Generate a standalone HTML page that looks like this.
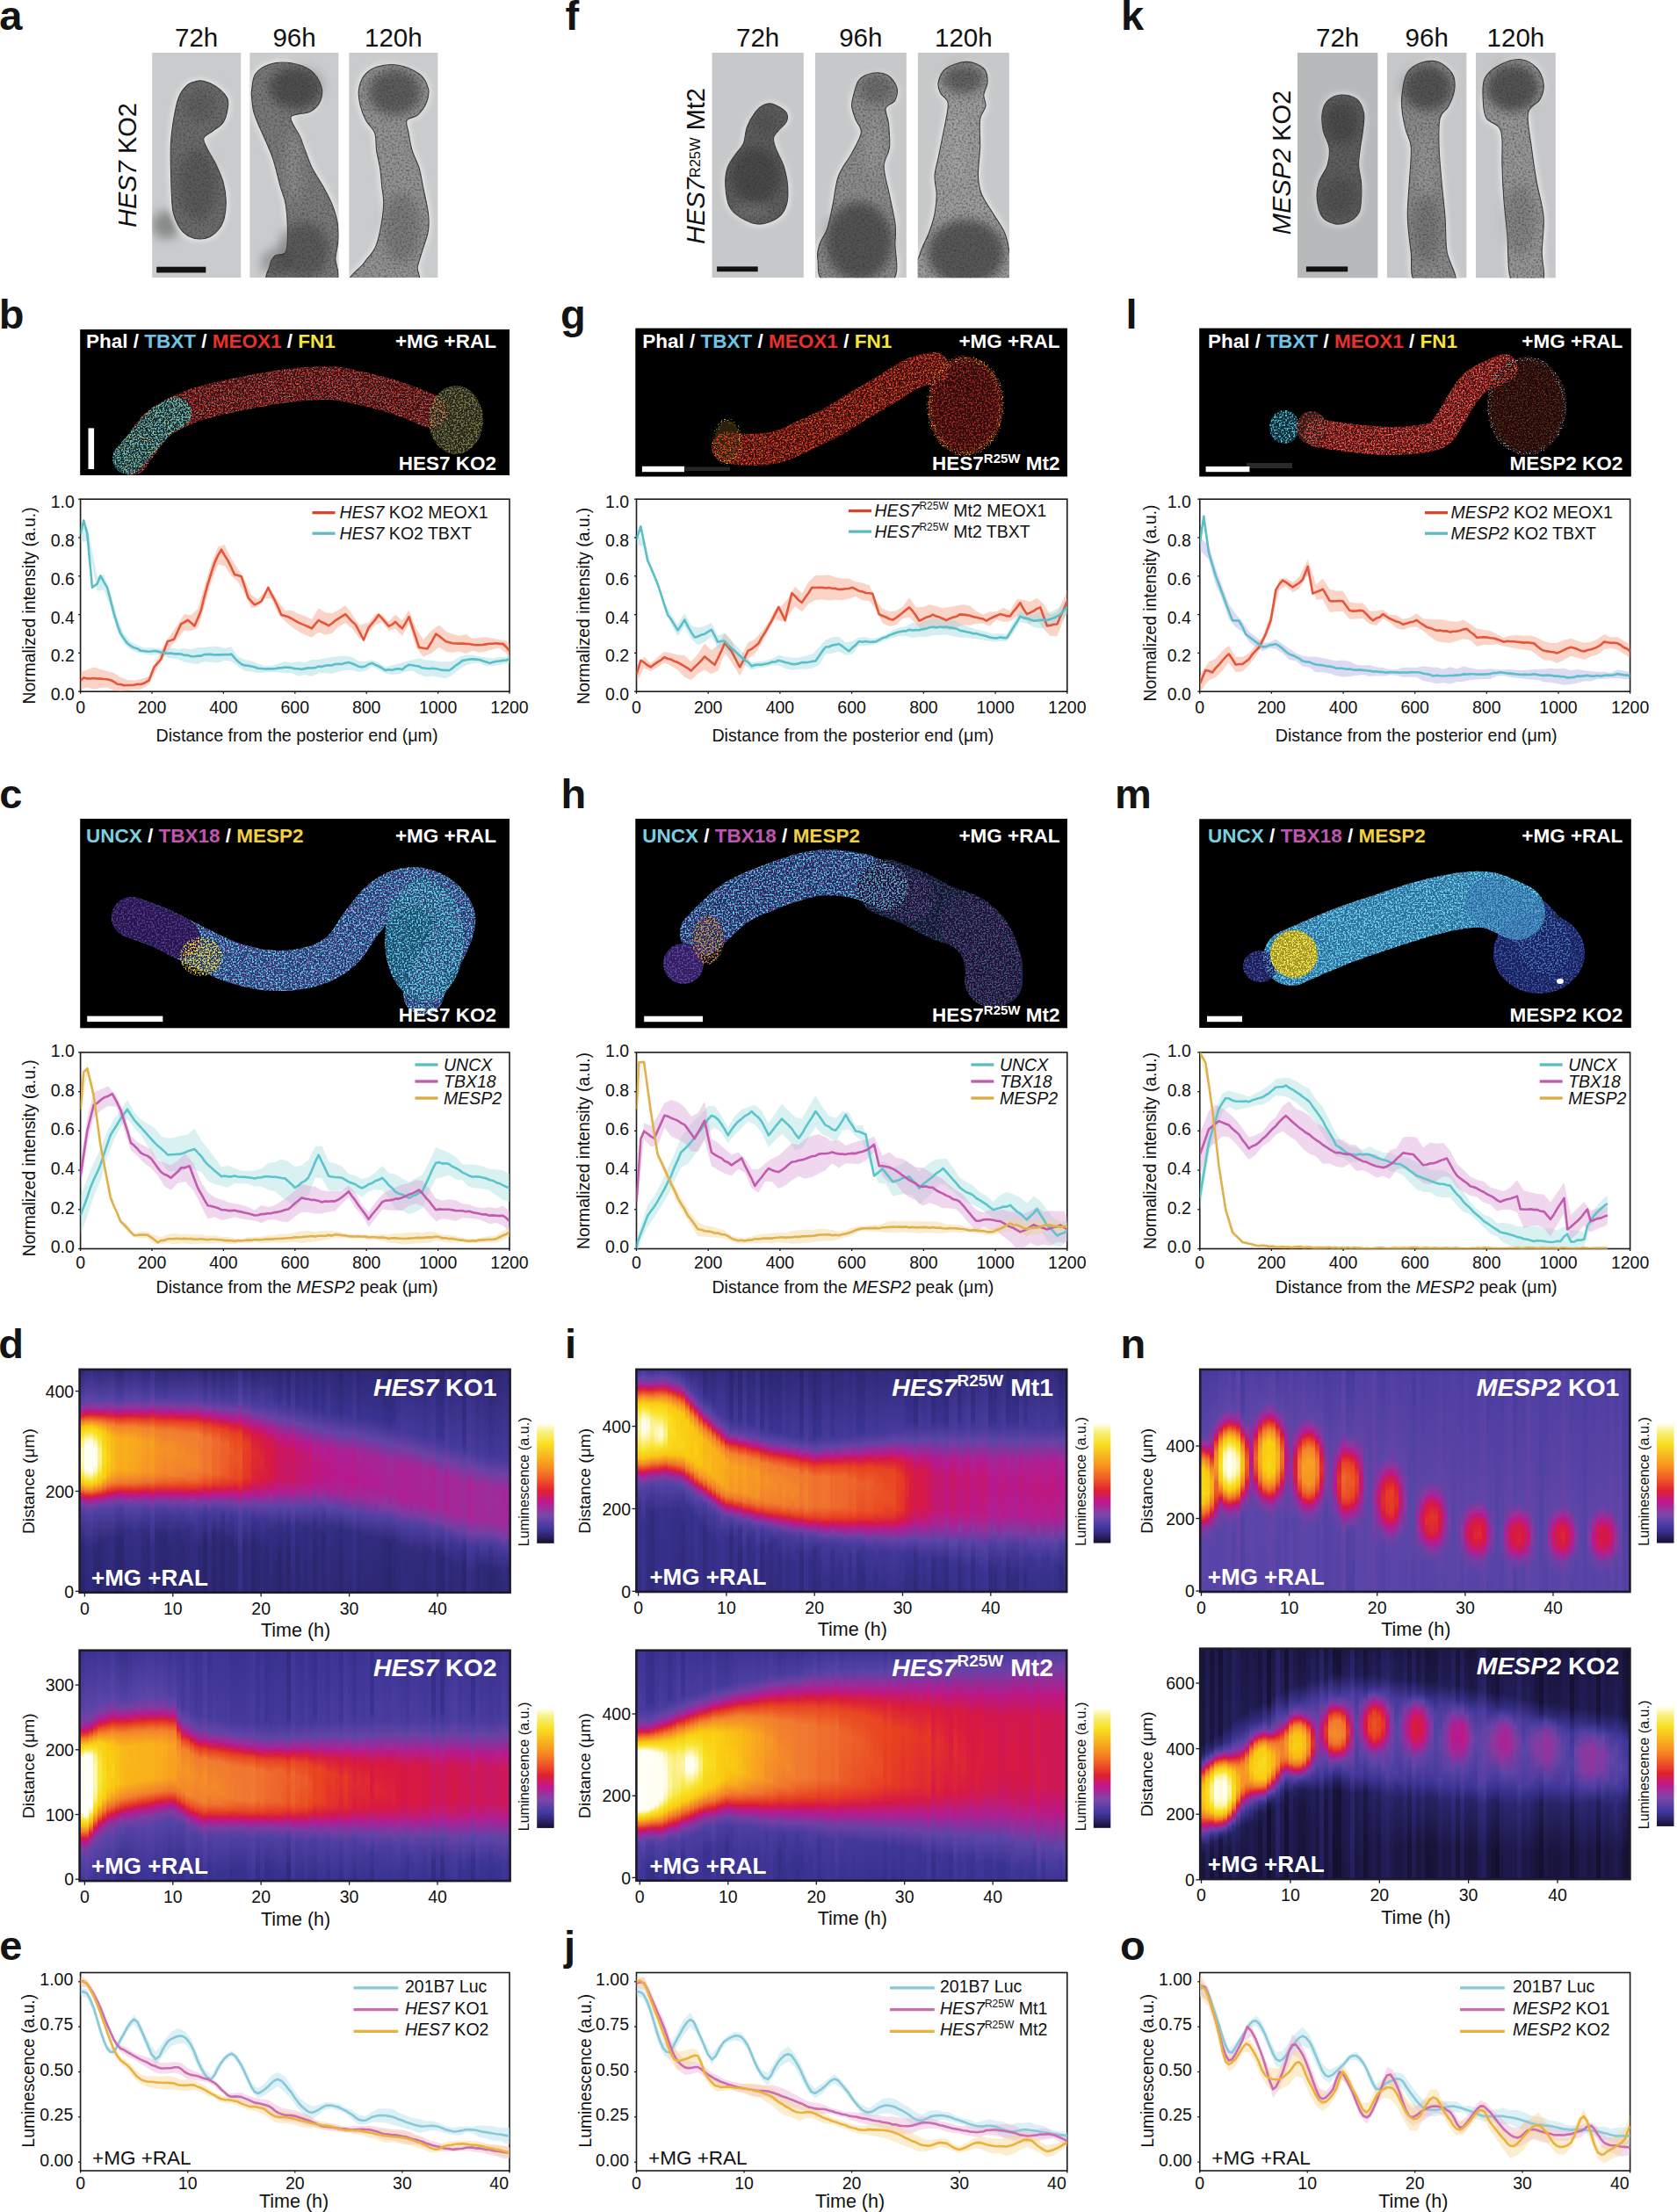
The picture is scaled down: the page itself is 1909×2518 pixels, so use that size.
<!DOCTYPE html><html><head><meta charset="utf-8"><style>html,body{margin:0;padding:0;background:#fff}body{width:1909px;height:2518px;position:relative;overflow:hidden}.hm{position:absolute;overflow:hidden}.hm i{position:absolute;top:0;bottom:0;display:block}svg{position:absolute;left:0;top:0}text{font-family:'Liberation Sans', Arial, sans-serif}</style></head><body><div class="hm" style="left:91.2px;top:1559.5px;width:488.8px;height:252.7px"><i style="left:0px;width:5.6px;background:linear-gradient(#2e2975 0%,#5342a4 13.5%,#7d3ca2 16.6%,#ba188c 19%,#db203a 20.6%,#e73c23 21.4%,#f07830 23%,#faca11 26.1%,#f8e429 29.3%,#fbef78 31.7%,#fdf7b5 35.6%,#fdf9c4 40.4%,#fcf49e 44.3%,#faec62 46.7%,#f8e327 48.3%,#f9bf15 51.4%,#f17e2e 53.8%,#e84321 55.4%,#dd2536 56.2%,#bb1888 57.8%,#7a3da3 60.2%,#4f40a2 63.3%,#2d2874 78.4%,#29256b 99.7%)"></i><i style="left:5px;width:5.6px;background:linear-gradient(#332d81 0%,#5b46a8 13.5%,#9d2c9a 17.4%,#b21c92 18.2%,#d51847 19.8%,#e2302d 20.6%,#ea4d24 21.4%,#f3852b 23%,#fac712 25.3%,#f8e125 27.7%,#fcf5a8 30.9%,#fffff5 34%,#fffff5 44.3%,#fdf6b2 46.7%,#f9e639 49.1%,#f9d81b 50.7%,#f9bb16 52.2%,#ef742f 54.6%,#e33529 56.2%,#d71841 57%,#b11d92 58.6%,#763ea4 60.9%,#5241a3 64.1%,#312b7d 79.9%,#2e2975 99.7%)"></i><i style="left:10px;width:5.6px;background:linear-gradient(#352e85 0%,#6044a7 13.5%,#91349e 16.6%,#b9188e 18.2%,#d91c3d 19.8%,#e53827 20.6%,#f48a29 23%,#facc10 25.3%,#f8e327 27.7%,#fcf49f 30.1%,#fffef0 32.4%,#fffff5 45.1%,#fffeeb 45.9%,#fbef7f 48.3%,#f8e226 49.9%,#f9bf15 52.2%,#f07830 54.6%,#e53925 56.2%,#d91c3d 57%,#b61991 58.6%,#7a3da3 60.9%,#5443a5 64.1%,#322c80 80.7%,#302a79 99.7%)"></i><i style="left:15px;width:5.6px;background:linear-gradient(#302b7b 0%,#5945a7 13.5%,#8c38a0 16.6%,#b31b92 18.2%,#d61844 19.8%,#ea4d24 21.4%,#f69724 23.7%,#facf13 26.1%,#f8e226 28.5%,#fdf6b0 32.4%,#fffff5 35.6%,#fffff5 42.7%,#fcf5a6 45.9%,#f9e63b 48.3%,#f9da1d 49.9%,#fac513 51.4%,#ee682b 54.6%,#e94923 55.4%,#e02b31 56.2%,#d21850 57%,#c0187d 57.8%,#ab2295 58.6%,#7040a4 60.9%,#4e3fa1 64.1%,#2d2875 81.5%,#2b2770 99.7%)"></i><i style="left:20px;width:5.6px;background:linear-gradient(#2e2976 0%,#5644a6 13.5%,#8939a1 16.6%,#b01e93 18.2%,#d3184c 19.8%,#e94622 21.4%,#f17c2f 23%,#fad013 26.9%,#f8e42b 30.9%,#fbee75 34.8%,#fcf292 39.6%,#fbee72 43.5%,#f8e327 46.7%,#fac214 50.7%,#ef742f 53.8%,#e63a24 55.4%,#db1e3b 56.2%,#b9188d 57.8%,#7a3da3 60.2%,#4f40a2 63.3%,#2d2873 78.4%,#29256a 99.7%)"></i><i style="left:25px;width:5.6px;background:linear-gradient(#312b7c 0%,#5443a5 12.7%,#7b3da3 15.8%,#b11d92 18.2%,#d2184f 19.8%,#e84020 21.4%,#f3852b 23.7%,#facb11 27.7%,#f8e023 38.8%,#face11 48.3%,#f0752f 53%,#e84221 54.6%,#d21850 56.2%,#af1f93 57.8%,#763ea4 60.2%,#5040a2 63.3%,#302b7b 77.6%,#2d2873 99.7%)"></i><i style="left:30px;width:5.6px;background:linear-gradient(#312c7e 0%,#5543a5 12.7%,#7c3da3 15.8%,#af1e93 18.2%,#dc2139 20.6%,#e53826 21.4%,#f3872a 24.5%,#fac214 29.3%,#fad013 40.4%,#f9c114 46.7%,#f2822c 51.4%,#e94421 53.8%,#d61844 55.4%,#b81890 57%,#7e3ca2 59.4%,#5342a4 62.5%,#322c7f 76%,#2e2976 99.7%)"></i><i style="left:35px;width:5.6px;background:linear-gradient(#332d81 0%,#5644a6 12.7%,#8e379f 16.6%,#b01e93 18.2%,#db1f3a 20.6%,#e94a23 22.2%,#f2802d 24.5%,#f9b917 30.1%,#f9bd16 44.3%,#f58f27 49.9%,#ed642a 52.2%,#e53925 53.8%,#d11852 55.4%,#b21c92 57%,#7c3ca3 59.4%,#5342a4 62.5%,#332d81 76%,#302a7a 99.7%)"></i><i style="left:40px;width:5.6px;background:linear-gradient(#2c2772 0%,#4e3fa1 12.7%,#723fa4 15.8%,#b9188c 19%,#d61846 20.6%,#e83f21 22.2%,#f2832b 25.3%,#f9b01a 30.9%,#f9ae1b 45.1%,#f17b2f 50.7%,#e84321 53%,#d81840 54.6%,#bb1889 56.2%,#7040a4 59.4%,#4b3d9f 62.5%,#2c2872 76%,#29256b 99.7%)"></i><i style="left:45px;width:5.6px;background:linear-gradient(#2c2771 0%,#4d3ea0 12.7%,#723fa4 15.8%,#b9188e 19%,#d51848 20.6%,#e73d22 22.2%,#f2812c 25.3%,#f9ac1c 30.9%,#f8aa1c 45.1%,#f07830 50.7%,#e84120 53%,#d71843 54.6%,#ba188b 56.2%,#6f40a5 59.4%,#4a3c9e 62.5%,#2c2772 76%,#29256b 99.7%)"></i><i style="left:50px;width:5.6px;background:linear-gradient(#312b7d 0%,#5443a5 12.7%,#8c38a0 16.6%,#ae1f94 18.2%,#cc185e 19.8%,#d91b3e 20.6%,#e84321 22.2%,#f2842b 25.3%,#f9af1b 30.9%,#f9ac1c 45.1%,#f17b2f 50.7%,#e94622 53%,#da1d3c 54.6%,#bf187f 56.2%,#9b2d9b 57.8%,#5644a6 61.7%,#342e85 72.8%,#2f2978 99.7%)"></i><i style="left:55px;width:5.6px;background:linear-gradient(#312b7c 0%,#5342a4 12.7%,#8b38a0 16.6%,#ad2094 18.2%,#cb1861 19.8%,#d8193f 20.6%,#e84120 22.2%,#f2812c 25.3%,#f8aa1c 30.9%,#f8a81d 45.1%,#f07830 50.7%,#e84321 53%,#d91b3e 54.6%,#be1882 56.2%,#8839a1 58.6%,#5543a5 61.7%,#342d83 72.8%,#2e2976 99.7%)"></i><i style="left:60px;width:5.6px;background:linear-gradient(#332d82 0%,#5744a6 12.7%,#90359f 16.6%,#b11d92 18.2%,#da1c3c 20.6%,#e84321 22.2%,#f2822c 25.3%,#f8a91d 30.9%,#f8a71d 45.1%,#f07930 50.7%,#e94521 53%,#da1d3c 54.6%,#b01e93 57%,#7c3ca2 59.4%,#5342a4 62.5%,#342e84 75.2%,#312b7d 99.7%)"></i><i style="left:65px;width:5.6px;background:linear-gradient(#322c7f 0%,#5543a5 12.7%,#8d37a0 16.6%,#af1e93 18.2%,#cc185f 19.8%,#d9193f 20.6%,#e84020 22.2%,#f3872a 26.1%,#f8a71e 32.4%,#f89e21 45.9%,#ef742f 50.7%,#e84120 53%,#d91a3f 54.6%,#be1881 56.2%,#9b2d9b 57.8%,#5744a6 61.7%,#362f88 72%,#302a79 97.3%,#302a79 99.7%)"></i><i style="left:70px;width:5.6px;background:linear-gradient(#2f2977 0%,#4c3ea0 11.9%,#783da3 15.8%,#bb1887 19%,#d51846 20.6%,#e63a25 22.2%,#f2812c 26.1%,#f8a020 32.4%,#f69823 45.9%,#ee6c2d 50.7%,#e63a24 53%,#d51847 54.6%,#bb188a 56.2%,#743fa4 59.4%,#4d3ea0 62.5%,#302b7b 74.4%,#2d2872 99.7%)"></i><i style="left:75px;width:5.6px;background:linear-gradient(#2e2976 0%,#5040a2 12.7%,#783ea3 15.8%,#bb1889 19%,#d51849 20.6%,#e53827 22.2%,#f17e2d 26.1%,#f79c22 32.4%,#f69425 45.9%,#f0762f 49.9%,#e53827 53%,#d4184a 54.6%,#ba188c 56.2%,#733fa4 59.4%,#4c3ea0 62.5%,#2f2a78 75.2%,#2c2771 99.7%)"></i><i style="left:80px;width:5.6px;background:linear-gradient(#362f88 0%,#5643a5 11.9%,#873aa1 15.8%,#b61991 18.2%,#da1e3b 20.6%,#e84220 22.2%,#f2842b 26.1%,#f8a020 32.4%,#f79923 45.9%,#ef702e 50.7%,#e84120 53%,#da1c3c 54.6%,#b31b92 57%,#733fa4 60.2%,#4e3fa1 64.1%,#352e86 79.1%,#342e84 99.7%)"></i><i style="left:85px;width:5.6px;background:linear-gradient(#2e2976 0%,#4b3d9f 11.9%,#783da3 15.8%,#bb1889 19%,#dd2337 21.4%,#e94522 23%,#f2802d 26.9%,#f69624 34%,#f48b29 46.7%,#ed632a 50.7%,#e43529 53%,#d3184c 54.6%,#ba188c 56.2%,#743fa4 59.4%,#4c3ea0 62.5%,#2f2a79 74.4%,#2c2771 99.7%)"></i><i style="left:90px;width:5.6px;background:linear-gradient(#2c2872 0%,#4e3fa1 12.7%,#763ea4 15.8%,#b9188e 19%,#db203a 21.4%,#e84220 23%,#f17d2e 26.9%,#f59325 35.6%,#f3882a 46.7%,#ed6029 50.7%,#e84321 52.2%,#d2184f 54.6%,#b9188e 56.2%,#723fa4 59.4%,#4b3d9f 62.5%,#2d2874 75.2%,#2b266e 99.7%)"></i><i style="left:95px;width:5.6px;background:linear-gradient(#2b2770 0%,#483b9d 11.9%,#6643a6 15%,#a52697 18.2%,#b71990 19%,#da1d3c 21.4%,#e73e21 23%,#f07a2f 26.9%,#f59026 34.8%,#f3852b 46.7%,#ec5e28 50.7%,#e84120 52.2%,#d11852 54.6%,#b81890 56.2%,#7140a4 59.4%,#4a3c9e 62.5%,#2c2872 75.2%,#2a256c 99.7%)"></i><i style="left:100px;width:5.6px;background:linear-gradient(#2f2978 0%,#4c3ea0 11.9%,#783ea3 15.8%,#ba188b 19%,#dc2139 21.4%,#e84120 23%,#f17c2f 26.9%,#f59126 34.8%,#f3872a 46.7%,#ed6129 50.7%,#e43529 53%,#d4184a 54.6%,#bb1888 56.2%,#6942a6 60.2%,#3f3698 65.7%,#2e2976 79.1%,#2d2874 99.7%)"></i><i style="left:105px;width:5.6px;background:linear-gradient(#2f2a78 0%,#5040a2 12.7%,#863aa1 16.6%,#b8188f 19%,#da1e3b 21.4%,#e83f21 23%,#f07a2f 26.9%,#f59027 35.6%,#f2812c 47.5%,#eb5325 51.4%,#e33429 53%,#d4184a 54.6%,#bb1887 56.2%,#783ea3 59.4%,#4f3fa1 62.5%,#312b7d 73.6%,#2d2874 99.7%)"></i><i style="left:110px;width:5.6px;background:linear-gradient(#2e2875 0%,#4e3fa1 12.7%,#733fa4 15.8%,#b41b91 19%,#d9193f 21.4%,#e94822 23.7%,#f17c2f 27.7%,#f48c28 38%,#f17e2d 47.5%,#ea5024 51.4%,#e2322b 53%,#d2184e 54.6%,#ba188b 56.2%,#763ea4 59.4%,#4d3ea0 62.5%,#302a7a 73.6%,#2c2771 99.7%)"></i><i style="left:115px;width:5.6px;background:linear-gradient(#2e2976 0%,#4f3fa1 12.7%,#733fa4 15.8%,#b31c92 19%,#d81841 21.4%,#e94722 23.7%,#f07a2f 27.7%,#f48b28 37.2%,#f17e2e 47.5%,#e84120 52.2%,#d3184d 54.6%,#bb1889 56.2%,#6942a6 60.2%,#3f3698 65.7%,#2e2975 79.1%,#2d2873 99.7%)"></i><i style="left:120px;width:5.6px;background:linear-gradient(#2f2a78 0%,#4f40a2 12.7%,#813ba2 16.6%,#b21d92 19%,#d71843 21.4%,#e94521 23.7%,#f17e2e 28.5%,#f38929 42.7%,#ef702e 49.1%,#e84220 52.2%,#d4184b 54.6%,#bc1887 56.2%,#7a3da3 59.4%,#5040a2 62.5%,#332c80 72.8%,#2e2875 99.7%)"></i><i style="left:125px;width:5.6px;background:linear-gradient(#302b7b 0%,#5040a2 12.7%,#823ba2 16.6%,#b11d92 19%,#d61845 21.4%,#e84321 23.7%,#f17d2e 28.5%,#f38829 42.7%,#ef702e 49.1%,#e84221 52.2%,#d41849 54.6%,#bd1884 56.2%,#8c38a0 58.6%,#5845a7 61.7%,#362f87 71.2%,#2f2978 92.6%,#2f2977 99.7%)"></i><i style="left:130px;width:5.6px;background:linear-gradient(#312b7e 0%,#5141a3 12.7%,#823ba2 16.6%,#b11d93 19%,#d51847 21.4%,#e84221 23.7%,#f17c2f 28.5%,#f3882a 42.7%,#ef702e 49.1%,#e84321 52.2%,#d51847 54.6%,#af1e93 57%,#7040a4 60.2%,#4a3c9e 64.1%,#312b7d 79.1%,#302a7a 99.7%)"></i><i style="left:135px;width:5.6px;background:linear-gradient(#2f2978 0%,#4e3fa1 12.7%,#7b3da3 16.6%,#ba188c 19.8%,#da1d3c 22.2%,#e94822 24.5%,#f07a2f 29.3%,#f17e2e 45.9%,#eb5726 50.7%,#e73e22 52.2%,#d2184e 54.6%,#bb1888 56.2%,#6c41a5 60.2%,#43389a 64.9%,#2e2976 79.9%,#2d2874 99.7%)"></i><i style="left:140px;width:5.6px;background:linear-gradient(#29256a 0%,#4a3d9f 13.5%,#6d41a5 16.6%,#bc1887 20.6%,#da1e3b 23%,#e94522 25.3%,#ef742f 30.9%,#ef732f 45.9%,#ea4b23 50.7%,#e3332a 52.2%,#d71843 53.8%,#b31b92 56.2%,#7040a4 59.4%,#44399b 63.3%,#2a266d 76%,#282467 99.7%)"></i><i style="left:145px;width:5.6px;background:linear-gradient(#302a7a 0%,#5241a3 13.5%,#843aa1 17.4%,#b21c92 19.8%,#d41849 22.2%,#e73d22 24.5%,#f0752f 30.1%,#f07830 45.9%,#eb5225 50.7%,#e02d2f 53%,#d21850 54.6%,#bc1887 56.2%,#6f40a5 60.2%,#453a9c 64.9%,#2f2a79 80.7%,#2f2978 99.7%)"></i><i style="left:150px;width:5.6px;background:linear-gradient(#2a266c 0%,#493c9e 13.5%,#6842a6 16.6%,#b41b91 20.6%,#dc2139 23.7%,#e94521 26.1%,#ee6c2d 31.7%,#ee672b 46.7%,#e63b24 51.4%,#d51847 53.8%,#b31b92 56.2%,#733fa4 59.4%,#4b3d9f 62.5%,#2c2872 74.4%,#29256a 99.7%)"></i><i style="left:155px;width:5.6px;background:linear-gradient(#2d2874 0%,#4d3ea0 13.5%,#783ea3 17.4%,#b41b91 20.6%,#db2039 23.7%,#e94421 26.1%,#ee6b2c 31.7%,#ee672b 46.7%,#e73d22 51.4%,#d71842 53.8%,#b81890 56.2%,#793da3 59.4%,#4b3d9f 63.3%,#2f2978 76%,#2c2772 99.7%)"></i><i style="left:160px;width:5.6px;background:linear-gradient(#2a256c 0%,#473b9d 13.5%,#6e40a5 17.4%,#a92395 20.6%,#b9188e 21.4%,#d61845 23.7%,#e84221 26.9%,#ed632a 33.2%,#ec5d28 46.7%,#e43529 51.4%,#d2184e 53.8%,#b11d92 56.2%,#6543a6 60.2%,#3b3394 65.7%,#2a266d 77.6%,#29256a 99.7%)"></i><i style="left:165px;width:5.6px;background:linear-gradient(#2e2875 0%,#4b3d9f 13.5%,#723fa4 17.4%,#b9188e 21.4%,#d61846 23.7%,#e84120 26.9%,#ed632a 33.2%,#ec5927 47.5%,#e43727 51.4%,#d51848 53.8%,#b71990 56.2%,#7a3da3 59.4%,#4c3d9f 63.3%,#2f2a79 76%,#2d2873 99.7%)"></i><i style="left:170px;width:5.6px;background:linear-gradient(#2b2770 0%,#473b9d 13.5%,#6942a6 17.4%,#bb1888 22.2%,#db2139 25.3%,#e84321 28.5%,#ec5927 35.6%,#ea4f24 47.5%,#e53826 50.7%,#d11852 53.8%,#b31c92 56.2%,#6942a6 60.2%,#3e3597 65.7%,#2c2771 78.4%,#2b266e 99.7%)"></i><i style="left:175px;width:5.6px;background:linear-gradient(#2e2976 0%,#4a3c9e 13.5%,#753ea4 18.2%,#b9188e 22.2%,#d91c3d 25.3%,#e94421 29.3%,#eb5526 39.6%,#e94421 49.1%,#d91a3e 53%,#b61a91 56.2%,#6f40a5 60.2%,#453a9c 64.9%,#2e2977 79.9%,#2d2874 99.7%)"></i><i style="left:180px;width:5.6px;background:linear-gradient(#363089 0%,#5744a6 14.2%,#982f9c 19.8%,#bd1884 22.2%,#db203a 25.3%,#e94722 29.3%,#eb5827 38.8%,#e94923 49.1%,#e02d2f 52.2%,#d01854 54.6%,#b41b91 57%,#733fa4 60.9%,#4d3ea0 65.7%,#362f89 83.9%,#362f88 99.7%)"></i><i style="left:185px;width:5.6px;background:linear-gradient(#2d2874 0%,#4a3d9f 14.2%,#763ea3 19%,#b61991 23%,#da1c3d 26.9%,#e84020 33.2%,#e53926 48.3%,#d91b3e 52.2%,#b21d92 56.2%,#6f40a5 60.2%,#493c9e 64.1%,#2e2976 78.4%,#2d2873 99.7%)"></i><i style="left:190px;width:5.6px;background:linear-gradient(#2f2a79 0%,#4c3ea0 14.2%,#763ea4 19%,#bc1885 23.7%,#d81841 26.9%,#e63b24 33.2%,#e43529 48.3%,#d9193f 52.2%,#b41b92 56.2%,#743fa4 60.2%,#493c9e 64.9%,#302b7b 79.9%,#2f2a78 99.7%)"></i><i style="left:195px;width:5.6px;background:linear-gradient(#29256b 0%,#473a9c 15%,#7140a4 19.8%,#b81890 24.5%,#d91a3e 29.3%,#e02d2f 38%,#dc2238 49.1%,#d01855 52.2%,#b41b91 55.4%,#6942a6 60.2%,#3b3495 66.5%,#2b266f 77.6%,#29256b 99.7%)"></i><i style="left:200px;width:5.6px;background:linear-gradient(#2c2771 0%,#483b9d 15%,#6e40a5 19.8%,#bc1887 25.3%,#d61844 29.3%,#df2b31 38%,#da1d3c 49.9%,#ca1862 53%,#b61991 55.4%,#6344a7 60.9%,#3a3292 68.1%,#2d2873 79.9%,#2c2771 99.7%)"></i><i style="left:205px;width:5.6px;background:linear-gradient(#2e2977 0%,#4c3ea0 15.8%,#763ea4 20.6%,#b81890 25.3%,#d71842 30.1%,#de2833 41.9%,#d81841 50.7%,#ad2094 56.2%,#6742a6 60.9%,#3f3698 67.3%,#2f2a79 80.7%,#2f2977 99.7%)"></i><i style="left:210px;width:5.6px;background:linear-gradient(#2c2772 0%,#473b9d 15.8%,#6a41a5 20.6%,#bc1886 26.9%,#d51847 31.7%,#da1e3b 45.1%,#d2184f 50.7%,#b21c92 55.4%,#6344a7 60.9%,#3a3392 68.1%,#2d2874 80.7%,#2d2872 99.7%)"></i><i style="left:215px;width:5.6px;background:linear-gradient(#2d2874 0%,#4a3d9f 16.6%,#6f40a5 21.4%,#b71990 26.9%,#d11851 31.7%,#d9193f 39.6%,#d51849 49.1%,#bf187e 53.8%,#92349e 57.8%,#5543a5 62.5%,#332d82 72.8%,#2e2975 99.7%)"></i><i style="left:220px;width:5.6px;background:linear-gradient(#2d2872 0%,#3a3292 12.7%,#5e45a7 20.6%,#ad2094 26.9%,#d11852 34%,#d11851 48.3%,#c1187a 53%,#ad2094 55.4%,#5a46a8 61.7%,#352e85 71.2%,#2d2874 87.9%,#2d2874 99.7%)"></i><i style="left:225px;width:5.6px;background:linear-gradient(#29256b 0%,#38308c 13.5%,#6443a6 22.2%,#bc1886 30.1%,#cb1860 35.6%,#c91865 49.1%,#ae1f93 54.6%,#5c45a8 60.9%,#342e84 69.6%,#2a266d 83.1%,#2a266d 99.7%)"></i><i style="left:230px;width:5.6px;background:linear-gradient(#2e2975 0%,#473b9d 17.4%,#6f40a5 23%,#bd1884 30.1%,#cd185b 35.6%,#cc185e 49.1%,#ab2195 55.4%,#5a46a8 61.7%,#342e84 72%,#2e2977 95%,#2e2977 99.7%)"></i><i style="left:235px;width:5.6px;background:linear-gradient(#2a256c 0%,#37308b 14.2%,#6144a7 23%,#b9188d 30.9%,#c81868 36.4%,#c6186c 49.1%,#ac2194 54.6%,#5b46a8 60.9%,#342e83 69.6%,#2b266e 83.9%,#2b266e 99.7%)"></i><i style="left:240px;width:5.6px;background:linear-gradient(#312b7d 0%,#473b9d 17.4%,#7140a4 23.7%,#bd1883 30.9%,#cd185b 36.4%,#cb1861 49.9%,#ae1f94 55.4%,#5f45a7 61.7%,#38318e 71.2%,#322c7f 91.8%,#322c7f 99.7%)"></i><i style="left:245px;width:5.6px;background:linear-gradient(#2b266e 0%,#37308b 15%,#5f45a7 23.7%,#b61991 31.7%,#c5186e 38%,#c31875 49.9%,#ab2295 54.6%,#5b46a8 60.9%,#342e84 69.6%,#2b2770 85.5%,#2b2770 99.7%)"></i><i style="left:250px;width:5.6px;background:linear-gradient(#2e2976 0%,#3b3394 15.8%,#6742a6 24.5%,#ba188a 32.4%,#c7186b 38%,#c31875 50.7%,#a62596 55.4%,#5845a7 61.7%,#342e85 71.2%,#2f2977 93.4%,#2f2977 99.7%)"></i><i style="left:255px;width:5.6px;background:linear-gradient(#2c2771 0%,#3a3290 16.6%,#5e45a7 24.5%,#b8188f 33.2%,#c31874 39.6%,#bf187e 50.7%,#a22898 55.4%,#5543a5 61.7%,#322c7f 71.2%,#2d2873 99.7%)"></i><i style="left:260px;width:5.6px;background:linear-gradient(#2f2977 0%,#3d3496 17.4%,#6543a6 25.3%,#b71990 33.2%,#c41872 39.6%,#c0187b 50.7%,#a52697 55.4%,#5845a7 61.7%,#352e85 71.2%,#2f2a79 99.7%)"></i><i style="left:265px;width:5.6px;background:linear-gradient(#2a266d 0%,#37308b 17.4%,#5f44a7 26.1%,#b01e93 34%,#be1881 45.1%,#b01e93 53%,#5845a7 60.9%,#322c80 69.6%,#2b276f 84.7%,#2b266f 99.7%)"></i><i style="left:270px;width:5.6px;background:linear-gradient(#2f2978 0%,#3a3392 17.4%,#6144a7 26.1%,#b21c92 34%,#c0187b 42.7%,#bb1887 51.4%,#91349e 57%,#5141a3 62.5%,#322c80 72.8%,#302a79 99.7%)"></i><i style="left:275px;width:5.6px;background:linear-gradient(#2c2770 0%,#38318c 18.2%,#5f45a7 26.9%,#ad2094 34.8%,#bb1887 45.9%,#af1e93 53%,#6c41a5 59.4%,#3d3597 65.7%,#2e2975 75.2%,#2c2872 99.7%)"></i><i style="left:280px;width:5.6px;background:linear-gradient(#302a79 0%,#44399b 21.4%,#6b41a5 27.7%,#b51a91 35.6%,#bf1880 45.1%,#b11d92 53.8%,#5a46a8 61.7%,#352e86 71.2%,#302b7b 99.7%)"></i><i style="left:285px;width:5.6px;background:linear-gradient(#2e2975 0%,#3a3392 19%,#6443a6 27.7%,#af1e93 35.6%,#bc1887 48.3%,#aa2295 54.6%,#5a46a8 61.7%,#352e86 70.4%,#2f2977 89.4%,#2f2977 99.7%)"></i><i style="left:290px;width:5.6px;background:linear-gradient(#2c2872 0%,#39318e 19%,#5e45a7 27.7%,#aa2295 35.6%,#ba188b 45.1%,#aa2395 54.6%,#5543a5 62.5%,#322c7f 72%,#2d2874 99.7%)"></i><i style="left:295px;width:5.6px;background:linear-gradient(#2a256c 0%,#37308a 19.8%,#5e45a7 28.5%,#a82496 36.4%,#b51a91 48.3%,#a12998 55.4%,#5443a5 62.5%,#312b7d 71.2%,#2b266e 88.6%,#2b266e 99.7%)"></i><i style="left:300px;width:5.6px;background:linear-gradient(#2e2976 0%,#3b3393 19.8%,#6344a7 28.5%,#ac2194 36.4%,#ba188b 47.5%,#a92395 55.4%,#5644a6 63.3%,#332d82 72.8%,#2f2a78 99.7%)"></i><i style="left:305px;width:5.6px;background:linear-gradient(#2d2874 0%,#3b3393 20.6%,#6643a6 29.3%,#ac2194 37.2%,#b81890 50.7%,#9e2b99 57%,#5744a6 63.3%,#332d81 72.8%,#2e2976 99.7%)"></i><i style="left:310px;width:5.6px;background:linear-gradient(#312b7c 0%,#45399b 23%,#6942a6 29.3%,#ae1f93 37.2%,#bb1889 49.9%,#a52697 57%,#5845a7 64.1%,#362f88 73.6%,#312c7e 99.7%)"></i><i style="left:315px;width:5.6px;background:linear-gradient(#2b266f 0%,#38308c 20.6%,#5b46a8 29.3%,#a32798 37.2%,#b21c92 49.1%,#9e2b9a 57%,#5342a4 64.1%,#312b7c 73.6%,#2c2771 99.7%)"></i><i style="left:320px;width:5.6px;background:linear-gradient(#2e2875 0%,#3b3394 21.4%,#6543a6 30.1%,#a82396 38%,#b51a91 50.7%,#9d2b9a 57.8%,#5342a4 64.9%,#322c7e 75.2%,#2e2977 99.7%)"></i><i style="left:325px;width:5.6px;background:linear-gradient(#2d2874 0%,#3a3392 21.4%,#6144a7 30.1%,#a52697 38%,#b41b92 49.9%,#9f2a99 57.8%,#5643a5 64.9%,#332d81 74.4%,#2e2976 99.7%)"></i><i style="left:330px;width:5.6px;background:linear-gradient(#2d2873 0%,#3b3393 22.2%,#6343a7 30.9%,#a62597 38.8%,#b21d92 52.2%,#94329d 59.4%,#5241a3 65.7%,#322c7e 75.2%,#2e2875 99.7%)"></i><i style="left:335px;width:5.6px;background:linear-gradient(#2d2873 0%,#3a3291 22.2%,#5e45a7 30.9%,#a32798 38.8%,#b11d92 51.4%,#9d2c9a 58.6%,#5442a4 65.7%,#322c7f 75.2%,#2d2874 99.7%)"></i><i style="left:340px;width:5.6px;background:linear-gradient(#2d2872 0%,#3a3392 23%,#6244a7 31.7%,#a82496 40.4%,#ad2094 55.4%,#833aa1 61.7%,#5140a2 66.5%,#302b7b 76.8%,#2d2874 99.7%)"></i><i style="left:345px;width:5.6px;background:linear-gradient(#2a266d 0%,#37308b 23%,#6144a7 32.4%,#a22898 40.4%,#ab2195 54.6%,#8b38a0 60.9%,#5040a2 66.5%,#2e2977 76.8%,#2b266f 99.7%)"></i><i style="left:350px;width:5.6px;background:linear-gradient(#29256b 0%,#37308a 23.7%,#6244a7 33.2%,#a12998 41.2%,#a62596 56.2%,#7c3ca3 62.5%,#4c3ea0 67.3%,#2c2772 78.4%,#2a266d 99.7%)"></i><i style="left:355px;width:5.6px;background:linear-gradient(#2b266f 0%,#38318d 23.7%,#6144a7 33.2%,#a12898 41.2%,#ab2295 55.4%,#8b38a0 61.7%,#5140a2 67.3%,#302a7a 76.8%,#2c2770 99.7%)"></i><i style="left:360px;width:5.6px;background:linear-gradient(#2e2975 0%,#423799 26.9%,#6942a6 34%,#a72496 41.9%,#ad2094 57%,#833ba1 63.3%,#5141a3 68.1%,#312b7d 78.4%,#2e2977 99.7%)"></i><i style="left:365px;width:5.6px;background:linear-gradient(#302b7b 0%,#463a9c 27.7%,#7040a4 34.8%,#ac2194 42.7%,#ac2094 58.6%,#793da3 64.9%,#4d3ea0 69.6%,#322c80 80.7%,#312b7d 99.7%)"></i><i style="left:370px;width:5.6px;background:linear-gradient(#2f2977 0%,#453a9c 28.5%,#7140a4 35.6%,#aa2295 43.5%,#ab2295 58.6%,#7b3da3 64.9%,#4d3ea0 69.6%,#312b7d 80.7%,#302a79 99.7%)"></i><i style="left:375px;width:5.6px;background:linear-gradient(#2f2a78 0%,#44399b 28.5%,#6c41a5 35.6%,#a92396 43.5%,#a92395 59.4%,#763ea4 65.7%,#4f40a2 69.6%,#312b7d 81.5%,#302a7a 99.7%)"></i><i style="left:380px;width:5.6px;background:linear-gradient(#2e2976 0%,#44399b 29.3%,#6742a6 35.6%,#a52697 43.5%,#ad2094 57.8%,#8a38a0 64.1%,#5040a2 69.6%,#312b7c 80.7%,#2f2a78 99.7%)"></i><i style="left:385px;width:5.6px;background:linear-gradient(#2e2976 0%,#43389a 29.3%,#6942a6 36.4%,#a62597 44.3%,#a72496 60.2%,#733fa4 66.5%,#493c9e 71.2%,#302a7a 83.1%,#2f2978 99.7%)"></i><i style="left:390px;width:5.6px;background:linear-gradient(#2d2872 0%,#3f3698 29.3%,#6842a6 37.2%,#a42797 45.1%,#a62597 60.2%,#773ea3 66.5%,#4f40a2 70.4%,#302a7a 80.7%,#2d2874 99.7%)"></i><i style="left:395px;width:5.6px;background:linear-gradient(#2e2976 0%,#42389a 30.1%,#6d41a5 38%,#a72596 45.9%,#a72496 60.9%,#773ea3 67.3%,#5040a2 71.2%,#312b7d 81.5%,#2f2a78 99.7%)"></i><i style="left:400px;width:5.6px;background:linear-gradient(#312b7d 0%,#473a9c 30.9%,#6c41a5 38%,#a82396 45.9%,#ad2094 60.9%,#823ba2 67.3%,#5241a3 72%,#332d82 83.1%,#322c7e 99.7%)"></i><i style="left:405px;width:5.6px;background:linear-gradient(#2b266f 0%,#3c3495 30.1%,#6343a7 38.8%,#9f2a99 46.7%,#a32798 61.7%,#753ea4 68.1%,#4e3fa1 72%,#2e2977 82.3%,#2c2771 99.7%)"></i><i style="left:410px;width:5.6px;background:linear-gradient(#2a266d 0%,#3a3291 30.1%,#6343a7 39.6%,#9e2b99 47.5%,#a02999 62.5%,#7040a4 68.9%,#42389a 74.4%,#2c2772 84.7%,#2b266f 99.7%)"></i><i style="left:415px;width:5.6px;background:linear-gradient(#312c7e 0%,#493c9e 33.2%,#723fa4 40.4%,#aa2295 48.3%,#aa2295 63.3%,#7b3da3 69.6%,#4e3fa1 74.4%,#332d82 85.5%,#322c80 99.7%)"></i><i style="left:420px;width:5.6px;background:linear-gradient(#2d2873 0%,#44399b 34%,#6b41a5 41.2%,#a32898 49.1%,#a22898 64.1%,#6f40a5 70.4%,#3f3698 76.8%,#2e2976 87.1%,#2d2875 99.7%)"></i><i style="left:425px;width:5.6px;background:linear-gradient(#2f2977 0%,#45399b 34%,#6942a6 41.2%,#a32798 49.1%,#a42797 64.9%,#7040a5 71.2%,#413799 77.6%,#302a7a 88.6%,#302a79 99.7%)"></i><i style="left:430px;width:5.6px;background:linear-gradient(#2e2977 0%,#473b9d 35.6%,#723fa4 42.7%,#a32798 49.9%,#a22898 65.7%,#6343a7 72.8%,#38318d 80.7%,#2f2a79 92.6%,#2f2a79 99.7%)"></i><i style="left:435px;width:5.6px;background:linear-gradient(#29256a 0%,#393290 33.2%,#6244a7 42.7%,#9b2d9b 50.7%,#9b2d9b 65.7%,#6942a6 72%,#38318d 79.1%,#2b266e 87.9%,#2a256c 99.7%)"></i><i style="left:440px;width:5.6px;background:linear-gradient(#332d81 0%,#4b3d9f 36.4%,#6e40a5 42.7%,#a82496 50.7%,#a92395 66.5%,#783ea3 72.8%,#4a3c9e 78.4%,#342e84 91%,#342d83 99.7%)"></i><i style="left:445px;width:5.6px;background:linear-gradient(#312b7d 0%,#493c9e 37.2%,#743fa4 44.3%,#a52697 51.4%,#a52697 67.3%,#7140a4 73.6%,#43389a 79.9%,#322c7f 92.6%,#322c7e 99.7%)"></i><i style="left:450px;width:5.6px;background:linear-gradient(#2c2872 0%,#45399b 38%,#6842a6 44.3%,#a02a99 52.2%,#9f2a99 67.3%,#6d41a5 73.6%,#3e3597 79.9%,#2e2976 89.4%,#2d2874 99.7%)"></i><i style="left:455px;width:5.6px;background:linear-gradient(#2e2976 0%,#463a9c 38%,#6842a6 44.3%,#9e2b99 51.4%,#a52697 66.5%,#7d3ca2 72.8%,#4e3fa1 77.6%,#312b7d 87.9%,#2f2a78 99.7%)"></i><i style="left:460px;width:5.6px;background:linear-gradient(#2c2772 0%,#45399b 38.8%,#6942a6 45.1%,#9d2c9a 52.2%,#a12998 67.3%,#743fa4 73.6%,#4e3fa1 77.6%,#2f2a78 88.6%,#2d2874 99.7%)"></i><i style="left:465px;width:5.6px;background:linear-gradient(#2a256c 0%,#3e3597 38%,#6842a6 45.9%,#9a2e9b 53%,#9b2d9b 68.1%,#6a41a5 74.4%,#39328f 81.5%,#2b266f 91%,#2a266d 99.7%)"></i><i style="left:470px;width:5.6px;background:linear-gradient(#2c2770 0%,#44399b 39.6%,#6842a6 45.9%,#9c2c9a 53%,#a02a99 68.1%,#723fa4 74.4%,#483b9d 79.1%,#2d2874 91%,#2c2872 99.7%)"></i><i style="left:475px;width:5.6px;background:linear-gradient(#2d2874 0%,#45399b 39.6%,#6742a6 45.9%,#9d2c9a 53%,#a32898 68.1%,#783ea3 74.4%,#4b3d9f 79.1%,#2f2a79 90.2%,#2e2975 99.7%)"></i><i style="left:480px;width:5.6px;background:linear-gradient(#2f2a78 0%,#463a9c 39.6%,#6f40a5 46.7%,#a22898 53.8%,#a22898 69.6%,#6d41a5 76%,#3d3597 83.1%,#312b7c 92.6%,#302a7a 99.7%)"></i><i style="left:485px;width:4.4px;background:linear-gradient(#2e2976 0%,#463a9c 40.4%,#6a42a5 46.7%,#9f2a99 53.8%,#a42797 68.9%,#783ea3 75.2%,#4c3d9f 79.9%,#302b7c 90.2%,#2f2978 99.7%)"></i></div><div class="hm" style="left:91.2px;top:1879.3px;width:488.8px;height:261.2px"><i style="left:0px;width:5.6px;background:linear-gradient(#37308b 0%,#5543a5 25.3%,#6f40a5 29.9%,#a02999 32.9%,#b21c92 33.7%,#d01853 35.2%,#e73e21 36.8%,#f0752f 38.3%,#facb11 41.3%,#f8e530 43.6%,#fef9ca 45.9%,#fffef1 46.7%,#fffff5 70.4%,#fdf6af 72%,#f9e847 73.5%,#f8e024 74.3%,#f9bd16 76.6%,#f17d2e 78.9%,#e94722 80.4%,#d61846 81.9%,#b81890 83.5%,#793da3 86.5%,#5543a5 91.1%,#44399b 99.5%)"></i><i style="left:5px;width:5.6px;background:linear-gradient(#3c3495 0%,#5e45a7 26%,#7f3ca2 30.6%,#b81890 33.7%,#d41849 35.2%,#e94521 36.8%,#f17c2e 38.3%,#fad114 41.3%,#f8e428 42.9%,#fefcdb 45.2%,#fffff5 45.9%,#fffff5 71.2%,#fefce1 72%,#f8e52c 74.3%,#fac214 76.6%,#f17e2d 78.9%,#e94822 80.4%,#d51846 81.9%,#b8188f 83.5%,#7d3ca2 86.5%,#5845a7 91.9%,#493c9e 99.5%)"></i><i style="left:10px;width:5.6px;background:linear-gradient(#3a3392 0%,#5b46a8 25.3%,#7d3ca2 29.9%,#b81890 32.9%,#d51849 34.5%,#e94521 36%,#f07a2f 37.5%,#face11 40.6%,#f8df22 42.1%,#f9e639 42.9%,#fdf9c8 45.2%,#fffeec 45.9%,#fffff5 52.8%,#fffff5 68.1%,#fdf7b6 69.7%,#f8e327 72%,#fac513 74.3%,#ef6e2d 77.3%,#e53827 78.9%,#db1f3b 79.6%,#be1881 81.2%,#9c2c9a 82.7%,#6643a6 86.5%,#43389a 99.5%)"></i><i style="left:15px;width:5.6px;background:linear-gradient(#3a3291 0%,#5845a7 23.7%,#7b3da3 28.3%,#b41b91 31.4%,#dc2238 33.7%,#e63a25 34.5%,#f59225 37.5%,#fad215 40.6%,#f8e226 42.9%,#fbf081 45.9%,#fdf6af 49.8%,#fdf6b0 60.5%,#fbf084 64.3%,#f8e327 67.4%,#facb11 70.4%,#ef702e 74.3%,#e73e22 75.8%,#d2184e 77.3%,#b61991 78.9%,#7b3da3 81.9%,#5644a6 86.5%,#3e3597 99.5%)"></i><i style="left:20px;width:5.6px;background:linear-gradient(#3e3597 0%,#5c45a8 22.2%,#7d3ca2 26.8%,#b01e93 29.9%,#cb1861 31.4%,#d8193f 32.2%,#e94421 33.7%,#f2832c 36%,#facc10 39.8%,#f9e73e 49%,#f9e638 59.7%,#facd10 67.4%,#ef712e 72%,#e94421 73.5%,#d8193f 75%,#be1881 76.6%,#9f2a99 78.1%,#6543a6 82.7%,#403799 98.8%,#403698 99.5%)"></i><i style="left:25px;width:5.6px;background:linear-gradient(#3b3394 0%,#5744a6 21.4%,#813ba2 26.8%,#ba188c 29.9%,#d3184d 31.4%,#e53a25 32.9%,#f3872a 36%,#face11 40.6%,#f9dd21 54.4%,#facf12 64.3%,#f17d2e 69.7%,#e84020 72%,#d71842 73.5%,#bd1884 75%,#90359f 77.3%,#5b46a8 81.9%,#3b3394 99.5%)"></i><i style="left:30px;width:5.6px;background:linear-gradient(#3a3392 0%,#5744a6 21.4%,#7e3ca2 26%,#b61991 29.1%,#db1e3b 31.4%,#e94622 32.9%,#f48a29 36%,#faca11 41.3%,#fad013 59.7%,#f9b21a 64.3%,#ed662b 68.9%,#e73f21 70.4%,#d71842 72%,#be1882 73.5%,#91359e 75.8%,#5a46a8 80.4%,#39328f 99.5%)"></i><i style="left:35px;width:5.6px;background:linear-gradient(#413799 0%,#5b46a8 19.9%,#843aa1 25.3%,#b81890 28.3%,#da1d3c 30.6%,#e84321 32.2%,#f3862a 35.2%,#fac313 40.6%,#fad114 51.3%,#fac214 61.3%,#f0762f 67.4%,#e73e22 69.7%,#d81841 71.2%,#b21c92 73.5%,#7f3ca2 76.6%,#5744a6 81.9%,#3f3698 99.5%)"></i><i style="left:40px;width:5.6px;background:linear-gradient(#393290 0%,#5543a5 20.7%,#793da3 25.3%,#b01e93 28.3%,#ca1863 29.9%,#d71844 30.6%,#e63c23 32.2%,#f48b28 36%,#f9c114 42.1%,#fac413 58.2%,#f69425 64.3%,#ec5e29 67.4%,#e53925 68.9%,#d51848 70.4%,#bc1886 72%,#813ba2 75%,#5543a5 79.6%,#38318d 98%,#38318c 99.5%)"></i><i style="left:45px;width:5.6px;background:linear-gradient(#37308b 0%,#5241a3 20.7%,#773ea3 25.3%,#af1f93 28.3%,#c91865 29.9%,#de2833 31.4%,#ea4d24 32.9%,#f38929 36%,#f9bb16 42.1%,#f9bc16 58.2%,#f38929 64.3%,#e63b24 68.1%,#d61845 69.7%,#bd1884 71.2%,#8f369f 73.5%,#5a46a8 77.3%,#38318d 92.6%,#352f87 99.5%)"></i><i style="left:50px;width:5.6px;background:linear-gradient(#37308a 0%,#4f3fa1 19.9%,#6d41a5 24.5%,#b01e93 28.3%,#d71842 30.6%,#e63c23 32.2%,#f3882a 36%,#f9b818 42.1%,#f9b518 58.2%,#f2802d 64.3%,#e83f21 67.4%,#d9193f 68.9%,#b21c92 71.2%,#773ea3 74.3%,#5342a4 78.1%,#362f89 94.9%,#352e86 99.5%)"></i><i style="left:55px;width:5.6px;background:linear-gradient(#39328f 0%,#5443a5 20.7%,#7d3ca2 25.3%,#b61991 28.3%,#da1c3d 30.6%,#e84120 32.2%,#f2802d 35.2%,#f9b419 41.3%,#f9b518 57.4%,#f2842b 63.6%,#e33429 67.4%,#d2184f 68.9%,#ba188c 70.4%,#7e3ca2 73.5%,#5342a4 78.1%,#37308c 97.2%,#37308b 99.5%)"></i><i style="left:60px;width:5.6px;background:linear-gradient(#3d3496 0%,#5644a6 19.9%,#793da3 24.5%,#bb1887 28.3%,#dc2337 30.6%,#e94822 32.2%,#f2842b 35.2%,#f9b519 41.3%,#f9b319 57.4%,#f17e2e 63.6%,#e73e22 66.6%,#d8193f 68.1%,#b31c92 70.4%,#7140a4 74.3%,#5040a2 79.6%,#3a3392 99.5%)"></i><i style="left:65px;width:5.6px;background:linear-gradient(#3d3597 0%,#5946a8 20.7%,#863aa1 25.3%,#b01e93 27.6%,#c91866 29.1%,#de2635 30.6%,#e94a23 32.2%,#f2842b 35.2%,#f9b319 41.3%,#f9b21a 56.7%,#f2822c 62.8%,#e94521 65.8%,#d11852 68.1%,#b9188d 69.7%,#803ba2 72.7%,#5644a6 77.3%,#3b3393 98%,#3b3393 99.5%)"></i><i style="left:70px;width:5.6px;background:linear-gradient(#3e3597 0%,#5845a7 19.9%,#7d3ca2 24.5%,#b31c92 27.6%,#d71841 29.9%,#e63b24 31.4%,#f3862a 35.2%,#f9b319 41.3%,#f9b01a 56.7%,#f17d2e 62.8%,#e73d23 65.8%,#d81840 67.4%,#b31c92 69.7%,#7c3da3 72.7%,#5543a5 77.3%,#3c3495 97.2%,#3b3495 99.5%)"></i><i style="left:75px;width:5.6px;background:linear-gradient(#413799 0%,#5a46a8 19.9%,#823ba2 24.5%,#b71890 27.6%,#da1c3d 29.9%,#e84020 31.4%,#f17f2d 34.5%,#f9b21a 40.6%,#f9b319 55.9%,#f2842b 62%,#e43728 65.8%,#d4184a 67.4%,#bc1886 68.9%,#853aa1 72%,#5945a7 76.6%,#3e3597 97.2%,#3e3597 99.5%)"></i><i style="left:80px;width:5.6px;background:linear-gradient(#403698 0%,#5a46a8 19.9%,#823ba2 24.5%,#b8188f 27.6%,#da1e3c 29.9%,#e84221 31.4%,#f2802d 34.5%,#f9b01a 40.6%,#f9b01a 55.9%,#f17e2d 62%,#e83f21 65.1%,#d91b3e 66.6%,#b51a91 68.9%,#7e3ca2 72%,#5744a6 76.6%,#3d3597 97.2%,#3d3597 99.5%)"></i><i style="left:85px;width:5.6px;background:linear-gradient(#3c3496 0%,#5644a6 19.9%,#7e3ca2 24.5%,#b61a91 27.6%,#d91b3d 29.9%,#e84020 31.4%,#f3872a 35.2%,#f9ae1b 41.3%,#f8aa1c 55.9%,#f2802d 61.3%,#e94421 64.3%,#db203a 65.8%,#b9188f 68.1%,#7e3ca2 71.2%,#5443a5 75.8%,#3a3392 95.7%,#3a3291 99.5%)"></i><i style="left:90px;width:5.6px;background:linear-gradient(#3f3698 0%,#5945a7 19.9%,#823ba2 24.5%,#ba188c 27.6%,#db2039 29.9%,#e94421 31.4%,#f2812d 34.5%,#f9ae1b 40.6%,#f8aa1c 55.9%,#f17d2e 61.3%,#e73e22 64.3%,#d8193f 65.8%,#b31b92 68.1%,#7b3da3 71.2%,#5543a5 75.8%,#3c3496 95.7%,#3c3496 99.5%)"></i><i style="left:95px;width:5.6px;background:linear-gradient(#3c3496 0%,#5643a5 19.9%,#7e3ca2 24.5%,#b71990 27.6%,#da1d3c 29.9%,#e84120 31.4%,#f3872a 35.2%,#f8ab1c 41.3%,#f8a51e 55.9%,#f07730 61.3%,#e94722 63.6%,#dc2337 65.1%,#bb1889 67.4%,#753fa4 71.2%,#5241a3 75.8%,#3a3392 95.7%,#3a3291 99.5%)"></i><i style="left:100px;width:5.6px;background:linear-gradient(#39318f 0%,#4e3fa1 19.1%,#6b41a5 23.7%,#9d2c9a 26.8%,#bc1886 28.3%,#dd2436 30.6%,#e94722 32.2%,#f17f2d 35.2%,#f8a31f 41.3%,#f89e21 55.9%,#ef712e 61.3%,#e84221 63.6%,#db1e3b 65.1%,#b81890 67.4%,#7b3da3 70.4%,#5342a4 74.3%,#38318c 91.1%,#37308a 99.5%)"></i><i style="left:105px;width:5.6px;background:linear-gradient(#3d3597 0%,#5443a5 19.9%,#793da3 24.5%,#af1f93 27.6%,#c81867 29.1%,#dd2536 30.6%,#e94722 32.2%,#f17f2d 35.2%,#f8a41f 41.3%,#f89f20 55.9%,#f0752f 61.3%,#e43628 64.3%,#d4184a 65.8%,#bc1886 67.4%,#823ba2 70.4%,#5543a5 75%,#3b3394 92.6%,#3b3393 99.5%)"></i><i style="left:110px;width:5.6px;background:linear-gradient(#3a3392 0%,#4b3d9f 22.2%,#6742a6 27.6%,#992e9b 30.6%,#ba188b 32.2%,#dc2139 34.5%,#e94421 36%,#f2822c 39.8%,#f79a22 46.7%,#f59026 59%,#ee6c2d 62.8%,#e83f21 65.1%,#da1c3d 66.6%,#b51a91 68.9%,#773ea3 72%,#5241a3 75.8%,#39328f 91.9%,#38318e 99.5%)"></i><i style="left:115px;width:5.6px;background:linear-gradient(#3a3290 0%,#473a9c 24.5%,#6643a6 30.6%,#9a2d9b 33.7%,#bb1887 35.2%,#dd2436 37.5%,#e94622 39.1%,#f2802d 42.9%,#f59325 51.3%,#f3862b 61.3%,#eb5727 65.1%,#e53826 66.6%,#d61846 68.1%,#bd1885 69.7%,#7c3ca3 72.7%,#5141a3 76.6%,#38318d 91.9%,#38308c 99.5%)"></i><i style="left:120px;width:5.6px;background:linear-gradient(#413799 0%,#4f40a2 26%,#6d41a5 31.4%,#9e2b99 34.5%,#bd1884 36%,#d51848 37.5%,#e94722 39.8%,#f2822c 43.6%,#f69724 51.3%,#f3882a 62.8%,#eb5727 66.6%,#e53827 68.1%,#d51846 69.7%,#bd1884 71.2%,#8f369f 73.5%,#5744a6 78.1%,#3f3698 94.2%,#3e3597 99.5%)"></i><i style="left:125px;width:5.6px;background:linear-gradient(#3c3496 0%,#4a3d9f 26.8%,#6343a6 32.2%,#a22898 36%,#c0187c 37.5%,#d81840 39.1%,#e94a23 41.3%,#f2802d 45.2%,#f59226 54.4%,#f3852b 63.6%,#eb5827 67.4%,#e63a25 68.9%,#d81840 70.4%,#b21d92 72.7%,#753ea4 75.8%,#5141a3 79.6%,#3b3393 96.5%,#3a3392 99.5%)"></i><i style="left:130px;width:5.6px;background:linear-gradient(#39318f 0%,#45399b 27.6%,#6244a7 33.7%,#a62597 37.5%,#b71890 38.3%,#da1d3c 40.6%,#e73d22 42.1%,#f07830 45.9%,#f48c28 54.4%,#f17d2e 65.1%,#e94a23 68.9%,#d91a3e 71.2%,#b41b91 73.5%,#753ea4 76.6%,#4f3fa1 80.4%,#38318c 94.2%,#37308a 99.5%)"></i><i style="left:135px;width:5.6px;background:linear-gradient(#3a3291 0%,#463a9c 28.3%,#6443a6 34.5%,#a62597 38.3%,#b71990 39.1%,#da1c3d 41.3%,#e73c23 42.9%,#f17d2e 47.5%,#f48b28 58.2%,#f17d2e 65.8%,#e63b24 70.4%,#d91a3e 72%,#b51a91 74.3%,#763ea3 77.3%,#5040a2 81.2%,#38318e 97.2%,#38318d 99.5%)"></i><i style="left:140px;width:5.6px;background:linear-gradient(#42389a 0%,#4e3fa1 28.3%,#6c41a5 34.5%,#9b2d9a 37.5%,#ba188b 39.1%,#db1f3a 41.3%,#e84020 42.9%,#f17c2f 46.7%,#f59126 54.4%,#f2832c 65.8%,#eb5426 69.7%,#e43528 71.2%,#d51848 72.7%,#bd1883 74.3%,#90359e 76.6%,#5945a7 81.2%,#403698 96.5%,#403698 99.5%)"></i><i style="left:145px;width:5.6px;background:linear-gradient(#393290 0%,#463a9c 29.1%,#6543a6 35.2%,#992e9b 38.3%,#ba188c 39.8%,#db1f3a 42.1%,#e83f21 43.6%,#f17c2f 48.2%,#f3872a 62%,#ee6d2d 67.4%,#e63b24 70.4%,#d91b3e 72%,#b61a91 74.3%,#763ea3 77.3%,#4f40a2 81.2%,#38318d 96.5%,#38318c 99.5%)"></i><i style="left:150px;width:5.6px;background:linear-gradient(#3c3496 0%,#493c9e 29.1%,#6643a6 35.2%,#982f9c 38.3%,#b8188f 39.8%,#da1d3c 42.1%,#e73d23 43.6%,#f17c2e 48.2%,#f38929 59.7%,#f07830 66.6%,#e84020 70.4%,#d11851 72.7%,#ba188c 74.3%,#7c3da3 77.3%,#5342a4 81.2%,#3b3393 97.2%,#3a3392 99.5%)"></i><i style="left:155px;width:5.6px;background:linear-gradient(#3c3496 0%,#493c9e 29.9%,#6244a7 35.2%,#a12998 39.1%,#bf187e 40.6%,#d61844 42.1%,#e94521 44.4%,#f07930 48.2%,#f3882a 59.7%,#f07730 66.6%,#e84020 70.4%,#d21850 72.7%,#ba188b 74.3%,#7c3da3 77.3%,#5342a4 81.2%,#3a3392 96.5%,#3a3292 99.5%)"></i><i style="left:160px;width:5.6px;background:linear-gradient(#3c3495 0%,#483b9d 29.9%,#6742a6 36%,#9a2e9b 39.1%,#ba188a 40.6%,#db203a 42.9%,#e83f21 44.4%,#f17b2f 49%,#f2842b 62.8%,#ef6e2d 67.4%,#e83f20 70.4%,#d21850 72.7%,#ba188b 74.3%,#7c3da3 77.3%,#5241a3 81.2%,#3a3291 97.2%,#3a3291 99.5%)"></i><i style="left:165px;width:5.6px;background:linear-gradient(#3c3496 0%,#483b9d 29.9%,#6443a6 36%,#a52697 39.8%,#b51a91 40.6%,#d91a3f 42.9%,#e94822 45.2%,#f17c2e 49.8%,#f2802d 64.3%,#ec5a27 68.9%,#e84020 70.4%,#d2184e 72.7%,#bb1889 74.3%,#7d3ca2 77.3%,#5342a4 81.2%,#3a3392 96.5%,#3a3291 99.5%)"></i><i style="left:170px;width:5.6px;background:linear-gradient(#39318f 0%,#45399b 30.6%,#6443a6 36.8%,#9a2e9b 39.8%,#ba188a 41.3%,#db1f3a 43.6%,#e73e22 45.2%,#f07630 49.8%,#f17e2e 63.6%,#ed6029 68.1%,#e63c23 70.4%,#da1d3c 72%,#b8188f 74.3%,#783ea3 77.3%,#4f3fa1 81.2%,#37308b 95.7%,#37308a 99.5%)"></i><i style="left:175px;width:5.6px;background:linear-gradient(#39318f 0%,#44399b 30.6%,#6144a7 36.8%,#a42797 40.6%,#b51a91 41.3%,#d8193f 43.6%,#e94622 45.9%,#f07830 50.5%,#f07930 65.1%,#e94a23 69.7%,#e12d2f 71.2%,#d01853 72.7%,#b9188e 74.3%,#783ea3 77.3%,#4f40a2 81.2%,#37308c 95.7%,#37308b 99.5%)"></i><i style="left:180px;width:5.6px;background:linear-gradient(#3a3291 0%,#44399b 30.6%,#5f45a7 36.8%,#9f2a99 40.6%,#be1881 42.1%,#d51847 43.6%,#e84220 45.9%,#f0762f 50.5%,#f07930 65.1%,#ea4b23 69.7%,#e12f2e 71.2%,#d21850 72.7%,#ba188b 74.3%,#7a3da3 77.3%,#5040a2 81.2%,#38318e 95.7%,#38318c 99.5%)"></i><i style="left:185px;width:5.6px;background:linear-gradient(#39328f 0%,#45399b 31.4%,#6343a7 37.5%,#982f9c 40.6%,#b9188d 42.1%,#da1d3c 44.4%,#e94822 46.7%,#f0762f 51.3%,#f07730 65.1%,#e94a23 69.7%,#e12e2e 71.2%,#d11850 72.7%,#ba188b 74.3%,#7a3da3 77.3%,#5040a2 81.2%,#38318d 94.9%,#37308b 99.5%)"></i><i style="left:190px;width:5.6px;background:linear-gradient(#3d3496 0%,#483b9d 31.4%,#6643a6 37.5%,#98309c 40.6%,#b8188f 42.1%,#d91c3d 44.4%,#e94822 46.7%,#f07830 51.3%,#f0762f 65.8%,#e84221 70.4%,#d51847 72.7%,#af1e93 75%,#733fa4 78.1%,#5140a2 81.9%,#3b3393 98%,#3b3393 99.5%)"></i><i style="left:195px;width:5.6px;background:linear-gradient(#3f3698 0%,#4a3c9e 31.4%,#6643a6 37.5%,#a52697 41.3%,#b51a91 42.1%,#d81840 44.4%,#e94522 46.7%,#f07830 51.3%,#f07830 65.8%,#e94521 70.4%,#d81841 72.7%,#b31b92 75%,#773ea3 78.1%,#5342a4 81.9%,#3d3597 98.8%,#3d3597 99.5%)"></i><i style="left:200px;width:5.6px;background:linear-gradient(#38318c 0%,#3f3698 30.6%,#5f45a7 38.3%,#a42797 42.1%,#b51a91 42.9%,#d81840 45.2%,#e84321 47.5%,#ef6f2d 52.1%,#ef702e 65.1%,#e94822 69.7%,#da1e3b 72%,#ba188b 74.3%,#793da3 77.3%,#4e3fa1 81.2%,#362f89 94.9%,#362f88 99.5%)"></i><i style="left:205px;width:5.6px;background:linear-gradient(#3c3495 0%,#473b9d 32.2%,#6443a6 38.3%,#a62597 42.1%,#b71990 42.9%,#d91a3f 45.2%,#e94521 47.5%,#ef722e 52.1%,#ef712e 65.8%,#e84120 70.4%,#d51846 72.7%,#b01e93 75%,#733fa4 78.1%,#4d3ea0 82.7%,#3a3291 99.5%)"></i><i style="left:210px;width:5.6px;background:linear-gradient(#37308b 0%,#3d3597 29.9%,#5d45a7 38.3%,#a02999 42.1%,#be1880 43.6%,#dc2238 45.9%,#e94822 48.2%,#ef6e2d 53.6%,#ee682c 65.8%,#e53925 70.4%,#d11852 72.7%,#ba188a 74.3%,#7a3da3 77.3%,#5342a4 80.4%,#37308a 92.6%,#362f87 99.5%)"></i><i style="left:215px;width:5.6px;background:linear-gradient(#38318d 0%,#43389a 32.2%,#6044a7 38.3%,#a22898 42.1%,#bf187d 43.6%,#dc2337 45.9%,#e94822 48.2%,#ee6c2d 53.6%,#ee672b 65.8%,#e53925 70.4%,#d21850 72.7%,#bb1888 74.3%,#7d3ca2 77.3%,#5040a2 81.2%,#37308b 94.9%,#362f89 99.5%)"></i><i style="left:220px;width:5.6px;background:linear-gradient(#393290 0%,#45399b 32.2%,#6344a7 38.3%,#a52697 42.1%,#b51a91 42.9%,#d61844 45.2%,#e73d22 47.5%,#ee672b 52.1%,#ed662b 65.8%,#e53a25 70.4%,#d3184d 72.7%,#bd1884 74.3%,#803ba2 77.3%,#5241a3 81.2%,#38318e 94.9%,#38318c 99.5%)"></i><i style="left:225px;width:5.6px;background:linear-gradient(#3a3392 0%,#45399b 31.4%,#5d45a7 37.5%,#982f9c 41.3%,#b71990 42.9%,#d71843 45.2%,#e73d22 47.5%,#ed662b 52.1%,#ed652b 65.8%,#e63a25 70.4%,#d3184c 72.7%,#b11d93 75%,#753ea4 78.1%,#5040a2 81.9%,#39318f 97.2%,#39318e 99.5%)"></i><i style="left:230px;width:5.6px;background:linear-gradient(#39328f 0%,#45399b 32.2%,#6443a6 38.3%,#a52697 42.1%,#c0187b 43.6%,#dc2138 45.9%,#e94421 48.2%,#ed652b 53.6%,#ec5d28 66.6%,#e43628 70.4%,#d21850 72.7%,#bd1885 74.3%,#733fa4 78.1%,#4b3d9f 82.7%,#37308b 99.5%)"></i><i style="left:235px;width:5.6px;background:linear-gradient(#332d81 0%,#38318d 29.1%,#5a46a8 38.3%,#9c2c9a 42.1%,#ba188a 43.6%,#d81840 45.9%,#e84221 49%,#ec5c28 55.1%,#eb5225 66.6%,#e43628 69.7%,#d51848 72%,#b61a91 74.3%,#773ea3 77.3%,#4b3d9f 81.2%,#322c7f 94.2%,#312b7d 99.5%)"></i><i style="left:240px;width:5.6px;background:linear-gradient(#3f3698 0%,#4a3c9e 31.4%,#6643a6 37.5%,#a02a99 41.3%,#bc1887 42.9%,#d91a3e 45.2%,#e94822 48.2%,#ee672b 53.6%,#ec5f29 66.6%,#e63b24 70.4%,#d61845 72.7%,#b81890 75%,#7f3ca2 78.1%,#5241a3 82.7%,#3c3496 99.5%)"></i><i style="left:245px;width:5.6px;background:linear-gradient(#393290 0%,#463a9c 32.2%,#6742a6 38.3%,#a72496 42.1%,#b71991 42.9%,#db1f3a 45.9%,#e94722 49%,#ed6029 55.9%,#eb5626 66.6%,#e3332b 70.4%,#d11852 72.7%,#b11d93 75%,#6b41a5 78.9%,#4a3c9e 83.5%,#38308c 99.5%)"></i><i style="left:250px;width:5.6px;background:linear-gradient(#38318e 0%,#43389a 31.4%,#6643a6 38.3%,#a62596 42.1%,#c0187c 43.6%,#da1d3c 45.9%,#e94421 49%,#ec5c28 55.9%,#ea4e24 67.4%,#e53925 69.7%,#d8193f 72%,#af1e93 75%,#763ea3 78.1%,#4c3ea0 82.7%,#37308a 98.8%,#37308a 99.5%)"></i><i style="left:255px;width:5.6px;background:linear-gradient(#3c3496 0%,#483b9d 31.4%,#6543a6 37.5%,#ac2194 42.1%,#c31874 43.6%,#db2139 45.9%,#e94622 49%,#ec5d28 55.9%,#ea5025 67.4%,#e3332b 70.4%,#d2184e 72.7%,#b51a91 75%,#723fa4 78.9%,#4e3fa1 83.5%,#3a3392 99.5%)"></i><i style="left:260px;width:5.6px;background:linear-gradient(#38318e 0%,#44399b 31.4%,#6742a6 38.3%,#a62597 42.1%,#bf1880 43.6%,#d81840 45.9%,#e84221 49.8%,#eb5325 58.2%,#e94622 67.4%,#db203a 71.2%,#ae1f94 75%,#6c41a5 78.9%,#4a3c9e 83.5%,#37308a 99.5%)"></i><i style="left:265px;width:5.6px;background:linear-gradient(#362f88 0%,#3c3495 28.3%,#5b46a8 37.5%,#a12998 42.1%,#bb1889 43.6%,#da1c3d 46.7%,#e84221 51.3%,#e94421 65.8%,#d8193f 71.2%,#b71990 74.3%,#733fa4 78.1%,#4a3d9f 82.7%,#342e84 99.5%)"></i><i style="left:270px;width:5.6px;background:linear-gradient(#3c3495 0%,#483b9d 31.4%,#6543a6 37.5%,#9c2d9a 41.3%,#b61a91 42.9%,#db2039 46.7%,#e94521 51.3%,#e94421 66.6%,#da1d3c 71.2%,#b01d93 75%,#723fa4 78.9%,#4e3fa1 83.5%,#3a3291 99.5%)"></i><i style="left:275px;width:5.6px;background:linear-gradient(#3b3394 0%,#483b9d 31.4%,#6543a6 37.5%,#a72496 42.1%,#be1882 43.6%,#da1c3c 46.7%,#e84220 52.1%,#e73e21 66.6%,#d9193f 71.2%,#af1f93 75%,#723fa4 78.9%,#4e3fa1 83.5%,#3a3291 99.5%)"></i><i style="left:280px;width:5.6px;background:linear-gradient(#38318c 0%,#42389a 30.6%,#5f45a7 37.5%,#a12999 42.1%,#b9188e 43.6%,#da1c3d 47.5%,#e63a25 53.6%,#e2312c 67.4%,#d3184d 71.2%,#b41b91 74.3%,#763ea3 78.1%,#4d3ea0 82.7%,#362f89 98%,#362f89 99.5%)"></i><i style="left:285px;width:5.6px;background:linear-gradient(#3d3496 0%,#493c9e 30.6%,#6842a6 37.5%,#a72496 42.1%,#c41872 44.4%,#db1f3a 47.5%,#e73d23 54.4%,#e3332b 67.4%,#d51846 71.2%,#b9188d 74.3%,#743fa4 78.9%,#4e3fa1 84.2%,#3b3393 99.5%)"></i><i style="left:290px;width:5.6px;background:linear-gradient(#3b3394 0%,#473b9d 30.6%,#6643a6 37.5%,#a52697 42.1%,#c21877 44.4%,#d91c3d 47.5%,#e53826 54.4%,#e12f2e 67.4%,#d3184c 71.2%,#b71890 74.3%,#723fa4 78.9%,#4c3ea0 84.2%,#3a3290 99.5%)"></i><i style="left:295px;width:5.6px;background:linear-gradient(#37308a 0%,#403698 29.9%,#5e45a7 37.5%,#9e2b9a 42.1%,#bd1883 44.4%,#d91a3e 48.2%,#e2312c 55.9%,#dc2337 68.1%,#ce1859 71.2%,#b01e93 74.3%,#6b41a5 78.9%,#473b9d 84.2%,#352f87 99.5%)"></i><i style="left:300px;width:5.6px;background:linear-gradient(#403698 0%,#4c3ea0 30.6%,#6d41a5 37.5%,#aa2295 42.1%,#c51871 44.4%,#da1e3b 47.5%,#e63a25 55.1%,#e2302c 67.4%,#d51847 71.2%,#b11d93 75%,#7040a4 79.6%,#4d3ea0 85.8%,#3e3597 99.5%)"></i><i style="left:305px;width:5.6px;background:linear-gradient(#3b3394 0%,#473b9d 30.6%,#6643a6 37.5%,#a32798 42.1%,#c0187d 44.4%,#da1c3c 48.2%,#e2322b 55.9%,#dd2536 68.1%,#d01854 71.2%,#b51a91 74.3%,#723fa4 78.9%,#4c3ea0 84.2%,#393290 99.5%)"></i><i style="left:310px;width:5.6px;background:linear-gradient(#37308a 0%,#3f3698 29.1%,#5f45a7 37.5%,#a72496 42.9%,#c11878 45.2%,#d91a3e 49%,#df2a32 59%,#d81940 68.9%,#ae1f94 74.3%,#753ea4 78.1%,#4d3ea0 82.7%,#352f87 98.8%,#352f87 99.5%)"></i><i style="left:315px;width:5.6px;background:linear-gradient(#3b3495 0%,#483b9d 30.6%,#6842a6 37.5%,#a32798 42.1%,#bf187f 44.4%,#d91a3f 48.2%,#e12e2e 56.7%,#dc2138 68.1%,#ce1858 71.2%,#b41b91 74.3%,#733fa4 78.9%,#4d3ea0 84.2%,#3a3291 99.5%)"></i><i style="left:320px;width:5.6px;background:linear-gradient(#3b3393 0%,#453a9c 29.9%,#6643a6 37.5%,#a12998 42.1%,#bd1882 44.4%,#d91b3d 49%,#df2b31 60.5%,#d91a3e 68.9%,#b21c92 74.3%,#6942a6 79.6%,#463a9c 86.5%,#39328f 99.5%)"></i><i style="left:325px;width:5.6px;background:linear-gradient(#3d3597 0%,#4a3c9e 30.6%,#6b41a5 37.5%,#af1f93 42.9%,#d81840 48.2%,#e02c30 56.7%,#db203a 68.1%,#ce1859 71.2%,#ab2295 75%,#6543a6 80.4%,#43389a 89.6%,#3b3394 99.5%)"></i><i style="left:330px;width:5.6px;background:linear-gradient(#362f89 0%,#3b3394 26.8%,#5f45a7 37.5%,#ae1f94 43.6%,#d61844 49.8%,#da1c3d 65.8%,#cf1856 69.7%,#aa2295 74.3%,#6244a7 79.6%,#3d3597 88.1%,#352e85 99.5%)"></i><i style="left:335px;width:5.6px;background:linear-gradient(#3d3597 0%,#493c9e 29.9%,#6443a6 36.8%,#a42697 42.1%,#be1881 44.4%,#d91a3f 49%,#de2834 61.3%,#d81840 68.9%,#aa2295 75%,#6643a6 80.4%,#43389a 89.6%,#3c3495 99.5%)"></i><i style="left:340px;width:5.6px;background:linear-gradient(#3d3597 0%,#4a3d9f 30.6%,#6b41a5 37.5%,#ae1f94 42.9%,#d81840 49%,#de2635 61.3%,#d71842 68.9%,#b31b92 74.3%,#6e40a5 79.6%,#493c9e 86.5%,#3b3394 99.5%)"></i><i style="left:345px;width:5.6px;background:linear-gradient(#3c3496 0%,#483b9d 29.9%,#6443a6 36.8%,#a32798 42.1%,#bd1884 44.4%,#d71843 49%,#dd2337 62.8%,#d61845 68.9%,#b21c92 74.3%,#6d41a5 79.6%,#4b3d9f 85.8%,#3b3393 99.5%)"></i><i style="left:350px;width:5.6px;background:linear-gradient(#3c3496 0%,#483b9d 29.9%,#6443a6 36.8%,#a32898 42.1%,#bc1885 44.4%,#d61845 49%,#dc2238 61.3%,#d51848 68.9%,#b21d92 74.3%,#6d41a5 79.6%,#483b9d 86.5%,#3a3392 99.5%)"></i><i style="left:355px;width:5.6px;background:linear-gradient(#3e3597 0%,#4a3d9f 29.9%,#6842a6 36.8%,#a62597 42.1%,#be1881 44.4%,#d71842 49%,#dc2338 64.3%,#d3184c 69.7%,#ab2195 75%,#6a42a6 80.4%,#483b9d 88.1%,#3d3496 99.5%)"></i><i style="left:360px;width:5.6px;background:linear-gradient(#3c3496 0%,#493c9e 29.9%,#6543a6 36.8%,#ad2094 42.9%,#d71842 49.8%,#d8193f 67.4%,#bf187e 72.7%,#95319d 76.6%,#5644a6 82.7%,#3b3394 98%,#3b3393 99.5%)"></i><i style="left:365px;width:5.6px;background:linear-gradient(#3b3393 0%,#473a9c 29.9%,#6344a7 36.8%,#a12998 42.1%,#bf187d 45.2%,#d71843 50.5%,#d81841 66.6%,#c7186a 71.2%,#af1e93 74.3%,#6c41a5 79.6%,#473b9d 86.5%,#39328f 99.5%)"></i><i style="left:370px;width:5.6px;background:linear-gradient(#38318c 0%,#43389a 29.9%,#6543a6 37.5%,#ae1f93 43.6%,#d3184c 50.5%,#d71843 64.3%,#cb1860 69.7%,#ab2295 74.3%,#6044a7 80.4%,#3b3394 91.1%,#362f89 99.5%)"></i><i style="left:375px;width:5.6px;background:linear-gradient(#3e3597 0%,#4a3d9f 29.9%,#6942a6 36.8%,#a52697 42.1%,#bd1884 44.4%,#d61844 49.8%,#d9193f 66.6%,#c91866 71.2%,#aa2295 75%,#6343a6 81.2%,#403698 92.6%,#3c3496 99.5%)"></i><i style="left:380px;width:5.6px;background:linear-gradient(#3d3597 0%,#4a3d9f 29.9%,#6842a6 36.8%,#ad2094 42.9%,#d51847 49.8%,#d91a3e 65.1%,#cc185e 70.4%,#b21c92 74.3%,#723fa4 79.6%,#4d3ea0 85.8%,#3c3495 99.5%)"></i><i style="left:385px;width:5.6px;background:linear-gradient(#3b3394 0%,#483b9d 29.9%,#6c41a5 37.5%,#ba188b 44.4%,#d2184e 49.8%,#d81840 59.7%,#d21850 68.1%,#af1e93 74.3%,#6f40a5 79.6%,#4b3d9f 85.8%,#3a3291 99.5%)"></i><i style="left:390px;width:5.6px;background:linear-gradient(#3b3393 0%,#463a9c 29.1%,#6543a6 36.8%,#a92395 42.9%,#c21876 45.9%,#d41849 51.3%,#d4184a 66.6%,#c1187a 72%,#ae1f94 74.3%,#6742a6 80.4%,#423799 89.6%,#393290 99.5%)"></i><i style="left:395px;width:5.6px;background:linear-gradient(#3c3496 0%,#483b9d 29.1%,#6842a6 36.8%,#ac2194 42.9%,#d4184a 50.5%,#d61846 65.8%,#c6186d 71.2%,#b11d93 74.3%,#723fa4 79.6%,#4d3ea0 85.8%,#3b3393 99.5%)"></i><i style="left:400px;width:5.6px;background:linear-gradient(#332d81 0%,#38318e 26%,#5945a7 36.8%,#a52697 43.6%,#c6186c 49%,#ce185a 57.4%,#c81869 68.1%,#aa2295 73.5%,#5a46a8 80.4%,#362f89 91.9%,#322c7e 99.5%)"></i><i style="left:405px;width:5.6px;background:linear-gradient(#3b3394 0%,#473b9d 29.1%,#6742a6 36.8%,#b9188e 44.4%,#d01855 49.8%,#d51848 61.3%,#cd185c 68.9%,#ae1f94 74.3%,#6942a6 80.4%,#44399b 88.8%,#3a3291 99.5%)"></i><i style="left:410px;width:5.6px;background:linear-gradient(#332d81 0%,#38318e 26%,#5945a7 36.8%,#a52697 43.6%,#c5186f 49%,#cd185d 57.4%,#c7186b 68.1%,#a92395 73.5%,#5b46a8 80.4%,#37308b 91.1%,#322c7f 99.5%)"></i><i style="left:415px;width:5.6px;background:linear-gradient(#3b3393 0%,#483b9d 29.9%,#6e41a5 37.5%,#bc1885 45.2%,#d01854 50.5%,#d3184d 65.1%,#c6186c 70.4%,#ad2094 74.3%,#6842a6 80.4%,#42389a 89.6%,#3a3290 99.5%)"></i><i style="left:420px;width:5.6px;background:linear-gradient(#3d3597 0%,#4b3d9f 29.9%,#6b41a5 36.8%,#ba188b 44.4%,#d01853 49.8%,#d61846 61.3%,#ce1859 68.9%,#b01e93 74.3%,#6643a6 81.2%,#44399b 90.4%,#3c3496 99.5%)"></i><i style="left:425px;width:5.6px;background:linear-gradient(#403799 0%,#4e3fa1 29.9%,#6f40a5 36.8%,#bc1886 44.4%,#d2184e 49.8%,#d81841 62%,#d01855 68.9%,#ac2194 75%,#6a42a5 81.2%,#483b9d 89.6%,#3f3698 99.5%)"></i><i style="left:430px;width:5.6px;background:linear-gradient(#39318f 0%,#463a9c 29.9%,#6a42a5 37.5%,#ba188c 45.2%,#cd185c 50.5%,#cf1857 65.8%,#c0187c 71.2%,#a92396 74.3%,#5e45a7 81.2%,#3b3394 92.6%,#38308c 99.5%)"></i><i style="left:435px;width:5.6px;background:linear-gradient(#3b3395 0%,#493c9e 29.9%,#6e40a5 37.5%,#bc1887 45.2%,#cf1857 50.5%,#d11852 65.8%,#c21877 71.2%,#a42697 75%,#5c45a8 81.9%,#3c3495 95.7%,#3a3292 99.5%)"></i><i style="left:440px;width:5.6px;background:linear-gradient(#3a3291 0%,#473b9d 29.9%,#6c41a5 37.5%,#ba188b 45.2%,#cd185b 50.5%,#cf1857 65.8%,#c0187b 71.2%,#aa2295 74.3%,#6044a7 81.2%,#3c3496 92.6%,#39318e 99.5%)"></i><i style="left:445px;width:5.6px;background:linear-gradient(#342d83 0%,#393290 26%,#5a46a8 36.8%,#aa2295 44.4%,#c81869 51.3%,#c7186a 66.6%,#ae1f93 72.7%,#5c46a8 80.4%,#38318d 91.1%,#332c80 99.5%)"></i><i style="left:450px;width:5.6px;background:linear-gradient(#3c3496 0%,#4a3d9f 29.9%,#6942a6 36.8%,#bc1887 45.2%,#cf1858 50.5%,#d01853 65.8%,#c21877 71.2%,#a52697 75%,#5d45a7 81.9%,#3c3496 95.7%,#3b3394 99.5%)"></i><i style="left:455px;width:5.6px;background:linear-gradient(#3a3292 0%,#463a9c 29.1%,#6543a6 36.8%,#b9188d 45.2%,#cc185e 50.5%,#ce185a 65.8%,#bf187d 71.2%,#a92395 74.3%,#6044a7 81.2%,#3d3496 92.6%,#39318f 99.5%)"></i><i style="left:460px;width:5.6px;background:linear-gradient(#3a3392 0%,#463a9c 29.1%,#6543a6 36.8%,#b9188d 45.2%,#cc185e 50.5%,#cd185c 66.6%,#b01e93 73.5%,#6044a7 81.2%,#3c3496 93.4%,#39328f 99.5%)"></i><i style="left:465px;width:5.6px;background:linear-gradient(#37308c 0%,#43389a 29.1%,#6742a6 37.5%,#ba188b 45.9%,#ca1862 52.1%,#c91865 66.6%,#ab2195 73.5%,#6244a7 80.4%,#3d3496 90.4%,#362f89 99.5%)"></i><i style="left:470px;width:5.6px;background:linear-gradient(#3a3291 0%,#473b9d 29.9%,#6b41a5 37.5%,#bc1886 45.9%,#cc185f 51.3%,#cb185f 66.6%,#af1f93 73.5%,#5f44a7 81.2%,#3c3495 93.4%,#39318f 99.5%)"></i><i style="left:475px;width:5.6px;background:linear-gradient(#3a3392 0%,#463a9c 29.1%,#6543a6 36.8%,#ab2195 43.6%,#cc185f 51.3%,#cb1860 66.6%,#af1e93 73.5%,#6044a7 81.2%,#3c3496 93.4%,#39328f 99.5%)"></i><i style="left:480px;width:5.6px;background:linear-gradient(#3e3597 0%,#4c3ea0 29.9%,#6b41a5 36.8%,#bb1887 45.2%,#cf1857 51.3%,#ce1858 66.6%,#ad2094 74.3%,#6643a6 81.2%,#42389a 91.9%,#3d3496 99.5%)"></i><i style="left:485px;width:4.4px;background:linear-gradient(#3b3394 0%,#473b9d 29.1%,#6643a6 36.8%,#bc1886 45.9%,#cc185d 52.1%,#ca1863 67.4%,#af1e93 73.5%,#6144a7 81.2%,#3e3597 92.6%,#3a3291 99.5%)"></i></div><div class="hm" style="left:725px;top:1559.5px;width:488.6px;height:251.9px"><i style="left:0px;width:5.6px;background:linear-gradient(#43389a 0%,#6643a6 4%,#9f2a99 6.4%,#b61991 7.1%,#d91a3e 8.7%,#e43628 9.5%,#f69823 12.7%,#facf12 15.1%,#f8e42b 18.3%,#fbee76 20.6%,#fcf5a9 23.8%,#fcf5aa 27%,#f9e951 33.3%,#f8e226 35.7%,#fac413 39.7%,#f07930 42.9%,#e84221 44.5%,#d01853 46.1%,#bf187d 46.8%,#97309c 48.4%,#5b46a8 51.6%,#39328f 61.1%,#342d83 92.9%,#342d83 99.2%)"></i><i style="left:5px;width:5.6px;background:linear-gradient(#493c9e 0%,#6144a7 3.2%,#92339e 5.6%,#bc1886 7.1%,#dc2238 8.7%,#e73e21 9.5%,#f07730 11.1%,#fac911 14.3%,#f8e024 16.7%,#f8e636 17.5%,#fcf39a 19.8%,#fffdea 23%,#fffff5 25.4%,#fffeec 27.8%,#f9e94f 34.9%,#f8e226 36.5%,#faca11 39.7%,#f17e2e 42.9%,#e94922 44.5%,#d51848 46.1%,#b31c92 47.6%,#7b3da3 50%,#5141a3 54%,#39318f 69.1%,#38318d 99.2%)"></i><i style="left:10px;width:5.6px;background:linear-gradient(#413799 0%,#6343a6 4%,#9e2b9a 6.4%,#b61a91 7.1%,#d91b3e 8.7%,#e43728 9.5%,#f3872a 11.9%,#fad014 15.1%,#f8e327 17.5%,#fcf398 20.6%,#fefbd7 23.8%,#fefcde 26.2%,#fcf4a5 30.2%,#f8e327 35.7%,#fac214 39.7%,#f0762f 42.9%,#e73e22 44.5%,#dc2238 45.3%,#bc1886 46.8%,#7f3ca2 49.2%,#5241a3 52.4%,#352e85 63.5%,#322c7f 99.2%)"></i><i style="left:15px;width:5.6px;background:linear-gradient(#3d3597 0%,#5f45a7 4%,#9b2d9b 6.4%,#b31c92 7.1%,#d81840 8.7%,#e3342a 9.5%,#f69724 12.7%,#facd10 15.1%,#f8e634 19.1%,#fbef7f 22.2%,#fcf39b 25.4%,#fbf188 29.4%,#f9e846 33.3%,#f8e226 34.9%,#fac712 38.9%,#ed662b 42.9%,#e94a23 43.7%,#d51848 45.3%,#b01e93 46.8%,#733fa4 49.2%,#4c3d9f 52.4%,#312b7c 65.1%,#2f2a78 99.2%)"></i><i style="left:20px;width:5.6px;background:linear-gradient(#44399b 0%,#6a41a5 4%,#a52697 6.4%,#bb1888 7.1%,#dc2238 8.7%,#e73d22 9.5%,#f0752f 11.1%,#face11 15.1%,#f8e429 19.1%,#fbf18e 23.8%,#fdf7ba 27.8%,#fcf49f 31%,#f9e94b 34.1%,#f8e52e 34.9%,#fac712 38.9%,#f17c2e 42.1%,#e94722 43.7%,#d3184c 45.3%,#b01e93 46.8%,#763ea3 49.2%,#5141a3 52.4%,#362f89 65.1%,#352e85 99.2%)"></i><i style="left:25px;width:5.6px;background:linear-gradient(#463a9c 0%,#5e45a7 3.2%,#93339e 5.6%,#bd1882 7.1%,#dd2536 8.7%,#e84020 9.5%,#f07730 11.1%,#face11 15.1%,#f8e52d 19.8%,#fefbd3 27%,#fefbd4 29.4%,#fcf4a0 31.8%,#f8e42b 34.9%,#f9c015 38.9%,#ef732f 42.1%,#e73d23 43.7%,#dc2238 44.5%,#bd1884 46.1%,#823ba2 48.4%,#5543a5 51.6%,#38318d 63.5%,#362f88 99.2%)"></i><i style="left:30px;width:5.6px;background:linear-gradient(#44399b 0%,#6a41a5 4%,#a52697 6.4%,#bb1888 7.1%,#dc2139 8.7%,#e63c23 9.5%,#f3872a 11.9%,#fad114 15.9%,#f8e52d 21.4%,#fbf086 27%,#fbf087 29.4%,#f9e94d 32.6%,#f8e327 34.1%,#fac812 38.1%,#ee6b2c 42.1%,#e43529 43.7%,#d91a3e 44.5%,#b8188f 46.1%,#7d3ca2 48.4%,#5342a4 51.6%,#37308b 63.5%,#352f86 99.2%)"></i><i style="left:35px;width:5.6px;background:linear-gradient(#423799 0%,#5f45a7 4%,#aa2395 7.1%,#be1880 7.9%,#dd2536 9.5%,#e84020 10.3%,#f0752f 11.9%,#fac712 15.9%,#f8e125 23%,#f9d81c 35.7%,#f9bd16 38.9%,#f07930 42.1%,#e94521 43.7%,#d3184d 45.3%,#b01e93 46.8%,#773ea3 49.2%,#5141a3 52.4%,#37308a 65.1%,#362f87 99.2%)"></i><i style="left:40px;width:5.6px;background:linear-gradient(#3d3496 0%,#5e45a7 4.8%,#ab2295 7.9%,#bf187f 8.7%,#de2635 10.3%,#e84020 11.1%,#ef742f 12.7%,#facd10 17.5%,#f9dc20 29.4%,#faca11 38.1%,#ee6b2c 42.9%,#e43727 44.5%,#da1d3c 45.3%,#ba188a 46.8%,#7e3ca2 49.2%,#5241a3 52.4%,#362f88 63.5%,#342d83 99.2%)"></i><i style="left:45px;width:5.6px;background:linear-gradient(#393290 0%,#5f45a7 5.6%,#ac2194 8.7%,#c0187c 9.5%,#de2734 11.1%,#e84120 11.9%,#f3862b 14.3%,#facf12 19.1%,#f9d619 34.9%,#f9c015 38.9%,#f0762f 42.9%,#e94421 44.5%,#d3184c 46.1%,#b11d93 47.6%,#763ea4 50%,#5342a4 52.4%,#362f87 62.7%,#332c80 99.2%)"></i><i style="left:50px;width:5.6px;background:linear-gradient(#363089 0%,#5241a3 5.6%,#92349e 8.7%,#bd1884 10.3%,#dc2138 11.9%,#e63b24 12.7%,#f59026 15.9%,#faca11 19.8%,#f9d417 34.9%,#fac314 38.9%,#ef6e2d 43.7%,#e73d22 45.3%,#cf1856 46.8%,#bf187e 47.6%,#ac2195 48.4%,#6343a7 51.6%,#3f3698 57.2%,#322c80 70.7%,#322c7f 99.2%)"></i><i style="left:55px;width:5.6px;background:linear-gradient(#332d81 0%,#4d3ea0 7.1%,#7f3ca2 10.3%,#a92396 11.9%,#bd1882 12.7%,#dc2238 14.3%,#e63b24 15.1%,#f59027 18.3%,#facd10 23%,#facd10 38.9%,#f89e21 42.9%,#ef6e2d 45.3%,#e73d22 46.8%,#cf1856 48.4%,#bf187f 49.2%,#96309c 50.8%,#5845a7 54%,#38318d 62.7%,#342d83 99.2%)"></i><i style="left:60px;width:5.6px;background:linear-gradient(#302a7a 0%,#4c3ea0 9.5%,#6b41a5 11.9%,#a72596 14.3%,#bc1886 15.1%,#db2039 16.7%,#e53925 17.5%,#f48d27 20.6%,#fac812 25.4%,#fac812 40.5%,#f48e27 45.3%,#e63a25 48.4%,#cd185b 50%,#bd1884 50.8%,#803ba2 53.2%,#5644a6 55.6%,#37308b 64.3%,#332d82 99.2%)"></i><i style="left:65px;width:5.6px;background:linear-gradient(#322c7e 0%,#4b3d9f 11.1%,#7040a4 14.3%,#ab2195 16.7%,#bf187f 17.5%,#dd2436 19.1%,#e73d22 19.8%,#f2802d 22.2%,#fac214 27%,#facf12 37.3%,#f9bc16 43.7%,#ef6e2d 48.4%,#e73d22 50%,#cf1856 51.6%,#bf187f 52.4%,#96309c 54%,#5945a7 57.2%,#3a3392 65.9%,#37308a 99.2%)"></i><i style="left:70px;width:5.6px;background:linear-gradient(#302b7b 0%,#463a9c 12.7%,#6044a7 15.9%,#aa2295 19.1%,#bf1880 19.8%,#dd2437 21.4%,#e73d23 22.2%,#f48d27 25.4%,#f9c214 30.2%,#fac513 42.9%,#f79923 47.6%,#ee692c 50%,#e53925 51.6%,#db2039 52.4%,#bc1885 54%,#7f3ca2 56.4%,#5040a2 59.5%,#37308b 69.9%,#362f88 99.2%)"></i><i style="left:75px;width:5.6px;background:linear-gradient(#2b266f 0%,#342e85 11.1%,#5543a5 17.5%,#992e9b 20.6%,#b01e93 21.4%,#d4184b 23%,#e84321 24.6%,#f2812c 27%,#f9b618 31.8%,#f9ba17 44.5%,#f58f27 49.2%,#ec5c28 51.6%,#e94521 52.4%,#d51848 54%,#b11d92 55.6%,#7140a4 58%,#483b9d 61.1%,#312b7d 73%,#312b7c 99.2%)"></i><i style="left:80px;width:5.6px;background:linear-gradient(#302b7b 0%,#3a3291 12.7%,#5845a7 19.1%,#992e9b 22.2%,#af1f93 23%,#d2184f 24.6%,#e84020 26.2%,#f2802d 28.6%,#f9b618 33.3%,#f9bd16 45.3%,#f79b22 50%,#ec5e29 53.2%,#e94722 54%,#d71843 55.6%,#b51a91 57.2%,#763ea3 59.5%,#4d3ea0 62.7%,#37308a 73.8%,#362f89 99.2%)"></i><i style="left:85px;width:5.6px;background:linear-gradient(#2e2976 0%,#39328f 15.1%,#5b46a8 21.4%,#a22898 24.6%,#b9188e 25.4%,#d91a3e 27%,#e94a23 28.6%,#f2842b 31%,#f9b21a 35.7%,#f9b01a 48.4%,#f17e2e 53.2%,#e83f21 55.6%,#d11851 57.2%,#c0187b 58%,#ad2094 58.8%,#6f40a5 61.1%,#493c9e 64.3%,#352e85 76.2%,#342e84 99.2%)"></i><i style="left:90px;width:5.6px;background:linear-gradient(#312c7e 0%,#43389a 19.1%,#6842a6 23.8%,#9e2b99 26.2%,#b41b91 27%,#d61846 28.6%,#e94521 30.2%,#f2802d 32.6%,#f9b01a 37.3%,#f9af1b 50%,#f17d2e 54.8%,#e73e22 57.2%,#d11852 58.8%,#c0187b 59.5%,#ad2094 60.3%,#7040a4 62.7%,#4b3d9f 65.9%,#38318c 78.6%,#37308b 99.2%)"></i><i style="left:95px;width:5.6px;background:linear-gradient(#332c80 0%,#44399b 20.6%,#6443a6 25.4%,#ac2194 28.6%,#c0187d 29.4%,#dd2436 31%,#e63c23 31.8%,#f3872a 34.9%,#f9ae1b 39.7%,#f8ab1c 51.6%,#f07a2f 56.4%,#e63a25 58.8%,#ce1858 60.3%,#be1881 61.1%,#94329d 62.7%,#5644a6 65.9%,#3a3392 74.6%,#39318e 99.2%)"></i><i style="left:100px;width:5.6px;background:linear-gradient(#302a7a 0%,#3e3597 21.4%,#5c46a8 27%,#a42797 30.2%,#ba188b 31%,#d91b3d 32.6%,#e94a23 34.1%,#f2802d 36.5%,#f8a71e 41.3%,#f8a31f 53.2%,#f17e2e 57.2%,#e94521 59.5%,#d71844 61.1%,#b51a91 62.7%,#743fa4 65.1%,#5040a2 67.5%,#37308b 76.2%,#362f88 99.2%)"></i><i style="left:105px;width:5.6px;background:linear-gradient(#29256b 0%,#352e85 20.6%,#4e3fa1 27%,#763ea3 29.4%,#b9188d 31.8%,#d91a3e 33.3%,#e94722 34.9%,#f3862b 38.1%,#f8a020 43.7%,#f69425 54.8%,#ef6f2d 58%,#e94822 59.5%,#d91b3d 61.1%,#b9188c 62.7%,#763ea4 65.1%,#4c3ea0 67.5%,#322c80 74.6%,#2f2a79 99.2%)"></i><i style="left:110px;width:5.6px;background:linear-gradient(#302b7b 0%,#45399b 24.6%,#6742a6 28.6%,#9f2a99 31%,#b51a91 31.8%,#d61845 33.3%,#e84221 34.9%,#f3852b 38.1%,#f8a41e 43.7%,#f79c22 54.8%,#ef702e 58.8%,#e94923 60.3%,#da1c3d 61.9%,#bb1889 63.5%,#7b3da3 65.9%,#5241a3 68.3%,#38318d 76.2%,#362f89 99.2%)"></i><i style="left:115px;width:5.6px;background:linear-gradient(#2a266c 0%,#363089 22.2%,#5543a5 28.6%,#8839a1 31%,#b51a91 32.6%,#d51847 34.1%,#e84020 35.7%,#f2802d 38.9%,#f79c22 44.5%,#f59226 55.6%,#ef702e 58.8%,#e53727 61.1%,#ce1858 62.7%,#be1880 63.5%,#93339d 65.1%,#5945a7 67.5%,#38318e 72.3%,#302a7a 84.2%,#302a7a 99.2%)"></i><i style="left:120px;width:5.6px;background:linear-gradient(#332d81 0%,#473b9d 25.4%,#6842a6 29.4%,#9e2b99 31.8%,#b41b91 32.6%,#d4184a 34.1%,#e73f21 35.7%,#f2822c 38.9%,#f8a21f 44.5%,#f79b22 55.6%,#f0752f 59.5%,#e63b24 61.9%,#d11851 63.5%,#af1e93 65.1%,#733fa4 67.5%,#4c3d9f 70.7%,#39328f 82.6%,#39318e 99.2%)"></i><i style="left:125px;width:5.6px;background:linear-gradient(#2c2872 0%,#3a3291 23.8%,#5644a6 29.4%,#9d2c9a 32.6%,#b31c92 33.3%,#d3184b 34.9%,#e73d23 36.5%,#f17d2e 39.7%,#f79923 45.3%,#f59126 56.4%,#ed642a 60.3%,#e83f21 61.9%,#d51848 63.5%,#b51a91 65.1%,#743fa4 67.5%,#4d3ea0 69.9%,#352e86 77%,#322c80 99.2%)"></i><i style="left:130px;width:5.6px;background:linear-gradient(#2e2975 0%,#3c3495 24.6%,#5c45a8 30.2%,#a72496 33.3%,#bc1887 34.1%,#d91b3d 35.7%,#e94521 37.3%,#f2802d 40.5%,#f79923 46.8%,#f58f27 57.2%,#ef6e2d 60.3%,#e53826 62.7%,#d01853 64.3%,#af1f93 65.9%,#5f45a7 69.1%,#3c3496 73.8%,#342d83 85.7%,#342d83 99.2%)"></i><i style="left:135px;width:5.6px;background:linear-gradient(#332d82 0%,#483b9d 27%,#6c41a5 31%,#a32798 33.3%,#b8188f 34.1%,#d61844 35.7%,#e84020 37.3%,#f17f2d 40.5%,#f79b22 46.1%,#f69525 57.2%,#ef6f2d 61.1%,#e53826 63.5%,#d01853 65.1%,#b01e93 66.7%,#743fa4 69.1%,#5241a3 71.5%,#3a3392 81%,#393290 99.2%)"></i><i style="left:140px;width:5.6px;background:linear-gradient(#29256b 0%,#38318d 26.2%,#5443a5 31%,#9b2d9a 34.1%,#b11d92 34.9%,#d21850 36.5%,#e53827 38.1%,#f17d2e 42.1%,#f59026 49.2%,#f2822c 58.8%,#ec5927 61.9%,#e43628 63.5%,#d01855 65.1%,#ae1f93 66.7%,#6e40a5 69.1%,#43389a 72.3%,#302a7a 81.8%,#2f2a79 99.2%)"></i><i style="left:145px;width:5.6px;background:linear-gradient(#2e2977 0%,#44399b 28.6%,#6044a7 31.8%,#97309c 34.1%,#bf1880 35.7%,#da1d3c 37.3%,#e94521 38.9%,#f17c2e 42.1%,#f59325 49.2%,#f2842b 59.5%,#ec5927 62.7%,#e43529 64.3%,#cf1856 65.9%,#af1f93 67.5%,#7140a4 69.9%,#473b9d 73%,#352e85 85%,#342e84 99.2%)"></i><i style="left:150px;width:5.6px;background:linear-gradient(#2b2770 0%,#3a3291 27%,#5543a5 31.8%,#9a2d9b 34.9%,#b01e93 35.7%,#db2139 38.1%,#e94622 39.7%,#f07a2f 42.9%,#f48d28 50%,#f2812c 59.5%,#ec5b28 62.7%,#e63a25 64.3%,#d41849 65.9%,#b71991 67.5%,#763ea3 69.9%,#4e3fa1 72.3%,#352e85 78.6%,#312b7d 99.2%)"></i><i style="left:155px;width:5.6px;background:linear-gradient(#2d2873 0%,#3c3496 27.8%,#5e45a7 32.6%,#a92395 35.7%,#bc1885 36.5%,#d9193f 38.1%,#e83f20 39.7%,#f17d2e 43.7%,#f48d28 53.2%,#f17e2d 60.3%,#e84321 64.3%,#da1d3c 65.9%,#be1880 67.5%,#97309c 69.1%,#5342a4 72.3%,#38318c 77.8%,#332d81 99.2%)"></i><i style="left:160px;width:5.6px;background:linear-gradient(#2c2771 0%,#3b3393 27.8%,#5845a7 32.6%,#9f2a99 35.7%,#b41b91 36.5%,#d21850 38.1%,#e43529 39.7%,#ef6f2d 42.9%,#f38929 48.4%,#f17e2e 60.3%,#e94722 64.3%,#dc2337 65.9%,#c31873 67.5%,#b41b92 68.3%,#753ea4 70.7%,#473b9d 73.8%,#332d81 83.4%,#322c7f 99.2%)"></i><i style="left:165px;width:5.6px;background:linear-gradient(#302b7b 0%,#44399b 29.4%,#6742a6 33.3%,#9d2c9a 35.7%,#b11d92 36.5%,#db1f3a 38.9%,#e94421 40.5%,#f17e2e 44.5%,#f48c28 55.6%,#f07730 61.9%,#e84220 65.1%,#da1d3c 66.7%,#ad2094 69.1%,#723fa4 71.5%,#493c9e 74.6%,#363089 86.5%,#362f89 99.2%)"></i><i style="left:170px;width:5.6px;background:linear-gradient(#2d2875 0%,#3f3698 29.4%,#5c45a8 33.3%,#a42797 36.5%,#b9188f 37.3%,#d4184a 38.9%,#e53727 40.5%,#f07730 44.5%,#f3872a 52.4%,#f17b2f 61.1%,#e84321 65.1%,#db203a 66.7%,#b21d92 69.1%,#753ea4 71.5%,#483b9d 74.6%,#342e83 85%,#332d82 99.2%)"></i><i style="left:175px;width:5.6px;background:linear-gradient(#2f2a79 0%,#44399b 30.2%,#6842a6 34.1%,#9e2b99 36.5%,#b21c92 37.3%,#db1f3a 39.7%,#e84221 41.3%,#f07a2f 45.3%,#f3872a 57.2%,#ef702e 62.7%,#e63b24 65.9%,#d71843 67.5%,#bb1888 69.1%,#6e40a5 72.3%,#483b9d 75.4%,#352f87 87.3%,#352f87 99.2%)"></i><i style="left:180px;width:5.6px;background:linear-gradient(#302a7b 0%,#43389a 30.2%,#6343a6 34.1%,#ab2295 37.3%,#bd1884 38.1%,#d81841 39.7%,#e63b24 41.3%,#f07730 45.3%,#f3862a 54%,#f0792f 61.9%,#e84120 65.9%,#db1e3b 67.5%,#b21c92 69.9%,#773ea3 72.3%,#5141a3 74.6%,#38318e 81.8%,#362f88 99.2%)"></i><i style="left:185px;width:5.6px;background:linear-gradient(#29256b 0%,#38318e 29.4%,#5543a5 34.1%,#982f9c 37.3%,#be1882 38.9%,#d81841 40.5%,#e94822 42.9%,#f07830 47.6%,#f0762f 61.1%,#ea4b23 65.1%,#e02d2f 66.7%,#ce185a 68.3%,#b01e93 69.9%,#733fa4 72.3%,#453a9c 75.4%,#302b7b 85%,#2f2a79 99.2%)"></i><i style="left:190px;width:5.6px;background:linear-gradient(#322c80 0%,#473b9d 31%,#6a42a5 34.9%,#9d2b9a 37.3%,#b11d93 38.1%,#d91c3d 40.5%,#e73e22 42.1%,#f07630 46.1%,#f2842b 57.2%,#f07730 62.7%,#e83f21 66.7%,#da1d3c 68.3%,#b11d92 70.7%,#793da3 73%,#5342a4 75.4%,#3a3290 84.2%,#38318d 99.2%)"></i><i style="left:195px;width:5.6px;background:linear-gradient(#2e2875 0%,#43389a 31.8%,#6b41a5 35.7%,#a12998 38.1%,#b51a91 38.9%,#da1e3b 41.3%,#e73e21 42.9%,#f0762f 47.6%,#f0762f 61.9%,#ea4b23 65.9%,#e12d2f 67.5%,#ce1858 69.1%,#b21c92 70.7%,#783ea3 73%,#4a3c9e 76.2%,#342e84 85.7%,#342d83 99.2%)"></i><i style="left:200px;width:5.6px;background:linear-gradient(#2a256c 0%,#38318e 30.2%,#5e45a7 35.7%,#a62596 38.9%,#ba188c 39.7%,#dc2138 42.1%,#e84020 43.7%,#ef702e 48.4%,#ef6f2d 61.9%,#e63c24 66.7%,#da1c3d 68.3%,#b41b92 70.7%,#783da3 73%,#4f3fa1 75.4%,#342d82 81.8%,#302a7a 99.2%)"></i><i style="left:205px;width:5.6px;background:linear-gradient(#2c2872 0%,#3a3392 29.4%,#5945a7 34.9%,#9b2d9b 38.1%,#be1881 39.7%,#d71844 41.3%,#e84321 43.7%,#ef722e 48.4%,#ef712e 61.9%,#e83f21 66.7%,#d3184e 69.1%,#ba188c 70.7%,#5f45a7 74.6%,#393290 80.2%,#322c80 94.5%,#322c80 99.2%)"></i><i style="left:210px;width:5.6px;background:linear-gradient(#312b7c 0%,#45399b 31%,#6344a7 34.9%,#a52697 38.1%,#b71890 38.9%,#da1d3c 41.3%,#e63c23 42.9%,#ef722e 47.6%,#f07730 61.1%,#ea5125 65.9%,#e43727 67.5%,#d81841 69.1%,#b01e93 71.5%,#6a42a6 74.6%,#44399b 78.6%,#37308a 96.1%,#37308a 99.2%)"></i><i style="left:215px;width:5.6px;background:linear-gradient(#312b7d 0%,#463a9c 31%,#6643a6 34.9%,#a82396 38.1%,#ba188c 38.9%,#db1f3a 41.3%,#e94923 43.7%,#ef732f 48.4%,#ef722e 61.9%,#e94521 66.7%,#d8193f 69.1%,#b31c92 71.5%,#6d41a5 74.6%,#463a9c 78.6%,#37308b 94.5%,#37308b 99.2%)"></i><i style="left:220px;width:5.6px;background:linear-gradient(#2c2772 0%,#3c3495 29.4%,#5644a6 34.1%,#92349e 37.3%,#b61a91 38.9%,#d8193f 41.3%,#e84221 43.7%,#ee6a2c 48.4%,#ee692c 61.9%,#e73d22 66.7%,#d41849 69.1%,#bd1883 70.7%,#8a39a0 73%,#5141a3 76.2%,#363089 82.6%,#322c80 99.2%)"></i><i style="left:225px;width:5.6px;background:linear-gradient(#2f2977 0%,#44399b 31%,#6842a6 34.9%,#ba188a 38.9%,#da1d3c 41.3%,#e94421 43.7%,#ee6b2c 48.4%,#ee6a2c 61.9%,#e84020 66.7%,#d71842 69.1%,#b31c92 71.5%,#6e40a5 74.6%,#44399b 78.6%,#352e85 92.9%,#352e85 99.2%)"></i><i style="left:230px;width:5.6px;background:linear-gradient(#2f2a78 0%,#43389a 30.2%,#5e45a7 34.1%,#9c2d9a 37.3%,#bc1886 38.9%,#db1f3b 41.3%,#e94421 43.7%,#ee692c 48.4%,#ee682b 61.9%,#e84020 66.7%,#d81840 69.1%,#b61a91 71.5%,#713fa4 74.6%,#4b3d9f 77.8%,#362f87 88.1%,#352e86 99.2%)"></i><i style="left:235px;width:5.6px;background:linear-gradient(#312b7d 0%,#463a9c 30.2%,#6543a6 34.1%,#a22898 37.3%,#c0187d 38.9%,#d51847 40.5%,#e63c23 42.9%,#ee672b 47.6%,#ee682c 61.9%,#e84221 66.7%,#d91c3d 69.1%,#ba188b 71.5%,#6a42a6 75.4%,#43389a 80.2%,#37308b 99.2%)"></i><i style="left:240px;width:5.6px;background:linear-gradient(#2e2976 0%,#43389a 30.2%,#6244a7 34.1%,#9f2a99 37.3%,#be1882 38.9%,#da1e3b 41.3%,#e84120 43.7%,#ed642a 49.2%,#ec5e29 62.7%,#e63c23 66.7%,#d71842 69.1%,#b81890 71.5%,#753ea4 74.6%,#5241a3 77%,#37308b 84.2%,#342e83 99.2%)"></i><i style="left:245px;width:5.6px;background:linear-gradient(#312b7d 0%,#45399b 29.4%,#6a41a5 34.1%,#b71990 38.1%,#d61844 40.5%,#e94421 43.7%,#ed662b 49.2%,#ed6029 62.7%,#e84020 66.7%,#da1c3d 69.1%,#ae2094 72.3%,#6e40a5 75.4%,#473b9d 79.4%,#37308b 96.1%,#37308b 99.2%)"></i><i style="left:250px;width:5.6px;background:linear-gradient(#2c2771 0%,#3b3393 27.8%,#5845a7 33.3%,#a12999 37.3%,#be1882 38.9%,#d91b3d 41.3%,#e94421 44.5%,#ec5e28 50.8%,#eb5225 63.5%,#e43727 66.7%,#d51846 69.1%,#b71890 71.5%,#763ea3 74.6%,#5241a3 77%,#362f87 84.2%,#322c7f 99.2%)"></i><i style="left:255px;width:5.6px;background:linear-gradient(#2c2772 0%,#3c3495 27.8%,#5b46a8 33.3%,#a42697 37.3%,#bf187d 38.9%,#da1d3c 41.3%,#e84321 44.5%,#ec5c28 51.6%,#ea5025 63.5%,#e43628 66.7%,#d51847 69.1%,#b81890 71.5%,#6942a6 75.4%,#3f3698 80.2%,#322c80 92.1%,#322c80 99.2%)"></i><i style="left:260px;width:5.6px;background:linear-gradient(#302b7b 0%,#463a9c 29.4%,#6543a6 33.3%,#ad2094 37.3%,#c51870 38.9%,#d71842 40.5%,#e84020 43.7%,#ec5e29 50%,#eb5727 62.7%,#e53925 66.7%,#d81940 69.1%,#af1f93 72.3%,#6443a6 76.2%,#3f3698 81.8%,#362f89 99.2%)"></i><i style="left:265px;width:5.6px;background:linear-gradient(#302b7b 0%,#45399b 28.6%,#6842a6 33.3%,#b01e93 37.3%,#d81841 40.5%,#e84020 43.7%,#ec5c28 50.8%,#ea5125 63.5%,#e53827 66.7%,#d81841 69.1%,#af1f93 72.3%,#6643a6 76.2%,#403698 81.8%,#363089 99.2%)"></i><i style="left:270px;width:5.6px;background:linear-gradient(#2e2976 0%,#43389a 28.6%,#6742a6 33.3%,#bc1887 38.1%,#db2039 41.3%,#e94722 45.3%,#eb5726 54.8%,#e94722 64.3%,#df2932 67.5%,#cc185d 69.9%,#ba188b 71.5%,#7040a4 75.4%,#473b9d 79.4%,#342e84 93.7%,#342e84 99.2%)"></i><i style="left:275px;width:5.6px;background:linear-gradient(#302a7b 0%,#463a9c 28.6%,#6244a7 32.6%,#a52697 36.5%,#bf1880 38.1%,#d81840 40.5%,#e84321 44.5%,#eb5626 52.4%,#ea4b23 63.5%,#e3332a 66.7%,#d61845 69.1%,#af1f93 72.3%,#6842a6 76.2%,#403698 81.8%,#362f88 99.2%)"></i><i style="left:280px;width:5.6px;background:linear-gradient(#2f2a78 0%,#453a9c 28.6%,#6e40a5 33.3%,#b41b91 37.3%,#d71842 40.5%,#e94521 45.3%,#eb5225 58%,#e73e22 65.1%,#d4184a 69.1%,#ba188a 71.5%,#6742a6 76.2%,#3f3698 81.8%,#352e86 97.7%,#352e86 99.2%)"></i><i style="left:285px;width:5.6px;background:linear-gradient(#312b7c 0%,#453a9c 27.8%,#6842a6 32.6%,#ab2295 36.5%,#c11879 38.1%,#d9193f 40.5%,#e94521 45.3%,#ea5125 58.8%,#e43727 65.9%,#d51848 69.1%,#b01e93 72.3%,#6a41a5 76.2%,#423799 81.8%,#373089 99.2%)"></i><i style="left:290px;width:5.6px;background:linear-gradient(#322c7e 0%,#45399b 27%,#6244a7 31.8%,#a12998 35.7%,#bb188a 37.3%,#d91b3e 40.5%,#e94521 45.3%,#ea4f24 59.5%,#e43728 65.9%,#d51848 69.1%,#b11d92 72.3%,#6e41a5 76.2%,#463a9c 81%,#38318c 99.2%)"></i><i style="left:295px;width:5.6px;background:linear-gradient(#302a7a 0%,#463a9c 27.8%,#6b41a5 32.6%,#b71990 37.3%,#da1c3d 41.3%,#e84120 47.6%,#e63a25 63.5%,#d61846 68.3%,#b81890 71.5%,#6a41a5 76.2%,#413799 81.8%,#362f88 99.2%)"></i><i style="left:300px;width:5.6px;background:linear-gradient(#312b7c 0%,#45399b 27%,#6d41a5 32.6%,#b61a91 37.3%,#da1e3b 42.1%,#e63a25 49.2%,#e2322b 63.5%,#d71841 67.5%,#b61a91 71.5%,#6144a7 77%,#3e3597 83.4%,#37308a 99.2%)"></i><i style="left:305px;width:5.6px;background:linear-gradient(#2d2874 0%,#3b3394 24.6%,#5e45a7 31.8%,#a22898 36.5%,#b81890 38.1%,#d81841 42.9%,#e02c30 52.4%,#db2039 64.3%,#cf1857 67.5%,#b71990 70.7%,#6543a6 76.2%,#3c3496 82.6%,#332d82 96.1%,#332d82 99.2%)"></i><i style="left:310px;width:5.6px;background:linear-gradient(#2d2873 0%,#3a3291 23.8%,#5e45a7 31.8%,#aa2295 37.3%,#ca1863 41.3%,#da1c3d 46.1%,#d91a3f 63.5%,#c41871 68.3%,#b11d93 70.7%,#6443a6 76.2%,#3c3496 82.6%,#332d81 95.3%,#332d81 99.2%)"></i><i style="left:315px;width:5.6px;background:linear-gradient(#282467 0%,#352e86 23.8%,#5744a6 31.8%,#9f2a99 37.3%,#be1881 40.5%,#d2184f 46.1%,#d4184a 61.1%,#c5186f 66.7%,#af1e93 69.9%,#5b46a8 76.2%,#362f87 83.4%,#2e2975 99.2%)"></i><i style="left:320px;width:5.6px;background:linear-gradient(#2f2a79 0%,#463a9c 27%,#6d41a5 32.6%,#ba188c 38.9%,#d3184c 44.5%,#d91a3e 54.8%,#d3184d 64.3%,#b01e93 70.7%,#5f45a7 77%,#3b3394 85%,#362f87 99.2%)"></i><i style="left:325px;width:5.6px;background:linear-gradient(#2e2977 0%,#403698 25.4%,#6244a7 31.8%,#bb1888 39.7%,#d01854 45.3%,#d4184a 59.5%,#c91865 65.9%,#ac2195 70.7%,#5e45a7 77%,#3a3292 85%,#342e85 99.2%)"></i><i style="left:330px;width:5.6px;background:linear-gradient(#302a7a 0%,#44399b 26.2%,#6543a6 31.8%,#ba188a 39.7%,#cf1856 46.1%,#cf1857 62.7%,#bd1883 68.3%,#6a42a6 76.2%,#413799 82.6%,#362f88 99.2%)"></i><i style="left:335px;width:5.6px;background:linear-gradient(#29256a 0%,#362f88 23%,#5945a7 31.8%,#b81890 41.3%,#c6186c 48.4%,#c31875 63.5%,#a52697 69.9%,#5644a6 77%,#342e83 85.7%,#2f2a78 99.2%)"></i><i style="left:340px;width:5.6px;background:linear-gradient(#2d2873 0%,#3a3292 23%,#5845a7 31%,#b51a91 40.5%,#c6186c 48.4%,#c31874 63.5%,#a72496 69.9%,#5c46a8 77%,#38318d 85.7%,#332d81 99.2%)"></i><i style="left:345px;width:5.6px;background:linear-gradient(#2d2873 0%,#3a3291 23%,#5f45a7 31.8%,#b31b92 40.5%,#c5186f 48.4%,#c21877 63.5%,#a62597 69.9%,#5b46a8 77%,#38318c 85.7%,#332d81 99.2%)"></i><i style="left:350px;width:5.6px;background:linear-gradient(#29256b 0%,#362f89 23%,#5945a7 31.8%,#b11d92 41.3%,#c11879 51.6%,#bc1886 64.3%,#92349e 71.5%,#5140a2 77.8%,#332d82 86.5%,#2f2a79 99.2%)"></i><i style="left:355px;width:5.6px;background:linear-gradient(#312b7d 0%,#463a9c 26.2%,#6e40a5 32.6%,#bb1889 41.3%,#c7186a 48.4%,#c41871 63.5%,#ab2295 69.9%,#5a46a8 77.8%,#3a3392 87.3%,#37308a 99.2%)"></i><i style="left:360px;width:5.6px;background:linear-gradient(#322c7f 0%,#473b9d 26.2%,#7040a5 32.6%,#bb1889 41.3%,#c7186a 48.4%,#c41871 63.5%,#ab2195 69.9%,#5c46a8 77.8%,#3b3394 87.3%,#38318c 99.2%)"></i><i style="left:365px;width:5.6px;background:linear-gradient(#2b266e 0%,#38318c 23%,#5b46a8 31.8%,#ab2195 40.5%,#c0187d 50%,#bb1889 64.3%,#8b38a0 72.3%,#5241a3 77.8%,#342e84 87.3%,#312b7c 99.2%)"></i><i style="left:370px;width:5.6px;background:linear-gradient(#302a79 0%,#44399b 26.2%,#6b41a5 32.6%,#b61991 41.3%,#c31874 49.2%,#bf187f 64.3%,#a02a99 70.7%,#5342a4 78.6%,#38318c 88.9%,#362f87 99.2%)"></i><i style="left:375px;width:5.6px;background:linear-gradient(#332d82 0%,#493c9e 26.2%,#6942a6 31.8%,#b71991 40.5%,#c5186f 47.6%,#c31875 63.5%,#a42697 70.7%,#5845a7 78.6%,#3b3393 89.7%,#393290 99.2%)"></i><i style="left:380px;width:5.6px;background:linear-gradient(#2b266f 0%,#38318d 23%,#5a46a8 31.8%,#a82496 40.5%,#bd1885 49.2%,#b8188f 64.3%,#813ba2 73%,#5241a3 77.8%,#342e84 87.3%,#312b7c 99.2%)"></i><i style="left:385px;width:5.6px;background:linear-gradient(#312b7d 0%,#463a9c 26.2%,#6d41a5 32.6%,#b51a91 41.3%,#c21877 50%,#be1882 64.3%,#992e9b 71.5%,#5543a5 78.6%,#393290 88.9%,#37308b 99.2%)"></i><i style="left:390px;width:5.6px;background:linear-gradient(#332d81 0%,#483b9d 26.2%,#7040a4 32.6%,#b71990 41.3%,#c31875 50%,#be1880 64.3%,#9b2d9b 71.5%,#5342a4 79.4%,#3a3291 91.3%,#39328f 99.2%)"></i><i style="left:395px;width:5.6px;background:linear-gradient(#342d83 0%,#493c9e 26.2%,#7140a4 32.6%,#b71990 41.3%,#c31876 50%,#be1880 64.3%,#9b2d9a 71.5%,#5342a4 79.4%,#3a3392 92.1%,#3a3291 99.2%)"></i><i style="left:400px;width:5.6px;background:linear-gradient(#2a266e 0%,#38308c 23%,#5945a7 31.8%,#a32798 40.5%,#b8188f 50.8%,#ad2094 65.9%,#753ea4 73.8%,#4c3ea0 78.6%,#322c7f 89.7%,#302b7b 99.2%)"></i><i style="left:405px;width:5.6px;background:linear-gradient(#2b2770 0%,#38318e 23%,#5a46a8 31.8%,#a42697 40.5%,#b9188d 50.8%,#ae1f94 65.9%,#773ea3 73.8%,#493c9e 79.4%,#322c7f 92.1%,#312b7d 99.2%)"></i><i style="left:410px;width:5.6px;background:linear-gradient(#2f2a78 0%,#43389a 26.2%,#6842a6 32.6%,#ae1f94 41.3%,#bd1884 54.8%,#ad2094 67.5%,#5744a6 77.8%,#38318d 87.3%,#352e86 99.2%)"></i><i style="left:415px;width:5.6px;background:linear-gradient(#322c7e 0%,#473b9d 26.2%,#6d41a5 32.6%,#b21c92 41.3%,#c0187d 52.4%,#ba188b 65.1%,#823ba2 73.8%,#5141a3 79.4%,#39318e 91.3%,#38318c 99.2%)"></i><i style="left:420px;width:5.6px;background:linear-gradient(#2b266e 0%,#38318d 23%,#5946a8 31.8%,#a32798 40.5%,#b9188e 50.8%,#ad2094 65.9%,#763ea4 73.8%,#4d3ea0 78.6%,#322c80 89.7%,#312b7c 99.2%)"></i><i style="left:425px;width:5.6px;background:linear-gradient(#2c2772 0%,#393290 23%,#5c46a8 31.8%,#aa2295 41.3%,#ba188b 54%,#ac2194 66.7%,#7040a4 74.6%,#43389a 81%,#322c80 95.3%,#322c7f 99.2%)"></i><i style="left:430px;width:5.6px;background:linear-gradient(#2b276f 0%,#38318d 23%,#5a46a8 31.8%,#a42797 40.5%,#b9188d 50.8%,#ae1f94 65.9%,#763ea3 73.8%,#493c9e 79.4%,#322c7f 92.1%,#312b7d 99.2%)"></i><i style="left:435px;width:5.6px;background:linear-gradient(#312c7e 0%,#473a9c 26.2%,#6d41a5 32.6%,#b21c92 41.3%,#bf187d 53.2%,#ba188c 65.1%,#823ba2 73.8%,#5140a2 79.4%,#38318e 91.3%,#38308c 99.2%)"></i><i style="left:440px;width:5.6px;background:linear-gradient(#2d2873 0%,#3a3291 23%,#5d45a8 31.8%,#a62596 40.5%,#bb188a 50%,#b01e93 65.9%,#793da3 73.8%,#4b3d9f 79.4%,#332d82 92.1%,#332d81 99.2%)"></i><i style="left:445px;width:5.6px;background:linear-gradient(#302a7a 0%,#45399b 26.2%,#6a41a5 32.6%,#b01e93 41.3%,#be1881 55.6%,#ae1f93 67.5%,#6643a6 76.2%,#3c3496 85%,#362f88 99.2%)"></i><i style="left:450px;width:5.6px;background:linear-gradient(#302b7b 0%,#45399b 26.2%,#6b41a5 32.6%,#b01e93 41.3%,#be1881 55.6%,#af1f93 67.5%,#5f45a7 77%,#3a3392 86.5%,#362f89 99.2%)"></i><i style="left:455px;width:5.6px;background:linear-gradient(#322c7e 0%,#473a9c 26.2%,#6d41a5 32.6%,#b21c92 41.3%,#c0187d 52.4%,#ba188b 65.1%,#823ba2 73.8%,#5141a3 79.4%,#39318e 91.3%,#38318c 99.2%)"></i><i style="left:460px;width:5.6px;background:linear-gradient(#302a79 0%,#44399b 26.2%,#6942a6 32.6%,#af1f93 41.3%,#be1882 55.6%,#ae1f94 67.5%,#5e45a7 77%,#3b3393 85.7%,#362f87 99.2%)"></i><i style="left:465px;width:5.6px;background:linear-gradient(#2f2a79 0%,#463a9c 27%,#6942a6 32.6%,#af1f93 41.3%,#bd1883 56.4%,#ad2094 67.5%,#6543a6 76.2%,#3b3495 85%,#352f87 99.2%)"></i><i style="left:470px;width:5.6px;background:linear-gradient(#322c7e 0%,#473a9c 26.2%,#6d41a5 32.6%,#b21c92 41.3%,#c0187d 52.4%,#ba188b 65.1%,#823ba2 73.8%,#5141a3 79.4%,#39318e 91.3%,#38318c 99.2%)"></i><i style="left:475px;width:5.6px;background:linear-gradient(#302a7a 0%,#44399b 26.2%,#6a42a5 32.6%,#af1e93 41.3%,#be1882 55.6%,#ae1f94 67.5%,#5845a7 77.8%,#38318e 88.1%,#362f88 99.2%)"></i><i style="left:480px;width:5.6px;background:linear-gradient(#2b266e 0%,#38318d 23%,#5946a8 31.8%,#a32798 40.5%,#b9188e 50.8%,#ad2094 65.9%,#763ea4 73.8%,#4d3ea0 78.6%,#322c80 89.7%,#312b7c 99.2%)"></i><i style="left:485px;width:4.2px;background:linear-gradient(#2d2873 0%,#3a3291 23%,#5d45a8 31.8%,#ab2295 41.3%,#bb1889 54%,#ad2094 66.7%,#7140a4 74.6%,#44399b 81%,#332d81 95.3%,#332d81 99.2%)"></i></div><div class="hm" style="left:725px;top:1879.3px;width:488.6px;height:260.9px"><i style="left:0px;width:5.6px;background:linear-gradient(#3e3597 0%,#493c9e 26.1%,#6643a6 30.7%,#ab2195 33.7%,#c0187d 34.5%,#d2184f 35.3%,#e02d30 36%,#ea4c23 36.8%,#f48a29 38.3%,#f9c014 39.9%,#f8df23 41.4%,#faea58 42.2%,#fffff3 43.7%,#fffff5 69.8%,#faeb5e 71.3%,#f8e024 72.1%,#fac214 73.6%,#ef702e 75.9%,#ea4e24 76.7%,#e12f2e 77.4%,#d3184c 78.2%,#c1187a 79%,#ad2094 79.7%,#743fa4 82%,#5141a3 85.1%,#3e3597 99.7%)"></i><i style="left:5px;width:5.6px;background:linear-gradient(#3d3597 0%,#483b9d 26.1%,#6842a6 30.7%,#9b2d9b 33%,#b11d92 33.7%,#d71842 35.3%,#e33529 36%,#f07630 37.6%,#fac712 39.9%,#f8e226 41.4%,#fdf7bb 42.9%,#fffff5 43.7%,#fffff5 69%,#fffeeb 69.8%,#f9e94f 71.3%,#f9de22 72.1%,#f9be15 73.6%,#ee6b2c 75.9%,#e94923 76.7%,#df2a32 77.4%,#d01853 78.2%,#be1880 79%,#94329d 80.5%,#5a46a8 83.6%,#3f3698 93.5%,#3d3597 99.7%)"></i><i style="left:10px;width:5.6px;background:linear-gradient(#362f89 0%,#3b3393 23%,#5644a6 29.9%,#97309c 33%,#ae1f93 33.7%,#c31874 34.5%,#d61844 35.3%,#e33429 36%,#f07730 37.6%,#fac812 39.9%,#f8e125 41.4%,#fffff5 43.7%,#fffff5 69%,#fdf9c7 69.8%,#f8e429 71.3%,#face11 72.8%,#f17e2e 75.1%,#e73c23 76.7%,#da1d3c 77.4%,#b51a91 79%,#743fa4 81.3%,#4c3d9f 84.3%,#37308a 95.8%,#362f89 99.7%)"></i><i style="left:15px;width:5.6px;background:linear-gradient(#352e85 0%,#3a3291 23%,#5a46a8 29.9%,#a42797 33%,#bb1888 33.7%,#dd2536 35.3%,#e84321 36%,#f2812d 37.6%,#facc10 39.9%,#f8e125 41.4%,#fefbd9 43.7%,#fffff5 44.5%,#fffef0 68.2%,#f8e530 70.5%,#fad114 72.1%,#ef702e 75.1%,#e2312c 76.7%,#d51847 77.4%,#c21876 78.2%,#ae1f94 79%,#6f40a5 81.3%,#493c9e 84.3%,#352e86 96.6%,#352e85 99.7%)"></i><i style="left:20px;width:5.6px;background:linear-gradient(#3a3291 0%,#44399b 24.5%,#6244a7 29.1%,#a72596 32.2%,#bc1887 33%,#dc2238 34.5%,#e73e22 35.3%,#f07930 36.8%,#fad014 39.9%,#f8e226 41.4%,#fffeed 44.5%,#fffff5 66.7%,#fefbd8 67.5%,#f9e639 69.8%,#f9d518 71.3%,#f9b21a 72.8%,#ee6a2c 75.1%,#ea4c23 75.9%,#d51847 77.4%,#b21d92 79%,#773ea3 81.3%,#5040a2 84.3%,#3a3392 96.6%,#3a3291 99.7%)"></i><i style="left:25px;width:5.6px;background:linear-gradient(#3c3496 0%,#493c9e 24.5%,#6543a6 28.4%,#a62596 31.4%,#bb188a 32.2%,#da1c3d 33.7%,#e43628 34.5%,#f79923 37.6%,#fad215 39.9%,#f8e125 41.4%,#f9e742 42.2%,#fdf7bb 44.5%,#fffeee 46%,#fffff5 64.4%,#fdf5ac 66.7%,#f8e42b 69%,#face11 71.3%,#f17c2f 74.4%,#e94521 75.9%,#d3184c 77.4%,#b21c92 79%,#7a3da3 81.3%,#5241a3 84.3%,#3c3496 98.1%,#3c3496 99.7%)"></i><i style="left:30px;width:5.6px;background:linear-gradient(#3a3290 0%,#463a9c 23.8%,#6144a7 27.6%,#a22898 30.7%,#b71990 31.4%,#d71843 33%,#e94923 34.5%,#f17d2e 36%,#faca11 39.1%,#f8e533 42.2%,#fcf294 44.5%,#fefbd3 47.5%,#fffde8 52.9%,#fefce0 60.6%,#fdf7b9 63.6%,#fbee75 65.9%,#f8e52e 67.5%,#fac712 70.5%,#f07a2f 73.6%,#e94622 75.1%,#d51848 76.7%,#b41b91 78.2%,#7b3da3 80.5%,#5141a3 83.6%,#3a3392 95.1%,#3a3291 99.7%)"></i><i style="left:35px;width:5.6px;background:linear-gradient(#362f88 0%,#3c3495 20.7%,#5c46a8 26.8%,#9d2c9a 29.9%,#b21d92 30.7%,#d2184e 32.2%,#e84120 33.7%,#ef742f 35.3%,#facd10 39.1%,#f8e327 42.2%,#fbef7c 45.2%,#fcf4a2 49.1%,#fcf49e 59.8%,#fbef7b 62.9%,#f8e327 65.9%,#facd10 69%,#ef742f 72.8%,#e84120 74.4%,#d3184d 75.9%,#b21c92 77.4%,#783da3 79.7%,#4e3fa1 82.8%,#37308c 92%,#362f88 99.7%)"></i><i style="left:40px;width:5.6px;background:linear-gradient(#39318e 0%,#453a9c 22.2%,#6244a7 26.1%,#a22898 29.1%,#b61991 29.9%,#d41849 31.4%,#e84221 33%,#f3852b 35.3%,#fad114 39.1%,#f8e634 42.9%,#faed6f 46%,#fbf083 51.4%,#faee71 59.8%,#f9e847 62.9%,#f8e327 64.4%,#faca11 68.2%,#f07630 72.1%,#e94622 73.6%,#d71842 75.1%,#b9188d 76.7%,#7140a4 79.7%,#4d3ea0 82.8%,#39328f 95.1%,#39318e 99.7%)"></i><i style="left:45px;width:5.6px;background:linear-gradient(#3f3698 0%,#4c3d9f 21.5%,#6b41a5 25.3%,#a92395 28.4%,#bb1887 29.1%,#d8193f 30.7%,#e94722 32.2%,#f07630 33.7%,#fad114 38.3%,#f8e327 41.4%,#fbef7d 45.2%,#fcf39b 49.8%,#fbee73 59%,#f9e848 62.1%,#f8e327 63.6%,#facb11 67.5%,#f07a2f 71.3%,#e33429 73.6%,#cd185c 75.1%,#ae2094 76.7%,#6d41a5 79.7%,#4c3ea0 83.6%,#3f3698 99.7%)"></i><i style="left:50px;width:5.6px;background:linear-gradient(#362f89 0%,#3d3597 19.2%,#5c46a8 24.5%,#9b2d9a 27.6%,#c0187c 29.1%,#dc2238 30.7%,#e53926 31.4%,#f48d27 34.5%,#fad115 38.3%,#f8e530 42.2%,#fbf188 46%,#fcf5aa 49.8%,#fbf082 54.4%,#f8e327 61.3%,#facd10 65.9%,#ef6e2d 70.5%,#e73f21 72.1%,#d3184d 73.6%,#b41b91 75.1%,#7c3da3 77.4%,#4f3fa1 80.5%,#37308b 90.5%,#362f89 99.7%)"></i><i style="left:55px;width:5.6px;background:linear-gradient(#3d3597 0%,#4a3c9e 19.9%,#6742a6 23.8%,#a42697 26.8%,#b81890 27.6%,#d41849 29.1%,#e84020 30.7%,#f2812c 33%,#face11 36.8%,#f8e429 40.6%,#feface 46%,#fffff5 48.3%,#fffef0 52.1%,#f8e226 61.3%,#fac413 65.9%,#ef742f 69.8%,#e94622 71.3%,#d81940 72.8%,#bc1887 74.4%,#773ea3 77.4%,#4e3fa1 81.3%,#3d3597 97.4%,#3d3597 99.7%)"></i><i style="left:60px;width:5.6px;background:linear-gradient(#3b3495 0%,#483b9d 19.2%,#6343a7 23%,#a12999 26.1%,#b41b92 26.8%,#d11851 28.4%,#e63b24 29.9%,#f48d28 33%,#fad014 36.8%,#f8e42a 40.6%,#fffeeb 46.8%,#fffff5 50.6%,#fffeea 52.9%,#f8e428 59.8%,#facc10 64.4%,#ef702e 69%,#e84221 70.5%,#d61845 72.1%,#b9188d 73.6%,#743fa4 76.7%,#4c3d9f 80.5%,#3c3495 95.8%,#3b3495 99.7%)"></i><i style="left:65px;width:5.6px;background:linear-gradient(#3b3395 0%,#4a3c9e 19.2%,#6e40a5 23%,#9f2a99 25.3%,#b21c92 26.1%,#dc2238 28.4%,#e53826 29.1%,#f48a29 32.2%,#face11 36%,#f8e327 40.6%,#fef9ca 47.5%,#fefce0 49.8%,#fdf7ba 52.9%,#f8e52f 58.3%,#fac912 63.6%,#ee6d2d 68.2%,#e83f20 69.8%,#d51849 71.3%,#b8188f 72.8%,#733fa4 75.9%,#4b3d9f 79.7%,#3b3395 97.4%,#3b3395 99.7%)"></i><i style="left:70px;width:5.6px;background:linear-gradient(#3c3496 0%,#4b3d9f 18.4%,#6f40a5 22.2%,#9f2a99 24.5%,#b11d92 25.3%,#db2039 27.6%,#ea4d24 29.1%,#f3882a 31.4%,#facd10 35.3%,#f8e52f 42.2%,#fbef7d 48.3%,#fbef7c 51.4%,#f9e63a 56%,#f8e024 58.3%,#fac613 62.9%,#ee6b2c 67.5%,#e73f21 69%,#d41849 70.5%,#b8188f 72.1%,#743fa4 75.1%,#4c3ea0 79%,#3c3496 95.8%,#3c3496 99.7%)"></i><i style="left:75px;width:5.6px;background:linear-gradient(#38318e 0%,#463a9c 17.6%,#6643a6 21.5%,#a72496 24.5%,#ba188b 25.3%,#d61845 26.8%,#e84120 28.4%,#f17e2d 30.7%,#facb11 35.3%,#f8e326 47.5%,#f9d317 59.8%,#f9b419 62.9%,#ee6a2c 66.7%,#e73e21 68.2%,#d51849 69.8%,#b9188e 71.3%,#723fa4 74.4%,#4d3ea0 77.4%,#39328f 88.2%,#38318e 99.7%)"></i><i style="left:80px;width:5.6px;background:linear-gradient(#3a3291 0%,#463a9c 16.9%,#6543a6 20.7%,#a42697 23.8%,#b71890 24.5%,#d3184d 26.1%,#e63a24 27.6%,#f3872a 30.7%,#facd10 35.3%,#f9dd21 49.1%,#facf12 59.8%,#f2812c 65.2%,#e94722 67.5%,#da1c3c 69%,#af1e93 71.3%,#7b3da3 73.6%,#5141a3 76.7%,#3b3393 86.6%,#3a3291 99.7%)"></i><i style="left:85px;width:5.6px;background:linear-gradient(#403698 0%,#4c3ea0 16.1%,#6c41a5 19.9%,#a82496 23%,#ba188c 23.8%,#d4184b 25.3%,#e63b24 26.8%,#f3852b 29.9%,#facf12 35.3%,#f9dc1f 50.6%,#facc10 59.8%,#f17b2f 65.2%,#e84020 67.5%,#d71841 69%,#bd1884 70.5%,#8c38a0 72.8%,#5543a5 76.7%,#403799 87.4%,#403698 99.7%)"></i><i style="left:90px;width:5.6px;background:linear-gradient(#39328f 0%,#473b9d 16.1%,#6b41a5 19.9%,#9a2e9b 22.2%,#bd1885 23.8%,#d71842 25.3%,#e83f21 26.8%,#f3862b 29.9%,#face11 36%,#face11 57.5%,#f59126 62.9%,#ed652b 65.2%,#e73e22 66.7%,#d61844 68.2%,#bc1886 69.8%,#783da3 72.8%,#4b3d9f 76.7%,#39328f 89.7%,#39328f 99.7%)"></i><i style="left:95px;width:5.6px;background:linear-gradient(#39318f 0%,#463a9c 15.3%,#6842a6 19.2%,#a72496 22.2%,#b9188d 23%,#d3184d 24.5%,#e53727 26.1%,#f48b29 29.9%,#facb11 36%,#faca11 56.7%,#f3862a 62.9%,#e94421 65.9%,#da1d3c 67.5%,#b31c92 69.8%,#7140a4 72.8%,#493c9e 76.7%,#39328f 90.5%,#39318f 99.7%)"></i><i style="left:100px;width:5.6px;background:linear-gradient(#362f88 0%,#42389a 14.6%,#6144a7 18.4%,#9f2a99 21.5%,#bf187d 23%,#d91a3f 24.5%,#e83f21 26.1%,#f2812c 29.1%,#f9c015 35.3%,#face11 46%,#f9c114 56%,#f3852b 62.1%,#e94522 65.2%,#db203a 66.7%,#b71991 69%,#733fa4 72.1%,#4c3ea0 75.1%,#37308b 84.3%,#362f88 99.7%)"></i><i style="left:105px;width:5.6px;background:linear-gradient(#39318f 0%,#473b9d 14.6%,#6d41a5 18.4%,#bc1887 22.2%,#d41849 23.8%,#e43727 25.3%,#f3852b 29.1%,#f9bf15 35.3%,#facb11 50.6%,#f9ae1b 58.3%,#ee682b 63.6%,#e94521 65.2%,#d21850 67.5%,#b9188d 69%,#6a42a5 72.8%,#43389a 77.4%,#39318e 99.7%)"></i><i style="left:110px;width:5.6px;background:linear-gradient(#3c3496 0%,#4a3c9e 13.8%,#6c41a5 17.6%,#a72496 20.7%,#b81890 21.5%,#da1e3c 23.8%,#e84120 25.3%,#f17f2d 28.4%,#f9bd16 35.3%,#fac812 51.4%,#f9ad1c 58.3%,#ee6a2c 63.6%,#e53826 65.9%,#d61846 67.5%,#b01e93 69.8%,#733fa4 72.8%,#4c3d9f 76.7%,#3c3496 92.8%,#3c3496 99.7%)"></i><i style="left:115px;width:5.6px;background:linear-gradient(#3e3597 0%,#4e3fa1 13.8%,#753ea4 17.6%,#b11d93 20.7%,#d51846 23%,#e94722 25.3%,#f2812d 28.4%,#f9ba17 35.3%,#f9c114 52.9%,#f79c22 59.8%,#ee6a2c 63.6%,#e63a25 65.9%,#d81840 67.5%,#b41b91 69.8%,#783ea3 72.8%,#4e3fa1 76.7%,#3e3597 92.8%,#3e3597 99.7%)"></i><i style="left:120px;width:5.6px;background:linear-gradient(#3c3496 0%,#4e3fa1 13.8%,#793da3 17.6%,#b51a91 20.7%,#d81840 23%,#e94922 25.3%,#f17f2d 28.4%,#f9b319 35.3%,#f9b718 53.7%,#f58f27 60.6%,#eb5727 64.4%,#e53827 65.9%,#d71842 67.5%,#b41b91 69.8%,#783ea3 72.8%,#4d3ea0 76.7%,#3c3496 91.2%,#3c3496 99.7%)"></i><i style="left:125px;width:5.6px;background:linear-gradient(#3c3496 0%,#4c3ea0 13%,#733fa4 16.9%,#bb1889 20.7%,#da1d3c 23%,#e73d23 24.5%,#f3872a 29.1%,#f9b21a 36.8%,#f9ad1b 55.2%,#f17c2e 62.1%,#e53827 65.9%,#d81840 67.5%,#b71990 69.8%,#7b3da3 72.8%,#4f3fa1 76.7%,#3c3496 88.2%,#3c3495 99.7%)"></i><i style="left:130px;width:5.6px;background:linear-gradient(#3c3495 0%,#4e3fa1 13%,#793da3 16.9%,#b31b92 19.9%,#d51849 22.2%,#e84020 24.5%,#f3852b 29.1%,#f9ac1c 36.8%,#f8a71e 55.2%,#f0792f 62.1%,#e53727 65.9%,#d8193f 67.5%,#b9188e 69.8%,#713fa4 73.6%,#4c3d9f 77.4%,#3c3495 91.2%,#3c3495 99.7%)"></i><i style="left:135px;width:5.6px;background:linear-gradient(#3b3394 0%,#4c3d9f 12.3%,#723fa4 16.1%,#b9188e 19.9%,#d81841 22.2%,#e84321 24.5%,#f2832c 29.1%,#f8a51e 36.8%,#f8a020 55.2%,#f0752f 62.1%,#e94421 65.2%,#d8193f 67.5%,#ba188b 69.8%,#743fa4 73.6%,#4c3ea0 77.4%,#3b3394 89.7%,#3b3394 99.7%)"></i><i style="left:140px;width:5.6px;background:linear-gradient(#3d3597 0%,#4c3ea0 11.5%,#7140a4 15.3%,#b41b91 19.2%,#db1f3a 22.2%,#e94822 24.5%,#f2832b 29.1%,#f8a21f 37.6%,#f79b22 56%,#ef742f 62.1%,#e53926 65.9%,#d11850 68.2%,#b21c92 70.5%,#6f40a5 74.4%,#4c3ea0 78.2%,#3d3597 94.3%,#3d3597 99.7%)"></i><i style="left:145px;width:5.6px;background:linear-gradient(#3a3291 0%,#4b3d9f 11.5%,#723fa4 15.3%,#b71991 19.2%,#db1f3a 22.2%,#e94622 24.5%,#f2832c 29.9%,#f79b22 40.6%,#f48d28 57.5%,#ed622a 62.9%,#e84020 65.2%,#d9193f 67.5%,#b01e93 70.5%,#6d41a5 74.4%,#463a9c 79%,#3a3291 99.7%)"></i><i style="left:150px;width:5.6px;background:linear-gradient(#3e3597 0%,#4e3fa1 10.7%,#803ba2 15.3%,#b51a91 18.4%,#d91c3d 21.5%,#e84120 23.8%,#f17f2d 29.1%,#f69823 39.1%,#f48c28 57.5%,#ed642a 62.9%,#e53826 65.9%,#d4184a 68.2%,#b8188f 70.5%,#773ea3 74.4%,#4b3d9f 79%,#3d3597 97.4%,#3d3597 99.7%)"></i><i style="left:155px;width:5.6px;background:linear-gradient(#3a3292 0%,#4c3ea0 10.7%,#743fa4 14.6%,#b51a91 18.4%,#d91b3e 21.5%,#e73e21 23.8%,#f17f2d 29.9%,#f59226 42.2%,#f3852b 57.5%,#ec5e28 62.9%,#e83f21 65.2%,#d2184f 68.2%,#b61991 70.5%,#753fa4 74.4%,#493c9e 79%,#3a3291 92.8%,#3a3291 99.7%)"></i><i style="left:160px;width:5.6px;background:linear-gradient(#362f88 0%,#45399b 10%,#6643a6 13.8%,#a62597 17.6%,#be1881 19.2%,#d81840 21.5%,#e94521 24.5%,#f17c2e 30.7%,#f48b28 46.8%,#f07930 59%,#e53925 65.2%,#d71842 67.5%,#b21c92 70.5%,#7040a4 74.4%,#493c9e 78.2%,#362f88 88.2%,#362f87 99.7%)"></i><i style="left:165px;width:5.6px;background:linear-gradient(#37308a 0%,#483b9d 10%,#6c41a5 13.8%,#b9188e 18.4%,#d91c3d 21.5%,#e94622 24.5%,#f17b2f 30.7%,#f38929 47.5%,#f07730 59%,#e63a25 65.2%,#d8193f 67.5%,#b61a91 70.5%,#6942a6 75.1%,#403698 80.5%,#363089 98.9%,#363089 99.7%)"></i><i style="left:170px;width:5.6px;background:linear-gradient(#3a3291 0%,#4d3ea0 10%,#743fa4 13.8%,#b21c92 17.6%,#db2139 21.5%,#e84020 23.8%,#f17c2e 30.7%,#f38929 50.6%,#ef732f 59.8%,#e63c23 65.2%,#d3184e 68.2%,#b9188c 70.5%,#6f40a5 75.1%,#473b9d 79.7%,#393290 98.1%,#393290 99.7%)"></i><i style="left:175px;width:5.6px;background:linear-gradient(#393290 0%,#4d3ea0 10%,#753ea4 13.8%,#b31b92 17.6%,#db203a 21.5%,#e94822 24.5%,#f17c2e 31.4%,#f2822c 54.4%,#ed632a 61.3%,#e53925 65.2%,#d11851 68.2%,#b9188f 70.5%,#6e40a5 75.1%,#4a3d9f 79%,#39328f 91.2%,#39318f 99.7%)"></i><i style="left:180px;width:5.6px;background:linear-gradient(#37308b 0%,#4c3d9f 10%,#743fa4 13.8%,#bc1886 18.4%,#da1d3c 21.5%,#e94421 24.5%,#f07a2f 32.2%,#f07a2f 56%,#ea4e24 62.9%,#e33429 65.2%,#ce1858 68.2%,#b51a91 70.5%,#6b41a5 75.1%,#413799 80.5%,#37308a 97.4%,#37308a 99.7%)"></i><i style="left:185px;width:5.6px;background:linear-gradient(#38318e 0%,#4e3fa1 10%,#793da3 13.8%,#b61a91 17.6%,#db1f3a 21.5%,#e94521 24.5%,#f07830 32.2%,#f07930 56%,#e94622 63.6%,#d61844 67.5%,#b71990 70.5%,#6e40a5 75.1%,#4a3d9f 79%,#38318d 90.5%,#38318d 99.7%)"></i><i style="left:190px;width:5.6px;background:linear-gradient(#3b3394 0%,#5342a4 10%,#97309c 15.3%,#ba188b 17.6%,#d8193f 20.7%,#e94722 24.5%,#f07930 32.2%,#f07930 56%,#e94722 63.6%,#d81840 67.5%,#ba188c 70.5%,#743fa4 75.1%,#4a3d9f 79.7%,#3b3393 95.1%,#3b3393 99.7%)"></i><i style="left:195px;width:5.6px;background:linear-gradient(#3c3496 0%,#5040a2 9.2%,#833aa1 13.8%,#bc1887 17.6%,#d91a3e 20.7%,#e94722 24.5%,#f07630 32.2%,#f0762f 56%,#e94521 63.6%,#d81841 67.5%,#ba188b 70.5%,#753ea4 75.1%,#4f40a2 79%,#3b3394 91.2%,#3b3394 99.7%)"></i><i style="left:200px;width:5.6px;background:linear-gradient(#3e3597 0%,#5845a7 10%,#9e2b99 15.3%,#be1882 17.6%,#da1c3d 20.7%,#e94722 24.5%,#f0752f 32.2%,#ef742f 56%,#e94421 63.6%,#d81840 67.5%,#b11d93 71.3%,#6e40a5 75.9%,#473b9d 81.3%,#3c3496 99.7%)"></i><i style="left:205px;width:5.6px;background:linear-gradient(#39318e 0%,#4e3fa1 9.2%,#813ba2 13.8%,#b9188d 17.6%,#da1e3b 21.5%,#e94622 25.3%,#ef6e2d 33.7%,#ee6a2c 56%,#e63c23 63.6%,#d3184d 67.5%,#b51a91 70.5%,#6643a6 75.9%,#3d3597 82.8%,#38308c 99.7%)"></i><i style="left:210px;width:5.6px;background:linear-gradient(#3c3496 0%,#5342a4 9.2%,#93339d 14.6%,#bd1883 17.6%,#d8193f 20.7%,#e84221 24.5%,#ef6f2d 33%,#ee6d2d 56%,#e84020 63.6%,#d61845 67.5%,#b01e93 71.3%,#6e40a5 75.9%,#473a9c 81.3%,#3b3394 99.7%)"></i><i style="left:215px;width:5.6px;background:linear-gradient(#3e3597 0%,#5644a6 9.2%,#97309c 14.6%,#b81890 16.9%,#d91b3e 20.7%,#e94421 24.5%,#ef6f2d 33%,#ee6d2d 56%,#e53a25 64.4%,#d11851 68.2%,#b41b92 71.3%,#6942a6 76.7%,#45399b 82.8%,#3d3597 99.7%)"></i><i style="left:220px;width:5.6px;background:linear-gradient(#3c3496 0%,#5443a5 9.2%,#95329d 14.6%,#bd1883 17.6%,#db2039 21.5%,#e94622 25.3%,#ee6b2c 33.7%,#ee672b 56%,#e43628 64.4%,#cf1856 68.2%,#b11d92 71.3%,#6742a6 76.7%,#43389a 82.8%,#3b3394 99.7%)"></i><i style="left:225px;width:5.6px;background:linear-gradient(#413799 0%,#5a46a8 9.2%,#a62597 15.3%,#c11879 17.6%,#da1d3c 20.7%,#e84321 24.5%,#ee6d2d 33%,#ee6a2c 56%,#e84120 63.6%,#d3184d 68.2%,#b81890 71.3%,#793da3 75.9%,#4d3ea0 81.3%,#403698 99.7%)"></i><i style="left:230px;width:5.6px;background:linear-gradient(#3a3291 0%,#5342a4 9.2%,#92339e 14.6%,#bb1888 17.6%,#d91b3d 21.5%,#e94521 26.1%,#ed652b 36%,#ec5b28 57.5%,#e43727 63.6%,#d3184d 67.5%,#b9188e 70.5%,#6f40a5 75.9%,#463a9c 81.3%,#39318e 99.7%)"></i><i style="left:235px;width:5.6px;background:linear-gradient(#3b3394 0%,#5543a5 9.2%,#9f2a99 15.3%,#bc1885 17.6%,#da1c3c 21.5%,#e94521 26.1%,#ed642a 36%,#ec5a27 57.5%,#e53727 63.6%,#d4184b 67.5%,#b11d92 71.3%,#6942a6 76.7%,#43389a 82.8%,#3a3291 99.7%)"></i><i style="left:240px;width:5.6px;background:linear-gradient(#3c3496 0%,#5644a6 9.2%,#97309c 14.6%,#bd1884 17.6%,#da1c3d 21.5%,#e94822 26.8%,#ed632a 37.6%,#eb5827 57.5%,#e43728 63.6%,#d4184a 67.5%,#b31c92 71.3%,#6b41a5 76.7%,#44399b 82.8%,#3b3393 99.7%)"></i><i style="left:245px;width:5.6px;background:linear-gradient(#3a3392 0%,#5543a5 9.2%,#9f2a99 15.3%,#bb1888 17.6%,#db2039 22.2%,#e94822 27.6%,#ec5e29 39.1%,#ea5125 58.3%,#e3332b 63.6%,#d21850 67.5%,#b11d93 71.3%,#6a42a6 76.7%,#42389a 82.8%,#39328f 99.7%)"></i><i style="left:250px;width:5.6px;background:linear-gradient(#3b3495 0%,#5744a6 9.2%,#a12998 15.3%,#bc1886 17.6%,#db2139 22.2%,#e94722 27.6%,#ec5d28 39.9%,#ea5025 58.3%,#e3332b 63.6%,#d2184e 67.5%,#b21c92 71.3%,#6d41a5 76.7%,#44399b 82.8%,#3a3291 99.7%)"></i><i style="left:255px;width:5.6px;background:linear-gradient(#3c3496 0%,#5945a7 9.2%,#a22898 15.3%,#bd1884 17.6%,#db2039 22.2%,#e94622 27.6%,#ec5b28 39.9%,#ea4f24 58.3%,#e3322b 63.6%,#d3184d 67.5%,#b41b91 71.3%,#6643a6 77.4%,#413799 84.3%,#3b3393 99.7%)"></i><i style="left:260px;width:5.6px;background:linear-gradient(#3c3495 0%,#5845a7 9.2%,#a12898 15.3%,#bc1886 17.6%,#da1e3b 22.2%,#e94622 28.4%,#eb5727 42.9%,#e94923 59%,#e2302d 63.6%,#d21850 67.5%,#b31b92 71.3%,#6643a6 77.4%,#3f3698 85.1%,#3a3291 99.7%)"></i><i style="left:265px;width:5.6px;background:linear-gradient(#3b3393 0%,#5744a6 9.2%,#a02a99 15.3%,#ba188a 17.6%,#d91b3e 22.2%,#e94521 29.1%,#eb5325 48.3%,#e73f21 60.6%,#d51848 66.7%,#b21d92 71.3%,#6643a6 77.4%,#403698 84.3%,#39318e 99.7%)"></i><i style="left:270px;width:5.6px;background:linear-gradient(#3b3393 0%,#5845a7 9.2%,#a02999 15.3%,#c0187c 18.4%,#db203a 23%,#e94522 29.9%,#ea4f24 52.9%,#e33529 62.1%,#d41849 66.7%,#b21c92 71.3%,#6742a6 77.4%,#403799 84.3%,#39318f 99.7%)"></i><i style="left:275px;width:5.6px;background:linear-gradient(#3c3496 0%,#5a46a8 9.2%,#a22898 15.3%,#bb1888 17.6%,#d91a3e 22.2%,#e94421 29.9%,#ea4d24 53.7%,#e33429 62.1%,#d51848 66.7%,#b41b91 71.3%,#6a41a5 77.4%,#42389a 84.3%,#3a3291 99.7%)"></i><i style="left:280px;width:5.6px;background:linear-gradient(#38318d 0%,#5643a5 9.2%,#9c2c9a 15.3%,#bc1885 18.4%,#db1e3b 23.8%,#e84321 33%,#e73e21 57.5%,#d51849 65.9%,#ae1f94 71.3%,#6443a6 77.4%,#3c3495 85.1%,#362f88 99.7%)"></i><i style="left:285px;width:5.6px;background:linear-gradient(#3d3597 0%,#5d45a7 9.2%,#ac2194 16.1%,#cf1856 20.7%,#df2833 24.5%,#e94522 32.2%,#e84221 57.5%,#d8193f 65.9%,#ad2094 72.1%,#6643a6 78.2%,#403799 85.9%,#3b3393 99.7%)"></i><i style="left:290px;width:5.6px;background:linear-gradient(#393290 0%,#5945a7 9.2%,#9e2b99 15.3%,#bd1884 18.4%,#da1d3c 23.8%,#e84120 34.5%,#e53926 58.3%,#d4184a 65.9%,#b01e93 71.3%,#6942a6 77.4%,#403698 84.3%,#37308b 99.7%)"></i><i style="left:295px;width:5.6px;background:linear-gradient(#3c3496 0%,#5d45a8 9.2%,#aa2295 16.1%,#c31873 19.2%,#da1e3b 23.8%,#e84120 34.5%,#e53827 59%,#d61846 65.9%,#b41b91 71.3%,#6643a6 78.2%,#403698 85.9%,#393290 99.7%)"></i><i style="left:300px;width:5.6px;background:linear-gradient(#3a3291 0%,#5a46a8 9.2%,#a62596 16.1%,#bc1887 18.4%,#d8193f 23.8%,#e63b24 34.5%,#e2322b 59%,#d61845 65.2%,#b01e93 71.3%,#6343a7 78.2%,#3d3597 85.9%,#37308b 99.7%)"></i><i style="left:305px;width:5.6px;background:linear-gradient(#3d3597 0%,#6044a7 9.2%,#ab2195 16.1%,#c81869 19.9%,#da1c3d 23.8%,#e73d22 34.5%,#e43628 58.3%,#d51848 65.9%,#ad2094 72.1%,#6a42a5 78.2%,#413799 85.9%,#3a3392 99.7%)"></i><i style="left:310px;width:5.6px;background:linear-gradient(#3c3496 0%,#5f45a7 9.2%,#b11d93 16.9%,#da1d3c 24.5%,#e63a25 36%,#e2312c 59%,#d3184d 65.9%,#b31c92 71.3%,#6842a6 78.2%,#403698 85.9%,#39328f 99.7%)"></i><i style="left:315px;width:5.6px;background:linear-gradient(#3d3496 0%,#6044a7 9.2%,#aa2295 16.1%,#bd1883 18.4%,#da1c3d 24.5%,#e53826 36%,#e12f2e 59%,#d61846 65.2%,#b31c92 71.3%,#6a42a5 78.2%,#413799 85.9%,#393290 99.7%)"></i><i style="left:320px;width:5.6px;background:linear-gradient(#3b3394 0%,#5f45a7 9.2%,#af1f93 16.9%,#da1d3c 25.3%,#e43529 38.3%,#df2932 59.8%,#d3184c 65.2%,#b11d93 71.3%,#6842a6 78.2%,#3f3698 85.9%,#38318d 99.7%)"></i><i style="left:325px;width:5.6px;background:linear-gradient(#3e3597 0%,#5c45a8 8.4%,#ab2295 16.1%,#c11878 19.2%,#d91b3e 24.5%,#e43628 36.8%,#df2b31 59.8%,#d21850 65.9%,#ad2094 72.1%,#5e45a7 79.7%,#3d3496 89.7%,#3a3392 99.7%)"></i><i style="left:330px;width:5.6px;background:linear-gradient(#43389a 0%,#6543a6 8.4%,#aa2295 15.3%,#c1187a 18.4%,#d91b3e 23.8%,#e53926 36%,#e12e2e 59.8%,#d51848 65.9%,#b31c92 72.1%,#6643a6 79.7%,#44399b 88.2%,#3f3698 99.7%)"></i><i style="left:335px;width:5.6px;background:linear-gradient(#39318f 0%,#5c46a8 9.2%,#b01e93 17.6%,#d91a3f 26.8%,#df2a32 45.2%,#d81841 62.1%,#ab2195 71.3%,#5d45a7 79%,#39328f 88.2%,#352f86 99.7%)"></i><i style="left:340px;width:5.6px;background:linear-gradient(#403698 0%,#6144a7 8.4%,#b9188d 17.6%,#d91b3e 25.3%,#e2312c 39.9%,#dd2436 60.6%,#d01854 65.9%,#ae1f94 72.1%,#6244a7 79.7%,#3f3698 88.9%,#3c3495 99.7%)"></i><i style="left:345px;width:5.6px;background:linear-gradient(#3f3698 0%,#6044a7 8.4%,#aa2295 16.1%,#c0187d 19.2%,#d91b3d 26.1%,#e12d2f 41.4%,#db1f3b 61.3%,#c81868 67.5%,#b31c92 71.3%,#5b46a8 80.5%,#3c3496 91.2%,#3b3393 99.7%)"></i><i style="left:350px;width:5.6px;background:linear-gradient(#3d3597 0%,#5e45a7 8.4%,#ba188c 18.4%,#d71842 26.1%,#df2933 44.5%,#d81840 62.1%,#b01e93 71.3%,#5f44a7 79.7%,#3c3496 89.7%,#39328f 99.7%)"></i><i style="left:355px;width:5.6px;background:linear-gradient(#3b3394 0%,#6144a7 9.2%,#bb188a 19.2%,#d71842 27.6%,#dc2238 53.7%,#d2184e 62.9%,#ac2195 71.3%,#5c46a8 79.7%,#3a3290 89.7%,#37308a 99.7%)"></i><i style="left:360px;width:5.6px;background:linear-gradient(#45399b 0%,#6942a6 8.4%,#bb1889 17.6%,#d8193f 25.3%,#e02d2f 42.2%,#db1f3a 61.3%,#ca1864 67.5%,#b11d92 72.1%,#5e45a7 81.3%,#403799 92.8%,#3f3698 99.7%)"></i><i style="left:365px;width:5.6px;background:linear-gradient(#403698 0%,#6344a7 8.4%,#ba188a 18.4%,#d81841 26.8%,#dd2635 49.1%,#d51848 62.9%,#ab2195 72.1%,#5e45a7 80.5%,#3d3597 90.5%,#3b3393 99.7%)"></i><i style="left:370px;width:5.6px;background:linear-gradient(#43389a 0%,#6742a6 8.4%,#bc1885 18.4%,#d91a3f 26.8%,#de2734 51.4%,#d61845 62.9%,#af1f93 72.1%,#6344a7 80.5%,#403799 90.5%,#3d3597 99.7%)"></i><i style="left:375px;width:5.6px;background:linear-gradient(#3f3698 0%,#6144a7 8.4%,#bc1887 19.2%,#d61845 27.6%,#db1f3a 52.9%,#d3184c 62.1%,#ae1f93 71.3%,#5d45a8 80.5%,#3b3394 91.2%,#39328f 99.7%)"></i><i style="left:380px;width:5.6px;background:linear-gradient(#3e3597 0%,#6742a6 9.2%,#ba188b 19.2%,#d51847 28.4%,#d91a3e 56%,#c91865 65.2%,#ac2094 71.3%,#5b46a8 80.5%,#3a3392 91.2%,#38318d 99.7%)"></i><i style="left:385px;width:5.6px;background:linear-gradient(#44399b 0%,#6a42a5 8.4%,#bb1887 18.4%,#d81840 27.6%,#db1f3b 56.7%,#d01855 64.4%,#ae1f94 72.1%,#5946a8 82%,#3e3597 94.3%,#3d3597 99.7%)"></i><i style="left:390px;width:5.6px;background:linear-gradient(#43389a 0%,#6942a6 8.4%,#ba188b 18.4%,#d41849 26.8%,#db1f3a 43.7%,#d51848 61.3%,#ac2094 72.1%,#5e45a7 81.3%,#3f3698 92%,#3c3496 99.7%)"></i><i style="left:395px;width:5.6px;background:linear-gradient(#403698 0%,#6443a6 8.4%,#ba188b 19.2%,#d3184c 28.4%,#d9193f 45.2%,#d2184e 60.6%,#ad2094 71.3%,#5a46a8 81.3%,#3b3394 92.8%,#393290 99.7%)"></i><i style="left:400px;width:5.6px;background:linear-gradient(#403799 0%,#6643a6 8.4%,#ba188c 19.2%,#d2184e 28.4%,#d81840 47.5%,#d01853 61.3%,#ad2094 71.3%,#5b46a8 81.3%,#3c3495 92%,#3a3291 99.7%)"></i><i style="left:405px;width:5.6px;background:linear-gradient(#44399b 0%,#6b41a5 8.4%,#bc1886 19.2%,#d4184a 28.4%,#d91a3e 50.6%,#d11852 62.1%,#ac2194 72.1%,#5a46a8 82%,#3d3597 94.3%,#3c3496 99.7%)"></i><i style="left:410px;width:5.6px;background:linear-gradient(#3f3698 0%,#6543a6 8.4%,#bb1889 19.9%,#d11852 29.1%,#d41849 54.4%,#c81869 64.4%,#ac2194 71.3%,#5744a6 82%,#3a3290 93.5%,#38318d 99.7%)"></i><i style="left:415px;width:5.6px;background:linear-gradient(#403698 0%,#6643a6 8.4%,#bb1889 19.9%,#d01853 29.1%,#d3184b 55.2%,#c6186e 65.2%,#ad2094 71.3%,#5d45a7 81.3%,#3a3392 92.8%,#38318d 99.7%)"></i><i style="left:420px;width:5.6px;background:linear-gradient(#43389a 0%,#6c41a5 8.4%,#ba188a 19.2%,#d11851 28.4%,#d61845 51.4%,#cc185f 63.6%,#ac2094 72.1%,#5d45a7 82%,#3c3496 93.5%,#3a3392 99.7%)"></i><i style="left:425px;width:5.6px;background:linear-gradient(#473b9d 0%,#6c41a5 7.7%,#bb1889 18.4%,#d3184e 27.6%,#d8193f 43.7%,#d3184b 60.6%,#bd1883 69.8%,#7e3ca2 79%,#5040a2 85.9%,#3d3597 99.7%)"></i><i style="left:430px;width:5.6px;background:linear-gradient(#473b9d 0%,#6d41a5 7.7%,#ba188a 18.4%,#d2184f 27.6%,#d81840 47.5%,#cf1855 62.9%,#a92396 73.6%,#5b46a8 83.6%,#3e3597 95.8%,#3d3597 99.7%)"></i><i style="left:435px;width:5.6px;background:linear-gradient(#453a9c 0%,#6b41a5 7.7%,#bb1887 19.2%,#d21850 29.1%,#d41849 56%,#c5186f 66.7%,#ac2194 72.8%,#5a46a8 83.6%,#3c3496 95.8%,#3b3394 99.7%)"></i><i style="left:440px;width:5.6px;background:linear-gradient(#4a3c9e 0%,#6c41a5 6.9%,#bc1886 18.4%,#d3184b 28.4%,#d81840 53.7%,#cc185e 65.2%,#ad2094 73.6%,#6144a7 83.6%,#413799 94.3%,#3f3698 99.7%)"></i><i style="left:445px;width:5.6px;background:linear-gradient(#453a9c 0%,#6c41a5 7.7%,#bb1889 19.2%,#d01854 29.1%,#d2184e 56.7%,#c21876 67.5%,#a82496 73.6%,#5845a7 84.3%,#3b3394 96.6%,#3a3392 99.7%)"></i><i style="left:450px;width:5.6px;background:linear-gradient(#45399b 0%,#6b41a5 7.7%,#bc1886 19.9%,#cf1856 29.9%,#d01855 59%,#bd1883 69%,#6e40a5 81.3%,#42389a 90.5%,#393290 99.7%)"></i><i style="left:455px;width:5.6px;background:linear-gradient(#4f3fa1 0%,#7a3da3 7.7%,#bc1885 17.6%,#d41849 27.6%,#d91a3f 54.4%,#cf1857 65.2%,#b01e93 74.4%,#5d45a8 85.9%,#43389a 98.9%,#43389a 99.7%)"></i><i style="left:460px;width:5.6px;background:linear-gradient(#463a9c 0%,#6e40a5 7.7%,#bc1886 19.9%,#cf1856 30.7%,#ce1858 59.8%,#bc1887 69.8%,#6643a6 82.8%,#3e3597 93.5%,#3a3290 99.7%)"></i><i style="left:465px;width:5.6px;background:linear-gradient(#4a3d9f 0%,#7b3da3 8.4%,#bd1884 19.2%,#d01853 29.1%,#d2184f 58.3%,#c11879 69%,#a62597 75.1%,#5845a7 85.9%,#3d3496 99.7%)"></i><i style="left:470px;width:5.6px;background:linear-gradient(#4b3d9f 0%,#6f40a5 6.9%,#bd1884 19.2%,#d11853 29.9%,#d11853 59.8%,#bf187f 69.8%,#a22898 75.9%,#5644a6 86.6%,#3d3496 99.7%)"></i><i style="left:475px;width:5.6px;background:linear-gradient(#4a3c9e 0%,#743fa4 7.7%,#bc1887 19.2%,#cf1857 29.9%,#cf1856 59.8%,#bc1886 70.5%,#5946a8 85.9%,#3c3496 98.9%,#3c3495 99.7%)"></i><i style="left:480px;width:5.6px;background:linear-gradient(#4b3d9f 0%,#7040a4 6.9%,#bc1886 19.2%,#cf1857 29.9%,#ce1858 60.6%,#bc1885 70.5%,#6c41a5 83.6%,#42389a 93.5%,#3c3496 99.7%)"></i><i style="left:485px;width:4.2px;background:linear-gradient(#4d3ea0 0%,#7f3ca2 8.4%,#bd1883 19.2%,#d01854 29.9%,#cf1855 60.6%,#bc1887 71.3%,#5a46a8 86.6%,#3e3597 99.7%)"></i></div><div class="hm" style="left:1366.8px;top:1559.5px;width:488px;height:251.9px"><i style="left:0px;width:5.6px;background:linear-gradient(#473b9d 0%,#5845a7 28.6%,#8b38a0 32.6%,#ae2094 34.1%,#cd185b 35.7%,#db1f3a 36.5%,#e43727 37.3%,#f48e27 40.5%,#face11 44.5%,#f9d91d 55.6%,#fac613 60.3%,#ee6b2c 65.1%,#e73d23 66.7%,#d2184f 68.3%,#b51a91 69.9%,#7a3da3 73%,#5a46a8 77.8%,#5845a7 99.2%)"></i><i style="left:5px;width:5.6px;background:linear-gradient(#483b9d 0%,#5a46a8 29.4%,#8d37a0 33.3%,#ae1f93 34.9%,#cc185d 36.5%,#da1d3c 37.3%,#ea4c24 38.9%,#f07730 40.5%,#faca11 46.1%,#f9d316 55.6%,#f9b917 59.5%,#f07830 63.5%,#e53827 65.9%,#d01853 67.5%,#b51a91 69.1%,#7b3da3 72.3%,#5a46a8 77%,#5744a6 99.2%)"></i><i style="left:10px;width:5.6px;background:linear-gradient(#493c9e 0%,#5a46a8 24.6%,#992f9b 31.8%,#bb1889 34.9%,#d51847 38.9%,#e53926 40.5%,#f3862a 44.5%,#f9b419 50%,#f9ac1c 55.6%,#ef6e2d 61.1%,#e53925 63.5%,#d61845 65.1%,#be1881 66.7%,#a12998 68.3%,#6543a6 73%,#5744a6 84.2%,#5744a6 99.2%)"></i><i style="left:15px;width:5.6px;background:linear-gradient(#483b9d 0%,#5945a7 21.4%,#8e369f 26.2%,#b81890 28.6%,#d81940 31%,#e94822 33.3%,#f2842b 37.3%,#f79d21 42.9%,#f17e2e 48.4%,#ed622a 50.8%,#eb5626 55.6%,#e33429 58.8%,#d3184c 61.1%,#b9188d 63.5%,#773ea3 68.3%,#5845a7 73.8%,#5543a5 99.2%)"></i><i style="left:20px;width:5.6px;background:linear-gradient(#4c3ea0 0%,#5c46a8 19.1%,#8b38a0 23%,#ba188b 25.4%,#d51848 27%,#e83f21 28.6%,#f48e27 31.8%,#fad013 35.7%,#f8e428 43.7%,#faca11 50%,#ef6f2d 54.8%,#e84321 56.4%,#d81940 58%,#be1881 59.5%,#9f2a99 61.1%,#723fa4 65.1%,#5945a7 73.8%,#5845a7 99.2%)"></i><i style="left:25px;width:5.6px;background:linear-gradient(#4d3ea0 0%,#5a46a8 17.5%,#8a39a0 21.4%,#bd1885 23.8%,#da1c3d 25.4%,#ea4e24 27%,#f2802d 28.6%,#facc10 31.8%,#f8e125 34.1%,#f9e637 34.9%,#fcf294 37.3%,#fef9cb 40.5%,#fefacc 44.5%,#fcf396 47.6%,#f8e125 50.8%,#face11 53.2%,#ee6c2d 57.2%,#e53925 58.8%,#ce1858 60.3%,#b01e93 61.9%,#773ea3 65.1%,#5a46a8 69.9%,#5744a6 99.2%)"></i><i style="left:30px;width:5.6px;background:linear-gradient(#5141a3 0%,#5f45a7 16.7%,#8d38a0 20.6%,#ad2094 22.2%,#be1880 23%,#db2039 24.6%,#e63a25 25.4%,#f3872a 27.8%,#fac513 30.2%,#f8e125 32.6%,#fdf6b4 35.7%,#fffeec 38.1%,#fffff5 45.3%,#fefce1 47.6%,#fcf399 50%,#f8e226 52.4%,#fac812 54.8%,#ef742f 58%,#e73e22 59.5%,#d01853 61.1%,#b21c92 62.7%,#7a3da3 65.9%,#5f45a7 70.7%,#5c45a8 99.2%)"></i><i style="left:35px;width:5.6px;background:linear-gradient(#4a3c9e 0%,#5945a7 17.5%,#7e3ca2 20.6%,#b21c92 23%,#d2184e 24.6%,#e84321 26.2%,#f07930 27.8%,#fac911 31%,#f8e125 33.3%,#faec64 34.9%,#fdf7b5 37.3%,#fefcde 40.5%,#fefbd9 45.3%,#fdf7b7 47.6%,#faec68 50%,#f8e225 51.6%,#facb11 54%,#f17b2f 57.2%,#e94722 58.8%,#d51846 60.3%,#b71890 61.9%,#773ea3 65.1%,#5744a6 69.9%,#5442a4 99.2%)"></i><i style="left:40px;width:5.6px;background:linear-gradient(#5744a6 0%,#6543a6 17.5%,#992e9b 22.2%,#b9188e 23.8%,#d3184b 25.4%,#e73e21 27%,#f2832c 29.4%,#faca11 32.6%,#f8e327 35.7%,#fbf18c 38.9%,#fdf6b1 42.1%,#fcf39c 45.3%,#faec63 47.6%,#f8e327 49.2%,#facb11 52.4%,#ef722e 56.4%,#e84221 58%,#d61845 59.5%,#bc1887 61.1%,#863aa1 64.3%,#6742a6 69.1%,#6343a6 99.2%)"></i><i style="left:45px;width:5.6px;background:linear-gradient(#42389a 0%,#5140a2 19.8%,#763ea3 23.8%,#b41b91 27%,#da1d3c 29.4%,#e84321 31%,#f3862a 34.1%,#fac314 39.7%,#fac413 45.3%,#f17b2f 51.6%,#e94522 54%,#db1f3a 55.6%,#b71990 58%,#7b3da3 61.1%,#5543a5 65.1%,#4c3ea0 99.2%)"></i><i style="left:50px;width:5.6px;background:linear-gradient(#4e3fa1 0%,#5d45a8 22.2%,#8f369f 27.8%,#bc1887 31%,#db1e3b 34.1%,#e94722 37.3%,#ed632a 42.1%,#e94822 47.6%,#db1f3a 50.8%,#b31c92 54.8%,#773ea3 59.5%,#5946a8 65.9%,#5845a7 99.2%)"></i><i style="left:55px;width:5.6px;background:linear-gradient(#5140a2 0%,#6144a7 22.2%,#a52697 32.6%,#be1882 39.7%,#9d2b9a 49.2%,#6144a7 60.3%,#5b46a8 99.2%)"></i><i style="left:60px;width:5.6px;background:linear-gradient(#4d3ea0 0%,#5d45a8 19.1%,#94329d 24.6%,#b71990 27%,#d71842 30.2%,#e84020 33.3%,#ed642a 39.7%,#e94822 45.3%,#d81840 49.2%,#b9188e 52.4%,#7b3da3 57.2%,#5946a8 63.5%,#5744a6 99.2%)"></i><i style="left:65px;width:5.6px;background:linear-gradient(#4b3d9f 0%,#5a46a8 16.7%,#93339d 21.4%,#bd1883 23.8%,#dd2337 26.2%,#e94522 27.8%,#f17f2d 31%,#f9b11a 37.3%,#f8aa1c 43.7%,#f0762f 49.2%,#e43727 52.4%,#d61845 54%,#b41b91 56.4%,#803ba2 59.5%,#5a46a8 64.3%,#5543a5 99.2%)"></i><i style="left:70px;width:5.6px;background:linear-gradient(#4d3ea0 0%,#5c45a8 15.1%,#992e9b 19.8%,#b9188c 21.4%,#dd2436 23.8%,#ea4d24 25.4%,#f2832c 27.8%,#fac911 33.3%,#fad013 44.5%,#f8a81d 49.2%,#f07730 52.4%,#e63c24 54.8%,#d51847 56.4%,#bc1885 58%,#843aa1 61.1%,#5d45a8 65.9%,#5744a6 99.2%)"></i><i style="left:75px;width:5.6px;background:linear-gradient(#5040a2 0%,#5e45a7 14.3%,#8b38a0 18.3%,#b9188c 20.6%,#d3184b 22.2%,#e63b24 23.8%,#f38829 27%,#facd10 31.8%,#f9d519 44.5%,#fac513 48.4%,#ee692c 54%,#e73f21 55.6%,#d61845 57.2%,#bd1885 58.8%,#91349e 61.1%,#6244a7 65.9%,#5a46a8 99.2%)"></i><i style="left:80px;width:5.6px;background:linear-gradient(#5241a3 0%,#5f45a7 14.3%,#93339d 19.1%,#b11d92 20.6%,#d91a3f 23%,#e84221 24.6%,#f48a29 27.8%,#facf12 33.3%,#facf12 46.1%,#f69823 50.8%,#ee6d2d 53.2%,#e94521 54.8%,#da1d3c 56.4%,#b61991 58.8%,#823ba2 61.9%,#6144a7 66.7%,#5d45a8 99.2%)"></i><i style="left:85px;width:5.6px;background:linear-gradient(#483b9d 0%,#5845a7 16.7%,#94329d 21.4%,#b31c92 23%,#d71842 25.4%,#e63a25 27%,#f2842b 31%,#f9b618 37.3%,#f9af1b 43.7%,#ef6e2d 50%,#e73c23 52.4%,#d91a3f 54%,#b71991 56.4%,#803ba2 59.5%,#5845a7 64.3%,#5241a3 99.2%)"></i><i style="left:90px;width:5.6px;background:linear-gradient(#4e3fa1 0%,#5d45a8 18.3%,#92349e 23.8%,#b51a91 26.2%,#d81840 29.4%,#e94522 32.6%,#ef712e 38.1%,#ed652b 43.7%,#e63c23 47.6%,#d11852 50.8%,#b81890 53.2%,#7a3da3 58%,#5a46a8 64.3%,#5845a7 99.2%)"></i><i style="left:95px;width:5.6px;background:linear-gradient(#4b3d9f 0%,#5e45a7 23%,#a82396 32.6%,#c21878 39.7%,#a92396 46.8%,#6643a6 55.6%,#5543a5 69.1%,#5543a5 99.2%)"></i><i style="left:100px;width:5.6px;background:linear-gradient(#5141a3 0%,#6543a6 28.6%,#982f9b 44.5%,#763ea4 54.8%,#5c45a8 66.7%,#5c46a8 99.2%)"></i><i style="left:105px;width:5.6px;background:linear-gradient(#4c3d9f 0%,#5b46a8 25.4%,#992f9b 32.6%,#bb1888 35.7%,#d71842 40.5%,#db1f3b 46.8%,#d01854 50%,#b41b91 54%,#7140a4 60.3%,#5744a6 67.5%,#5643a5 99.2%)"></i><i style="left:110px;width:5.6px;background:linear-gradient(#4e3fa1 0%,#5f44a7 23%,#9c2c9a 28.6%,#b71990 30.2%,#da1e3b 33.3%,#e94421 35.7%,#f07a2f 41.3%,#f0762f 48.4%,#e53826 54%,#d3184b 56.4%,#b81890 58.8%,#7e3ca2 62.7%,#5b46a8 68.3%,#5845a7 99.2%)"></i><i style="left:115px;width:5.6px;background:linear-gradient(#5141a3 0%,#6343a6 21.4%,#9a2d9b 26.2%,#b81890 27.8%,#d91a3f 30.2%,#e63b24 31.8%,#f3862b 36.5%,#f8a21f 43.7%,#f59226 50.8%,#ee692c 54.8%,#e63c23 57.2%,#d91b3e 58.8%,#b9188d 61.1%,#7c3da3 65.1%,#5e45a7 70.7%,#5c45a8 99.2%)"></i><i style="left:120px;width:5.6px;background:linear-gradient(#4c3ea0 0%,#5a46a8 20.6%,#92349e 25.4%,#b01e93 27%,#d61845 29.4%,#e53926 31%,#f2802d 34.9%,#f8a21f 41.3%,#f69525 51.6%,#ee6a2c 55.6%,#e53a25 58%,#d71843 59.5%,#b21c92 61.9%,#7c3ca3 65.1%,#5a46a8 69.9%,#5644a6 99.2%)"></i><i style="left:125px;width:5.6px;background:linear-gradient(#4e3fa1 0%,#5b46a8 20.6%,#8d38a0 25.4%,#b81890 27.8%,#d91b3e 30.2%,#e73c23 31.8%,#f17f2d 35.7%,#f8a020 42.1%,#f59225 50.8%,#ee6a2c 54.8%,#e73d22 57.2%,#d91c3d 58.8%,#b9188e 61.1%,#793da3 65.1%,#5a46a8 70.7%,#5845a7 99.2%)"></i><i style="left:130px;width:5.6px;background:linear-gradient(#4a3d9f 0%,#5c45a8 23%,#9e2b99 28.6%,#b9188d 30.2%,#d61844 32.6%,#e73e22 34.9%,#f17b2f 40.5%,#f17e2e 47.6%,#ea4b23 53.2%,#e2322b 54.8%,#d71843 56.4%,#ba188b 58.8%,#743fa4 63.5%,#5744a6 69.1%,#5443a5 99.2%)"></i><i style="left:135px;width:5.6px;background:linear-gradient(#4c3ea0 0%,#5e45a7 25.4%,#992f9b 31.8%,#bd1883 34.9%,#d91a3e 38.9%,#e3322b 44.5%,#d91b3e 50%,#b71990 54.8%,#773ea3 60.3%,#5845a7 66.7%,#5644a6 99.2%)"></i><i style="left:140px;width:5.6px;background:linear-gradient(#463a9c 0%,#5945a7 30.2%,#96319d 43.7%,#7f3ca2 51.6%,#5543a5 61.1%,#5040a2 99.2%)"></i><i style="left:145px;width:5.6px;background:linear-gradient(#4a3c9e 0%,#6343a7 42.9%,#6c41a5 54%,#5443a5 71.5%,#5442a4 99.2%)"></i><i style="left:150px;width:5.6px;background:linear-gradient(#4b3d9f 0%,#5e45a7 34.1%,#aa2295 45.3%,#b71990 52.4%,#6f40a5 63.5%,#5644a6 71.5%,#5543a5 99.2%)"></i><i style="left:155px;width:5.6px;background:linear-gradient(#4b3d9f 0%,#5e45a7 31%,#9a2e9b 37.3%,#b9188d 39.7%,#d81840 43.7%,#e43628 50%,#da1e3b 56.4%,#ae1f93 61.9%,#6d41a5 67.5%,#5643a5 73.8%,#5543a5 99.2%)"></i><i style="left:160px;width:5.6px;background:linear-gradient(#5543a5 0%,#6842a6 28.6%,#9d2b9a 34.1%,#b61a91 35.7%,#d9193f 38.9%,#e94421 42.1%,#ee682b 48.4%,#eb5827 56.4%,#e63a25 59.5%,#d81940 61.9%,#b51a91 65.1%,#783ea3 69.9%,#6244a7 77%,#6144a7 99.2%)"></i><i style="left:165px;width:5.6px;background:linear-gradient(#45399b 0%,#5644a6 28.6%,#8939a1 33.3%,#bd1884 36.5%,#d8193f 38.9%,#e84221 42.1%,#ec5d28 48.4%,#ea4f24 57.2%,#e53926 59.5%,#d81840 61.9%,#b01e93 65.1%,#7040a4 69.1%,#5241a3 73.8%,#4f3fa1 99.2%)"></i><i style="left:170px;width:5.6px;background:linear-gradient(#45399b 0%,#5845a7 29.4%,#8d38a0 34.1%,#b41b92 36.5%,#d81840 39.7%,#e94522 43.7%,#ec5a27 50.8%,#e94521 57.2%,#d71841 61.1%,#b21c92 64.3%,#743fa4 68.3%,#5342a4 73%,#4f3fa1 99.2%)"></i><i style="left:175px;width:5.6px;background:linear-gradient(#4e3fa1 0%,#6044a7 30.2%,#9b2d9a 36.5%,#bb1889 38.9%,#da1e3b 42.9%,#e84321 49.2%,#e2322b 55.6%,#d61845 58.8%,#b01e93 62.7%,#753ea4 67.5%,#5946a8 73.8%,#5845a7 99.2%)"></i><i style="left:180px;width:5.6px;background:linear-gradient(#4f40a2 0%,#6443a6 33.3%,#a42797 42.1%,#c21877 47.6%,#c21877 53.2%,#a32798 58.8%,#6343a7 67.5%,#5946a8 99.2%)"></i><i style="left:185px;width:5.6px;background:linear-gradient(#4e3fa1 0%,#6443a6 39.7%,#7d3ca2 51.6%,#5845a7 69.9%,#5845a7 99.2%)"></i><i style="left:190px;width:5.6px;background:linear-gradient(#5141a3 0%,#6244a7 65.9%,#5c45a8 99.2%)"></i><i style="left:195px;width:5.6px;background:linear-gradient(#5543a5 0%,#6b41a5 46.1%,#982f9c 58%,#7a3da3 67.5%,#6144a7 78.6%,#6144a7 99.2%)"></i><i style="left:200px;width:5.6px;background:linear-gradient(#4b3d9f 0%,#5d45a7 42.1%,#a02999 50%,#c11879 54.8%,#c71869 59.5%,#ac2194 65.9%,#6842a6 73%,#5643a5 81.8%,#5543a5 99.2%)"></i><i style="left:205px;width:5.6px;background:linear-gradient(#483b9d 0%,#5c46a8 40.5%,#97309c 46.1%,#b9188f 48.4%,#d61844 52.4%,#e02c30 59.5%,#d41849 65.1%,#b41b91 69.1%,#733fa4 73.8%,#5443a5 79.4%,#5241a3 99.2%)"></i><i style="left:210px;width:5.6px;background:linear-gradient(#4d3ea0 0%,#5f45a7 38.9%,#8e369f 43.7%,#bd1883 46.8%,#da1c3d 50%,#e73e22 56.4%,#e3332a 64.3%,#d81840 67.5%,#b9188c 70.7%,#753fa4 75.4%,#5845a7 81%,#5744a6 99.2%)"></i><i style="left:215px;width:5.6px;background:linear-gradient(#5141a3 0%,#6643a6 38.9%,#94329d 43.7%,#b9188e 46.1%,#d81840 49.2%,#e84020 54.8%,#e53926 64.3%,#d51848 68.3%,#b31b92 71.5%,#733fa4 76.2%,#5c45a8 83.4%,#5c45a8 99.2%)"></i><i style="left:220px;width:5.6px;background:linear-gradient(#4f3fa1 0%,#6144a7 39.7%,#94329d 45.3%,#bd1883 48.4%,#da1c3d 52.4%,#e3332b 59.5%,#d9193f 65.1%,#b01e93 69.9%,#743fa4 74.6%,#5946a8 81%,#5945a7 99.2%)"></i><i style="left:225px;width:5.6px;background:linear-gradient(#4c3ea0 0%,#5f45a7 42.1%,#a12998 50%,#be1880 54%,#c81868 58.8%,#bd1883 63.5%,#853aa1 69.9%,#5b46a8 76.2%,#5644a6 99.2%)"></i><i style="left:230px;width:5.6px;background:linear-gradient(#4e3fa1 0%,#6244a7 46.1%,#8f369f 58.8%,#5945a7 76.2%,#5845a7 99.2%)"></i><i style="left:235px;width:5.6px;background:linear-gradient(#4e3fa1 0%,#5d45a8 65.9%,#5845a7 99.2%)"></i><i style="left:240px;width:5.6px;background:linear-gradient(#473b9d 0%,#5a46a8 61.9%,#5d45a7 72.3%,#5141a3 99.2%)"></i><i style="left:245px;width:5.6px;background:linear-gradient(#4f3fa1 0%,#6044a7 54.8%,#a42797 66.7%,#92339e 73%,#5d45a7 81.8%,#5945a7 99.2%)"></i><i style="left:250px;width:5.6px;background:linear-gradient(#4a3c9e 0%,#5b46a8 52.4%,#91359e 58%,#bd1883 61.9%,#d01855 66.7%,#cb185f 70.7%,#ab2195 75.4%,#6942a6 81%,#5443a5 88.1%,#5442a4 99.2%)"></i><i style="left:255px;width:5.6px;background:linear-gradient(#4c3ea0 0%,#5d45a8 50.8%,#90359f 55.6%,#b61a91 58%,#d8193f 61.9%,#e12e2e 68.3%,#d71843 73.8%,#b21d92 77.8%,#753ea4 81.8%,#5845a7 86.5%,#5644a6 99.2%)"></i><i style="left:260px;width:5.6px;background:linear-gradient(#4b3d9f 0%,#5e45a7 50.8%,#9a2e9b 55.6%,#b51a91 57.2%,#d61845 60.3%,#e2322b 65.9%,#de2834 73%,#d4184a 75.4%,#b11d93 78.6%,#723fa4 82.6%,#5744a6 87.3%,#5543a5 99.2%)"></i><i style="left:265px;width:5.6px;background:linear-gradient(#4d3ea0 0%,#6044a7 50.8%,#95319d 55.6%,#bb188a 58%,#d71841 61.1%,#e2312c 66.7%,#dc2337 73%,#cf1856 75.4%,#b81890 77.8%,#7040a4 82.6%,#5845a7 88.1%,#5744a6 99.2%)"></i><i style="left:270px;width:5.6px;background:linear-gradient(#5140a2 0%,#6244a7 51.6%,#96309c 57.2%,#b61991 59.5%,#d51846 64.3%,#d91a3e 69.9%,#c71869 73.8%,#a82396 77%,#6f40a5 81.8%,#5b46a8 88.9%,#5b46a8 99.2%)"></i><i style="left:275px;width:5.6px;background:linear-gradient(#4c3ea0 0%,#6044a7 54.8%,#ad2094 65.9%,#a02999 72.3%,#5c46a8 81.8%,#5644a6 99.2%)"></i><i style="left:280px;width:5.6px;background:linear-gradient(#4e3fa1 0%,#6244a7 59.5%,#743fa4 69.9%,#5845a7 84.2%,#5845a7 99.2%)"></i><i style="left:285px;width:5.6px;background:linear-gradient(#5140a2 0%,#5b46a8 99.2%)"></i><i style="left:290px;width:5.6px;background:linear-gradient(#4f3fa1 0%,#6344a7 69.9%,#5945a7 99.2%)"></i><i style="left:295px;width:5.6px;background:linear-gradient(#4b3d9f 0%,#5b46a8 63.5%,#8e379f 73%,#753ea4 79.4%,#5644a6 86.5%,#5543a5 99.2%)"></i><i style="left:300px;width:5.6px;background:linear-gradient(#5040a2 0%,#6144a7 60.3%,#95329d 65.9%,#be1882 69.9%,#c81869 73.8%,#bc1887 77.8%,#6d41a5 85%,#5a46a8 92.1%,#5a46a8 99.2%)"></i><i style="left:305px;width:5.6px;background:linear-gradient(#4c3d9f 0%,#5d45a7 59.5%,#992e9b 64.3%,#bd1882 66.7%,#d81840 70.7%,#d71843 77%,#ae1f94 81.8%,#6f40a5 85.7%,#5744a6 89.7%,#5643a5 99.2%)"></i><i style="left:310px;width:5.6px;background:linear-gradient(#4c3ea0 0%,#5d45a8 58.8%,#8e379f 62.7%,#b9188e 65.1%,#d71842 68.3%,#de2734 74.6%,#d91a3e 78.6%,#b31c92 82.6%,#6f40a5 86.5%,#5744a6 91.3%,#5644a6 99.2%)"></i><i style="left:315px;width:5.6px;background:linear-gradient(#4e3fa1 0%,#5f45a7 58.8%,#8d37a0 62.7%,#b81890 65.1%,#d61845 68.3%,#df2933 73.8%,#d8193f 78.6%,#b11d93 82.6%,#6f40a5 86.5%,#5945a7 91.3%,#5845a7 99.2%)"></i><i style="left:320px;width:5.6px;background:linear-gradient(#5342a4 0%,#6543a6 59.5%,#982f9c 64.3%,#bb1889 66.7%,#d61844 70.7%,#d81840 76.2%,#bf187e 80.2%,#ab2195 81.8%,#743fa4 85.7%,#5e45a7 92.1%,#5e45a7 99.2%)"></i><i style="left:325px;width:5.6px;background:linear-gradient(#4a3c9e 0%,#5c46a8 61.9%,#b21d92 72.3%,#a22898 77.8%,#5a46a8 85.7%,#5442a4 99.2%)"></i><i style="left:330px;width:5.6px;background:linear-gradient(#4c3d9f 0%,#5d45a7 65.1%,#7a3da3 74.6%,#5644a6 87.3%,#5643a5 99.2%)"></i><i style="left:335px;width:5.6px;background:linear-gradient(#4e3fa1 0%,#5845a7 99.2%)"></i><i style="left:340px;width:5.6px;background:linear-gradient(#4a3c9e 0%,#5d45a7 68.3%,#6c41a5 77%,#5442a4 89.7%,#5442a4 99.2%)"></i><i style="left:345px;width:5.6px;background:linear-gradient(#4e3fa1 0%,#5f45a7 63.5%,#ac2195 73.8%,#982f9c 79.4%,#5d45a7 86.5%,#5845a7 99.2%)"></i><i style="left:350px;width:5.6px;background:linear-gradient(#5241a3 0%,#6344a7 61.1%,#94329d 65.9%,#b71990 68.3%,#d11851 72.3%,#d4184a 76.2%,#c11879 80.2%,#a52697 82.6%,#6942a6 87.3%,#5d45a8 99.2%)"></i><i style="left:355px;width:5.6px;background:linear-gradient(#473a9c 0%,#5945a7 61.1%,#90359f 65.1%,#ba188c 67.5%,#d2184f 70.7%,#d91a3e 74.6%,#d4184b 78.6%,#b31c92 82.6%,#6d41a5 86.5%,#5342a4 90.5%,#5140a2 99.2%)"></i><i style="left:360px;width:5.6px;background:linear-gradient(#4d3ea0 0%,#5e45a7 60.3%,#8f369f 64.3%,#ba188c 66.7%,#d61845 69.9%,#dc2238 77%,#d3184c 80.2%,#b21c92 83.4%,#6f40a5 87.3%,#5845a7 92.1%,#5744a6 99.2%)"></i><i style="left:365px;width:5.6px;background:linear-gradient(#4b3d9f 0%,#5b46a8 61.1%,#982f9c 65.9%,#bc1886 68.3%,#d2184f 71.5%,#d71842 76.2%,#c6186d 80.2%,#b81890 81.8%,#773ea3 85.7%,#5744a6 89.7%,#5543a5 99.2%)"></i><i style="left:370px;width:5.6px;background:linear-gradient(#5543a5 0%,#6a41a5 62.7%,#a32797 68.3%,#c5186f 73%,#c41872 77%,#a82496 81%,#6c41a5 86.5%,#6144a7 99.2%)"></i><i style="left:375px;width:5.6px;background:linear-gradient(#4f40a2 0%,#6144a7 65.1%,#8e369f 74.6%,#5a46a8 88.1%,#5946a8 99.2%)"></i><i style="left:380px;width:5.6px;background:linear-gradient(#4f40a2 0%,#5e45a7 81%,#5946a8 99.2%)"></i><i style="left:385px;width:5.6px;background:linear-gradient(#4d3ea0 0%,#5744a6 99.2%)"></i><i style="left:390px;width:5.6px;background:linear-gradient(#493c9e 0%,#5d45a7 69.1%,#6842a6 77.8%,#5442a4 89.7%,#5342a4 99.2%)"></i><i style="left:395px;width:5.6px;background:linear-gradient(#4e3fa1 0%,#5f44a7 64.3%,#a72496 73.8%,#95329d 79.4%,#5c46a8 86.5%,#5845a7 99.2%)"></i><i style="left:400px;width:5.6px;background:linear-gradient(#4f3fa1 0%,#5f45a7 61.9%,#92339e 66.7%,#bc1885 69.9%,#ce1858 73.8%,#ca1864 77.8%,#a82496 81.8%,#6842a6 86.5%,#5945a7 93.7%,#5945a7 99.2%)"></i><i style="left:405px;width:5.6px;background:linear-gradient(#4d3ea0 0%,#5e45a7 61.1%,#8e379f 65.1%,#b71890 67.5%,#d2184e 70.7%,#da1c3d 74.6%,#d51847 78.6%,#bf187f 81.8%,#a72496 83.4%,#723fa4 86.5%,#5845a7 91.3%,#5744a6 99.2%)"></i><i style="left:410px;width:5.6px;background:linear-gradient(#5442a4 0%,#6842a6 61.1%,#9a2e9b 65.1%,#b71990 66.7%,#d61846 69.9%,#dd2536 75.4%,#d51848 80.2%,#b51a91 83.4%,#743fa4 87.3%,#6044a7 92.9%,#5f45a7 99.2%)"></i><i style="left:415px;width:5.6px;background:linear-gradient(#5040a2 0%,#6044a7 61.1%,#8839a1 65.1%,#ba188a 68.3%,#d21850 71.5%,#d81840 76.2%,#c71869 80.2%,#ad2094 82.6%,#7040a4 86.5%,#5a46a8 92.1%,#5a46a8 99.2%)"></i><i style="left:420px;width:5.6px;background:linear-gradient(#4a3c9e 0%,#5c45a8 63.5%,#a22898 69.9%,#bd1885 74.6%,#a92396 79.4%,#6044a7 85.7%,#5442a4 98.5%,#5442a4 99.2%)"></i><i style="left:425px;width:5.6px;background:linear-gradient(#4c3ea0 0%,#5d45a8 65.9%,#8839a1 74.6%,#5644a6 88.1%,#5644a6 99.2%)"></i><i style="left:430px;width:5.6px;background:linear-gradient(#4e3fa1 0%,#5c45a8 81%,#5845a7 99.2%)"></i><i style="left:435px;width:5.6px;background:linear-gradient(#493c9e 0%,#5744a6 81%,#5342a4 99.2%)"></i><i style="left:440px;width:5.6px;background:linear-gradient(#4d3ea0 0%,#5e45a7 65.9%,#8d37a0 75.4%,#5744a6 88.1%,#5744a6 99.2%)"></i><i style="left:445px;width:5.6px;background:linear-gradient(#4b3d9f 0%,#5c45a8 63.5%,#a12998 69.9%,#be1882 74.6%,#af1f93 79.4%,#6643a6 85.7%,#5543a5 92.1%,#5543a5 99.2%)"></i><i style="left:450px;width:5.6px;background:linear-gradient(#4e3fa1 0%,#5f45a7 61.9%,#9a2e9b 66.7%,#bc1885 69.1%,#d01854 72.3%,#d3184c 77%,#c7186b 80.2%,#af1e93 82.6%,#713fa4 86.5%,#5945a7 91.3%,#5845a7 99.2%)"></i><i style="left:455px;width:5.6px;background:linear-gradient(#4e3fa1 0%,#5d45a7 61.1%,#8b38a0 65.1%,#b41b91 67.5%,#d4184b 71.5%,#d71843 77.8%,#ca1864 81%,#b01e93 83.4%,#6e40a5 87.3%,#5845a7 92.1%,#5845a7 99.2%)"></i><i style="left:460px;width:5.6px;background:linear-gradient(#4b3d9f 0%,#5c45a8 61.9%,#9c2c9a 66.7%,#b61991 68.3%,#ce1859 71.5%,#d41849 76.2%,#c81867 80.2%,#a52697 83.4%,#6742a6 87.3%,#5543a5 92.9%,#5543a5 99.2%)"></i><i style="left:465px;width:5.6px;background:linear-gradient(#5241a3 0%,#6543a6 62.7%,#a22898 68.3%,#bd1884 70.7%,#cc185f 74.6%,#c41871 78.6%,#aa2295 81.8%,#6e41a5 86.5%,#5d45a8 93.7%,#5d45a8 99.2%)"></i><i style="left:470px;width:5.6px;background:linear-gradient(#4b3d9f 0%,#5d45a8 65.1%,#9c2d9a 74.6%,#863aa1 80.2%,#5744a6 87.3%,#5543a5 99.2%)"></i><i style="left:475px;width:5.6px;background:linear-gradient(#5040a2 0%,#6344a7 69.1%,#6b41a5 78.6%,#5a46a8 92.9%,#5a46a8 99.2%)"></i><i style="left:480px;width:5.6px;background:linear-gradient(#493c9e 0%,#5342a4 99.2%)"></i><i style="left:485px;width:3.6px;background:linear-gradient(#4a3c9e 0%,#5442a4 99.2%)"></i></div><div class="hm" style="left:1366.8px;top:1877.3px;width:488px;height:261.2px"><i style="left:0px;width:5.6px;background:linear-gradient(#18143a 0%,#1b1743 42.1%,#272364 45.9%,#4b3d9f 49%,#7a3da3 50.5%,#b71990 52.1%,#dd2536 53.6%,#e84221 54.4%,#f07930 55.9%,#f9bc16 59.7%,#facd10 64.3%,#f9b419 69.7%,#ef702e 73.5%,#e73e21 75%,#ce1858 76.6%,#bd1884 77.3%,#8e369f 78.9%,#5040a2 81.2%,#272364 85%,#1a1641 89.6%,#18143a 99.5%)"></i><i style="left:5px;width:5.6px;background:linear-gradient(#1f1b50 0%,#221e58 40.6%,#322c80 45.2%,#5141a3 47.5%,#843aa1 49%,#a22898 49.8%,#bf187e 50.5%,#d61845 51.3%,#e43628 52.1%,#f07830 53.6%,#fac812 56.7%,#f8e125 62%,#facf12 69.7%,#f17b2f 73.5%,#e84120 75%,#dd2337 75.8%,#b9188c 77.3%,#6e41a5 79.6%,#403698 81.9%,#25215e 86.5%,#1f1b50 99.5%)"></i><i style="left:10px;width:5.6px;background:linear-gradient(#171337 0%,#1a1640 39.1%,#24205d 42.9%,#463a9c 45.9%,#5845a7 46.7%,#992f9b 48.2%,#bb1888 49%,#d41849 49.8%,#e53926 50.5%,#f2812c 52.1%,#facb11 54.4%,#f8e226 56.7%,#fbef79 59.7%,#fbf189 62.8%,#faed69 65.8%,#f8e428 68.1%,#fac911 71.2%,#ed652b 74.3%,#e84120 75%,#da1d3c 75.8%,#c41872 76.6%,#a82496 77.3%,#6942a6 78.9%,#37308a 81.2%,#201c51 84.2%,#171339 90.4%,#171338 99.5%)"></i><i style="left:15px;width:5.6px;background:linear-gradient(#1e1a4b 0%,#211d54 37.5%,#2e2976 42.1%,#5945a7 45.2%,#97309c 46.7%,#ba188c 47.5%,#d4184b 48.2%,#e63a25 49%,#f3872a 50.5%,#fac314 52.1%,#f9de22 53.6%,#f9e639 54.4%,#fcf397 55.9%,#fefacc 57.4%,#fffef0 60.5%,#fefde6 65.1%,#fdf8bf 67.4%,#fbf087 68.9%,#f8e428 70.4%,#f9bf15 72.7%,#f2842b 74.3%,#e53727 75.8%,#d2184f 76.6%,#b81890 77.3%,#7040a4 78.9%,#44399b 80.4%,#24205c 84.2%,#1e1a4c 94.2%,#1e1a4b 99.5%)"></i><i style="left:20px;width:5.6px;background:linear-gradient(#151134 0%,#19153e 36.8%,#282467 41.3%,#4e3fa1 44.4%,#853aa1 45.9%,#a92396 46.7%,#c81869 47.5%,#df2933 48.2%,#eb5325 49%,#f17c2e 49.8%,#fad114 52.1%,#f8e428 53.6%,#fbf188 55.1%,#fef9ca 57.4%,#fefcde 61.3%,#fefad2 65.8%,#fcf4a5 68.1%,#faeb5e 69.7%,#f8e428 70.4%,#fad114 72%,#f17d2e 74.3%,#eb5325 75%,#de2634 75.8%,#c41871 76.6%,#a02999 77.3%,#5543a5 78.9%,#2a256c 81.2%,#1b1745 83.5%,#151134 91.9%,#151134 99.5%)"></i><i style="left:25px;width:5.6px;background:linear-gradient(#1f1b4f 0%,#221e57 34.5%,#332d81 40.6%,#5442a4 43.6%,#813ba2 45.2%,#be1882 46.7%,#d61845 47.5%,#e63c23 48.2%,#f3872a 49.8%,#fac314 51.3%,#f9de22 52.8%,#f9e639 53.6%,#fcf398 55.1%,#fefcdf 57.4%,#fffff5 60.5%,#fffeef 65.1%,#fdf8c0 67.4%,#fbee76 68.9%,#f9e73f 69.7%,#f8de22 70.4%,#f9c114 72%,#f2842b 73.5%,#e2322b 75%,#cd185c 75.8%,#ae1f94 76.6%,#6543a6 78.1%,#3d3597 79.6%,#282468 81.9%,#201c50 87.3%,#1f1b4f 99.5%)"></i><i style="left:30px;width:5.6px;background:linear-gradient(#1b1743 0%,#1f1b4e 33.7%,#362f88 40.6%,#6643a6 44.4%,#b51a91 46.7%,#cc185e 47.5%,#df2933 48.2%,#ea4d24 49%,#f48d28 50.5%,#fad013 52.8%,#f8e428 55.1%,#fbee78 57.4%,#fcf4a4 60.5%,#fcf39d 63.6%,#faec67 65.8%,#f8e226 67.4%,#fac712 69.7%,#f07830 72%,#ea5125 72.7%,#df2a32 73.5%,#ca1863 74.3%,#ad2094 75%,#6742a6 76.6%,#3e3597 78.1%,#231f59 81.2%,#1b1744 86.5%,#1b1743 99.5%)"></i><i style="left:35px;width:5.6px;background:linear-gradient(#221e57 0%,#252160 31.4%,#38318e 38.3%,#5f45a7 42.9%,#93339d 45.2%,#aa2295 45.9%,#c0187c 46.7%,#d3184e 47.5%,#e12d2f 48.2%,#ea4c23 49%,#f2822c 50.5%,#fac812 53.6%,#f8e125 60.5%,#facf12 65.8%,#ee6a2c 69.7%,#e94a23 70.4%,#df2a32 71.2%,#ce1859 72%,#b9188d 72.7%,#6344a7 75%,#39318e 77.3%,#272366 80.4%,#221e57 91.1%,#221e57 99.5%)"></i><i style="left:40px;width:5.6px;background:linear-gradient(#1f1b50 0%,#221e58 29.9%,#362f87 36.8%,#5e45a7 42.1%,#a42797 45.2%,#ba188b 45.9%,#da1e3b 47.5%,#e53826 48.2%,#f48b28 51.3%,#f9b718 55.9%,#f9b817 61.3%,#f2812d 65.1%,#e53926 67.4%,#da1e3b 68.1%,#b81890 69.7%,#6e40a5 72%,#4c3d9f 73.5%,#272364 78.1%,#1f1b50 86.5%,#1f1b50 99.5%)"></i><i style="left:45px;width:5.6px;background:linear-gradient(#1b1745 0%,#1f1b4e 28.3%,#322c7f 35.2%,#5644a6 40.6%,#95319d 43.6%,#ab2195 44.4%,#bf187d 45.2%,#dd2535 46.7%,#e73e22 47.5%,#f17b2f 49.8%,#f79a22 53.6%,#f69425 59.7%,#ed662b 62.8%,#e53926 64.3%,#db2039 65.1%,#bb1887 66.6%,#773ea3 68.9%,#3f3698 72%,#231f59 76.6%,#1c1845 85.8%,#1b1745 99.5%)"></i><i style="left:50px;width:5.6px;background:linear-gradient(#1a1640 0%,#1e1a4c 27.6%,#38318d 35.2%,#6643a6 39.8%,#a22898 42.1%,#b9188d 42.9%,#da1e3b 44.4%,#e53826 45.2%,#f17b2f 47.5%,#f8a31f 51.3%,#f59226 58.2%,#ec5d28 61.3%,#e94622 62%,#d51848 63.6%,#b01e93 65.1%,#6c41a5 67.4%,#45399b 69.7%,#1e1a4d 76.6%,#1a1640 96.5%,#1a1640 99.5%)"></i><i style="left:55px;width:5.6px;background:linear-gradient(#1d194b 0%,#211d55 26%,#362f89 32.9%,#5945a7 36.8%,#93339d 39.1%,#ac2194 39.8%,#c21876 40.6%,#d61844 41.3%,#e3342a 42.1%,#f2842b 44.4%,#fac214 48.2%,#faca11 52.8%,#f8a91d 57.4%,#ee692c 60.5%,#ea4d24 61.3%,#e2302d 62%,#d4184a 62.8%,#c0187b 63.6%,#a92395 64.3%,#6443a6 66.6%,#352f87 70.4%,#211d54 75.8%,#1d194b 99.5%)"></i><i style="left:60px;width:5.6px;background:linear-gradient(#1b1744 0%,#1f1b4f 25.3%,#362f88 32.2%,#6443a6 36%,#b21c92 38.3%,#ca1864 39.1%,#dd2536 39.8%,#e94822 40.6%,#f3852b 42.1%,#facb11 45.2%,#f9d518 53.6%,#fac712 56.7%,#f3852b 59.7%,#e94822 61.3%,#dd2536 62%,#c91866 62.8%,#b01e93 63.6%,#763ea4 65.1%,#4f3fa1 66.6%,#24205e 72%,#1c1845 78.9%,#1b1744 99.5%)"></i><i style="left:65px;width:5.6px;background:linear-gradient(#171339 0%,#1c1845 24.5%,#342d83 31.4%,#5141a3 34.5%,#793da3 36%,#b51a91 37.5%,#ce185a 38.3%,#e12e2e 39.1%,#eb5426 39.8%,#f07830 40.6%,#fac911 43.6%,#f9d81c 50.5%,#face11 56.7%,#f3862a 59.7%,#e84221 61.3%,#d91b3d 62%,#c1187a 62.8%,#a12998 63.6%,#6144a7 65.1%,#362f88 67.4%,#1f1b4e 71.2%,#171339 79.6%,#171339 99.5%)"></i><i style="left:70px;width:5.6px;background:linear-gradient(#1e1a4c 0%,#221e58 23%,#38318c 29.9%,#6443a6 34.5%,#91359e 36%,#ad2094 36.8%,#c7186c 37.5%,#dc2238 38.3%,#e94822 39.1%,#f38929 40.6%,#fac712 42.9%,#f9db1f 48.2%,#face11 56.7%,#f17c2e 59.7%,#e3332b 61.3%,#d01853 62%,#b81890 62.8%,#753ea4 64.3%,#5a46a8 65.1%,#2f2977 68.1%,#211d53 72.7%,#1e1a4c 99.5%)"></i><i style="left:75px;width:5.6px;background:linear-gradient(#141030 0%,#171338 23.7%,#483b9d 33.7%,#793da3 36%,#b51a91 37.5%,#cd185b 38.3%,#e02b31 39.1%,#ea4d24 39.8%,#f3852b 41.3%,#fac413 45.2%,#facd10 52.8%,#f8a81d 55.9%,#ee6b2c 58.2%,#e94a23 59%,#de2734 59.7%,#ca1863 60.5%,#b01e93 61.3%,#6c41a5 62.8%,#403698 64.3%,#1e1a4b 67.4%,#141030 70.4%,#141030 99.5%)"></i><i style="left:80px;width:5.6px;background:linear-gradient(#1b1744 0%,#1f1b4f 20.7%,#38318c 28.3%,#5d45a7 33.7%,#95319d 36%,#ae1f94 36.8%,#d81841 38.3%,#e33529 39.1%,#f17f2d 41.3%,#f9b419 45.9%,#f9bb17 50.5%,#f48e27 54.4%,#ea4d24 56.7%,#e2302d 57.4%,#d41849 58.2%,#c1187a 59%,#a82396 59.7%,#723fa4 61.3%,#5a46a8 62%,#2a256c 65.8%,#1d1949 70.4%,#1b1744 99.5%)"></i><i style="left:85px;width:5.6px;background:linear-gradient(#252161 0%,#2a256c 19.9%,#4f3fa1 29.1%,#7140a4 32.9%,#a22898 35.2%,#b71890 36%,#d71842 37.5%,#e94622 39.1%,#f17d2e 41.3%,#f79a22 46.7%,#f48d28 50.5%,#ed642a 52.8%,#e43727 54.4%,#db1e3b 55.1%,#bb1888 56.7%,#6942a6 59.7%,#38318d 63.6%,#282469 68.1%,#252161 99.5%)"></i><i style="left:90px;width:5.6px;background:linear-gradient(#1e1a4b 0%,#231f59 19.1%,#483b9d 28.3%,#7040a4 32.2%,#aa2295 34.5%,#bf187f 35.2%,#dd2437 36.8%,#e63b24 37.5%,#f17c2e 40.6%,#f2842b 45.9%,#ee6c2d 49%,#e53827 51.3%,#ce1858 52.8%,#be1880 53.6%,#93339d 55.1%,#5b46a8 57.4%,#302a7a 62%,#201c52 67.4%,#1e1a4b 99.5%)"></i><i style="left:95px;width:5.6px;background:linear-gradient(#151132 0%,#19153e 17.6%,#2c2771 23.7%,#4a3c9e 28.3%,#6e40a5 30.6%,#b41b92 32.9%,#d91b3e 34.5%,#e43528 35.2%,#f07830 37.5%,#f79923 41.3%,#f48a29 46.7%,#ed662b 49%,#e53727 50.5%,#da1c3d 51.3%,#b11d93 52.8%,#6344a7 55.1%,#37308a 58.2%,#1b1744 63.6%,#151132 72.7%,#151132 99.5%)"></i><i style="left:100px;width:5.6px;background:linear-gradient(#201c53 0%,#252160 16.8%,#4a3c9e 25.3%,#783ea3 28.3%,#bc1887 30.6%,#df2833 32.2%,#e94722 32.9%,#f17e2d 34.5%,#f9bd16 38.3%,#fac314 44.4%,#f79b22 48.2%,#f07a2f 49.8%,#e83f21 51.3%,#db1e3b 52.1%,#ae1f94 53.6%,#773ea3 55.1%,#463a9c 57.4%,#262262 62.8%,#201c53 75.8%,#201c53 99.5%)"></i><i style="left:105px;width:5.6px;background:linear-gradient(#1c1847 0%,#211d54 16.1%,#44399b 24.5%,#6344a7 26.8%,#8e379f 28.3%,#a72496 29.1%,#c0187b 29.9%,#d61846 30.6%,#e43529 31.4%,#f48b28 33.7%,#f9c114 36.8%,#facf12 42.9%,#f9b817 47.5%,#f0752f 50.5%,#e3332b 52.1%,#d3184d 52.8%,#bc1886 53.6%,#813ba2 55.1%,#5241a3 56.7%,#29256a 60.5%,#1e1a4b 65.8%,#1c1847 99.5%)"></i><i style="left:110px;width:5.6px;background:linear-gradient(#18143c 0%,#1d1949 15.3%,#342e84 22.2%,#6344a7 26.8%,#ab2295 29.1%,#c31873 29.9%,#d91a3e 30.6%,#e63c24 31.4%,#f07a2f 32.9%,#f9b917 36%,#face11 41.3%,#f9bf15 46.7%,#f3872a 49.8%,#ea5024 51.3%,#e12e2e 52.1%,#d01854 52.8%,#ba188b 53.6%,#6044a7 55.9%,#362f88 58.2%,#1f1b4e 62%,#18143c 72.7%,#18143c 99.5%)"></i><i style="left:115px;width:5.6px;background:linear-gradient(#18143c 0%,#1e1a4c 15.3%,#453a9c 24.5%,#6b41a5 27.6%,#b11d92 29.9%,#da1d3c 31.4%,#e63c23 32.2%,#f3872a 34.5%,#f9bb17 38.3%,#f9c114 43.6%,#f79a22 47.5%,#f17b2f 49%,#e94421 50.5%,#de2635 51.3%,#b9188e 52.8%,#6742a6 55.1%,#3a3291 57.4%,#201c52 61.3%,#19153d 68.9%,#18143c 99.5%)"></i><i style="left:120px;width:5.6px;background:linear-gradient(#1c1846 0%,#211d55 14.5%,#463a9c 23.7%,#6b41a5 28.3%,#a22898 30.6%,#b9188e 31.4%,#d91a3e 32.9%,#e94722 34.5%,#f2822c 37.5%,#f69624 42.1%,#f07930 45.9%,#e84020 48.2%,#d4184b 49.8%,#b21c92 51.3%,#723fa4 53.6%,#473b9d 55.9%,#211d55 62%,#1c1846 75.8%,#1c1846 99.5%)"></i><i style="left:125px;width:5.6px;background:linear-gradient(#1f1b50 0%,#25215f 13.8%,#463a9c 22.2%,#6842a6 29.1%,#9b2d9b 32.2%,#b9188e 33.7%,#d91a3e 36.8%,#e43628 41.3%,#d81841 45.2%,#bb1888 47.5%,#6942a6 52.1%,#3b3394 56.7%,#24205d 62%,#1f1b50 76.6%,#1f1b50 99.5%)"></i><i style="left:130px;width:5.6px;background:linear-gradient(#1b1743 0%,#211d55 13.8%,#44399b 22.2%,#6942a6 30.6%,#96319c 36.8%,#992f9b 42.9%,#5644a6 50.5%,#39328f 55.9%,#1f1b4f 62%,#1b1743 83.5%,#1b1743 99.5%)"></i><i style="left:135px;width:5.6px;background:linear-gradient(#24205c 0%,#2a266d 13%,#4b3d9f 20.7%,#723fa4 26.8%,#bd1883 34.5%,#bc1885 38.3%,#6742a6 48.2%,#473b9d 55.1%,#272364 62.8%,#24205c 99.5%)"></i><i style="left:140px;width:5.6px;background:linear-gradient(#18143c 0%,#1f1b4d 12.3%,#463a9c 21.4%,#7040a5 25.3%,#bb1888 29.1%,#d71842 31.4%,#e63a25 35.2%,#df2a31 39.1%,#ce1858 41.3%,#bb1889 42.9%,#733fa4 46.7%,#4d3ea0 51.3%,#38318e 55.1%,#1d194a 61.3%,#18143c 75.8%,#18143c 99.5%)"></i><i style="left:145px;width:5.6px;background:linear-gradient(#1f1b50 0%,#252161 11.5%,#5141a3 20.7%,#823ba2 23.7%,#bb1888 26%,#d81840 27.6%,#e84120 29.1%,#f07930 32.2%,#f3882a 36.8%,#ef6e2d 40.6%,#e84020 42.9%,#d81841 44.4%,#bb1888 45.9%,#773ea3 49%,#4f3fa1 52.8%,#352e86 56.7%,#231f59 62%,#1f1b50 99.5%)"></i><i style="left:150px;width:5.6px;background:linear-gradient(#141030 0%,#1a1640 10.7%,#493c9e 20.7%,#6f40a5 23%,#b41b91 25.3%,#d71843 26.8%,#e94421 28.3%,#f17e2d 31.4%,#f48c28 37.5%,#f0752f 41.3%,#e84221 43.6%,#d61846 45.2%,#b31b92 46.7%,#723fa4 49%,#473a9c 52.1%,#282469 56.7%,#18143b 61.3%,#141030 86.5%,#141030 99.5%)"></i><i style="left:155px;width:5.6px;background:linear-gradient(#141030 0%,#18143b 10.7%,#362f87 18.4%,#5946a8 22.2%,#97309c 24.5%,#af1e93 25.3%,#d4184b 26.8%,#e84020 28.3%,#f17c2f 31.4%,#f3882a 38.3%,#ef712e 41.3%,#e73e21 43.6%,#d3184d 45.2%,#af1e93 46.7%,#6e40a5 49%,#45399b 52.1%,#24205c 57.4%,#161235 62%,#141030 99.5%)"></i><i style="left:160px;width:5.6px;background:linear-gradient(#1b1743 0%,#221e57 11.5%,#483b9d 19.9%,#6942a6 23%,#9e2b9a 25.3%,#b21c92 26%,#dc2238 28.3%,#e94722 29.9%,#f07730 32.9%,#f17c2f 38.3%,#e94622 42.1%,#dc2139 43.6%,#b21c92 45.9%,#7c3da3 48.2%,#5342a4 51.3%,#363089 55.9%,#1f1b50 62%,#1b1743 96.5%,#1b1743 99.5%)"></i><i style="left:165px;width:5.6px;background:linear-gradient(#1d1948 0%,#231f5b 11.5%,#473b9d 19.9%,#6a41a5 24.5%,#bb1888 29.1%,#d61844 31.4%,#e53926 36%,#db1f3a 39.8%,#ae2094 43.6%,#6e40a5 47.5%,#483b9d 53.6%,#312b7d 57.4%,#211d55 62.8%,#1d1948 99.5%)"></i><i style="left:170px;width:5.6px;background:linear-gradient(#24205e 0%,#2b266e 11.5%,#4f40a2 19.9%,#853aa1 29.1%,#ad2094 35.2%,#93339e 41.3%,#6343a6 49%,#3f3698 56.7%,#29256b 62.8%,#24205d 99.5%)"></i><i style="left:175px;width:5.6px;background:linear-gradient(#1a1640 0%,#201c52 11.5%,#42389a 19.9%,#6543a6 33.7%,#43389a 54.4%,#201c51 62.8%,#1a1640 91.9%,#1a1640 99.5%)"></i><i style="left:180px;width:5.6px;background:linear-gradient(#1d1949 0%,#231f59 11.5%,#473a9c 19.9%,#6942a6 24.5%,#a42797 31.4%,#9a2e9b 36.8%,#5c45a8 45.2%,#43389a 55.1%,#24205b 62.8%,#1d1948 91.9%,#1d1948 99.5%)"></i><i style="left:185px;width:5.6px;background:linear-gradient(#161235 0%,#1b1745 11.5%,#37308c 18.4%,#6c41a5 23%,#bc1885 27.6%,#d51848 31.4%,#d61845 34.5%,#c0187c 38.3%,#a12998 40.6%,#5845a7 45.9%,#38318d 55.9%,#1e1a4d 62%,#161234 85%,#161234 99.5%)"></i><i style="left:190px;width:5.6px;background:linear-gradient(#1c1845 0%,#211d55 11.5%,#352f87 16.8%,#6344a7 20.7%,#ad2094 23.7%,#da1d3c 26.8%,#e94421 30.6%,#e84221 36%,#d81841 39.8%,#b9188d 42.1%,#7140a4 45.9%,#5443a5 50.5%,#3b3394 56.7%,#24205d 62.8%,#1b1745 86.5%,#1b1745 99.5%)"></i><i style="left:195px;width:5.6px;background:linear-gradient(#1e1a4c 0%,#24205b 11.5%,#38318d 16.8%,#5f45a7 19.9%,#b01e93 23%,#d81840 25.3%,#e73f21 27.6%,#eb5526 32.9%,#e84321 38.3%,#db2139 40.6%,#bc1885 42.9%,#7f3ca2 45.9%,#5a46a8 49.8%,#3b3393 57.4%,#272366 62.8%,#1e1a4c 85.8%,#1e1a4c 99.5%)"></i><i style="left:200px;width:5.6px;background:linear-gradient(#1a163f 0%,#201c52 12.3%,#403698 18.4%,#6443a6 20.7%,#a02a99 23%,#b31b92 23.7%,#d81841 26%,#e94521 29.9%,#e94622 36%,#df2a31 39.1%,#d3184c 40.6%,#af1f93 42.9%,#723fa4 45.9%,#5443a5 49.8%,#38318c 57.4%,#231f59 63.6%,#19153f 87.3%,#19153f 99.5%)"></i><i style="left:205px;width:5.6px;background:linear-gradient(#201c53 0%,#272364 12.3%,#493c9e 19.1%,#6a41a5 21.4%,#ba188b 25.3%,#da1e3b 28.3%,#e63a25 32.9%,#dc2238 37.5%,#c91865 39.8%,#b71990 41.3%,#783ea3 45.2%,#5a46a8 51.3%,#38308c 59%,#29256b 64.3%,#201c52 88.1%,#201c52 99.5%)"></i><i style="left:210px;width:5.6px;background:linear-gradient(#221e57 0%,#282467 12.3%,#5040a2 20.7%,#8939a0 25.3%,#bc1887 29.9%,#c41872 33.7%,#ad2094 38.3%,#733fa4 43.6%,#4e3fa1 55.9%,#2c2771 64.3%,#221e57 88.1%,#221e57 99.5%)"></i><i style="left:215px;width:5.6px;background:linear-gradient(#1e1a4d 0%,#25215f 13%,#45399b 20.7%,#6b41a5 27.6%,#7d3ca2 34.5%,#5a46a8 47.5%,#463a9c 56.7%,#29256a 64.3%,#1e1a4d 85.8%,#1e1a4d 99.5%)"></i><i style="left:220px;width:5.6px;background:linear-gradient(#1b1744 0%,#211d55 13%,#43389a 21.4%,#5945a7 34.5%,#4b3d9f 55.1%,#322c7f 59.7%,#25215f 66.6%,#1b1744 86.5%,#1b1744 99.5%)"></i><i style="left:225px;width:5.6px;background:linear-gradient(#1a1642 0%,#201c52 13%,#45399b 22.2%,#6942a6 30.6%,#6a41a5 38.3%,#43389a 56.7%,#262263 64.3%,#1a1642 86.5%,#1a1642 99.5%)"></i><i style="left:230px;width:5.6px;background:linear-gradient(#1e1a4d 0%,#25215f 13.8%,#4c3ea0 22.2%,#783da3 26.8%,#aa2295 32.9%,#a02999 38.3%,#5d45a7 47.5%,#45399b 57.4%,#2a266d 65.1%,#1e1a4d 86.5%,#1e1a4d 99.5%)"></i><i style="left:235px;width:5.6px;background:linear-gradient(#171337 0%,#1d1948 13.8%,#352e86 19.9%,#5b46a8 23.7%,#ba188c 29.9%,#c7186b 33.7%,#bf187f 38.3%,#982f9c 42.1%,#5845a7 47.5%,#39318e 58.2%,#24205c 64.3%,#171337 85.8%,#171337 99.5%)"></i><i style="left:240px;width:5.6px;background:linear-gradient(#201c52 0%,#252161 13.8%,#3a3291 19.1%,#6d41a5 23%,#ba188b 26.8%,#d3184d 29.9%,#da1e3b 34.5%,#d4184a 39.1%,#b41b92 42.9%,#783ea3 46.7%,#5a46a8 52.1%,#38318d 60.5%,#2c2772 66.6%,#201c52 86.5%,#201c51 99.5%)"></i><i style="left:245px;width:5.6px;background:linear-gradient(#19153d 0%,#1e1a4b 13.8%,#312c7e 19.1%,#5342a4 22.2%,#97309c 25.3%,#bd1883 27.6%,#d11852 30.6%,#d41849 36.8%,#cb1861 39.8%,#ac2094 42.9%,#6d41a5 46.7%,#5241a3 51.3%,#39328f 59%,#272366 64.3%,#19153d 85.8%,#19153d 99.5%)"></i><i style="left:250px;width:5.6px;background:linear-gradient(#1d1948 0%,#231f59 14.5%,#38318e 19.9%,#5c46a8 23%,#bd1884 28.3%,#d21850 32.2%,#d2184f 36.8%,#bf187e 40.6%,#a22898 42.9%,#6044a7 48.2%,#3f3698 59%,#2b2770 65.1%,#1d1949 85.8%,#1d1948 99.5%)"></i><i style="left:255px;width:5.6px;background:linear-gradient(#161236 0%,#1b1745 14.5%,#2e2976 19.9%,#4d3ea0 23.7%,#843aa1 27.6%,#b41b92 32.9%,#a82396 38.3%,#5a46a8 45.9%,#3c3496 58.2%,#262262 64.3%,#161236 85.8%,#161236 99.5%)"></i><i style="left:260px;width:5.6px;background:linear-gradient(#171338 0%,#1c1846 14.5%,#342e84 21.4%,#5141a3 26%,#7f3ca2 33.7%,#6443a6 41.3%,#4f40a2 52.1%,#3a3392 59%,#272365 64.3%,#171339 85.8%,#171338 99.5%)"></i><i style="left:265px;width:5.6px;background:linear-gradient(#18143a 0%,#1c1846 14.5%,#362f89 22.2%,#5040a2 28.3%,#5342a4 43.6%,#44399b 57.4%,#272365 65.1%,#18143a 86.5%,#18143a 99.5%)"></i><i style="left:270px;width:5.6px;background:linear-gradient(#1e1a4c 0%,#231f5a 15.3%,#473b9d 24.5%,#6144a7 39.8%,#493c9e 58.2%,#2c2771 66.6%,#1e1a4c 87.3%,#1e1a4c 99.5%)"></i><i style="left:275px;width:5.6px;background:linear-gradient(#1c1845 0%,#201c53 15.3%,#44399b 24.5%,#6b41a5 32.9%,#7a3da3 39.8%,#5643a5 52.1%,#3a3291 60.5%,#2b266e 65.8%,#1c1846 86.5%,#1c1845 99.5%)"></i><i style="left:280px;width:5.6px;background:linear-gradient(#1c1846 0%,#211d55 16.1%,#493c9e 25.3%,#6f40a5 29.9%,#9f2a99 36%,#982f9c 42.1%,#5945a7 51.3%,#3b3394 60.5%,#2b266f 65.8%,#1c1846 86.5%,#1c1846 99.5%)"></i><i style="left:285px;width:5.6px;background:linear-gradient(#201c52 0%,#252160 16.1%,#4a3d9f 24.5%,#773ea3 28.3%,#b41b91 33.7%,#bd1884 39.8%,#a02999 45.2%,#6144a7 52.1%,#3d3496 61.3%,#2e2976 67.4%,#201c52 88.1%,#201c52 99.5%)"></i><i style="left:290px;width:5.6px;background:linear-gradient(#171339 0%,#1c1846 16.1%,#302b7b 22.2%,#5845a7 26.8%,#a52697 32.2%,#b81890 38.3%,#a52697 44.4%,#5845a7 51.3%,#38318d 60.5%,#272364 65.8%,#171339 87.3%,#171339 99.5%)"></i><i style="left:295px;width:5.6px;background:linear-gradient(#201c50 0%,#24205c 16.1%,#37308b 22.2%,#6244a7 26.8%,#b51a91 32.9%,#c0187d 39.1%,#ae1f94 44.4%,#6b41a5 50.5%,#473b9d 59.7%,#2e2976 67.4%,#201c51 88.1%,#201c50 99.5%)"></i><i style="left:300px;width:5.6px;background:linear-gradient(#19153d 0%,#1e1a4b 16.8%,#37308a 23.7%,#6842a6 29.1%,#a12998 34.5%,#a82496 40.6%,#7040a5 47.5%,#5342a4 52.8%,#3b3394 60.5%,#282469 65.8%,#19153d 87.3%,#19153d 99.5%)"></i><i style="left:305px;width:5.6px;background:linear-gradient(#171339 0%,#1c1845 16.8%,#322c80 23.7%,#4e3fa1 28.3%,#873aa1 37.5%,#6e41a5 44.4%,#5241a3 51.3%,#3a3392 60.5%,#262263 66.6%,#171339 88.1%,#171339 99.5%)"></i><i style="left:310px;width:5.6px;background:linear-gradient(#19153d 0%,#1e1a4b 17.6%,#413799 26.8%,#6344a7 39.1%,#413799 59.7%,#282468 66.6%,#19153e 87.3%,#19153d 99.5%)"></i><i style="left:315px;width:5.6px;background:linear-gradient(#201c53 0%,#25215f 17.6%,#483b9d 26.8%,#6044a7 39.8%,#5241a3 58.2%,#2f2a78 67.4%,#201c53 88.8%,#201c53 99.5%)"></i><i style="left:320px;width:5.6px;background:linear-gradient(#231f5b 0%,#282468 18.4%,#4a3c9e 26.8%,#6942a6 36%,#6543a6 49%,#4e3fa1 59.7%,#312b7e 68.1%,#231f5b 88.8%,#231f5b 99.5%)"></i><i style="left:325px;width:5.6px;background:linear-gradient(#19153d 0%,#1d194a 18.4%,#37308b 26%,#6244a7 34.5%,#773ea3 41.3%,#4f3fa1 55.9%,#39328f 61.3%,#282468 66.6%,#19153e 88.1%,#19153d 99.5%)"></i><i style="left:330px;width:5.6px;background:linear-gradient(#161236 0%,#1b1744 19.1%,#38308c 26.8%,#6742a6 32.9%,#91359e 39.1%,#833aa1 45.2%,#5241a3 52.8%,#3b3393 60.5%,#262261 66.6%,#161237 88.1%,#161236 99.5%)"></i><i style="left:335px;width:5.6px;background:linear-gradient(#141030 0%,#18143c 19.1%,#282468 24.5%,#483b9d 29.1%,#763ea4 32.9%,#992e9b 37.5%,#92339e 45.2%,#5241a3 52.8%,#38318e 60.5%,#231f5b 66.6%,#141030 88.1%,#141030 99.5%)"></i><i style="left:340px;width:5.6px;background:linear-gradient(#1c1845 0%,#1f1b50 19.1%,#322c7f 25.3%,#5342a4 29.1%,#9b2d9b 34.5%,#ac2194 41.3%,#95329d 47.5%,#5845a7 54.4%,#39328f 62%,#2a266d 67.4%,#1c1845 88.8%,#1c1845 99.5%)"></i><i style="left:345px;width:5.6px;background:linear-gradient(#1d194a 0%,#221e56 19.9%,#362f89 26%,#6742a6 30.6%,#a02999 35.2%,#ab2295 43.6%,#7c3ca3 49.8%,#5845a7 55.1%,#37308c 62.8%,#2c2770 68.1%,#1e1a4b 88.8%,#1d194a 99.5%)"></i><i style="left:350px;width:5.6px;background:linear-gradient(#1d194a 0%,#221e57 20.7%,#38318c 26.8%,#6443a6 31.4%,#9b2d9b 36.8%,#9e2b99 43.6%,#5845a7 54.4%,#38308c 62.8%,#2c2770 68.1%,#1d194a 88.8%,#1d194a 99.5%)"></i><i style="left:355px;width:5.6px;background:linear-gradient(#1d1948 0%,#211d54 20.7%,#38318d 27.6%,#6742a6 33.7%,#8a39a0 40.6%,#5744a6 54.4%,#3b3393 62%,#2b2770 67.4%,#1d1948 88.8%,#1d1948 99.5%)"></i><i style="left:360px;width:5.6px;background:linear-gradient(#221e57 0%,#272364 21.4%,#4d3ea0 30.6%,#743fa4 40.6%,#4f3fa1 59.7%,#302b7b 68.1%,#221e57 89.6%,#221e57 99.5%)"></i><i style="left:365px;width:5.6px;background:linear-gradient(#1c1845 0%,#201c51 21.4%,#453a9c 31.4%,#5a46a8 44.4%,#473b9d 59.7%,#2b266e 67.4%,#1c1846 88.1%,#1c1845 99.5%)"></i><i style="left:370px;width:5.6px;background:linear-gradient(#1d194a 0%,#221e57 22.2%,#463a9c 31.4%,#6842a6 40.6%,#4d3ea0 59%,#352f86 63.6%,#2a266d 71.2%,#1d194a 88.1%,#1d194a 99.5%)"></i><i style="left:375px;width:5.6px;background:linear-gradient(#1a1641 0%,#1e1a4d 22.2%,#352e86 29.1%,#5644a6 34.5%,#7c3da3 42.1%,#4f3fa1 57.4%,#39328f 62%,#29256b 67.4%,#1a1641 88.1%,#1a1641 99.5%)"></i><i style="left:380px;width:5.6px;background:linear-gradient(#171338 0%,#1a1642 22.2%,#2d2873 28.3%,#483b9d 32.2%,#733fa4 36.8%,#8a39a0 42.9%,#6a42a5 50.5%,#3a3291 61.3%,#262262 67.4%,#171338 88.1%,#171338 99.5%)"></i><i style="left:385px;width:5.6px;background:linear-gradient(#141030 0%,#161236 23.7%,#262261 28.3%,#44399b 32.2%,#6e40a5 36%,#873aa1 42.1%,#763ea4 49%,#493c9e 55.9%,#342e84 61.3%,#211d54 66.6%,#141030 84.2%,#141030 99.5%)"></i><i style="left:390px;width:5.6px;background:linear-gradient(#1b1745 0%,#1f1b4f 23%,#2f2a78 28.3%,#5241a3 32.2%,#90359f 37.5%,#93339d 47.5%,#5543a5 56.7%,#38308c 62.8%,#2a266d 68.1%,#1c1845 88.8%,#1b1745 99.5%)"></i><i style="left:395px;width:5.6px;background:linear-gradient(#18143c 0%,#1d1948 23.7%,#2e2977 29.1%,#4a3c9e 32.2%,#7040a4 35.2%,#91349e 40.6%,#8739a1 48.2%,#5040a2 56.7%,#38318e 62%,#282467 67.4%,#19153d 88.1%,#18143c 99.5%)"></i><i style="left:400px;width:5.6px;background:linear-gradient(#19153e 0%,#1c1848 23.7%,#2c2771 29.1%,#4a3c9e 32.9%,#7140a4 36.8%,#8a39a0 42.9%,#6b41a5 50.5%,#3d3597 61.3%,#282468 67.4%,#19153e 88.1%,#19153d 99.5%)"></i><i style="left:405px;width:5.6px;background:linear-gradient(#18143c 0%,#1d1948 24.5%,#302b7b 30.6%,#4b3d9f 34.5%,#7040a4 40.6%,#6643a6 48.2%,#3d3496 61.3%,#282467 67.4%,#19153d 88.1%,#18143c 99.5%)"></i><i style="left:410px;width:5.6px;background:linear-gradient(#1c1845 0%,#1f1b50 24.5%,#352e85 31.4%,#4a3d9f 35.2%,#6244a7 44.4%,#45399b 60.5%,#2a266d 68.1%,#1c1845 88.8%,#1c1845 99.5%)"></i><i style="left:415px;width:5.6px;background:linear-gradient(#1c1846 0%,#1f1b4f 24.5%,#37308a 32.2%,#5141a3 38.3%,#5141a3 57.4%,#38318e 62.8%,#2a266e 68.1%,#1c1846 88.8%,#1c1846 99.5%)"></i><i style="left:420px;width:5.6px;background:linear-gradient(#141030 0%,#171338 26.8%,#3e3597 36.8%,#5040a2 50.5%,#38318d 60.5%,#201c51 67.4%,#141030 84.2%,#141030 99.5%)"></i><i style="left:425px;width:5.6px;background:linear-gradient(#19153f 0%,#1d1949 25.3%,#322c7e 32.2%,#463a9c 36%,#6942a6 43.6%,#6742a6 52.1%,#43389a 60.5%,#282468 68.1%,#1a1640 88.1%,#19153f 99.5%)"></i><i style="left:430px;width:5.6px;background:linear-gradient(#1d194a 0%,#211d56 26%,#342e85 32.2%,#5342a4 36.8%,#863aa1 45.2%,#7b3da3 52.8%,#4f3fa1 59.7%,#2d2873 67.4%,#1d194b 88.8%,#1d194a 99.5%)"></i><i style="left:435px;width:5.6px;background:linear-gradient(#1d1949 0%,#211d53 26%,#332d82 32.2%,#5141a3 36%,#8d37a0 43.6%,#873aa1 52.8%,#5141a3 59.7%,#2d2874 66.6%,#1d1949 88.8%,#1d1949 99.5%)"></i><i style="left:440px;width:5.6px;background:linear-gradient(#1a1641 0%,#1e1a4d 26.8%,#302a7a 32.2%,#5040a2 36%,#8939a1 42.1%,#8b38a0 52.1%,#5040a2 59.7%,#2a266e 66.6%,#1a1642 88.1%,#1a1641 99.5%)"></i><i style="left:445px;width:5.6px;background:linear-gradient(#1c1847 0%,#201c51 26.8%,#312b7c 32.2%,#4a3d9f 35.2%,#6d41a5 38.3%,#91349e 43.6%,#8939a1 53.6%,#5342a4 59.7%,#2c2772 66.6%,#1c1847 88.8%,#1c1847 99.5%)"></i><i style="left:450px;width:5.6px;background:linear-gradient(#141030 0%,#171339 26.8%,#262263 32.2%,#44399b 36%,#6842a6 39.8%,#843aa1 46.7%,#7040a5 54.4%,#463a9c 59.7%,#24205c 66.6%,#141030 87.3%,#141030 99.5%)"></i><i style="left:455px;width:5.6px;background:linear-gradient(#1d1949 0%,#211d54 27.6%,#362f88 33.7%,#5b46a8 38.3%,#8739a1 44.4%,#823ba2 52.1%,#4f3fa1 59.7%,#2c2771 67.4%,#1d1949 88.8%,#1d1949 99.5%)"></i><i style="left:460px;width:5.6px;background:linear-gradient(#1a1640 0%,#1e1a4b 27.6%,#302a7a 33.7%,#493c9e 37.5%,#753fa4 46.7%,#5744a6 56.7%,#362f88 62.8%,#282469 68.1%,#1a1641 88.1%,#1a1640 99.5%)"></i><i style="left:465px;width:5.6px;background:linear-gradient(#1c1845 0%,#1f1b4e 27.6%,#2f2a79 33.7%,#453a9c 37.5%,#6543a6 48.2%,#483b9d 59.7%,#2a266d 68.1%,#1c1845 88.8%,#1c1845 99.5%)"></i><i style="left:470px;width:5.6px;background:linear-gradient(#1e1a4d 0%,#221e58 28.3%,#38318d 35.2%,#5945a7 43.6%,#5241a3 58.2%,#342d83 64.3%,#1f1b4e 86.5%,#1e1a4d 99.5%)"></i><i style="left:475px;width:5.6px;background:linear-gradient(#1c1846 0%,#1f1b50 28.3%,#302b7b 34.5%,#44399b 38.3%,#5744a6 52.1%,#403698 61.3%,#2b266f 67.4%,#1c1846 88.8%,#1c1846 99.5%)"></i><i style="left:480px;width:5.6px;background:linear-gradient(#161235 0%,#1a1640 29.1%,#2d2872 35.2%,#3e3597 39.1%,#4f3fa1 52.8%,#39318f 61.3%,#25215f 67.4%,#161235 88.1%,#161235 99.5%)"></i><i style="left:485px;width:3.6px;background:linear-gradient(#141030 0%,#161237 29.9%,#272366 35.2%,#3d3597 40.6%,#473b9d 55.9%,#38318d 60.5%,#221e56 66.6%,#141030 85%,#141030 99.5%)"></i></div><svg width="1909" height="2518" viewBox="0 0 1909 2518" font-family="Liberation Sans, Arial, sans-serif" font-size="19.5"><defs><filter id="bl1" x="-20%" y="-20%" width="140%" height="140%"><feGaussianBlur stdDeviation="1"/></filter><filter id="bl3" x="-30%" y="-30%" width="160%" height="160%"><feGaussianBlur stdDeviation="3"/></filter><filter id="bl6" x="-50%" y="-50%" width="200%" height="200%"><feGaussianBlur stdDeviation="6"/></filter><filter id="spkA" filterUnits="userSpaceOnUse" x="0" y="0" width="1909" height="2518"><feTurbulence type="fractalNoise" baseFrequency="0.55" numOctaves="1" seed="7" result="n"/><feColorMatrix in="n" type="matrix" values="0 0 0 0 0  0 0 0 0 0  0 0 0 0 0  0 0 0 6 -2.9" result="a"/><feComposite in="SourceGraphic" in2="a" operator="in"/></filter><filter id="spkB" filterUnits="userSpaceOnUse" x="0" y="0" width="1909" height="2518"><feTurbulence type="fractalNoise" baseFrequency="0.7" numOctaves="1" seed="19" result="n"/><feColorMatrix in="n" type="matrix" values="0 0 0 0 0  0 0 0 0 0  0 0 0 0 0  0 0 0 7 -4.0" result="a"/><feComposite in="SourceGraphic" in2="a" operator="in"/></filter><filter id="grain" x="0" y="0" width="100%" height="100%"><feTurbulence type="fractalNoise" baseFrequency="0.45" numOctaves="2" seed="3" result="n"/><feColorMatrix in="n" type="matrix" values="0 0 0 0 0  0 0 0 0 0  0 0 0 0 0  0 0 0 -2.2 1.25" result="a"/><feComposite in="SourceGraphic" in2="a" operator="in"/></filter><clipPath id="p1"><rect x="173.1" y="60" width="101.4" height="256"/></clipPath><clipPath id="p2"><rect x="284.2" y="60" width="101.4" height="256"/></clipPath><clipPath id="p3"><rect x="397.2" y="60" width="101.4" height="256"/></clipPath><clipPath id="p4"><rect x="810.3" y="59.7" width="104.6" height="256.5"/></clipPath><clipPath id="p5"><rect x="927.7" y="59.7" width="104.2" height="256.5"/></clipPath><clipPath id="p6"><rect x="1044.7" y="59.7" width="104.2" height="256.5"/></clipPath><clipPath id="p7"><rect x="1476.7" y="59.8" width="91.9" height="256.8"/></clipPath><clipPath id="p8"><rect x="1578.7" y="59.8" width="90.9" height="256.8"/></clipPath><clipPath id="p9"><rect x="1680" y="59.8" width="90.9" height="256.8"/></clipPath><clipPath id="f1"><rect x="91.2" y="375" width="488.8" height="166"/></clipPath><clipPath id="f2"><rect x="91.2" y="932" width="488.8" height="238.3"/></clipPath><clipPath id="f3"><rect x="723.3" y="373.6" width="491.7" height="168.9"/></clipPath><clipPath id="f4"><rect x="723.3" y="932" width="491.7" height="238.3"/></clipPath><clipPath id="f5"><rect x="1365.2" y="373.6" width="491.6" height="168.9"/></clipPath><clipPath id="f6"><rect x="1365.2" y="932.3" width="491.6" height="237.7"/></clipPath><clipPath id="pc1"><rect x="91.6" y="568.2" width="488.4" height="219"/></clipPath><clipPath id="pc2"><rect x="91.6" y="1198" width="488.4" height="223.5"/></clipPath><clipPath id="pc3"><rect x="91.6" y="2245.5" width="488.4" height="225.5"/></clipPath><clipPath id="pc4"><rect x="724.5" y="568.2" width="490.3" height="219"/></clipPath><clipPath id="pc5"><rect x="724.5" y="1198" width="490.3" height="223.5"/></clipPath><clipPath id="pc6"><rect x="724.5" y="2245.5" width="490.3" height="225.5"/></clipPath><clipPath id="pc7"><rect x="1365.8" y="568.2" width="489.8" height="219"/></clipPath><clipPath id="pc8"><rect x="1365.8" y="1198" width="489.8" height="223.5"/></clipPath><clipPath id="pc9"><rect x="1365.8" y="2245.5" width="489.8" height="225.5"/></clipPath><linearGradient id="cb11" x1="0" y1="0" x2="0" y2="1"><stop offset="0.000" stop-color="#fffff0"/><stop offset="0.070" stop-color="#f8f080"/><stop offset="0.170" stop-color="#f8e020"/><stop offset="0.360" stop-color="#f89020"/><stop offset="0.460" stop-color="#f05a28"/><stop offset="0.560" stop-color="#e02030"/><stop offset="0.655" stop-color="#c01890"/><stop offset="0.765" stop-color="#7a48a8"/><stop offset="0.875" stop-color="#4038a0"/><stop offset="0.950" stop-color="#2a2060"/><stop offset="1.000" stop-color="#150d30"/></linearGradient><linearGradient id="cb12" x1="0" y1="0" x2="0" y2="1"><stop offset="0.000" stop-color="#fffff0"/><stop offset="0.070" stop-color="#f8f080"/><stop offset="0.170" stop-color="#f8e020"/><stop offset="0.360" stop-color="#f89020"/><stop offset="0.460" stop-color="#f05a28"/><stop offset="0.560" stop-color="#e02030"/><stop offset="0.655" stop-color="#c01890"/><stop offset="0.765" stop-color="#7a48a8"/><stop offset="0.875" stop-color="#4038a0"/><stop offset="0.950" stop-color="#2a2060"/><stop offset="1.000" stop-color="#150d30"/></linearGradient><linearGradient id="cb13" x1="0" y1="0" x2="0" y2="1"><stop offset="0.000" stop-color="#fffff0"/><stop offset="0.070" stop-color="#f8f080"/><stop offset="0.170" stop-color="#f8e020"/><stop offset="0.360" stop-color="#f89020"/><stop offset="0.460" stop-color="#f05a28"/><stop offset="0.560" stop-color="#e02030"/><stop offset="0.655" stop-color="#c01890"/><stop offset="0.765" stop-color="#7a48a8"/><stop offset="0.875" stop-color="#4038a0"/><stop offset="0.950" stop-color="#2a2060"/><stop offset="1.000" stop-color="#150d30"/></linearGradient><linearGradient id="cb14" x1="0" y1="0" x2="0" y2="1"><stop offset="0.000" stop-color="#fffff0"/><stop offset="0.070" stop-color="#f8f080"/><stop offset="0.170" stop-color="#f8e020"/><stop offset="0.360" stop-color="#f89020"/><stop offset="0.460" stop-color="#f05a28"/><stop offset="0.560" stop-color="#e02030"/><stop offset="0.655" stop-color="#c01890"/><stop offset="0.765" stop-color="#7a48a8"/><stop offset="0.875" stop-color="#4038a0"/><stop offset="0.950" stop-color="#2a2060"/><stop offset="1.000" stop-color="#150d30"/></linearGradient><linearGradient id="cb15" x1="0" y1="0" x2="0" y2="1"><stop offset="0.000" stop-color="#fffff0"/><stop offset="0.070" stop-color="#f8f080"/><stop offset="0.170" stop-color="#f8e020"/><stop offset="0.360" stop-color="#f89020"/><stop offset="0.460" stop-color="#f05a28"/><stop offset="0.560" stop-color="#e02030"/><stop offset="0.655" stop-color="#c01890"/><stop offset="0.765" stop-color="#7a48a8"/><stop offset="0.875" stop-color="#4038a0"/><stop offset="0.950" stop-color="#2a2060"/><stop offset="1.000" stop-color="#150d30"/></linearGradient><linearGradient id="cb16" x1="0" y1="0" x2="0" y2="1"><stop offset="0.000" stop-color="#fffff0"/><stop offset="0.070" stop-color="#f8f080"/><stop offset="0.170" stop-color="#f8e020"/><stop offset="0.360" stop-color="#f89020"/><stop offset="0.460" stop-color="#f05a28"/><stop offset="0.560" stop-color="#e02030"/><stop offset="0.655" stop-color="#c01890"/><stop offset="0.765" stop-color="#7a48a8"/><stop offset="0.875" stop-color="#4038a0"/><stop offset="0.950" stop-color="#2a2060"/><stop offset="1.000" stop-color="#150d30"/></linearGradient></defs><text x="-0.8" y="34" font-size="47" font-weight="bold" fill="#141414">a</text><text x="-1.2" y="374" font-size="47" font-weight="bold" fill="#141414">b</text><text x="-0.8" y="920" font-size="47" font-weight="bold" fill="#141414">c</text><text x="-1.8" y="1546" font-size="47" font-weight="bold" fill="#141414">d</text><text x="-0.8" y="2231" font-size="47" font-weight="bold" fill="#141414">e</text><text x="643.5" y="34" font-size="47" font-weight="bold" fill="#141414">f</text><text x="638" y="374" font-size="47" font-weight="bold" fill="#141414">g</text><text x="638.5" y="920" font-size="47" font-weight="bold" fill="#141414">h</text><text x="643" y="1546" font-size="47" font-weight="bold" fill="#141414">i</text><text x="642" y="2231" font-size="47" font-weight="bold" fill="#141414">j</text><text x="1276" y="34" font-size="47" font-weight="bold" fill="#141414">k</text><text x="1281.5" y="374" font-size="47" font-weight="bold" fill="#141414">l</text><text x="1269" y="920" font-size="47" font-weight="bold" fill="#141414">m</text><text x="1275.5" y="1546" font-size="47" font-weight="bold" fill="#141414">n</text><text x="1275" y="2231" font-size="47" font-weight="bold" fill="#141414">o</text><g clip-path="url(#p1)"><rect x="173.1" y="60" width="101.4" height="256" fill="#c9cbcc" /><ellipse cx="189.1" cy="256" rx="16" ry="16" fill="#7a7a7a" opacity="0.8" filter="url(#bl6)"/><path d="M231.9 92.4C235.4 93.3 240.7 95 245.1 98C249.5 101 255.8 106.5 258.2 110.7C260.6 114.9 260 118.2 259.3 122.9C258.6 127.6 257.1 134.7 254.2 139.1C251.3 143.5 245.8 146.2 242.1 149.2C238.4 152.2 232.9 153.9 231.9 157.3C230.9 160.7 233.6 164.4 236 169.5C238.4 174.6 243.1 181.4 246.1 187.8C249.1 194.2 252.3 201.2 254.2 208C256.1 214.8 257 221.5 257.2 228.3C257.4 235.1 256.6 243.2 255.2 248.6C253.8 254 251.8 257.5 249.1 261C246.4 264.5 242.8 267.7 239.1 269.5C235.4 271.3 231.1 272.1 227.1 272C223.1 271.9 218.8 271 215.1 269C211.4 267 208 264.4 205.1 260C202.2 255.6 199 248.8 197.4 242.5C195.8 236.2 195.9 230.6 195.4 222.2C194.9 213.8 194.6 201.6 194.4 191.8C194.2 182 193.9 172.5 194.4 163.4C194.9 154.3 195.9 145.8 197.4 137C198.9 128.2 200.8 117.5 203.5 110.7C206.2 104 210.3 99.5 213.7 96.5C217.1 93.5 220.8 93.1 223.8 92.4C226.8 91.7 228.3 91.5 231.9 92.4Z" fill="#e9eaea" stroke="#e9eaea" stroke-width="5" filter="url(#bl3)"/><path d="M231.9 92.4C235.4 93.3 240.7 95 245.1 98C249.5 101 255.8 106.5 258.2 110.7C260.6 114.9 260 118.2 259.3 122.9C258.6 127.6 257.1 134.7 254.2 139.1C251.3 143.5 245.8 146.2 242.1 149.2C238.4 152.2 232.9 153.9 231.9 157.3C230.9 160.7 233.6 164.4 236 169.5C238.4 174.6 243.1 181.4 246.1 187.8C249.1 194.2 252.3 201.2 254.2 208C256.1 214.8 257 221.5 257.2 228.3C257.4 235.1 256.6 243.2 255.2 248.6C253.8 254 251.8 257.5 249.1 261C246.4 264.5 242.8 267.7 239.1 269.5C235.4 271.3 231.1 272.1 227.1 272C223.1 271.9 218.8 271 215.1 269C211.4 267 208 264.4 205.1 260C202.2 255.6 199 248.8 197.4 242.5C195.8 236.2 195.9 230.6 195.4 222.2C194.9 213.8 194.6 201.6 194.4 191.8C194.2 182 193.9 172.5 194.4 163.4C194.9 154.3 195.9 145.8 197.4 137C198.9 128.2 200.8 117.5 203.5 110.7C206.2 104 210.3 99.5 213.7 96.5C217.1 93.5 220.8 93.1 223.8 92.4C226.8 91.7 228.3 91.5 231.9 92.4Z" fill="#6c6c6c" stroke="#3c3c3c" stroke-width="1.1"/><ellipse cx="225.1" cy="210" rx="22" ry="40" fill="#444" opacity="0.45" filter="url(#bl6)"/><ellipse cx="228.1" cy="120" rx="18" ry="18" fill="#4a4a4a" opacity="0.35" filter="url(#bl6)"/><path d="M231.9 92.4C235.4 93.3 240.7 95 245.1 98C249.5 101 255.8 106.5 258.2 110.7C260.6 114.9 260 118.2 259.3 122.9C258.6 127.6 257.1 134.7 254.2 139.1C251.3 143.5 245.8 146.2 242.1 149.2C238.4 152.2 232.9 153.9 231.9 157.3C230.9 160.7 233.6 164.4 236 169.5C238.4 174.6 243.1 181.4 246.1 187.8C249.1 194.2 252.3 201.2 254.2 208C256.1 214.8 257 221.5 257.2 228.3C257.4 235.1 256.6 243.2 255.2 248.6C253.8 254 251.8 257.5 249.1 261C246.4 264.5 242.8 267.7 239.1 269.5C235.4 271.3 231.1 272.1 227.1 272C223.1 271.9 218.8 271 215.1 269C211.4 267 208 264.4 205.1 260C202.2 255.6 199 248.8 197.4 242.5C195.8 236.2 195.9 230.6 195.4 222.2C194.9 213.8 194.6 201.6 194.4 191.8C194.2 182 193.9 172.5 194.4 163.4C194.9 154.3 195.9 145.8 197.4 137C198.9 128.2 200.8 117.5 203.5 110.7C206.2 104 210.3 99.5 213.7 96.5C217.1 93.5 220.8 93.1 223.8 92.4C226.8 91.7 228.3 91.5 231.9 92.4Z" fill="#2a2a2a" opacity="0.55" filter="url(#grain)"/><rect x="178.2" y="303.7" width="56.1" height="6.7" fill="#111" /></g><g clip-path="url(#p2)"><rect x="284.2" y="60" width="101.4" height="256" fill="#c9cbcc" /><path d="M286.6 102.6C287.3 98.2 287.3 89.2 290.7 84.3C294.1 79.4 300.1 75.3 306.9 73.2C313.6 71.1 323.4 70.6 331.2 71.8C339 73 347.9 75.8 353.6 80.3C359.4 84.8 363.9 92.8 365.7 98.5C367.5 104.2 366.7 110 364.7 114.7C362.7 119.4 357.8 124.4 353.6 126.9C349.4 129.4 343.1 128.9 339.4 129.9C335.7 130.9 332.2 131.1 331.2 133C330.2 134.9 331.6 137.4 333.3 141.1C335 144.8 339 150.2 341.4 155.3C343.8 160.4 345.1 165.4 347.5 171.5C349.9 177.6 352.2 185 355.6 191.8C359 198.6 364 205.3 367.7 212.1C371.4 218.9 375.2 225.6 377.9 232.4C380.6 239.2 382.8 245.9 384 252.7C385.2 259.4 385.4 266.1 385 272.9C384.6 279.6 382.9 285 381.9 293.2C380.9 301.4 391.4 317.2 379.2 322C367 326.8 320.9 325.1 308.9 322C296.8 318.9 306.2 308.4 306.9 303.3C307.6 298.2 309.9 293.8 313 291.1C316.1 288.4 322.8 291.8 325.2 287.1C327.6 282.4 327.4 271.9 327.4 262.8C327.4 253.7 326.6 240.9 325.2 232.4C323.8 223.9 321.5 220.6 319.1 212.1C316.7 203.6 313.7 190.1 311 181.7C308.3 173.2 305.6 167.8 302.9 161.4C300.2 155 297.1 148.8 294.7 143.1C292.3 137.3 290.1 132.3 288.7 126.9C287.3 121.5 286.9 114.8 286.6 110.7C286.2 106.7 285.9 107 286.6 102.6Z" fill="#e9eaea" stroke="#e9eaea" stroke-width="5" filter="url(#bl3)"/><path d="M286.6 102.6C287.3 98.2 287.3 89.2 290.7 84.3C294.1 79.4 300.1 75.3 306.9 73.2C313.6 71.1 323.4 70.6 331.2 71.8C339 73 347.9 75.8 353.6 80.3C359.4 84.8 363.9 92.8 365.7 98.5C367.5 104.2 366.7 110 364.7 114.7C362.7 119.4 357.8 124.4 353.6 126.9C349.4 129.4 343.1 128.9 339.4 129.9C335.7 130.9 332.2 131.1 331.2 133C330.2 134.9 331.6 137.4 333.3 141.1C335 144.8 339 150.2 341.4 155.3C343.8 160.4 345.1 165.4 347.5 171.5C349.9 177.6 352.2 185 355.6 191.8C359 198.6 364 205.3 367.7 212.1C371.4 218.9 375.2 225.6 377.9 232.4C380.6 239.2 382.8 245.9 384 252.7C385.2 259.4 385.4 266.1 385 272.9C384.6 279.6 382.9 285 381.9 293.2C380.9 301.4 391.4 317.2 379.2 322C367 326.8 320.9 325.1 308.9 322C296.8 318.9 306.2 308.4 306.9 303.3C307.6 298.2 309.9 293.8 313 291.1C316.1 288.4 322.8 291.8 325.2 287.1C327.6 282.4 327.4 271.9 327.4 262.8C327.4 253.7 326.6 240.9 325.2 232.4C323.8 223.9 321.5 220.6 319.1 212.1C316.7 203.6 313.7 190.1 311 181.7C308.3 173.2 305.6 167.8 302.9 161.4C300.2 155 297.1 148.8 294.7 143.1C292.3 137.3 290.1 132.3 288.7 126.9C287.3 121.5 286.9 114.8 286.6 110.7C286.2 106.7 285.9 107 286.6 102.6Z" fill="#7a7a7a" stroke="#3c3c3c" stroke-width="1.1"/><ellipse cx="336.2" cy="100" rx="30" ry="24" fill="#333" opacity="0.6" filter="url(#bl6)"/><ellipse cx="346.2" cy="285" rx="28" ry="32" fill="#3a3a3a" opacity="0.5" filter="url(#bl6)"/><ellipse cx="314.2" cy="300" rx="16" ry="16" fill="#333" opacity="0.4" filter="url(#bl6)"/><ellipse cx="334.2" cy="190" rx="10" ry="40" fill="#aaa" opacity="0.35" filter="url(#bl6)"/><path d="M286.6 102.6C287.3 98.2 287.3 89.2 290.7 84.3C294.1 79.4 300.1 75.3 306.9 73.2C313.6 71.1 323.4 70.6 331.2 71.8C339 73 347.9 75.8 353.6 80.3C359.4 84.8 363.9 92.8 365.7 98.5C367.5 104.2 366.7 110 364.7 114.7C362.7 119.4 357.8 124.4 353.6 126.9C349.4 129.4 343.1 128.9 339.4 129.9C335.7 130.9 332.2 131.1 331.2 133C330.2 134.9 331.6 137.4 333.3 141.1C335 144.8 339 150.2 341.4 155.3C343.8 160.4 345.1 165.4 347.5 171.5C349.9 177.6 352.2 185 355.6 191.8C359 198.6 364 205.3 367.7 212.1C371.4 218.9 375.2 225.6 377.9 232.4C380.6 239.2 382.8 245.9 384 252.7C385.2 259.4 385.4 266.1 385 272.9C384.6 279.6 382.9 285 381.9 293.2C380.9 301.4 391.4 317.2 379.2 322C367 326.8 320.9 325.1 308.9 322C296.8 318.9 306.2 308.4 306.9 303.3C307.6 298.2 309.9 293.8 313 291.1C316.1 288.4 322.8 291.8 325.2 287.1C327.6 282.4 327.4 271.9 327.4 262.8C327.4 253.7 326.6 240.9 325.2 232.4C323.8 223.9 321.5 220.6 319.1 212.1C316.7 203.6 313.7 190.1 311 181.7C308.3 173.2 305.6 167.8 302.9 161.4C300.2 155 297.1 148.8 294.7 143.1C292.3 137.3 290.1 132.3 288.7 126.9C287.3 121.5 286.9 114.8 286.6 110.7C286.2 106.7 285.9 107 286.6 102.6Z" fill="#2a2a2a" opacity="0.55" filter="url(#grain)"/></g><g clip-path="url(#p3)"><rect x="397.2" y="60" width="101.4" height="256" fill="#c9cbcc" /><path d="M408.4 102.6C409.1 96.9 411 90.8 414.4 86.4C417.8 82 422.2 78.2 428.6 76.2C435 74.2 444.9 72.9 453 74.2C461.1 75.5 471.6 79.9 477.3 84.3C483 88.7 486 95.2 487.4 100.6C488.8 106 487.4 111.7 485.4 116.8C483.4 121.9 479 127.6 475.3 131C471.6 134.4 464.8 133.6 463.1 137C461.4 140.4 464.1 145.6 465.1 151.3C466.1 157.1 467.2 164.8 469.2 171.5C471.2 178.2 475.3 185 477.3 191.8C479.3 198.6 479.7 203.7 481.4 212.1C483.1 220.5 486.4 234.1 487.4 242.5C488.4 250.9 488.4 256 487.4 262.8C486.4 269.6 483.4 276.4 481.4 283.1C479.4 289.9 477 296.8 475.3 303.3C473.6 309.8 483.7 318.9 471.2 322C458.7 325.1 409.7 325.8 400.2 322C390.7 318.2 410 305.8 414.4 299.3C418.8 292.8 423.5 289.1 426.6 283C429.6 276.9 431 271.2 432.7 262.8C434.4 254.4 436.4 240.9 436.7 232.4C437 223.9 435.4 218.9 434.7 212.1C434 205.3 433.7 198.6 432.7 191.8C431.7 185 429.6 178.2 428.6 171.5C427.6 164.8 428.6 157.1 426.6 151.3C424.6 145.6 419.2 142.1 416.5 137C413.8 131.9 411.8 126.5 410.4 120.8C409 115.1 407.7 108.3 408.4 102.6Z" fill="#e9eaea" stroke="#e9eaea" stroke-width="5" filter="url(#bl3)"/><path d="M408.4 102.6C409.1 96.9 411 90.8 414.4 86.4C417.8 82 422.2 78.2 428.6 76.2C435 74.2 444.9 72.9 453 74.2C461.1 75.5 471.6 79.9 477.3 84.3C483 88.7 486 95.2 487.4 100.6C488.8 106 487.4 111.7 485.4 116.8C483.4 121.9 479 127.6 475.3 131C471.6 134.4 464.8 133.6 463.1 137C461.4 140.4 464.1 145.6 465.1 151.3C466.1 157.1 467.2 164.8 469.2 171.5C471.2 178.2 475.3 185 477.3 191.8C479.3 198.6 479.7 203.7 481.4 212.1C483.1 220.5 486.4 234.1 487.4 242.5C488.4 250.9 488.4 256 487.4 262.8C486.4 269.6 483.4 276.4 481.4 283.1C479.4 289.9 477 296.8 475.3 303.3C473.6 309.8 483.7 318.9 471.2 322C458.7 325.1 409.7 325.8 400.2 322C390.7 318.2 410 305.8 414.4 299.3C418.8 292.8 423.5 289.1 426.6 283C429.6 276.9 431 271.2 432.7 262.8C434.4 254.4 436.4 240.9 436.7 232.4C437 223.9 435.4 218.9 434.7 212.1C434 205.3 433.7 198.6 432.7 191.8C431.7 185 429.6 178.2 428.6 171.5C427.6 164.8 428.6 157.1 426.6 151.3C424.6 145.6 419.2 142.1 416.5 137C413.8 131.9 411.8 126.5 410.4 120.8C409 115.1 407.7 108.3 408.4 102.6Z" fill="#939393" stroke="#3c3c3c" stroke-width="1.1"/><ellipse cx="449.2" cy="105" rx="30" ry="26" fill="#383838" opacity="0.6" filter="url(#bl6)"/><ellipse cx="457.2" cy="260" rx="22" ry="40" fill="#505050" opacity="0.35" filter="url(#bl6)"/><path d="M408.4 102.6C409.1 96.9 411 90.8 414.4 86.4C417.8 82 422.2 78.2 428.6 76.2C435 74.2 444.9 72.9 453 74.2C461.1 75.5 471.6 79.9 477.3 84.3C483 88.7 486 95.2 487.4 100.6C488.8 106 487.4 111.7 485.4 116.8C483.4 121.9 479 127.6 475.3 131C471.6 134.4 464.8 133.6 463.1 137C461.4 140.4 464.1 145.6 465.1 151.3C466.1 157.1 467.2 164.8 469.2 171.5C471.2 178.2 475.3 185 477.3 191.8C479.3 198.6 479.7 203.7 481.4 212.1C483.1 220.5 486.4 234.1 487.4 242.5C488.4 250.9 488.4 256 487.4 262.8C486.4 269.6 483.4 276.4 481.4 283.1C479.4 289.9 477 296.8 475.3 303.3C473.6 309.8 483.7 318.9 471.2 322C458.7 325.1 409.7 325.8 400.2 322C390.7 318.2 410 305.8 414.4 299.3C418.8 292.8 423.5 289.1 426.6 283C429.6 276.9 431 271.2 432.7 262.8C434.4 254.4 436.4 240.9 436.7 232.4C437 223.9 435.4 218.9 434.7 212.1C434 205.3 433.7 198.6 432.7 191.8C431.7 185 429.6 178.2 428.6 171.5C427.6 164.8 428.6 157.1 426.6 151.3C424.6 145.6 419.2 142.1 416.5 137C413.8 131.9 411.8 126.5 410.4 120.8C409 115.1 407.7 108.3 408.4 102.6Z" fill="#2a2a2a" opacity="0.55" filter="url(#grain)"/></g><g clip-path="url(#p4)"><rect x="810.3" y="59.7" width="104.6" height="256.5" fill="#c6c8c9" /><path d="M879.4 118.3C883.7 119.6 891.8 124 894.5 127.3C897.2 130.6 896.9 134.5 895.5 138.1C894.1 141.7 888.4 145.6 885.9 148.8C883.4 152 880.9 153.8 880.5 157.4C880.1 161 881.7 164.9 883.7 170.3C885.7 175.7 890.1 182.8 892.3 189.6C894.4 196.4 896.1 204 896.6 211.1C897.1 218.3 897.3 226.4 895.5 232.5C893.7 238.6 891.1 243.7 885.9 247.5C880.7 251.3 871.6 255.1 864.4 255.1C857.2 255.1 848.6 250.9 842.9 247.5C837.2 244.1 832.9 240.7 830.1 234.6C827.2 228.5 826.2 218.3 825.8 211.1C825.4 204 826.1 197.4 827.9 191.7C829.7 186 833.5 181.3 836.5 176.7C839.5 172 843.8 169.2 846.1 163.8C848.4 158.4 848.1 150.6 850.4 144.5C852.7 138.4 857 131.4 860.1 127.3C863.1 123.2 865.5 121.3 868.7 119.8C871.9 118.3 875.1 117.1 879.4 118.3Z" fill="#e9eaea" stroke="#e9eaea" stroke-width="5" filter="url(#bl3)"/><path d="M879.4 118.3C883.7 119.6 891.8 124 894.5 127.3C897.2 130.6 896.9 134.5 895.5 138.1C894.1 141.7 888.4 145.6 885.9 148.8C883.4 152 880.9 153.8 880.5 157.4C880.1 161 881.7 164.9 883.7 170.3C885.7 175.7 890.1 182.8 892.3 189.6C894.4 196.4 896.1 204 896.6 211.1C897.1 218.3 897.3 226.4 895.5 232.5C893.7 238.6 891.1 243.7 885.9 247.5C880.7 251.3 871.6 255.1 864.4 255.1C857.2 255.1 848.6 250.9 842.9 247.5C837.2 244.1 832.9 240.7 830.1 234.6C827.2 228.5 826.2 218.3 825.8 211.1C825.4 204 826.1 197.4 827.9 191.7C829.7 186 833.5 181.3 836.5 176.7C839.5 172 843.8 169.2 846.1 163.8C848.4 158.4 848.1 150.6 850.4 144.5C852.7 138.4 857 131.4 860.1 127.3C863.1 123.2 865.5 121.3 868.7 119.8C871.9 118.3 875.1 117.1 879.4 118.3Z" fill="#5f5f5f" stroke="#3c3c3c" stroke-width="1.1"/><ellipse cx="860.3" cy="199.7" rx="28" ry="32" fill="#333" opacity="0.5" filter="url(#bl6)"/><ellipse cx="872.3" cy="139.7" rx="14" ry="16" fill="#444" opacity="0.35" filter="url(#bl6)"/><ellipse cx="855.3" cy="239.7" rx="22" ry="8" fill="#999" opacity="0.3" filter="url(#bl6)"/><path d="M879.4 118.3C883.7 119.6 891.8 124 894.5 127.3C897.2 130.6 896.9 134.5 895.5 138.1C894.1 141.7 888.4 145.6 885.9 148.8C883.4 152 880.9 153.8 880.5 157.4C880.1 161 881.7 164.9 883.7 170.3C885.7 175.7 890.1 182.8 892.3 189.6C894.4 196.4 896.1 204 896.6 211.1C897.1 218.3 897.3 226.4 895.5 232.5C893.7 238.6 891.1 243.7 885.9 247.5C880.7 251.3 871.6 255.1 864.4 255.1C857.2 255.1 848.6 250.9 842.9 247.5C837.2 244.1 832.9 240.7 830.1 234.6C827.2 228.5 826.2 218.3 825.8 211.1C825.4 204 826.1 197.4 827.9 191.7C829.7 186 833.5 181.3 836.5 176.7C839.5 172 843.8 169.2 846.1 163.8C848.4 158.4 848.1 150.6 850.4 144.5C852.7 138.4 857 131.4 860.1 127.3C863.1 123.2 865.5 121.3 868.7 119.8C871.9 118.3 875.1 117.1 879.4 118.3Z" fill="#2a2a2a" opacity="0.55" filter="url(#grain)"/><rect x="816.1" y="303.4" width="46.6" height="5.8" fill="#111" /></g><g clip-path="url(#p5)"><rect x="927.7" y="59.7" width="104.2" height="256.5" fill="#c6c8c9" /><path d="M971.7 108C973.1 103 974.5 94.9 978.1 90.8C981.7 86.7 987.9 84.2 993.2 83.3C998.5 82.4 1005.5 82.8 1010.1 85.5C1014.7 88.2 1019.4 94.6 1020.8 99.4C1022.2 104.2 1020.8 110.6 1018.7 114.5C1016.6 118.4 1009.4 118.7 1008.2 123C1007 127.3 1010.7 132.7 1011.4 140.2C1012.1 147.7 1013.4 159.9 1012.5 168.1C1011.6 176.3 1006.1 180.7 1006.1 189.6C1006.1 198.6 1010.4 211.1 1012.5 221.8C1014.6 232.5 1017.8 245.1 1018.9 254C1020 262.9 1019.8 264.2 1018.9 275.5C1018 286.8 1026.6 314 1013.7 321.7C1000.8 329.4 955.5 326.2 941.7 321.7C927.9 317.2 932.3 302.1 930.9 294.8C929.5 287.5 931.3 283.3 933.1 277.6C934.9 271.9 939.2 267.9 941.7 260.4C944.2 252.9 946 242.5 948.1 232.5C950.2 222.5 950.9 210 954.5 200.3C958.1 190.6 965.3 182.7 969.6 174.5C973.9 166.3 979.6 157.3 980.3 150.9C981 144.5 975.7 140.8 973.9 135.8C972.1 130.8 970 125.5 969.6 120.9C969.2 116.3 970.3 113 971.7 108Z" fill="#e9eaea" stroke="#e9eaea" stroke-width="5" filter="url(#bl3)"/><path d="M971.7 108C973.1 103 974.5 94.9 978.1 90.8C981.7 86.7 987.9 84.2 993.2 83.3C998.5 82.4 1005.5 82.8 1010.1 85.5C1014.7 88.2 1019.4 94.6 1020.8 99.4C1022.2 104.2 1020.8 110.6 1018.7 114.5C1016.6 118.4 1009.4 118.7 1008.2 123C1007 127.3 1010.7 132.7 1011.4 140.2C1012.1 147.7 1013.4 159.9 1012.5 168.1C1011.6 176.3 1006.1 180.7 1006.1 189.6C1006.1 198.6 1010.4 211.1 1012.5 221.8C1014.6 232.5 1017.8 245.1 1018.9 254C1020 262.9 1019.8 264.2 1018.9 275.5C1018 286.8 1026.6 314 1013.7 321.7C1000.8 329.4 955.5 326.2 941.7 321.7C927.9 317.2 932.3 302.1 930.9 294.8C929.5 287.5 931.3 283.3 933.1 277.6C934.9 271.9 939.2 267.9 941.7 260.4C944.2 252.9 946 242.5 948.1 232.5C950.2 222.5 950.9 210 954.5 200.3C958.1 190.6 965.3 182.7 969.6 174.5C973.9 166.3 979.6 157.3 980.3 150.9C981 144.5 975.7 140.8 973.9 135.8C972.1 130.8 970 125.5 969.6 120.9C969.2 116.3 970.3 113 971.7 108Z" fill="#8c8c8c" stroke="#3c3c3c" stroke-width="1.1"/><ellipse cx="977.7" cy="274.7" rx="38" ry="45" fill="#2e2e2e" opacity="0.6" filter="url(#bl6)"/><ellipse cx="997.7" cy="101.7" rx="20" ry="17" fill="#444" opacity="0.45" filter="url(#bl6)"/><ellipse cx="995.7" cy="169.7" rx="10" ry="30" fill="#aaa" opacity="0.35" filter="url(#bl6)"/><path d="M971.7 108C973.1 103 974.5 94.9 978.1 90.8C981.7 86.7 987.9 84.2 993.2 83.3C998.5 82.4 1005.5 82.8 1010.1 85.5C1014.7 88.2 1019.4 94.6 1020.8 99.4C1022.2 104.2 1020.8 110.6 1018.7 114.5C1016.6 118.4 1009.4 118.7 1008.2 123C1007 127.3 1010.7 132.7 1011.4 140.2C1012.1 147.7 1013.4 159.9 1012.5 168.1C1011.6 176.3 1006.1 180.7 1006.1 189.6C1006.1 198.6 1010.4 211.1 1012.5 221.8C1014.6 232.5 1017.8 245.1 1018.9 254C1020 262.9 1019.8 264.2 1018.9 275.5C1018 286.8 1026.6 314 1013.7 321.7C1000.8 329.4 955.5 326.2 941.7 321.7C927.9 317.2 932.3 302.1 930.9 294.8C929.5 287.5 931.3 283.3 933.1 277.6C934.9 271.9 939.2 267.9 941.7 260.4C944.2 252.9 946 242.5 948.1 232.5C950.2 222.5 950.9 210 954.5 200.3C958.1 190.6 965.3 182.7 969.6 174.5C973.9 166.3 979.6 157.3 980.3 150.9C981 144.5 975.7 140.8 973.9 135.8C972.1 130.8 970 125.5 969.6 120.9C969.2 116.3 970.3 113 971.7 108Z" fill="#2a2a2a" opacity="0.55" filter="url(#grain)"/></g><g clip-path="url(#p6)"><rect x="1044.7" y="59.7" width="104.2" height="256.5" fill="#c6c8c9" /><path d="M1068.3 93C1069.4 88.4 1071.5 81.8 1076.9 78C1082.3 74.2 1093.3 70.4 1100.5 70.4C1107.7 70.4 1115.9 74.2 1119.8 78C1123.7 81.8 1124.1 88 1124.1 93C1124.1 98 1120.2 103.3 1119.8 108C1119.4 112.7 1122.7 116.2 1122 120.9C1121.3 125.6 1116.7 128 1115.6 135.9C1114.5 143.8 1116 157.4 1115.6 168.1C1115.2 178.8 1113.1 191.4 1113.4 200.3C1113.8 209.2 1114.8 214.6 1117.7 221.8C1120.6 229 1126.3 236.1 1130.6 243.3C1134.9 250.5 1140.5 257.6 1143.5 264.8C1146.5 272 1147.4 276.8 1148.8 286.3C1150.2 295.8 1169.4 315.8 1151.7 321.7C1134 327.6 1060.2 326.9 1042.7 321.7C1025.2 316.5 1044.3 299.9 1046.8 290.4C1049.3 280.9 1054.7 272.6 1057.6 264.8C1060.5 257 1062.6 250.5 1064 243.3C1065.4 236.1 1066.2 229 1066.2 221.8C1066.2 214.6 1063.7 207.5 1064 200.3C1064.3 193.1 1066.9 186 1068.3 178.8C1069.7 171.7 1071.2 164.6 1072.6 157.4C1074 150.2 1075.8 142.7 1076.9 135.9C1078 129.1 1080.1 121.6 1079 116.6C1077.9 111.6 1072.3 109.7 1070.5 105.8C1068.7 101.9 1067.2 97.6 1068.3 93Z" fill="#e9eaea" stroke="#e9eaea" stroke-width="5" filter="url(#bl3)"/><path d="M1068.3 93C1069.4 88.4 1071.5 81.8 1076.9 78C1082.3 74.2 1093.3 70.4 1100.5 70.4C1107.7 70.4 1115.9 74.2 1119.8 78C1123.7 81.8 1124.1 88 1124.1 93C1124.1 98 1120.2 103.3 1119.8 108C1119.4 112.7 1122.7 116.2 1122 120.9C1121.3 125.6 1116.7 128 1115.6 135.9C1114.5 143.8 1116 157.4 1115.6 168.1C1115.2 178.8 1113.1 191.4 1113.4 200.3C1113.8 209.2 1114.8 214.6 1117.7 221.8C1120.6 229 1126.3 236.1 1130.6 243.3C1134.9 250.5 1140.5 257.6 1143.5 264.8C1146.5 272 1147.4 276.8 1148.8 286.3C1150.2 295.8 1169.4 315.8 1151.7 321.7C1134 327.6 1060.2 326.9 1042.7 321.7C1025.2 316.5 1044.3 299.9 1046.8 290.4C1049.3 280.9 1054.7 272.6 1057.6 264.8C1060.5 257 1062.6 250.5 1064 243.3C1065.4 236.1 1066.2 229 1066.2 221.8C1066.2 214.6 1063.7 207.5 1064 200.3C1064.3 193.1 1066.9 186 1068.3 178.8C1069.7 171.7 1071.2 164.6 1072.6 157.4C1074 150.2 1075.8 142.7 1076.9 135.9C1078 129.1 1080.1 121.6 1079 116.6C1077.9 111.6 1072.3 109.7 1070.5 105.8C1068.7 101.9 1067.2 97.6 1068.3 93Z" fill="#9c9c9c" stroke="#3c3c3c" stroke-width="1.1"/><ellipse cx="1099.7" cy="287.7" rx="44" ry="38" fill="#2e2e2e" opacity="0.62" filter="url(#bl6)"/><ellipse cx="1096.7" cy="89.7" rx="24" ry="17" fill="#333" opacity="0.55" filter="url(#bl6)"/><ellipse cx="1089.7" cy="169.7" rx="12" ry="40" fill="#b0b0b0" opacity="0.3" filter="url(#bl6)"/><path d="M1068.3 93C1069.4 88.4 1071.5 81.8 1076.9 78C1082.3 74.2 1093.3 70.4 1100.5 70.4C1107.7 70.4 1115.9 74.2 1119.8 78C1123.7 81.8 1124.1 88 1124.1 93C1124.1 98 1120.2 103.3 1119.8 108C1119.4 112.7 1122.7 116.2 1122 120.9C1121.3 125.6 1116.7 128 1115.6 135.9C1114.5 143.8 1116 157.4 1115.6 168.1C1115.2 178.8 1113.1 191.4 1113.4 200.3C1113.8 209.2 1114.8 214.6 1117.7 221.8C1120.6 229 1126.3 236.1 1130.6 243.3C1134.9 250.5 1140.5 257.6 1143.5 264.8C1146.5 272 1147.4 276.8 1148.8 286.3C1150.2 295.8 1169.4 315.8 1151.7 321.7C1134 327.6 1060.2 326.9 1042.7 321.7C1025.2 316.5 1044.3 299.9 1046.8 290.4C1049.3 280.9 1054.7 272.6 1057.6 264.8C1060.5 257 1062.6 250.5 1064 243.3C1065.4 236.1 1066.2 229 1066.2 221.8C1066.2 214.6 1063.7 207.5 1064 200.3C1064.3 193.1 1066.9 186 1068.3 178.8C1069.7 171.7 1071.2 164.6 1072.6 157.4C1074 150.2 1075.8 142.7 1076.9 135.9C1078 129.1 1080.1 121.6 1079 116.6C1077.9 111.6 1072.3 109.7 1070.5 105.8C1068.7 101.9 1067.2 97.6 1068.3 93Z" fill="#2a2a2a" opacity="0.55" filter="url(#grain)"/></g><g clip-path="url(#p7)"><rect x="1476.7" y="59.8" width="91.9" height="256.8" fill="#b7b9bb" /><path d="M1526.9 108C1532.5 107.7 1540.3 109.5 1544.6 112.9C1548.9 116.4 1551.3 122.8 1552.5 128.7C1553.7 134.6 1552.2 141.8 1551.5 148.4C1550.8 155 1549.3 161.5 1548.5 168.1C1547.7 174.7 1546.4 181.2 1546.6 187.8C1546.8 194.4 1549 200.8 1549.5 207.4C1550 213.9 1550 221.2 1549.5 227.1C1549 233 1549.1 238.5 1546.6 242.8C1544.1 247.1 1539.3 250.7 1534.7 252.7C1530.1 254.7 1523.9 255.6 1519 254.6C1514.1 253.6 1508.5 251.4 1505.2 246.8C1501.9 242.2 1500 233.7 1499.3 227.1C1498.6 220.5 1499.3 213.9 1501.3 207.4C1503.3 200.8 1509.1 194.4 1511.1 187.8C1513.1 181.2 1513.9 174.7 1513.1 168.1C1512.3 161.5 1507.5 155 1506.2 148.4C1504.9 141.8 1504.4 134.3 1505.2 128.7C1506 123.1 1507.5 118.4 1511.1 114.9C1514.7 111.5 1521.3 108.3 1526.9 108Z" fill="#dcdede" stroke="#dcdede" stroke-width="5" filter="url(#bl3)"/><path d="M1526.9 108C1532.5 107.7 1540.3 109.5 1544.6 112.9C1548.9 116.4 1551.3 122.8 1552.5 128.7C1553.7 134.6 1552.2 141.8 1551.5 148.4C1550.8 155 1549.3 161.5 1548.5 168.1C1547.7 174.7 1546.4 181.2 1546.6 187.8C1546.8 194.4 1549 200.8 1549.5 207.4C1550 213.9 1550 221.2 1549.5 227.1C1549 233 1549.1 238.5 1546.6 242.8C1544.1 247.1 1539.3 250.7 1534.7 252.7C1530.1 254.7 1523.9 255.6 1519 254.6C1514.1 253.6 1508.5 251.4 1505.2 246.8C1501.9 242.2 1500 233.7 1499.3 227.1C1498.6 220.5 1499.3 213.9 1501.3 207.4C1503.3 200.8 1509.1 194.4 1511.1 187.8C1513.1 181.2 1513.9 174.7 1513.1 168.1C1512.3 161.5 1507.5 155 1506.2 148.4C1504.9 141.8 1504.4 134.3 1505.2 128.7C1506 123.1 1507.5 118.4 1511.1 114.9C1514.7 111.5 1521.3 108.3 1526.9 108Z" fill="#5e5e5e" stroke="#3c3c3c" stroke-width="1.1"/><ellipse cx="1526.7" cy="139.8" rx="20" ry="24" fill="#333" opacity="0.45" filter="url(#bl6)"/><ellipse cx="1524.7" cy="224.8" rx="20" ry="22" fill="#3a3a3a" opacity="0.35" filter="url(#bl6)"/><path d="M1526.9 108C1532.5 107.7 1540.3 109.5 1544.6 112.9C1548.9 116.4 1551.3 122.8 1552.5 128.7C1553.7 134.6 1552.2 141.8 1551.5 148.4C1550.8 155 1549.3 161.5 1548.5 168.1C1547.7 174.7 1546.4 181.2 1546.6 187.8C1546.8 194.4 1549 200.8 1549.5 207.4C1550 213.9 1550 221.2 1549.5 227.1C1549 233 1549.1 238.5 1546.6 242.8C1544.1 247.1 1539.3 250.7 1534.7 252.7C1530.1 254.7 1523.9 255.6 1519 254.6C1514.1 253.6 1508.5 251.4 1505.2 246.8C1501.9 242.2 1500 233.7 1499.3 227.1C1498.6 220.5 1499.3 213.9 1501.3 207.4C1503.3 200.8 1509.1 194.4 1511.1 187.8C1513.1 181.2 1513.9 174.7 1513.1 168.1C1512.3 161.5 1507.5 155 1506.2 148.4C1504.9 141.8 1504.4 134.3 1505.2 128.7C1506 123.1 1507.5 118.4 1511.1 114.9C1514.7 111.5 1521.3 108.3 1526.9 108Z" fill="#2a2a2a" opacity="0.55" filter="url(#grain)"/><rect x="1486.9" y="303.4" width="47.3" height="5.9" fill="#111" /></g><g clip-path="url(#p8)"><rect x="1578.7" y="59.8" width="90.9" height="256.8" fill="#c5c7c9" /><path d="M1595.8 109C1596.7 101.5 1598.1 89.6 1601.7 83.4C1605.3 77.2 1611.6 73.7 1617.5 71.6C1623.4 69.5 1631.2 68.6 1637.1 70.6C1643 72.6 1649.8 78.3 1652.9 83.4C1656 88.5 1656.5 94.9 1655.8 101.1C1655.1 107.3 1651.8 115.2 1649 120.8C1646.2 126.4 1640.9 126.7 1639.1 134.6C1637.3 142.5 1637.8 156 1638.1 168.1C1638.4 180.2 1640 194.3 1641.1 207.4C1642.2 220.5 1644 233.7 1645 246.8C1646 259.9 1645.2 273.7 1647 286.2C1648.8 298.7 1661.5 315.9 1655.7 321.8C1649.9 327.7 1620.4 327.7 1612.1 321.8C1603.8 315.9 1607.7 298.7 1606.1 286.2C1604.5 273.7 1602.6 259.9 1602.3 246.8C1602 233.7 1603.6 220.5 1604.3 207.4C1605 194.3 1606.9 177.9 1606.3 168.1C1605.7 158.3 1602.1 155 1600.4 148.4C1598.8 141.8 1597.2 135.3 1596.4 128.7C1595.6 122.1 1594.9 116.5 1595.8 109Z" fill="#e9eaea" stroke="#e9eaea" stroke-width="5" filter="url(#bl3)"/><path d="M1595.8 109C1596.7 101.5 1598.1 89.6 1601.7 83.4C1605.3 77.2 1611.6 73.7 1617.5 71.6C1623.4 69.5 1631.2 68.6 1637.1 70.6C1643 72.6 1649.8 78.3 1652.9 83.4C1656 88.5 1656.5 94.9 1655.8 101.1C1655.1 107.3 1651.8 115.2 1649 120.8C1646.2 126.4 1640.9 126.7 1639.1 134.6C1637.3 142.5 1637.8 156 1638.1 168.1C1638.4 180.2 1640 194.3 1641.1 207.4C1642.2 220.5 1644 233.7 1645 246.8C1646 259.9 1645.2 273.7 1647 286.2C1648.8 298.7 1661.5 315.9 1655.7 321.8C1649.9 327.7 1620.4 327.7 1612.1 321.8C1603.8 315.9 1607.7 298.7 1606.1 286.2C1604.5 273.7 1602.6 259.9 1602.3 246.8C1602 233.7 1603.6 220.5 1604.3 207.4C1605 194.3 1606.9 177.9 1606.3 168.1C1605.7 158.3 1602.1 155 1600.4 148.4C1598.8 141.8 1597.2 135.3 1596.4 128.7C1595.6 122.1 1594.9 116.5 1595.8 109Z" fill="#8a8a8a" stroke="#3c3c3c" stroke-width="1.1"/><ellipse cx="1624.7" cy="99.8" rx="28" ry="26" fill="#2e2e2e" opacity="0.6" filter="url(#bl6)"/><ellipse cx="1623.7" cy="259.8" rx="16" ry="40" fill="#4a4a4a" opacity="0.3" filter="url(#bl6)"/><ellipse cx="1622.7" cy="189.8" rx="10" ry="40" fill="#aaa" opacity="0.3" filter="url(#bl6)"/><path d="M1595.8 109C1596.7 101.5 1598.1 89.6 1601.7 83.4C1605.3 77.2 1611.6 73.7 1617.5 71.6C1623.4 69.5 1631.2 68.6 1637.1 70.6C1643 72.6 1649.8 78.3 1652.9 83.4C1656 88.5 1656.5 94.9 1655.8 101.1C1655.1 107.3 1651.8 115.2 1649 120.8C1646.2 126.4 1640.9 126.7 1639.1 134.6C1637.3 142.5 1637.8 156 1638.1 168.1C1638.4 180.2 1640 194.3 1641.1 207.4C1642.2 220.5 1644 233.7 1645 246.8C1646 259.9 1645.2 273.7 1647 286.2C1648.8 298.7 1661.5 315.9 1655.7 321.8C1649.9 327.7 1620.4 327.7 1612.1 321.8C1603.8 315.9 1607.7 298.7 1606.1 286.2C1604.5 273.7 1602.6 259.9 1602.3 246.8C1602 233.7 1603.6 220.5 1604.3 207.4C1605 194.3 1606.9 177.9 1606.3 168.1C1605.7 158.3 1602.1 155 1600.4 148.4C1598.8 141.8 1597.2 135.3 1596.4 128.7C1595.6 122.1 1594.9 116.5 1595.8 109Z" fill="#2a2a2a" opacity="0.55" filter="url(#grain)"/></g><g clip-path="url(#p9)"><rect x="1680" y="59.8" width="90.9" height="256.8" fill="#c5c7c9" /><path d="M1688.3 114.9C1688 107.4 1686.9 96.2 1690.2 89.3C1693.5 82.4 1701.1 77.2 1708 73.6C1714.9 70 1724.7 67 1731.6 67.7C1738.5 68.4 1745 72.9 1749.3 77.5C1753.5 82.1 1756.4 89.3 1757.1 95.2C1757.8 101.1 1756.2 107.3 1753.2 112.9C1750.2 118.5 1741 119.5 1739.4 128.7C1737.8 137.9 1741.8 155 1743.4 168.1C1745.1 181.2 1747 194.3 1749.3 207.4C1751.6 220.5 1756.1 233.7 1757.1 246.8C1758.1 259.9 1755.5 273.7 1755.2 286.2C1754.9 298.7 1760.8 315.9 1755.2 321.8C1749.6 327.7 1728.3 331 1721.7 321.8C1715.1 312.6 1717.4 282.3 1715.8 266.5C1714.2 250.7 1712.9 240.2 1711.9 227.1C1710.9 214 1710.2 199.3 1709.9 187.8C1709.6 176.3 1710.6 165.4 1709.9 158.2C1709.2 151 1709 148.3 1706 144.4C1703 140.5 1695.2 139.5 1692.2 134.6C1689.2 129.7 1688.6 122.5 1688.3 114.9Z" fill="#e9eaea" stroke="#e9eaea" stroke-width="5" filter="url(#bl3)"/><path d="M1688.3 114.9C1688 107.4 1686.9 96.2 1690.2 89.3C1693.5 82.4 1701.1 77.2 1708 73.6C1714.9 70 1724.7 67 1731.6 67.7C1738.5 68.4 1745 72.9 1749.3 77.5C1753.5 82.1 1756.4 89.3 1757.1 95.2C1757.8 101.1 1756.2 107.3 1753.2 112.9C1750.2 118.5 1741 119.5 1739.4 128.7C1737.8 137.9 1741.8 155 1743.4 168.1C1745.1 181.2 1747 194.3 1749.3 207.4C1751.6 220.5 1756.1 233.7 1757.1 246.8C1758.1 259.9 1755.5 273.7 1755.2 286.2C1754.9 298.7 1760.8 315.9 1755.2 321.8C1749.6 327.7 1728.3 331 1721.7 321.8C1715.1 312.6 1717.4 282.3 1715.8 266.5C1714.2 250.7 1712.9 240.2 1711.9 227.1C1710.9 214 1710.2 199.3 1709.9 187.8C1709.6 176.3 1710.6 165.4 1709.9 158.2C1709.2 151 1709 148.3 1706 144.4C1703 140.5 1695.2 139.5 1692.2 134.6C1689.2 129.7 1688.6 122.5 1688.3 114.9Z" fill="#969696" stroke="#3c3c3c" stroke-width="1.1"/><ellipse cx="1722" cy="99.8" rx="30" ry="27" fill="#2a2a2a" opacity="0.62" filter="url(#bl6)"/><ellipse cx="1730" cy="249.8" rx="18" ry="40" fill="#555" opacity="0.3" filter="url(#bl6)"/><path d="M1688.3 114.9C1688 107.4 1686.9 96.2 1690.2 89.3C1693.5 82.4 1701.1 77.2 1708 73.6C1714.9 70 1724.7 67 1731.6 67.7C1738.5 68.4 1745 72.9 1749.3 77.5C1753.5 82.1 1756.4 89.3 1757.1 95.2C1757.8 101.1 1756.2 107.3 1753.2 112.9C1750.2 118.5 1741 119.5 1739.4 128.7C1737.8 137.9 1741.8 155 1743.4 168.1C1745.1 181.2 1747 194.3 1749.3 207.4C1751.6 220.5 1756.1 233.7 1757.1 246.8C1758.1 259.9 1755.5 273.7 1755.2 286.2C1754.9 298.7 1760.8 315.9 1755.2 321.8C1749.6 327.7 1728.3 331 1721.7 321.8C1715.1 312.6 1717.4 282.3 1715.8 266.5C1714.2 250.7 1712.9 240.2 1711.9 227.1C1710.9 214 1710.2 199.3 1709.9 187.8C1709.6 176.3 1710.6 165.4 1709.9 158.2C1709.2 151 1709 148.3 1706 144.4C1703 140.5 1695.2 139.5 1692.2 134.6C1689.2 129.7 1688.6 122.5 1688.3 114.9Z" fill="#2a2a2a" opacity="0.55" filter="url(#grain)"/></g><text x="223.6" y="52.8" font-size="29.5" text-anchor="middle" fill="#111">72h</text><text x="335" y="52.8" font-size="29.5" text-anchor="middle" fill="#111">96h</text><text x="447.8" y="52.8" font-size="29.5" text-anchor="middle" fill="#111">120h</text><text x="862.6" y="52.8" font-size="29.5" text-anchor="middle" fill="#111">72h</text><text x="979.8" y="52.8" font-size="29.5" text-anchor="middle" fill="#111">96h</text><text x="1096.8" y="52.8" font-size="29.5" text-anchor="middle" fill="#111">120h</text><text x="1522.6" y="52.8" font-size="29.5" text-anchor="middle" fill="#111">72h</text><text x="1624.2" y="52.8" font-size="29.5" text-anchor="middle" fill="#111">96h</text><text x="1725.4" y="52.8" font-size="29.5" text-anchor="middle" fill="#111">120h</text><text x="154.6" y="188" font-size="29" text-anchor="middle" fill="#111" transform="rotate(-90 154.6 188)"><tspan font-style="italic">HES7</tspan> KO2</text><text x="801.8" y="189" font-size="29" text-anchor="middle" fill="#111" transform="rotate(-90 801.8 189)"><tspan font-style="italic">HES7</tspan><tspan font-size="16.5" dy="-5">R25W</tspan><tspan dy="5"> Mt2</tspan></text><text x="1469.4" y="185" font-size="29" text-anchor="middle" fill="#111" transform="rotate(-90 1469.4 185)"><tspan font-style="italic">MESP2</tspan> KO2</text><rect x="91.2" y="375" width="488.8" height="166" fill="#000" /><g clip-path="url(#f1)"><path d="M150 522C151.8 519.3 155.7 512.8 161 506C166.3 499.2 172.3 488.3 182 481C191.7 473.7 205 467.2 219 462C233 456.8 247.8 453.8 266 450C284.2 446.2 309.8 441.3 328 439C346.2 436.7 362 435.7 375 436C388 436.3 393.2 438.2 406 441C418.8 443.8 438 448.5 452 453C466 457.5 483.7 465.5 490 468" fill="none" stroke="#3a0e0e" stroke-width="38" stroke-linecap="round" stroke-linejoin="round" /><path d="M146 522C148.3 519.3 154 512.8 160 506C166 499.2 175.3 487 182 481C188.7 475 197 471.8 200 470" fill="none" stroke="#0e2c34" stroke-width="36" stroke-linecap="round" stroke-linejoin="round" /><ellipse cx="519" cy="478" rx="31" ry="39" fill="#22241a" /><path d="M150 522C151.8 519.3 155.7 512.8 161 506C166.3 499.2 172.3 488.3 182 481C191.7 473.7 205 467.2 219 462C233 456.8 247.8 453.8 266 450C284.2 446.2 309.8 441.3 328 439C346.2 436.7 362 435.7 375 436C388 436.3 393.2 438.2 406 441C418.8 443.8 438 448.5 452 453C466 457.5 483.7 465.5 490 468" fill="none" stroke="#e0342a" stroke-width="38" stroke-linecap="round" stroke-linejoin="round" filter="url(#spkA)" opacity="0.9"/><path d="M150 522C151.8 519.3 155.7 512.8 161 506C166.3 499.2 172.3 488.3 182 481C191.7 473.7 205 467.2 219 462C233 456.8 247.8 453.8 266 450C284.2 446.2 309.8 441.3 328 439C346.2 436.7 362 435.7 375 436C388 436.3 393.2 438.2 406 441C418.8 443.8 438 448.5 452 453C466 457.5 483.7 465.5 490 468" fill="none" stroke="#70c8d8" stroke-width="38" stroke-linecap="round" stroke-linejoin="round" filter="url(#spkB)" opacity="0.6"/><path d="M146 522C148.3 519.3 154 512.8 160 506C166 499.2 175.3 487 182 481C188.7 475 197 471.8 200 470" fill="none" stroke="#4ab8cc" stroke-width="36" stroke-linecap="round" stroke-linejoin="round" filter="url(#spkA)"/><path d="M146 522C148.3 519.3 154 512.8 160 506C166 499.2 175.3 487 182 481C188.7 475 197 471.8 200 470" fill="none" stroke="#e8d840" stroke-width="36" stroke-linecap="round" stroke-linejoin="round" filter="url(#spkB)" opacity="0.8"/><ellipse cx="519" cy="478" rx="31" ry="39" fill="#c8c050"  filter="url(#spkA)" opacity="0.55"/><ellipse cx="519" cy="478" rx="31" ry="39" fill="#60b0b8"  filter="url(#spkB)" opacity="0.6"/><ellipse cx="519" cy="478" rx="31" ry="39" fill="#c03028"  filter="url(#spkB)" opacity="0.35"/><rect x="100.5" y="487.4" width="6.6" height="46.6" fill="#fff" /></g><text x="97.9" y="396.3" font-size="22.5" font-weight="bold" fill="#fff">Phal / <tspan fill="#6ec4e4">TBXT</tspan> / <tspan fill="#e8302c">MEOX1</tspan> / <tspan fill="#f4e43c">FN1</tspan></text><text x="565" y="396.3" font-size="22.5" font-weight="bold" text-anchor="end" fill="#fff">+MG +RAL</text><text x="565" y="535.3" font-size="22.5" font-weight="bold" text-anchor="end" fill="#fff">HES7 KO2</text><rect x="91.2" y="932" width="488.8" height="238.3" fill="#000" /><g clip-path="url(#f2)"><path d="M150 1044C155.3 1046 170.3 1050.8 182 1056C193.7 1061.2 206 1068.3 220 1075C234 1081.7 250.5 1091 266 1096C281.5 1101 297.5 1104.5 313 1105C328.5 1105.5 346.2 1103 359 1099C371.8 1095 381.2 1089.2 390 1081C398.8 1072.8 404.2 1059.8 412 1050C419.8 1040.2 427.7 1028.7 437 1022C446.3 1015.3 457.7 1010.5 468 1010C478.3 1009.5 490.7 1013.3 499 1019C507.3 1024.7 516.2 1034.7 518 1044C519.8 1053.3 514.3 1064.8 510 1075C505.7 1085.2 496.7 1095.5 492 1105C487.3 1114.5 483.7 1127.5 482 1132" fill="none" stroke="#22386a" stroke-width="46" stroke-linecap="round" stroke-linejoin="round" /><ellipse cx="483" cy="1070" rx="45" ry="70" fill="#1e4a6c" /><path d="M150 1044C155.3 1046 170.3 1050.8 182 1056C193.7 1061.2 206 1068.3 220 1075C234 1081.7 250.5 1091 266 1096C281.5 1101 297.5 1104.5 313 1105C328.5 1105.5 346.2 1103 359 1099C371.8 1095 381.2 1089.2 390 1081C398.8 1072.8 404.2 1059.8 412 1050C419.8 1040.2 427.7 1028.7 437 1022C446.3 1015.3 457.7 1010.5 468 1010C478.3 1009.5 490.7 1013.3 499 1019C507.3 1024.7 516.2 1034.7 518 1044C519.8 1053.3 514.3 1064.8 510 1075C505.7 1085.2 496.7 1095.5 492 1105C487.3 1114.5 483.7 1127.5 482 1132" fill="none" stroke="#60d0ee" stroke-width="46" stroke-linecap="round" stroke-linejoin="round" filter="url(#spkA)"/><path d="M150 1044C155.3 1046 170.3 1050.8 182 1056C193.7 1061.2 206 1068.3 220 1075C234 1081.7 250.5 1091 266 1096C281.5 1101 297.5 1104.5 313 1105C328.5 1105.5 346.2 1103 359 1099C371.8 1095 381.2 1089.2 390 1081C398.8 1072.8 404.2 1059.8 412 1050C419.8 1040.2 427.7 1028.7 437 1022C446.3 1015.3 457.7 1010.5 468 1010C478.3 1009.5 490.7 1013.3 499 1019C507.3 1024.7 516.2 1034.7 518 1044C519.8 1053.3 514.3 1064.8 510 1075C505.7 1085.2 496.7 1095.5 492 1105C487.3 1114.5 483.7 1127.5 482 1132" fill="none" stroke="#c050c0" stroke-width="46" stroke-linecap="round" stroke-linejoin="round" filter="url(#spkB)" opacity="0.9"/><ellipse cx="483" cy="1070" rx="45" ry="70" fill="#60d0ea"  filter="url(#spkA)"/><path d="M150 1044C155.3 1046 172.8 1052 182 1056C191.2 1060 201.2 1066 205 1068" fill="none" stroke="#24164a" stroke-width="46" stroke-linecap="round" stroke-linejoin="round" /><path d="M150 1044C155.3 1046 172.8 1052 182 1056C191.2 1060 201.2 1066 205 1068" fill="none" stroke="#7048b0" stroke-width="46" stroke-linecap="round" stroke-linejoin="round" filter="url(#spkA)" opacity="0.7"/><ellipse cx="229" cy="1089" rx="24" ry="22" fill="#e8d040"  filter="url(#spkA)"/><ellipse cx="229" cy="1089" rx="24" ry="22" fill="#f0d050"  filter="url(#spkB)"/><rect x="99.2" y="1156.6" width="86.1" height="6.5" fill="#fff" /></g><text x="97.9" y="959" font-size="22.5" font-weight="bold" fill="#fff"><tspan fill="#7ccfe0">UNCX</tspan> / <tspan fill="#c055b0">TBX18</tspan> / <tspan fill="#f2d040">MESP2</tspan></text><text x="565" y="959" font-size="22.5" font-weight="bold" text-anchor="end" fill="#fff">+MG +RAL</text><text x="565" y="1163.2" font-size="22.5" font-weight="bold" text-anchor="end" fill="#fff">HES7 KO2</text><rect x="723.3" y="373.6" width="491.7" height="168.9" fill="#000" /><g clip-path="url(#f3)"><path d="M828 509C832 509.5 842.7 512 852 512C861.3 512 873.5 511.7 884 509C894.5 506.3 904.7 500.7 915 496C925.3 491.3 935.7 486.7 946 481C956.3 475.3 966.7 468.2 977 462C987.3 455.8 997.7 450.2 1008 444C1018.3 437.8 1029.8 429.2 1039 425C1048.2 420.8 1059 420 1063 419" fill="none" stroke="#3a0c0c" stroke-width="36" stroke-linecap="round" stroke-linejoin="round" /><ellipse cx="828" cy="503" rx="15" ry="24" fill="#2a200c" /><ellipse cx="1099" cy="462" rx="43" ry="56" fill="#2c0c0c" /><path d="M828 509C832 509.5 842.7 512 852 512C861.3 512 873.5 511.7 884 509C894.5 506.3 904.7 500.7 915 496C925.3 491.3 935.7 486.7 946 481C956.3 475.3 966.7 468.2 977 462C987.3 455.8 997.7 450.2 1008 444C1018.3 437.8 1029.8 429.2 1039 425C1048.2 420.8 1059 420 1063 419" fill="none" stroke="#e02a20" stroke-width="36" stroke-linecap="round" stroke-linejoin="round" filter="url(#spkA)"/><path d="M828 509C832 509.5 842.7 512 852 512C861.3 512 873.5 511.7 884 509C894.5 506.3 904.7 500.7 915 496C925.3 491.3 935.7 486.7 946 481C956.3 475.3 966.7 468.2 977 462C987.3 455.8 997.7 450.2 1008 444C1018.3 437.8 1029.8 429.2 1039 425C1048.2 420.8 1059 420 1063 419" fill="none" stroke="#e8d040" stroke-width="36" stroke-linecap="round" stroke-linejoin="round" filter="url(#spkB)" opacity="0.5"/><ellipse cx="1099" cy="462" rx="43" ry="56" fill="#d03020"  filter="url(#spkA)" opacity="0.75"/><ellipse cx="1099" cy="462" rx="41" ry="54" fill="none" stroke="#d8c030" stroke-width="7" filter="url(#spkB)" opacity="0.9"/><ellipse cx="828" cy="503" rx="15" ry="24" fill="none" stroke="#d8c030" stroke-width="5" filter="url(#spkB)" opacity="0.9"/><rect x="779" y="531.5" width="52" height="4.5" fill="#262626" /><rect x="730.9" y="530.8" width="48" height="6.4" fill="#fff" /></g><text x="731.3" y="396.3" font-size="22.5" font-weight="bold" fill="#fff">Phal / <tspan fill="#6ec4e4">TBXT</tspan> / <tspan fill="#e8302c">MEOX1</tspan> / <tspan fill="#f4e43c">FN1</tspan></text><text x="1206.5" y="396.3" font-size="22.5" font-weight="bold" text-anchor="end" fill="#fff">+MG +RAL</text><text x="1206.5" y="534.7" font-size="22.5" font-weight="bold" text-anchor="end" fill="#fff">HES7<tspan font-size="15" dy="-8">R25W</tspan><tspan dy="8"> Mt2</tspan></text><rect x="723.3" y="932" width="491.7" height="238.3" fill="#000" /><g clip-path="url(#f4)"><path d="M800 1062C806.2 1056.3 823 1037.2 837 1028C851 1018.8 868.5 1012.7 884 1007C899.5 1001.3 914.5 995.7 930 994C945.5 992.3 964 994.3 977 997C990 999.7 997.7 1005.8 1008 1010C1018.3 1014.2 1028.7 1017.3 1039 1022C1049.3 1026.7 1059.7 1033.3 1070 1038C1080.3 1042.7 1091.8 1044.8 1101 1050C1110.2 1055.2 1119 1061.7 1125 1069C1131 1076.3 1134.8 1085.8 1137 1094C1139.2 1102.2 1137.8 1114 1138 1118" fill="none" stroke="#1c2a5a" stroke-width="52" stroke-linecap="round" stroke-linejoin="round" /><path d="M1008 1010C1013.2 1012 1028.7 1017.3 1039 1022C1049.3 1026.7 1059.7 1033.3 1070 1038C1080.3 1042.7 1092.7 1045 1101 1050C1109.3 1055 1115.2 1060.7 1120 1068C1124.8 1075.3 1128.3 1086.2 1130 1094C1131.7 1101.8 1130 1111.5 1130 1115" fill="none" stroke="#1a1030" stroke-width="64" stroke-linecap="round" stroke-linejoin="round" /><path d="M800 1062C806.2 1056.3 823 1037.2 837 1028C851 1018.8 868.5 1012.7 884 1007C899.5 1001.3 914.5 995.7 930 994C945.5 992.3 964 994.3 977 997C990 999.7 1002.8 1007.8 1008 1010" fill="none" stroke="#58d0ee" stroke-width="52" stroke-linecap="round" stroke-linejoin="round" filter="url(#spkA)"/><path d="M800 1062C806.2 1056.3 823 1037.2 837 1028C851 1018.8 868.5 1012.7 884 1007C899.5 1001.3 914.5 995.7 930 994C945.5 992.3 964 994.3 977 997C990 999.7 997.7 1005.8 1008 1010C1018.3 1014.2 1033.8 1020 1039 1022" fill="none" stroke="#c048c0" stroke-width="52" stroke-linecap="round" stroke-linejoin="round" filter="url(#spkB)" opacity="0.9"/><path d="M1008 1010C1013.2 1012 1028.7 1017.3 1039 1022C1049.3 1026.7 1059.7 1033.3 1070 1038C1080.3 1042.7 1092.7 1045 1101 1050C1109.3 1055 1115.2 1060.7 1120 1068C1124.8 1075.3 1128.3 1086.2 1130 1094C1131.7 1101.8 1130 1111.5 1130 1115" fill="none" stroke="#40a0b8" stroke-width="64" stroke-linecap="round" stroke-linejoin="round" filter="url(#spkA)" opacity="0.5"/><path d="M1101 1050C1104.2 1053 1115.2 1060.7 1120 1068C1124.8 1075.3 1128.3 1086.2 1130 1094C1131.7 1101.8 1130 1111.5 1130 1115" fill="none" stroke="#a040a8" stroke-width="64" stroke-linecap="round" stroke-linejoin="round" filter="url(#spkB)" opacity="0.8"/><ellipse cx="778" cy="1097" rx="23" ry="23" fill="#2e1e5c" /><ellipse cx="778" cy="1097" rx="23" ry="23" fill="#7050b8"  filter="url(#spkA)" opacity="0.8"/><ellipse cx="806" cy="1070" rx="18" ry="28" fill="#c89830"  filter="url(#spkA)"/><ellipse cx="806" cy="1070" rx="18" ry="28" fill="#d040a0"  filter="url(#spkB)" opacity="0.8"/><rect x="733.2" y="1156.7" width="66.8" height="6.5" fill="#fff" /></g><text x="731.3" y="959" font-size="22.5" font-weight="bold" fill="#fff"><tspan fill="#7ccfe0">UNCX</tspan> / <tspan fill="#c055b0">TBX18</tspan> / <tspan fill="#f2d040">MESP2</tspan></text><text x="1206.5" y="959" font-size="22.5" font-weight="bold" text-anchor="end" fill="#fff">+MG +RAL</text><text x="1206.5" y="1163.2" font-size="22.5" font-weight="bold" text-anchor="end" fill="#fff">HES7<tspan font-size="15" dy="-8">R25W</tspan><tspan dy="8"> Mt2</tspan></text><rect x="1365.2" y="373.6" width="491.6" height="168.9" fill="#000" /><g clip-path="url(#f5)"><path d="M1500 493C1506.8 494 1526.3 497.5 1541 499C1555.7 500.5 1572.5 502.5 1588 502C1603.5 501.5 1623.7 500 1634 496C1644.3 492 1644.8 485.2 1650 478C1655.2 470.8 1659.8 460.3 1665 453C1670.2 445.7 1673.2 439.7 1681 434C1688.8 428.3 1706.8 421.5 1712 419" fill="none" stroke="#4a1010" stroke-width="32" stroke-linecap="round" stroke-linejoin="round" /><ellipse cx="1738" cy="462" rx="45" ry="56" fill="#1c0a0a" /><ellipse cx="1462" cy="486" rx="17" ry="19" fill="#0c2a34" /><ellipse cx="1493" cy="487" rx="17" ry="19" fill="#2a1a1a" /><path d="M1500 493C1506.8 494 1526.3 497.5 1541 499C1555.7 500.5 1572.5 502.5 1588 502C1603.5 501.5 1623.7 500 1634 496C1644.3 492 1644.8 485.2 1650 478C1655.2 470.8 1659.8 460.3 1665 453C1670.2 445.7 1673.2 439.7 1681 434C1688.8 428.3 1706.8 421.5 1712 419" fill="none" stroke="#f03a2e" stroke-width="32" stroke-linecap="round" stroke-linejoin="round" filter="url(#spkA)"/><path d="M1500 493C1506.8 494 1526.3 497.5 1541 499C1555.7 500.5 1572.5 502.5 1588 502C1603.5 501.5 1623.7 500 1634 496C1644.3 492 1644.8 485.2 1650 478C1655.2 470.8 1659.8 460.3 1665 453C1670.2 445.7 1673.2 439.7 1681 434C1688.8 428.3 1706.8 421.5 1712 419" fill="none" stroke="#f0f0f0" stroke-width="32" stroke-linecap="round" stroke-linejoin="round" filter="url(#spkB)" opacity="0.5"/><ellipse cx="1738" cy="462" rx="45" ry="56" fill="#b02820"  filter="url(#spkA)" opacity="0.35"/><ellipse cx="1738" cy="462" rx="45" ry="56" fill="#d8c840"  filter="url(#spkB)" opacity="0.3"/><ellipse cx="1738" cy="462" rx="43" ry="54" fill="none" stroke="#60b8c8" stroke-width="5" filter="url(#spkB)" opacity="0.9"/><ellipse cx="1462" cy="486" rx="17" ry="19" fill="#50c0d8"  filter="url(#spkA)"/><ellipse cx="1493" cy="487" rx="17" ry="19" fill="#e04030"  filter="url(#spkA)" opacity="0.8"/><rect x="1419" y="527" width="52" height="6" fill="#2a2a2a" /><rect x="1372.6" y="531" width="49.8" height="6.2" fill="#fff" /></g><text x="1375.1" y="396.3" font-size="22.5" font-weight="bold" fill="#fff">Phal / <tspan fill="#6ec4e4">TBXT</tspan> / <tspan fill="#e8302c">MEOX1</tspan> / <tspan fill="#f4e43c">FN1</tspan></text><text x="1847.3" y="396.3" font-size="22.5" font-weight="bold" text-anchor="end" fill="#fff">+MG +RAL</text><text x="1847.3" y="534.7" font-size="22.5" font-weight="bold" text-anchor="end" fill="#fff">MESP2 KO2</text><rect x="1365.2" y="932.3" width="491.6" height="237.7" fill="#000" /><g clip-path="url(#f6)"><ellipse cx="1752" cy="1085" rx="52" ry="46" fill="#18205a" /><path d="M1696 1028C1701.2 1030 1718.2 1035 1727 1040C1735.8 1045 1743.5 1051.3 1749 1058C1754.5 1064.7 1758.2 1076.3 1760 1080" fill="none" stroke="#18205a" stroke-width="58" stroke-linecap="round" stroke-linejoin="round" /><path d="M1470 1090C1479.3 1086 1509 1072.7 1526 1066C1543 1059.3 1556.5 1055.2 1572 1050C1587.5 1044.8 1603.5 1039.2 1619 1035C1634.5 1030.8 1652.2 1026.7 1665 1025C1677.8 1023.3 1685.7 1022.8 1696 1025C1706.3 1027.2 1721.8 1035.8 1727 1038" fill="none" stroke="#2a6a9a" stroke-width="64" stroke-linecap="round" stroke-linejoin="round" /><ellipse cx="1435" cy="1100" rx="20" ry="18" fill="#1a1c50" /><path d="M1470 1090C1479.3 1086 1509 1072.7 1526 1066C1543 1059.3 1556.5 1055.2 1572 1050C1587.5 1044.8 1603.5 1039.2 1619 1035C1634.5 1030.8 1652.2 1026.7 1665 1025C1677.8 1023.3 1685.7 1022.8 1696 1025C1706.3 1027.2 1721.8 1035.8 1727 1038" fill="none" stroke="#70d8f0" stroke-width="64" stroke-linecap="round" stroke-linejoin="round" filter="url(#spkA)"/><path d="M1470 1090C1479.3 1086 1509 1072.7 1526 1066C1543 1059.3 1556.5 1055.2 1572 1050C1587.5 1044.8 1603.5 1039.2 1619 1035C1634.5 1030.8 1652.2 1026.7 1665 1025C1677.8 1023.3 1685.7 1022.8 1696 1025C1706.3 1027.2 1721.8 1035.8 1727 1038" fill="none" stroke="#60c0e0" stroke-width="64" stroke-linecap="round" stroke-linejoin="round" filter="url(#spkB)"/><ellipse cx="1752" cy="1085" rx="52" ry="46" fill="#5070d0"  filter="url(#spkA)" opacity="0.7"/><path d="M1696 1028C1701.2 1030 1718.2 1035 1727 1040C1735.8 1045 1743.5 1051.3 1749 1058C1754.5 1064.7 1758.2 1076.3 1760 1080" fill="none" stroke="#4a80c8" stroke-width="58" stroke-linecap="round" stroke-linejoin="round" filter="url(#spkA)" opacity="0.7"/><ellipse cx="1435" cy="1100" rx="20" ry="18" fill="#5060c0"  filter="url(#spkA)" opacity="0.8"/><ellipse cx="1473" cy="1086" rx="27" ry="27" fill="#9c9020" /><ellipse cx="1473" cy="1086" rx="27" ry="27" fill="#f8e840"  filter="url(#spkA)"/><ellipse cx="1473" cy="1086" rx="27" ry="27" fill="#ffffa0"  filter="url(#spkB)"/><ellipse cx="1776" cy="1117" rx="4" ry="3" fill="#ffffff" /><rect x="1374" y="1156.7" width="40" height="6.5" fill="#fff" /></g><text x="1375.1" y="959" font-size="22.5" font-weight="bold" fill="#fff"><tspan fill="#7ccfe0">UNCX</tspan> / <tspan fill="#c055b0">TBX18</tspan> / <tspan fill="#f2d040">MESP2</tspan></text><text x="1847.3" y="959" font-size="22.5" font-weight="bold" text-anchor="end" fill="#fff">+MG +RAL</text><text x="1847.3" y="1163.2" font-size="22.5" font-weight="bold" text-anchor="end" fill="#fff">MESP2 KO2</text><rect x="91.6" y="568.2" width="488.4" height="219" fill="none" stroke="#1a1a1a" stroke-width="1.6"/><path d="M91.6 787.2L91.6 789.7" stroke="#1a1a1a" stroke-width="1.3"/><text x="91.6" y="811.5" text-anchor="middle" fill="#111">0</text><path d="M173 787.2L173 789.7" stroke="#1a1a1a" stroke-width="1.3"/><text x="173" y="811.5" text-anchor="middle" fill="#111">200</text><path d="M254.4 787.2L254.4 789.7" stroke="#1a1a1a" stroke-width="1.3"/><text x="254.4" y="811.5" text-anchor="middle" fill="#111">400</text><path d="M335.8 787.2L335.8 789.7" stroke="#1a1a1a" stroke-width="1.3"/><text x="335.8" y="811.5" text-anchor="middle" fill="#111">600</text><path d="M417.2 787.2L417.2 789.7" stroke="#1a1a1a" stroke-width="1.3"/><text x="417.2" y="811.5" text-anchor="middle" fill="#111">800</text><path d="M498.6 787.2L498.6 789.7" stroke="#1a1a1a" stroke-width="1.3"/><text x="498.6" y="811.5" text-anchor="middle" fill="#111">1000</text><path d="M580 787.2L580 789.7" stroke="#1a1a1a" stroke-width="1.3"/><text x="580" y="811.5" text-anchor="middle" fill="#111">1200</text><path d="M89.1 787.2L91.6 787.2" stroke="#1a1a1a" stroke-width="1.3"/><text x="84.8" y="797.1" text-anchor="end" fill="#111">0.0</text><path d="M89.1 743.4L91.6 743.4" stroke="#1a1a1a" stroke-width="1.3"/><text x="84.8" y="753.3" text-anchor="end" fill="#111">0.2</text><path d="M89.1 699.6L91.6 699.6" stroke="#1a1a1a" stroke-width="1.3"/><text x="84.8" y="709.5" text-anchor="end" fill="#111">0.4</text><path d="M89.1 655.8L91.6 655.8" stroke="#1a1a1a" stroke-width="1.3"/><text x="84.8" y="665.7" text-anchor="end" fill="#111">0.6</text><path d="M89.1 612L91.6 612" stroke="#1a1a1a" stroke-width="1.3"/><text x="84.8" y="621.9" text-anchor="end" fill="#111">0.8</text><path d="M89.1 568.2L91.6 568.2" stroke="#1a1a1a" stroke-width="1.3"/><text x="84.8" y="578.1" text-anchor="end" fill="#111">1.0</text><text x="39.6" y="689.4" font-size="19.3" text-anchor="middle" fill="#111" transform="rotate(-90 39.6 689.4)">Normalized intensity (a.u.)</text><text x="338" y="843.8" font-size="19.7" text-anchor="middle" fill="#111">Distance from the posterior end (μm)</text><g clip-path="url(#pc1)"><path d="M91.6 765.3L99.1 762.4L106.8 759.4L114.5 762.1L122.1 764L129.7 766L137.3 771.1L144.9 774.1L152.6 774.5L160.4 773L169.7 769.8L179.3 749.9L187 732.8L194.6 721.9L202.1 711.2L209.8 698.9L217.6 700.2L225.1 693L232.6 667.8L240.4 641.9L248.1 622.4L255.6 620.1L263.2 636.1L270.9 647.5L278.6 660L286.1 676.9L293.7 682.3L301.4 673L309.1 672.1L316.7 684.4L324.1 694.8L331.7 694.9L339.6 698.4L347.3 701.2L354.9 704.9L362.7 692.6L370.3 697.2L377.7 698.3L385.3 694.5L393.2 689.1L400.8 699.4L409.3 711.7L419.6 708.7L427.2 698.9L434.8 699.8L442.4 707.6L450.2 699.6L457.9 706.6L465.6 694.3L473.2 714.3L481.7 727.9L491.3 717.8L500 711.4L507.6 718.8L515.3 721.8L522.9 723.7L530.4 722L538 726.9L545.6 725.7L553.3 725.3L561 726.7L568.5 728.3L576.1 729.1L580 733L580 749.4L576.1 743.5L568.5 737.4L561 739L553.3 741.5L545.6 742.7L538 740.6L530.4 743.9L522.9 741.5L515.3 742.8L507.6 741.7L500 736.7L491.3 743.6L481.7 747.8L473.2 736L465.6 709.9L457.9 724L450.2 715.9L442.4 718L434.8 708.1L427.2 711.6L419.6 720.5L409.3 727L400.8 715.6L393.2 709.3L385.3 713.7L377.7 721.1L370.3 722.8L362.7 719.5L354.9 725.6L347.3 722.7L339.6 718.8L331.7 713.2L324.1 707.1L316.7 698.9L309.1 681.4L301.4 681L293.7 690.8L286.1 692.1L278.6 675.5L270.9 662.4L263.2 655.4L255.6 644.2L248.1 642.4L240.4 663.3L232.6 690.8L225.1 714.9L217.6 718L209.8 717.8L202.1 726.8L194.6 736.3L187 747.2L179.3 760L169.7 778.9L160.4 785L152.6 785.1L144.9 786L137.3 787.1L129.7 786.1L122.1 782.6L114.5 783.1L106.8 784.7L99.1 782.5L91.6 784.6 Z" fill="#f7a084" fill-opacity="0.45"/><path d="M91.6 598.1L99.3 599.3L110.7 656L118.3 653.9L126 675.7L133.5 703.3L141.1 721.3L148.8 730.8L156.5 734.2L164.1 737.7L171.7 737.1L179.3 738.1L187 739.5L194.7 737.6L202.2 738.7L209.8 738L217.6 739.3L225.2 737.1L232.7 737.1L240.4 736.1L248.1 735.8L255.8 738.1L263.4 736.2L271 747.5L278.5 751.1L286 752.3L293.7 755.4L301.4 757.7L309.1 758L316.8 755.5L324.4 752.9L332.1 754.4L339.7 753.1L347.3 754L354.9 750.9L362.5 751L370.1 749.3L377.6 748L385.3 746.9L393 746.5L400.6 748.1L408.1 752.6L415.8 753.1L423.7 751.3L431.2 754.4L438.8 759.6L446.4 757.2L454.1 755.3L461.8 753.1L469.4 751.2L476.9 749.3L484.6 751.5L492.3 751.7L499.9 753.2L507.5 753.3L515.1 752.7L522.8 748L530.4 745.4L538 745.4L545.6 747.4L553.3 748.6L561 749.6L568.5 747.9L576.1 747.7L580 744.8L580 755.2L576.1 755.2L568.5 757.1L561 757.7L553.3 758.2L545.6 754.6L538 755.1L530.4 757.2L522.8 761.9L515.1 768.4L507.5 772.2L499.9 771L492.3 769.6L484.6 770.2L476.9 767.7L469.4 763.4L461.8 764.5L454.1 767.3L446.4 768.1L438.8 766.6L431.2 762.6L423.7 758.5L415.8 763.9L408.1 764.9L400.6 762.6L393 763.1L385.3 764.4L377.6 767.1L370.1 766L362.5 766.2L354.9 770.1L347.3 768.1L339.7 769.5L332.1 766.1L324.4 766.1L316.8 765.3L309.1 764.8L301.4 765.3L293.7 766L286 764.6L278.5 763.7L271 758.5L263.4 753L255.8 751.8L248.1 754.5L240.4 753.7L232.7 752.9L225.2 756L217.6 755.1L209.8 753.8L202.2 750.2L194.7 749.4L187 747L179.3 744.7L171.7 746L164.1 744.3L156.5 742.7L148.8 739.4L141.1 732.7L133.5 718.2L126 692.1L118.3 671.2L110.7 672.8L99.3 615.9L91.6 617.2 Z" fill="#9fd9df" fill-opacity="0.45"/><path d="M91.6 774.9L95.3 771.4L99.1 772.4L102.9 772.5L106.8 772L110.6 772.5L114.5 772.6L118.3 773L122.1 773.3L125.9 774.3L129.7 776L133.5 778.8L137.3 779.1L141.1 780.2L144.9 780L148.8 780L152.6 779.8L156.5 778.7L160.4 779L165.1 777.2L169.7 774.4L175.4 759.3L179.3 754.9L183.2 750.5L187 740L190.9 729.9L194.6 729.1L198.2 727.5L202.1 719L206 710.5L209.8 708.4L213.7 705.8L217.6 709.1L221.4 712.4L225.1 703.9L228.8 695L232.6 679.3L236.5 665L240.4 652.6L244.2 640.6L248.1 632.4L252 625.7L255.6 632.1L259.3 637.8L263.2 645.7L267 653.9L270.9 655L274.8 656.3L278.6 667.8L282.5 680.3L286.1 684.5L289.8 688.4L293.7 686.6L297.5 684.7L301.4 677L305.3 668.9L309.1 676.7L313 683.7L316.7 691.6L320.3 700L324.1 701L327.9 702.1L331.7 704L335.7 706.4L339.6 708.6L343.5 710.4L347.3 711.9L351.1 713.5L354.9 715.3L358.8 710.6L362.7 706L366.5 708.3L370.3 710L374.1 712.2L377.7 709.7L381.4 706.7L385.3 704.1L389.3 701.7L393.2 699.2L397 703.3L400.8 707.5L404.6 710.9L409.3 719.4L413.9 728.5L419.6 714.6L423.4 709.8L427.2 705.3L431 699.7L434.8 703.9L438.6 708.1L442.4 712.8L446.3 711.1L450.2 707.8L454 712L457.9 715.3L461.8 708.8L465.6 702.1L469.4 713.8L473.2 725.2L477 736.9L481.7 737.8L486.4 738.5L491.3 730.7L496.2 721.6L500 724.1L503.8 727.3L507.6 730.2L511.4 731.2L515.3 732.3L519.1 732.5L522.9 732.6L526.7 732.6L530.4 732.9L534.2 733L538 733.8L541.7 734.3L545.6 734.2L549.5 734L553.3 733.4L557.2 732.8L561 732.8L564.7 732.2L568.5 732.9L572.3 732.7L576.1 736.3L580 741.2" fill="none" stroke="#e4553a" stroke-width="2.6" stroke-linejoin="round"/><path d="M91.6 607.6L95.3 592.5L99.3 607.6L105 668.8L110.7 664.4L114.4 655.4L118.3 662.6L122.1 668.9L126 683.9L129.9 699.1L133.5 710.7L137.2 721.3L141.1 727L144.9 732.2L148.8 735.1L152.6 737.3L156.5 738.4L160.4 740.9L164.1 741L167.9 741.8L171.7 741.5L175.4 741L179.3 741.4L183.2 742.5L187 743.3L190.9 743.9L194.7 743.5L198.4 744.4L202.2 744.4L206 744.5L209.8 745.9L213.7 745.8L217.6 747.2L221.4 747.3L225.2 746.6L229 746.6L232.7 745L236.5 744.8L240.4 744.9L244.2 745.5L248.1 745.2L252 745.4L255.8 745L259.6 745.3L263.4 744.6L267.2 749.1L271 753L274.8 756.1L278.5 757.4L282.3 757.7L286 758.5L289.8 759.3L293.7 760.7L297.5 761L301.4 761.5L305.3 761.4L309.1 761.4L312.9 761.2L316.8 760.4L320.6 760.3L324.4 759.5L328.2 759.7L332.1 760.2L335.9 761.3L339.7 761.3L343.5 762.1L347.3 761.1L351.1 760.4L354.9 760.5L358.7 760.1L362.5 758.6L366.3 758.9L370.1 757.7L373.9 757.2L377.6 757.5L381.4 756L385.3 755.7L389.1 756L393 754.8L396.9 753.9L400.6 755.3L404.4 756.8L408.1 758.7L411.9 759.3L415.8 758.5L419.8 756L423.7 754.9L427.5 757L431.2 758.5L435 760.6L438.8 763.1L442.6 762.3L446.4 762.7L450.2 761.6L454.1 761.3L457.9 762.2L461.8 758.8L465.6 756.7L469.4 757.3L473.2 758L476.9 758.5L480.7 760.3L484.6 760.8L488.4 761.3L492.3 760.7L496.2 761.2L499.9 762.1L503.7 762.9L507.5 762.8L511.2 763.3L515.1 760.6L519 757.3L522.8 754.9L526.7 751.9L530.4 751.3L534.2 750.6L538 750.3L541.7 750.6L545.6 751L549.5 752.3L553.3 753.4L557.2 754.9L561 753.7L564.7 753L568.5 752.5L572.3 751.9L576.1 751.5L580 750" fill="none" stroke="#5bbfc8" stroke-width="2.6" stroke-linejoin="round"/></g><rect x="91.6" y="1198" width="488.4" height="223.5" fill="none" stroke="#1a1a1a" stroke-width="1.6"/><path d="M91.6 1421.5L91.6 1424" stroke="#1a1a1a" stroke-width="1.3"/><text x="91.6" y="1443.8" text-anchor="middle" fill="#111">0</text><path d="M173 1421.5L173 1424" stroke="#1a1a1a" stroke-width="1.3"/><text x="173" y="1443.8" text-anchor="middle" fill="#111">200</text><path d="M254.4 1421.5L254.4 1424" stroke="#1a1a1a" stroke-width="1.3"/><text x="254.4" y="1443.8" text-anchor="middle" fill="#111">400</text><path d="M335.8 1421.5L335.8 1424" stroke="#1a1a1a" stroke-width="1.3"/><text x="335.8" y="1443.8" text-anchor="middle" fill="#111">600</text><path d="M417.2 1421.5L417.2 1424" stroke="#1a1a1a" stroke-width="1.3"/><text x="417.2" y="1443.8" text-anchor="middle" fill="#111">800</text><path d="M498.6 1421.5L498.6 1424" stroke="#1a1a1a" stroke-width="1.3"/><text x="498.6" y="1443.8" text-anchor="middle" fill="#111">1000</text><path d="M580 1421.5L580 1424" stroke="#1a1a1a" stroke-width="1.3"/><text x="580" y="1443.8" text-anchor="middle" fill="#111">1200</text><path d="M89.1 1421.5L91.6 1421.5" stroke="#1a1a1a" stroke-width="1.3"/><text x="84.8" y="1426.3" text-anchor="end" fill="#111">0.0</text><path d="M89.1 1376.8L91.6 1376.8" stroke="#1a1a1a" stroke-width="1.3"/><text x="84.8" y="1381.6" text-anchor="end" fill="#111">0.2</text><path d="M89.1 1332.1L91.6 1332.1" stroke="#1a1a1a" stroke-width="1.3"/><text x="84.8" y="1336.9" text-anchor="end" fill="#111">0.4</text><path d="M89.1 1287.4L91.6 1287.4" stroke="#1a1a1a" stroke-width="1.3"/><text x="84.8" y="1292.2" text-anchor="end" fill="#111">0.6</text><path d="M89.1 1242.7L91.6 1242.7" stroke="#1a1a1a" stroke-width="1.3"/><text x="84.8" y="1247.5" text-anchor="end" fill="#111">0.8</text><path d="M89.1 1198L91.6 1198" stroke="#1a1a1a" stroke-width="1.3"/><text x="84.8" y="1202.8" text-anchor="end" fill="#111">1.0</text><text x="39.6" y="1318.3" font-size="19.3" text-anchor="middle" fill="#111" transform="rotate(-90 39.6 1318.3)">Normalized intensity (a.u.)</text><text x="338" y="1471.5" font-size="19.7" text-anchor="middle" fill="#111">Distance from the <tspan font-style="italic">MESP2</tspan> peak (μm)</text><g clip-path="url(#pc2)"><path d="M91.6 1361.4L99.2 1341.2L106.8 1323.4L114.4 1307.6L122 1287.7L129.6 1274.1L137.2 1264.5L144.9 1251.5L152.6 1265.4L160.2 1274.3L167.8 1279.3L175.4 1283.4L183.2 1293.1L190.9 1295.8L198.4 1295L206 1292.7L213.7 1291.6L221.4 1284.6L229 1298.1L236.5 1307.3L244.2 1317.3L252 1328.4L259.5 1327L267 1329.8L274.6 1332.4L282.2 1332.9L289.8 1332.5L297.5 1330.2L305.3 1323.9L312.9 1323.1L320.6 1319.6L328.2 1322.1L335.8 1328L343.3 1326.8L350.9 1320.5L358.7 1305.1L366.5 1304.4L374.1 1322.3L381.6 1324.4L389.1 1327.4L396.7 1336L404.3 1338.3L411.9 1342L419.6 1340L427.4 1334.5L435.1 1326.8L442.6 1335.2L450.2 1336.8L457.9 1341.4L465.6 1345.5L473.2 1341.2L480.7 1337.6L488.4 1322.5L496.2 1305.9L503.7 1309.1L511.2 1312.6L518.8 1316.6L526.4 1325.6L534 1325.5L541.7 1326L549.3 1327.7L557 1330.7L564.7 1331.2L572.4 1332.1L580 1336.5L580 1367.9L572.4 1366.3L564.7 1360.5L557 1355.3L549.3 1353.1L541.7 1352.5L534 1351L526.4 1343.5L518.8 1342.3L511.2 1337.6L503.7 1340L496.2 1341.5L488.4 1357.7L480.7 1375.4L473.2 1379.4L465.6 1382.2L457.9 1378.1L450.2 1376.6L442.6 1363.5L435.1 1354.8L427.4 1354L419.6 1356.2L411.9 1363L404.3 1357.7L396.7 1354.5L389.1 1354L381.6 1355.7L374.1 1355.3L366.5 1340.9L358.7 1340.8L350.9 1361L343.3 1365.7L335.8 1376L328.2 1367.4L320.6 1362.6L312.9 1356.2L305.3 1354.6L297.5 1350.5L289.8 1350.6L282.2 1347.8L274.6 1347.2L267 1347L259.5 1351.8L252 1349.9L244.2 1347.9L236.5 1344.2L229 1334L221.4 1331.6L213.7 1329.3L206 1334.6L198.4 1333.5L190.9 1333.6L183.2 1321.5L175.4 1317.1L167.8 1303.9L160.2 1291.7L152.6 1283.8L144.9 1273.9L137.2 1282.7L129.6 1298L122 1317.9L114.4 1343.8L106.8 1362.2L99.2 1385.2L91.6 1405.6 Z" fill="#a6dde0" fill-opacity="0.42"/><path d="M91.6 1324.2L99.3 1272.6L106.7 1243.4L114.5 1240.3L123.1 1236.4L132.5 1247.2L141.1 1265.6L149 1292.7L156.6 1300.2L164.2 1304.6L171.8 1307.9L179.4 1320.5L187 1323.5L194.6 1326.4L202.2 1321.2L210.9 1313.1L220.4 1324.5L228.9 1345.5L236.5 1357L244.2 1363.1L252 1365.4L259.6 1368.5L267.2 1370.2L274.8 1371.4L282.3 1374.1L289.8 1377.4L297.5 1372L305.3 1374.1L312.9 1372L320.5 1366.9L328.1 1361.8L335.8 1354.9L343.5 1347.6L351.1 1350L358.7 1350.4L366.3 1355.3L373.9 1356.1L381.4 1356.1L389.1 1355.1L396.9 1349.5L404.4 1357.6L411.9 1371.2L419.6 1379.5L427.4 1368.7L435.1 1359.5L442.7 1355.2L450.3 1351.5L457.9 1348.5L465.6 1347.1L473.2 1343.2L480.9 1343.9L488.5 1352.8L496.2 1364.3L503.7 1366.4L511.2 1365.2L518.8 1366.2L526.4 1370.3L534 1371L541.7 1374L549.5 1375.3L557.2 1374L564.7 1375.5L572.3 1372.6L580 1378.4L580 1402L572.3 1394.8L564.7 1391.9L557.2 1393.3L549.5 1389.6L541.7 1387.5L534 1386.7L526.4 1386.2L518.8 1390L511.2 1388.2L503.7 1387.3L496.2 1390.2L488.5 1381.8L480.9 1373L473.2 1370L465.6 1372.3L457.9 1378.2L450.3 1377.7L442.7 1377.6L435.1 1376.8L427.4 1387.3L419.6 1396.5L411.9 1382.8L404.4 1375.3L396.9 1363L389.1 1370.6L381.4 1378.6L373.9 1379.4L366.3 1381.6L358.7 1381.4L351.1 1380L343.5 1379.7L335.8 1384.8L328.1 1391.1L320.5 1390.4L312.9 1388.3L305.3 1388.4L297.5 1392.2L289.8 1389.5L282.3 1388.4L274.8 1387.4L267.2 1385.2L259.6 1387.7L252 1389L244.2 1385.2L236.5 1387.4L228.9 1372.2L220.4 1355.5L210.9 1345.1L202.2 1347L194.6 1355.1L187 1349.9L179.4 1337.7L171.8 1329.4L164.2 1324.2L156.6 1315.9L149 1309.4L141.1 1285L132.5 1260.1L123.1 1259L114.5 1264.2L106.7 1272.3L99.3 1302.3L91.6 1353.4 Z" fill="#dca6d6" fill-opacity="0.45"/><path d="M91.6 1256L99.3 1210.2L106.7 1242.6L114.4 1298.9L122 1339.5L129.6 1370.1L137.2 1388L144.9 1394.3L152.6 1403.9L160.2 1401.6L167.7 1401.9L175.6 1406.1L183.3 1408.3L190.9 1405.3L198.5 1403.9L206 1405.2L213.6 1404.9L221.2 1405.2L228.8 1405.3L236.4 1406.8L244.1 1405.9L251.7 1408.1L259.4 1407.7L267 1409.6L274.7 1410.4L282.3 1407.9L290 1408.3L297.6 1407.7L305.3 1406.3L312.9 1406.1L320.6 1404.6L328.2 1404.4L335.9 1402.9L343.5 1401.5L351.1 1401.1L358.7 1402.2L366.2 1401.3L373.8 1400.8L381.4 1402.1L389 1402.7L396.7 1404.8L404.3 1405.3L412 1405.4L419.6 1405.8L427.3 1405.5L434.9 1404.9L442.6 1405.4L450.2 1404L457.9 1403.7L465.6 1402.9L473.2 1402.7L480.9 1403.2L488.5 1402.1L496.2 1403.1L503.7 1405.6L511.3 1405.7L518.9 1407.1L526.4 1408.9L534 1410L541.6 1410L549.3 1408.3L556.9 1407.2L564.5 1406.5L572.3 1401.2L580 1396.7L580 1408.3L572.3 1411.7L564.5 1414.4L556.9 1414.2L549.3 1414.5L541.6 1415.2L534 1415.4L526.4 1414L518.9 1414.5L511.3 1414.7L503.7 1413.2L496.2 1412L488.5 1414.7L480.9 1415L473.2 1415.5L465.6 1416.3L457.9 1416.4L450.2 1414.9L442.6 1414.5L434.9 1412.2L427.3 1411.1L419.6 1411.2L412 1410L404.3 1409.7L396.7 1409.7L389 1409.5L381.4 1408.7L373.8 1411.1L366.2 1412.1L358.7 1413.3L351.1 1414L343.5 1415.1L335.9 1413.7L328.2 1414.2L320.6 1415.1L312.9 1414.2L305.3 1414.8L297.6 1414.9L290 1413.8L282.3 1415.2L274.7 1414.6L267 1416.3L259.4 1416.2L251.7 1414.5L244.1 1415.6L236.4 1415.7L228.8 1415.2L221.2 1416.4L213.6 1415.6L206 1415.4L198.5 1416.3L190.9 1415.1L183.3 1416.2L175.6 1415.8L167.7 1409.7L160.2 1409.6L152.6 1408.5L144.9 1401.9L137.2 1392.8L129.6 1375.4L122 1347.5L114.4 1307.6L106.7 1252.6L99.3 1222.5L91.6 1269.6 Z" fill="#f0d49a" fill-opacity="0.45"/><path d="M91.6 1383.5L95.4 1373.6L99.2 1363.2L103 1351.7L106.8 1342.8L110.6 1334.7L114.4 1325.7L118.2 1314.4L122 1302.8L125.8 1292L129.6 1286L133.4 1280L137.2 1273.6L141.1 1268.3L144.9 1262.7L148.8 1268.7L152.6 1274.6L156.4 1279L160.2 1283L164 1287.3L167.8 1291.6L171.6 1295.8L175.4 1300.2L179.3 1304.1L183.2 1307.3L187 1310.7L190.9 1314.7L194.7 1314.3L198.4 1314.3L202.2 1313.9L206 1313.6L209.8 1312.3L213.7 1310.4L217.6 1309.2L221.4 1308.1L225.2 1312.2L229 1316.1L232.7 1321.4L236.5 1325.8L240.4 1329L244.2 1332.6L248.1 1335.8L252 1339.2L255.7 1338.6L259.5 1339.4L263.3 1339.4L267 1338.4L270.8 1339.5L274.6 1339.8L278.4 1339.9L282.2 1340.3L286 1340.7L289.8 1341.5L293.7 1340.5L297.5 1340.3L301.4 1339.2L305.3 1339.3L309.1 1339.7L312.9 1339.7L316.8 1340.2L320.6 1341.1L324.4 1341.3L328.2 1344.7L332 1348.2L335.8 1352L339.6 1349.7L343.3 1346.2L347.1 1344.3L350.9 1340.8L354.8 1332.6L358.7 1322.9L362.7 1314.8L366.5 1322.7L370.3 1330.6L374.1 1338.8L377.8 1339.5L381.6 1340L385.4 1340.3L389.1 1340.7L392.9 1342.9L396.7 1345.3L400.5 1346.8L404.3 1348L408.1 1350.7L411.9 1352.5L415.8 1350.8L419.6 1348.1L423.5 1346.9L427.4 1344.2L431.2 1343.1L435.1 1340.8L438.9 1344.6L442.6 1349.3L446.4 1352.3L450.2 1356.7L454 1358.8L457.9 1359.7L461.8 1361.4L465.6 1363.8L469.4 1361.6L473.2 1360.3L476.9 1357.8L480.7 1356.5L484.6 1347.9L488.4 1340.1L492.3 1331L496.2 1323.7L499.9 1323.1L503.7 1324.6L507.5 1324.3L511.2 1325.1L515 1328L518.8 1329.5L522.6 1331.7L526.4 1334.6L530.2 1336.4L534 1338.3L537.8 1339.8L541.7 1339.3L545.5 1339.6L549.3 1340.4L553.1 1341.2L557 1343L560.9 1343.9L564.7 1345.9L568.6 1347.2L572.4 1349.2L576.2 1351L580 1352.2" fill="none" stroke="#5cc4cb" stroke-width="2.6" stroke-linejoin="round"/><path d="M91.6 1338.8L95.5 1313L99.3 1287.4L103 1272.5L106.7 1257.9L110.6 1255.7L114.5 1252.2L118.5 1249.4L123.1 1247.7L127.8 1245.1L132.5 1253.6L137.2 1263.4L141.1 1275.3L145.1 1287.6L149 1301L152.8 1304.1L156.6 1308L160.4 1312.4L164.2 1314.4L168 1315.9L171.8 1318.6L175.6 1323.8L179.4 1329.1L183.2 1334L187 1336.7L190.8 1338.3L194.6 1340.8L198.4 1337.2L202.2 1334.1L206 1329.4L210.9 1329.1L215.7 1327.3L220.4 1340L225.1 1352.1L228.9 1358.9L232.7 1365.9L236.5 1372.2L240.4 1373L244.2 1374.1L248.1 1375.2L252 1377.2L255.8 1377.3L259.6 1378.1L263.4 1378.1L267.2 1377.7L271 1378.9L274.8 1379.4L278.5 1380.4L282.3 1381.3L286 1382.2L289.8 1383.5L293.7 1383.3L297.5 1382.1L301.4 1381.9L305.3 1381.2L309.1 1381.1L312.9 1380.1L316.7 1379.6L320.5 1378.7L324.3 1377.3L328.1 1376.5L331.9 1373.4L335.8 1369.8L339.7 1366.7L343.5 1363.6L347.3 1364.6L351.1 1365L354.9 1366L358.7 1365.9L362.5 1366.9L366.3 1368.5L370.1 1367.4L373.9 1367.8L377.6 1367.3L381.4 1367.4L385.3 1365.5L389.1 1362.9L393 1359.7L396.9 1356.2L400.6 1361.5L404.4 1366.4L408.1 1372L411.9 1377L415.8 1382.3L419.6 1388L423.5 1382.5L427.4 1378L431.2 1373.4L435.1 1368.2L438.9 1366.6L442.7 1366.4L446.5 1365.9L450.3 1364.6L454.1 1364.6L457.9 1363.3L461.7 1361.8L465.6 1359.7L469.4 1358.6L473.2 1356.6L477 1354.5L480.9 1358.5L484.7 1363.3L488.5 1367.3L492.3 1372.4L496.2 1377.3L499.9 1376.4L503.7 1376.8L507.5 1376.8L511.2 1376.7L515 1377.4L518.8 1378.1L522.6 1378.2L526.4 1378.3L530.2 1379.2L534 1378.8L537.9 1380.1L541.7 1380.7L545.6 1381.6L549.5 1382.4L553.3 1382.4L557.2 1383.7L561 1383.4L564.7 1383.7L568.5 1384.1L572.3 1383.7L576.1 1386.3L580 1390.2" fill="none" stroke="#c25aae" stroke-width="2.6" stroke-linejoin="round"/><path d="M91.6 1262.8L95.3 1220.4L99.3 1216.4L103 1231L106.7 1247.6L110.5 1274.9L114.4 1303.2L118.2 1323.5L122 1343.5L125.8 1363.3L129.6 1372.7L133.4 1380.8L137.2 1390.4L141.1 1394L144.9 1398.1L148.8 1402.4L152.6 1406.2L156.4 1406L160.2 1405.6L163.9 1405.5L167.7 1405.8L171.6 1408.2L175.6 1411L179.5 1414.5L183.3 1412.2L187.1 1411.9L190.9 1410.2L194.7 1410.2L198.5 1410.1L202.3 1409.8L206 1410.3L209.8 1409.9L213.6 1410.3L217.4 1410.1L221.2 1410.8L225 1410.8L228.8 1410.3L232.6 1410.7L236.4 1411.3L240.2 1410.8L244.1 1410.7L247.9 1411.1L251.7 1411.3L255.5 1412.1L259.4 1412L263.2 1412.2L267 1412.9L270.8 1412L274.7 1412.5L278.5 1412L282.3 1411.5L286.1 1411.8L290 1411L293.8 1411.4L297.6 1411.3L301.4 1410.6L305.3 1410.6L309.1 1410.6L312.9 1410.2L316.8 1410L320.6 1409.9L324.4 1409.7L328.2 1409.3L332.1 1409.3L335.9 1408.3L339.7 1408.5L343.5 1408.3L347.3 1407.7L351.1 1407.5L354.9 1407L358.7 1407.7L362.5 1406.8L366.2 1406.7L370 1407L373.8 1405.9L377.6 1406.6L381.4 1405.4L385.2 1405.5L389 1406.1L392.9 1406.4L396.7 1407.3L400.5 1407.4L404.3 1407.5L408.2 1407.3L412 1407.7L415.8 1407.6L419.6 1408.5L423.5 1408.2L427.3 1408.3L431.1 1408.9L434.9 1408.6L438.8 1409L442.6 1409.9L446.4 1409.2L450.2 1409.4L454.1 1409.7L457.9 1410L461.7 1410L465.6 1409.6L469.4 1409.5L473.2 1409.1L477 1408.9L480.9 1409.1L484.7 1408.6L488.5 1408.4L492.3 1408.6L496.2 1407.6L499.9 1408.1L503.7 1409.4L507.5 1409.3L511.3 1410.2L515.1 1409.9L518.9 1410.8L522.7 1411.6L526.4 1411.5L530.2 1412.4L534 1412.7L537.8 1412.2L541.6 1412.6L545.5 1411.6L549.3 1411.4L553.1 1411.3L556.9 1410.7L560.7 1411L564.5 1410.4L568.4 1408.5L572.3 1406.5L576.1 1405L580 1402.5" fill="none" stroke="#e0b04c" stroke-width="2.6" stroke-linejoin="round"/></g><rect x="91.6" y="2245.5" width="488.4" height="225.5" fill="none" stroke="#1a1a1a" stroke-width="1.6"/><path d="M91.6 2471L91.6 2473.5" stroke="#1a1a1a" stroke-width="1.3"/><text x="91.6" y="2491.7" text-anchor="middle" fill="#111">0</text><path d="M213.7 2471L213.7 2473.5" stroke="#1a1a1a" stroke-width="1.3"/><text x="213.7" y="2491.7" text-anchor="middle" fill="#111">10</text><path d="M335.8 2471L335.8 2473.5" stroke="#1a1a1a" stroke-width="1.3"/><text x="335.8" y="2491.7" text-anchor="middle" fill="#111">20</text><path d="M457.9 2471L457.9 2473.5" stroke="#1a1a1a" stroke-width="1.3"/><text x="457.9" y="2491.7" text-anchor="middle" fill="#111">30</text><path d="M580 2471L580 2473.5" stroke="#1a1a1a" stroke-width="1.3"/><text x="579" y="2491.7" text-anchor="end" fill="#111">40</text><path d="M89.1 2461.2L91.6 2461.2" stroke="#1a1a1a" stroke-width="1.3"/><text x="83.3" y="2465.5" text-anchor="end" fill="#111">0.00</text><path d="M89.1 2409.8L91.6 2409.8" stroke="#1a1a1a" stroke-width="1.3"/><text x="83.3" y="2414.1" text-anchor="end" fill="#111">0.25</text><path d="M89.1 2358.5L91.6 2358.5" stroke="#1a1a1a" stroke-width="1.3"/><text x="83.3" y="2362.8" text-anchor="end" fill="#111">0.50</text><path d="M89.1 2307.1L91.6 2307.1" stroke="#1a1a1a" stroke-width="1.3"/><text x="83.3" y="2311.4" text-anchor="end" fill="#111">0.75</text><path d="M89.1 2255.8L91.6 2255.8" stroke="#1a1a1a" stroke-width="1.3"/><text x="83.3" y="2260.1" text-anchor="end" fill="#111">1.00</text><text x="39.4" y="2357.2" font-size="19.3" text-anchor="middle" fill="#111" transform="rotate(-90 39.4 2357.2)">Luminescence (a.u.)</text><text x="334.6" y="2513" font-size="19.7" text-anchor="middle" fill="#111"><tspan font-size="21.5">Time (h)</tspan></text><g clip-path="url(#pc3)"><path d="M91.6 2262L98.9 2264.6L106.9 2281.3L114.8 2307.5L122.1 2328.5L129.5 2331.8L137.4 2317L144.8 2303.8L152.6 2293.6L160 2303.5L167.9 2320.8L177.1 2336L185.8 2324.3L194.4 2313.3L202.7 2308.8L210.4 2312.5L217.4 2320.5L225.1 2339L232.9 2355.7L240.6 2362.2L247.8 2349.6L255.6 2339.9L263.8 2334.6L270.8 2340.6L278.4 2353.1L286.4 2371.2L294 2377.2L301.6 2371.6L308.9 2362.8L316.3 2358.9L324.3 2363.6L332 2375L339.6 2385.9L347.3 2393.6L355.3 2397.6L362.7 2396.2L370 2393.1L377.6 2393.4L385.1 2394.4L392.9 2399.1L400.7 2402.1L408.3 2407.2L415.9 2409.1L423.6 2404.1L431.2 2400.3L438.8 2400.2L446.4 2400.6L453.8 2404.7L461.6 2408.1L469.5 2410.7L477.4 2412.2L484.8 2414.4L492 2414.6L499.6 2416.4L507.5 2420L515.3 2422.3L522.9 2420.7L530.4 2420.7L537.9 2420.9L545 2419.2L553.1 2419.8L561 2420.2L570 2422.2L577.5 2421.9L580 2422L580 2440.8L577.5 2440.4L570 2437.4L561 2436.8L553.1 2434.3L545 2432.4L537.9 2428.1L530.4 2427.6L522.9 2430.9L515.3 2430L507.5 2428.4L499.6 2425.8L492 2425.1L484.8 2426.2L477.4 2428L469.5 2425.3L461.6 2422.7L453.8 2420.6L446.4 2418.4L438.8 2416.3L431.2 2415.9L423.6 2415.6L415.9 2418.5L408.3 2418.5L400.7 2412.2L392.9 2405.6L385.1 2402.6L377.6 2400.3L370 2401.6L362.7 2407.2L355.3 2412.3L347.3 2408.7L339.6 2400.7L332 2389.8L324.3 2382L316.3 2374.9L308.9 2379.8L301.6 2384.9L294 2388.8L286.4 2380.3L278.4 2363.7L270.8 2348.8L263.8 2341.1L255.6 2346.7L247.8 2359.9L240.6 2370.7L232.9 2366.1L225.1 2353.1L217.4 2335.3L210.4 2325.8L202.7 2326.5L194.4 2329.3L185.8 2339.6L177.1 2351.8L167.9 2334.2L160 2315.1L152.6 2303.9L144.8 2312.5L137.4 2326L129.5 2339.7L122.1 2335.4L114.8 2318.6L106.9 2292L98.9 2273.7L91.6 2272.6 Z" fill="#bfe3ec" fill-opacity="0.55"/><path d="M91.6 2249.8L98.9 2254.2L107 2265.8L114.9 2283.1L122.1 2301.1L129.4 2318.9L137 2327.6L145.3 2331.3L152.2 2336.6L160 2339.5L167.8 2341.8L176.1 2344.7L183.8 2348.2L190.5 2348L198.7 2346.9L206.3 2348.3L213.7 2354L221.1 2357.4L229 2360.2L236.6 2362.9L244.2 2367.8L251.9 2375.3L259.5 2382.8L267.1 2382.8L274.8 2382.1L282.4 2385.7L290 2387.8L297.6 2389.8L305.3 2390.4L312.9 2395.3L320.5 2399.2L328.2 2401L335.8 2402.2L343.4 2404.9L351.1 2407.5L358.7 2413L366.3 2417L373.7 2416.9L381.6 2417.8L388.9 2419.9L396.6 2420.7L404.4 2419.8L412.3 2420L420 2419.4L427.4 2420.7L434.6 2421.9L442.2 2423.2L450 2424L457.9 2424.5L465.8 2426.3L473.6 2430.2L481.2 2432.3L488.4 2436.2L495.8 2438.1L503.5 2441.1L511.4 2443.2L519.1 2443.6L526.7 2443.2L534.2 2440.5L541.4 2441.1L548.8 2441.3L556.8 2441.4L565.5 2442.5L574.1 2442.6L580 2444.3L580 2456.7L574.1 2457.3L565.5 2454.7L556.8 2452.6L548.8 2450.5L541.4 2449.8L534.2 2448.4L526.7 2448.4L519.1 2449.2L511.4 2449L503.5 2448.7L495.8 2447.7L488.4 2445.2L481.2 2443.8L473.6 2441.3L465.8 2441.1L457.9 2438.9L450 2436.8L442.2 2436L434.6 2435.1L427.4 2431.3L420 2428.9L412.3 2427.9L404.4 2428.7L396.6 2427.6L388.9 2426.7L381.6 2426.3L373.7 2425.2L366.3 2423.5L358.7 2420.9L351.1 2419.9L343.4 2417.5L335.8 2415.2L328.2 2414.8L320.5 2413.7L312.9 2409.9L305.3 2404L297.6 2400.1L290 2399.3L282.4 2394.5L274.8 2392L267.1 2390L259.5 2387.8L251.9 2381.7L244.2 2374.4L236.6 2370.7L229 2369.1L221.1 2367.7L213.7 2367L206.3 2361.8L198.7 2359.6L190.5 2360.6L183.8 2360.7L176.1 2358.9L167.8 2353.8L160 2349.2L152.2 2343.9L145.3 2341L137 2335.8L129.4 2324L122.1 2308.7L114.9 2290.5L107 2275.2L98.9 2261.8L91.6 2261.8 Z" fill="#ecb4d8" fill-opacity="0.45"/><path d="M91.6 2250.3L98.9 2252.9L107 2269.4L114.9 2289.5L122.1 2309.3L129.4 2330.2L137 2340.7L145.3 2346.5L152.2 2353.8L160 2361.8L167.7 2363.6L175.8 2363.6L183.6 2363.7L190.8 2363L198.3 2364.3L206.4 2367.6L213.5 2367L221 2368.3L229 2371.9L236.9 2376.5L244.2 2382.5L251.6 2385.3L259.5 2386.6L267.4 2388.1L274.8 2390.4L282.1 2392.9L290 2393.5L297.9 2393.9L305.3 2399L312.6 2402.2L320.5 2402.6L328.5 2403.8L335.8 2405.2L343.1 2407.3L351.1 2409.9L359 2414.1L366.3 2414.5L373.7 2416.3L381.6 2419.9L389.5 2420.9L396.9 2421.9L404.2 2422.4L411.9 2421.3L420 2421.2L427.1 2423.5L434.6 2423.4L442.2 2424.4L450 2426.3L457.9 2425.8L465.8 2428.3L473.6 2431.1L481.3 2434.8L489 2439.4L495.8 2442.9L502.7 2440.1L510.1 2437.7L518.1 2436.7L526.3 2436.9L534.1 2436.7L541.9 2437.3L549.7 2438.9L557.5 2440.4L564.7 2441.3L573.6 2442.7L580 2444.3L580 2456.7L573.6 2455L564.7 2452.4L557.5 2450.3L549.7 2447.8L541.9 2446.4L534.1 2445.8L526.3 2443.8L518.1 2444.9L510.1 2446.2L502.7 2448.6L495.8 2450.5L489 2449.8L481.3 2446.4L473.6 2444.8L465.8 2441.7L457.9 2441L450 2438.7L442.2 2438.7L434.6 2437.7L427.1 2434.5L420 2433.5L411.9 2430.6L404.2 2428.7L396.9 2428L389.5 2427.1L381.6 2424.8L373.7 2424L366.3 2423.9L359 2422L351.1 2422.3L343.1 2421.2L335.8 2418.5L328.5 2417.3L320.5 2417.1L312.6 2415.8L305.3 2410L297.9 2405.8L290 2402.7L282.1 2401.8L274.8 2398.5L267.4 2395.2L259.5 2393.9L251.6 2393.2L244.2 2387.8L236.9 2385.7L229 2381.7L221 2378.9L213.5 2380.5L206.4 2379.9L198.3 2378.8L190.8 2378.8L183.6 2377.9L175.8 2376.8L167.7 2375.6L160 2371.8L152.2 2364.7L145.3 2356.1L137 2349.1L129.4 2335L122.1 2317.2L114.9 2295.8L107 2276.5L98.9 2262.7L91.6 2261.2 Z" fill="#f6d690" fill-opacity="0.45"/><path d="M91.6 2267.3L94.8 2267L98.9 2269.1L102.9 2276.2L106.9 2286.6L110.9 2299.9L114.8 2313.1L118.5 2323.7L122.1 2331.9L125.7 2335.8L129.5 2335.7L132.9 2330.6L137.4 2321.5L140.8 2315.6L144.8 2308.1L149 2301.9L152.6 2298.7L156.5 2301.8L160 2309.3L163.6 2317.4L167.9 2327.5L172.5 2338.4L177.1 2343.9L181.5 2340.7L185.8 2331.9L190.5 2324.5L194.4 2321.3L198.6 2319.3L202.7 2317.7L206.4 2317.5L210.4 2319.1L213.8 2322.5L217.4 2327.9L221.2 2335.8L225.1 2346.1L229 2354.3L232.9 2360.9L236.7 2365.6L240.6 2366.5L244.2 2362.3L247.8 2354.8L251.6 2348.4L255.6 2343.3L259.7 2339.4L263.8 2337.8L267.4 2340L270.8 2344.7L274.8 2351.2L278.4 2358.4L282.3 2367.2L286.4 2375.8L290 2381.2L294 2383L297.7 2381L301.6 2378.2L305.1 2375.3L308.9 2371.3L312.7 2368.3L316.3 2366.9L320.4 2368.7L324.3 2372.8L328.5 2378.1L332 2382.4L335.8 2388.2L339.6 2393.3L343.1 2397.4L347.3 2401.1L351.2 2404L355.3 2404.9L358.9 2403.5L362.7 2401.7L366.5 2399.1L370 2397.3L373.9 2396.6L377.6 2396.8L381.6 2397.7L385.1 2398.5L389 2400.6L392.9 2402.4L396.9 2404.8L400.7 2407.1L404.5 2410.3L408.3 2412.8L412.1 2413.9L415.9 2413.8L419.7 2411.9L423.6 2409.8L427.4 2408.9L431.2 2408.1L435 2408L438.8 2408.3L442.6 2408.9L446.4 2409.5L450 2410.8L453.8 2412.6L457.9 2413.8L461.6 2415.4L465.5 2416.8L469.5 2418L473.5 2419.2L477.4 2420.1L481.2 2420.5L484.8 2420.3L488.4 2420L492 2419.9L495.8 2420.3L499.6 2421.1L503.5 2422.5L507.5 2424.2L511.4 2425.3L515.3 2426.2L519.1 2426.5L522.9 2425.8L526.7 2425.1L530.4 2424.2L534.2 2424.2L537.9 2424.5L541.4 2424.8L545 2425.8L548.8 2426.6L553.1 2427.1L556.8 2427.9L561 2428.5L565.5 2429.3L570 2429.8L574.1 2430.6L577.5 2431.1L580 2431.4" fill="none" stroke="#88c8d8" stroke-width="2.6" stroke-linejoin="round"/><path d="M91.6 2255.8L94.5 2255.3L98.9 2258L102.7 2263.3L107 2270.5L111.1 2278.4L114.9 2286.8L118.5 2296.1L122.1 2304.9L125.7 2313.1L129.4 2321.4L133.1 2327.5L137 2331.7L141 2333.4L145.3 2336.2L148.7 2338L152.2 2340.2L155.9 2342.2L160 2344.4L163.7 2346.1L167.8 2347.8L172.1 2350.4L176.1 2351.8L179.5 2353.2L183.8 2354.5L187.1 2354.5L190.5 2354.3L194.5 2354.2L198.7 2353.2L202.7 2353.2L206.3 2355.1L209.8 2358.3L213.7 2360.5L217.2 2361.9L221.1 2362.5L225 2363.3L229 2364.7L232.8 2366.1L236.6 2366.8L240.4 2368.8L244.2 2371.1L248 2374.3L251.9 2378.5L255.7 2381.9L259.5 2385.3L263.3 2386.7L267.1 2386.4L270.9 2386.6L274.8 2387.1L278.6 2388.6L282.4 2390.1L286.2 2391.9L290 2393.6L293.8 2394.1L297.6 2394.9L301.5 2395.9L305.3 2397.2L309.1 2399.3L312.9 2402.6L316.7 2405.1L320.5 2406.5L324.4 2407.7L328.2 2407.9L332 2408.1L335.8 2408.7L339.6 2409.9L343.4 2411.2L347.2 2412.4L351.1 2413.7L354.9 2415.4L358.7 2416.9L362.5 2418.9L366.3 2420.3L370.1 2420.8L373.7 2421.1L377.5 2421.5L381.6 2422.1L385.1 2422.7L388.9 2423.3L392.7 2423.4L396.6 2424.1L400.5 2424.3L404.4 2424.2L408.3 2424L412.3 2423.9L416.2 2424.1L420 2424.2L423.8 2425.1L427.4 2426L431 2427.1L434.6 2428.5L438.4 2429.5L442.2 2429.6L446.1 2430.2L450 2430.4L454 2431.1L457.9 2431.7L461.8 2432.2L465.8 2433.7L469.7 2434.9L473.6 2435.8L477.4 2437.1L481.2 2438L484.8 2439.7L488.4 2440.7L492 2442L495.8 2442.9L499.6 2443.8L503.5 2444.9L507.5 2445.7L511.4 2446.1L515.3 2446.9L519.1 2446.4L522.9 2446L526.7 2445.8L530.4 2444.7L534.2 2444.5L537.9 2444.6L541.4 2445.5L545 2445.4L548.8 2445.9L553.1 2447L556.8 2447L561 2448.1L565.5 2448.6L570 2449.3L574.1 2450L577.5 2450.2L580 2450.5" fill="none" stroke="#cc6cb0" stroke-width="2.6" stroke-linejoin="round"/><path d="M91.6 2255.8L94.5 2255.6L98.9 2257.8L102.7 2264.2L107 2272.9L111.1 2282.7L114.9 2292.7L118.5 2303.1L122.1 2313.3L125.7 2323.2L129.4 2332.6L133.1 2339.9L137 2344.9L141 2348.1L145.3 2351.3L148.7 2354.9L152.2 2359.3L155.9 2363.7L160 2366.8L163.6 2368.6L167.7 2369.6L171.8 2369.8L175.8 2370.2L179.5 2370.6L183.6 2370.8L187.3 2371L190.8 2370.9L194.2 2371.1L198.3 2371.5L202.2 2373.2L206.4 2373.8L209.8 2373.9L213.5 2373.8L217.2 2373.2L221 2373.6L224.9 2375.4L229 2376.8L233 2378.9L236.9 2381.1L240.6 2383.3L244.2 2385.2L247.8 2387.5L251.6 2389.2L255.5 2390.1L259.5 2390.2L263.5 2390.7L267.4 2391.7L271.1 2392.6L274.8 2394.5L278.4 2395.9L282.1 2397.3L286 2398.3L290 2398.1L294 2398.9L297.9 2399.8L301.7 2401.3L305.3 2404.5L308.9 2406.8L312.6 2409L316.5 2409.9L320.5 2409.8L324.6 2410.2L328.5 2410.6L332.2 2411.4L335.8 2411.9L339.4 2413.2L343.1 2414.3L347 2415.1L351.1 2416.1L355.1 2416.9L359 2418L362.7 2418.6L366.3 2419.2L369.9 2419.6L373.7 2420.1L377.6 2420.8L381.6 2422.3L385.6 2423.4L389.5 2424L393.2 2424.9L396.9 2425L400.5 2424.7L404.2 2425.5L408 2425.4L411.9 2426L415.9 2426.8L420 2427.4L423.5 2428.1L427.1 2429L430.8 2429.8L434.6 2430.6L438.4 2431.2L442.2 2431.5L446.1 2432.3L450 2432.5L454 2432.7L457.9 2433.4L461.8 2434L465.8 2435L469.7 2436.3L473.6 2437.9L477.4 2438.7L481.3 2440.6L485.2 2442.4L489 2444.6L492.6 2445.9L495.8 2446.7L499.6 2446.2L502.7 2444.4L506.7 2442.9L510.1 2442L513.9 2441.8L518.1 2440.8L522.2 2440.6L526.3 2440.4L530.2 2440.5L534.1 2441.3L538 2441.7L541.9 2441.9L545.8 2442.5L549.7 2443.3L553.6 2444.4L557.5 2445.3L561.2 2446.1L564.7 2446.9L569.2 2447.6L573.6 2448.8L577.3 2449.6L580 2450.5" fill="none" stroke="#ecb03c" stroke-width="2.6" stroke-linejoin="round"/></g><text x="105.1" y="2463.9" font-size="22.5" fill="#111">+MG +RAL</text><rect x="724.5" y="568.2" width="490.3" height="219" fill="none" stroke="#1a1a1a" stroke-width="1.6"/><path d="M724.5 787.2L724.5 789.7" stroke="#1a1a1a" stroke-width="1.3"/><text x="724.5" y="811.5" text-anchor="middle" fill="#111">0</text><path d="M806.2 787.2L806.2 789.7" stroke="#1a1a1a" stroke-width="1.3"/><text x="806.2" y="811.5" text-anchor="middle" fill="#111">200</text><path d="M887.9 787.2L887.9 789.7" stroke="#1a1a1a" stroke-width="1.3"/><text x="887.9" y="811.5" text-anchor="middle" fill="#111">400</text><path d="M969.6 787.2L969.6 789.7" stroke="#1a1a1a" stroke-width="1.3"/><text x="969.6" y="811.5" text-anchor="middle" fill="#111">600</text><path d="M1051.4 787.2L1051.4 789.7" stroke="#1a1a1a" stroke-width="1.3"/><text x="1051.4" y="811.5" text-anchor="middle" fill="#111">800</text><path d="M1133.1 787.2L1133.1 789.7" stroke="#1a1a1a" stroke-width="1.3"/><text x="1133.1" y="811.5" text-anchor="middle" fill="#111">1000</text><path d="M1214.8 787.2L1214.8 789.7" stroke="#1a1a1a" stroke-width="1.3"/><text x="1214.8" y="811.5" text-anchor="middle" fill="#111">1200</text><path d="M722 787.2L724.5 787.2" stroke="#1a1a1a" stroke-width="1.3"/><text x="716.2" y="797.1" text-anchor="end" fill="#111">0.0</text><path d="M722 743.4L724.5 743.4" stroke="#1a1a1a" stroke-width="1.3"/><text x="716.2" y="753.3" text-anchor="end" fill="#111">0.2</text><path d="M722 699.6L724.5 699.6" stroke="#1a1a1a" stroke-width="1.3"/><text x="716.2" y="709.5" text-anchor="end" fill="#111">0.4</text><path d="M722 655.8L724.5 655.8" stroke="#1a1a1a" stroke-width="1.3"/><text x="716.2" y="665.7" text-anchor="end" fill="#111">0.6</text><path d="M722 612L724.5 612" stroke="#1a1a1a" stroke-width="1.3"/><text x="716.2" y="621.9" text-anchor="end" fill="#111">0.8</text><path d="M722 568.2L724.5 568.2" stroke="#1a1a1a" stroke-width="1.3"/><text x="716.2" y="578.1" text-anchor="end" fill="#111">1.0</text><text x="670.7" y="689.7" font-size="19.3" text-anchor="middle" fill="#111" transform="rotate(-90 670.7 689.7)">Normalized intensity (a.u.)</text><text x="970.9" y="843.8" font-size="19.7" text-anchor="middle" fill="#111">Distance from the posterior end (μm)</text><g clip-path="url(#pc4)"><path d="M724.5 758.9L733.2 747.6L740.8 754.9L748.6 748L756.4 741.8L763.9 743.5L771.5 745.5L779 745.9L786.6 753L794.4 744.7L802.1 732.5L809.8 740.3L817.4 734.3L825 720.5L832.8 729.1L842.2 749.4L851.6 731.4L859.5 727.6L867.2 719.1L874.8 708L882.4 693.4L890 689.5L897.5 680.8L905.2 667.6L912.9 675.6L920.5 662.3L928.2 654.9L935.9 654.9L943.6 654.6L951.1 657.1L958.6 658.4L966.2 658.6L973.9 662.2L981.7 663.5L989.5 666.2L997 682.8L1004.6 692.8L1012.3 696L1020 695.3L1027.5 690.9L1035 680.1L1042.7 691.3L1050.3 691L1058.1 688.3L1065.8 690.1L1073.3 692.3L1081 690.9L1088.8 689.7L1096.4 687.9L1104 689.8L1111.5 695.7L1119.1 699.4L1126.8 696.2L1134.5 696.2L1142.2 691.7L1149.8 695.5L1157.5 681.9L1165.2 682.8L1172.8 685L1180.4 680.7L1188 687.4L1195.7 699.8L1203.4 696.6L1211 681.5L1214.8 670.9L1214.8 697.6L1211 705.5L1203.4 724.3L1195.7 724L1188 716.1L1180.4 705.2L1172.8 709.9L1165.2 704.5L1157.5 701.3L1149.8 707.3L1142.2 708.1L1134.5 705.2L1126.8 712.7L1119.1 709.8L1111.5 709.8L1104 711.9L1096.4 711.2L1088.8 713.9L1081 717.3L1073.3 716.1L1065.8 713.2L1058.1 715.3L1050.3 718.8L1042.7 710.3L1035 702.6L1027.5 704.2L1020 711.4L1012.3 713L1004.6 709.3L997 692.6L989.5 684.2L981.7 683.3L973.9 679.1L966.2 681.4L958.6 683.3L951.1 682.7L943.6 683.5L935.9 682.6L928.2 683L920.5 687.6L912.9 696.2L905.2 690.3L897.5 700.8L890 707.3L882.4 704.5L874.8 717.6L867.2 732.2L859.5 744L851.6 750.1L842.2 769.5L832.8 753.7L825 743.4L817.4 763.6L809.8 767.3L802.1 762.4L794.4 766.9L786.6 774.2L779 770.6L771.5 762.7L763.9 758L756.4 754.5L748.6 759.4L740.8 764L733.2 760.8L724.5 776 Z" fill="#f7a084" fill-opacity="0.45"/><path d="M724.5 608.5L733.3 614.7L741 642.4L748.6 661.5L756.2 684.3L763.9 699.3L771.5 710.5L779.3 698L786.9 712L794.5 714.7L802.1 712.7L809.9 708.9L817.2 723.5L825 720.7L832.6 729.4L840.1 737L847.9 745.8L855.7 754L863.2 753.3L870.8 752.2L878.5 749.9L886.3 745.7L893.9 747.4L901.4 748.8L909 749L916.5 746.8L924.4 744.8L932.2 737L939.8 728.6L947.4 725.2L954.9 724.7L962.6 731.3L970.2 729.9L977.8 725.4L985.5 725.2L993.2 727.1L1000.9 725.2L1008.5 722.1L1016.2 717.2L1023.7 714.6L1031.3 713.1L1038.8 709L1046.5 709.7L1054.2 706L1062 704.3L1069.5 704L1077.1 704.8L1084.9 705.8L1092.6 709.6L1100.2 712.4L1107.7 715.6L1115.3 717.2L1123 719.2L1130.6 721.8L1138.4 720.9L1146.2 722.1L1153.7 707.4L1161.3 695.1L1169 697.7L1176.8 699.5L1184.4 696.4L1191.9 697.8L1199.5 695L1207 690.5L1214.8 682L1214.8 699.6L1207 708.4L1199.5 712L1191.9 714.2L1184.4 715.5L1176.8 713.8L1169 710L1161.3 708L1153.7 720.5L1146.2 730.1L1138.4 729.9L1130.6 730.6L1123 729.2L1115.3 727.8L1107.7 726.8L1100.2 726.1L1092.6 725.8L1084.9 724L1077.1 722.5L1069.5 722.9L1062 723.1L1054.2 725.2L1046.5 724.7L1038.8 726.2L1031.3 723.7L1023.7 723.9L1016.2 726.1L1008.5 728.6L1000.9 731.7L993.2 734.1L985.5 734.9L977.8 735.1L970.2 744.8L962.6 745.7L954.9 741.4L947.4 743.7L939.8 744.5L932.2 757.1L924.4 760.9L916.5 761.5L909 761.7L901.4 763.1L893.9 760.7L886.3 757.8L878.5 757.3L870.8 759.4L863.2 760L855.7 762.6L847.9 757.3L840.1 751.8L832.6 746.2L825 738.9L817.2 738.2L809.9 724.7L802.1 731L794.5 734.2L786.9 727.4L779.3 713.1L771.5 724.4L763.9 710.7L756.2 692.4L748.6 667.8L741 650.5L733.3 622.4L724.5 619.9 Z" fill="#9fd9df" fill-opacity="0.45"/><path d="M724.5 767.5L729.4 751.8L733.2 754.2L737 757.1L740.8 759.4L744.7 756.3L748.6 753.7L752.5 751.3L756.4 748.1L760.1 749.7L763.9 750.7L767.7 752.8L771.5 754.1L775.3 756.1L779 758.3L782.8 760.6L786.6 763.6L790.5 759.7L794.4 755.8L798.2 752L802.1 747.4L805.9 750.5L809.8 753.8L813.6 756.8L817.4 748.9L821.2 740.9L825 732L828.9 737L832.8 741.4L837.5 750.5L842.2 759.4L846.9 750.5L851.6 740.7L855.5 738.8L859.5 735.8L863.4 732.5L867.2 725.6L871 719.8L874.8 712.8L878.5 706.6L882.4 698.9L886.3 690.9L890 698.4L893.7 706.3L897.5 690.8L901.4 675.1L905.2 678.9L909 683.2L912.9 685.9L916.7 680.1L920.5 674.9L924.3 668.7L928.2 669L932.1 668.9L935.9 668.8L939.8 669.5L943.6 669L947.3 669.7L951.1 669.9L954.9 670.9L958.6 670.9L962.4 670.2L966.2 670L970.1 668.7L973.9 670.7L977.8 672.7L981.7 673.4L985.6 675L989.5 675.2L993.3 675.8L997 687.7L1000.7 699.3L1004.6 701L1008.5 702.5L1012.3 704.5L1016.2 705.6L1020 703.3L1023.7 700.5L1027.5 697.5L1031.3 694.2L1035 691.4L1038.8 695.4L1042.7 700.8L1046.5 706.7L1050.3 704.9L1054.2 702.8L1058.1 701.8L1062 699.7L1065.8 701.6L1069.5 702.6L1073.3 704.2L1077.1 706.1L1081 704.1L1084.9 702.7L1088.8 701.8L1092.6 699.4L1096.4 699.6L1100.2 700.1L1104 700.8L1107.8 702.1L1111.5 702.7L1115.3 703.7L1119.1 704.6L1122.9 706.7L1126.8 704.4L1130.6 702.5L1134.5 700.7L1138.4 699.1L1142.2 699.9L1146 701.3L1149.8 701.4L1153.6 696.1L1157.5 691.6L1161.3 686.2L1165.2 693.6L1169 699.1L1172.8 697.4L1176.6 695.5L1180.4 692.9L1184.2 691.4L1188 701.8L1191.9 712.4L1195.7 711.9L1199.5 710.7L1203.4 710.5L1207.2 701.5L1211 693.5L1214.8 684.3" fill="none" stroke="#e4553a" stroke-width="2.6" stroke-linejoin="round"/><path d="M724.5 614.2L729.4 599.2L733.3 618.5L737.2 638.3L741 646.5L744.8 655.2L748.6 664.7L752.4 676.2L756.2 688.4L760 699.7L763.9 705L767.7 711.1L771.5 717.4L775.4 711.7L779.3 705.6L783.1 713.1L786.9 719.7L790.7 725.4L794.5 724.5L798.3 722.8L802.1 721.8L806 719.1L809.9 716.8L813.6 723.7L817.2 730.8L821.1 729.8L825 729.8L828.8 734L832.6 737.8L836.3 741L840.1 744.4L844 748.3L847.9 751.5L851.8 754L855.7 758.3L859.4 757L863.2 756.6L867 756.8L870.8 755.8L874.7 755.3L878.5 753.6L882.4 753.5L886.3 751.8L890.1 752.7L893.9 754L897.6 754.8L901.4 755.9L905.2 756L909 755.4L912.8 754.1L916.5 754.1L920.5 753.7L924.4 752.9L928.4 752.4L932.2 747L936 741.4L939.8 736.5L943.6 736.2L947.4 734.5L951.2 733.9L954.9 733L958.8 735.5L962.6 738.5L966.4 741.3L970.2 737.3L974 734.4L977.8 730.2L981.7 730.8L985.5 730L989.3 730.7L993.2 730.6L997 730.4L1000.9 728.4L1004.7 726.3L1008.5 725.3L1012.4 723.1L1016.2 721.7L1020 720.2L1023.7 719.2L1027.5 718.4L1031.3 718.4L1035 716.7L1038.8 717.6L1042.7 717L1046.5 717.2L1050.3 716.1L1054.2 715.6L1058.1 714.2L1062 713.7L1065.8 714.4L1069.5 713.5L1073.3 714L1077.1 713.6L1081 714.4L1084.9 714.9L1088.8 715.7L1092.6 717.7L1096.4 718.4L1100.2 719.2L1103.9 720.1L1107.7 721.2L1111.4 721.1L1115.3 722.5L1119.1 723.2L1123 724.2L1126.8 725.5L1130.6 726.2L1134.5 726.4L1138.4 725.4L1142.3 726.1L1146.2 726.1L1149.9 720.2L1153.7 714L1157.5 708.2L1161.3 701.6L1165.2 703.4L1169 703.9L1172.9 705.2L1176.8 706.6L1180.6 706.4L1184.4 705.9L1188.1 705.8L1191.9 706L1195.7 704.7L1199.5 703.5L1203.3 701.7L1207 699.5L1210.9 695.1L1214.8 690.8" fill="none" stroke="#5bbfc8" stroke-width="2.6" stroke-linejoin="round"/></g><rect x="724.5" y="1198" width="490.3" height="223.5" fill="none" stroke="#1a1a1a" stroke-width="1.6"/><path d="M724.5 1421.5L724.5 1424" stroke="#1a1a1a" stroke-width="1.3"/><text x="724.5" y="1443.8" text-anchor="middle" fill="#111">0</text><path d="M806.2 1421.5L806.2 1424" stroke="#1a1a1a" stroke-width="1.3"/><text x="806.2" y="1443.8" text-anchor="middle" fill="#111">200</text><path d="M887.9 1421.5L887.9 1424" stroke="#1a1a1a" stroke-width="1.3"/><text x="887.9" y="1443.8" text-anchor="middle" fill="#111">400</text><path d="M969.6 1421.5L969.6 1424" stroke="#1a1a1a" stroke-width="1.3"/><text x="969.6" y="1443.8" text-anchor="middle" fill="#111">600</text><path d="M1051.4 1421.5L1051.4 1424" stroke="#1a1a1a" stroke-width="1.3"/><text x="1051.4" y="1443.8" text-anchor="middle" fill="#111">800</text><path d="M1133.1 1421.5L1133.1 1424" stroke="#1a1a1a" stroke-width="1.3"/><text x="1133.1" y="1443.8" text-anchor="middle" fill="#111">1000</text><path d="M1214.8 1421.5L1214.8 1424" stroke="#1a1a1a" stroke-width="1.3"/><text x="1214.8" y="1443.8" text-anchor="middle" fill="#111">1200</text><path d="M722 1421.5L724.5 1421.5" stroke="#1a1a1a" stroke-width="1.3"/><text x="716.2" y="1426.3" text-anchor="end" fill="#111">0.0</text><path d="M722 1376.8L724.5 1376.8" stroke="#1a1a1a" stroke-width="1.3"/><text x="716.2" y="1381.6" text-anchor="end" fill="#111">0.2</text><path d="M722 1332.1L724.5 1332.1" stroke="#1a1a1a" stroke-width="1.3"/><text x="716.2" y="1336.9" text-anchor="end" fill="#111">0.4</text><path d="M722 1287.4L724.5 1287.4" stroke="#1a1a1a" stroke-width="1.3"/><text x="716.2" y="1292.2" text-anchor="end" fill="#111">0.6</text><path d="M722 1242.7L724.5 1242.7" stroke="#1a1a1a" stroke-width="1.3"/><text x="716.2" y="1247.5" text-anchor="end" fill="#111">0.8</text><path d="M722 1198L724.5 1198" stroke="#1a1a1a" stroke-width="1.3"/><text x="716.2" y="1202.8" text-anchor="end" fill="#111">1.0</text><text x="670.7" y="1310" font-size="19.3" text-anchor="middle" fill="#111" transform="rotate(-90 670.7 1310)">Normalized intensity (a.u.)</text><text x="970.9" y="1471.5" font-size="19.7" text-anchor="middle" fill="#111">Distance from the <tspan font-style="italic">MESP2</tspan> peak (μm)</text><g clip-path="url(#pc5)"><path d="M724.5 1412.8L729.5 1394.4L737.2 1371.8L744.8 1361.1L752.4 1347.3L759.9 1330.8L767.5 1314.1L775.2 1294.4L782.8 1283.9L790.4 1275.2L798 1268.5L805.9 1259.3L813.6 1258.8L821.1 1270.1L828.7 1283.3L836.3 1270.4L844 1263.2L851.8 1260.2L859.5 1257.7L867.1 1264.3L874.9 1278.8L882.4 1267.4L890 1256.2L897.6 1264.4L905.3 1271.8L913 1273.4L920.7 1259.8L928.4 1247.1L936 1259.4L943.6 1270.2L951.3 1272.8L958.9 1264.9L966.5 1266.2L974.1 1281.4L981.8 1280.7L990.3 1307.5L999.9 1322.7L1008.6 1323.1L1016.2 1329.2L1023.7 1326.4L1031.3 1321.6L1038.8 1326.6L1046.5 1333.9L1054.2 1326.5L1062 1321.1L1069.6 1319.2L1077.3 1319L1085 1329.3L1092.6 1340.6L1100.2 1345.6L1107.7 1349.4L1115.3 1357.1L1123 1361.2L1130.6 1367.9L1138.3 1360.4L1146 1357L1153.7 1359.6L1161.4 1363L1169 1369.4L1176.7 1361.6L1184.3 1366.9L1191.9 1377.1L1199.5 1386.7L1207.2 1390.7L1214.8 1390.3L1214.8 1412.5L1207.2 1418.9L1199.5 1417.5L1191.9 1413L1184.3 1398.5L1176.7 1400.2L1169 1407.7L1161.4 1399.5L1153.7 1391.3L1146 1390.5L1138.3 1389.4L1130.6 1386.5L1123 1381L1115.3 1375.1L1107.7 1371.8L1100.2 1369L1092.6 1363L1085 1356.5L1077.3 1349.2L1069.6 1347.5L1062 1357.5L1054.2 1364.1L1046.5 1371.6L1038.8 1360.8L1031.3 1359.3L1023.7 1359.9L1016.2 1361.4L1008.6 1348.1L999.9 1346.6L990.3 1324.3L981.8 1299L974.1 1293.6L966.5 1285.4L958.9 1286.9L951.3 1300.8L943.6 1294.6L936 1291.5L928.4 1283L920.7 1294.8L913 1307.2L905.3 1309.9L897.6 1297.4L890 1290.9L882.4 1297.9L874.9 1306.1L867.1 1289.2L859.5 1280.2L851.8 1276.6L844 1284.6L836.3 1291.8L828.7 1301.3L821.1 1288.9L813.6 1283.8L805.9 1289.4L798 1302.9L790.4 1315.3L782.8 1325.3L775.2 1329L767.5 1344.7L759.9 1361.7L752.4 1373.8L744.8 1386.1L737.2 1396.3L729.5 1413.7L724.5 1430.2 Z" fill="#a6dde0" fill-opacity="0.42"/><path d="M724.5 1355.3L733.1 1278.3L741 1282.1L748.7 1270.2L756.4 1255.7L764 1252L771.6 1254.4L779.3 1259.9L786.9 1270.9L794.5 1267L802.1 1253.8L809.9 1296.5L817.5 1301.1L825.1 1307.9L832.8 1314.5L840.4 1311.5L848 1318.9L855.6 1330.7L863.2 1331.2L871 1324.6L878.7 1318.9L886.3 1315.5L893.9 1308.5L901.4 1301.6L909 1303L916.5 1296.8L924.3 1292.8L932.1 1291.3L939.6 1294.4L947.2 1298.9L954.9 1297.9L962.7 1304L970.3 1301.3L977.8 1298.8L985.4 1297.8L995 1293.7L1004.6 1315.8L1012.3 1311.4L1020 1318.1L1027.6 1318.9L1035.1 1323.9L1042.7 1328.7L1050.3 1329.1L1058.1 1334.1L1065.8 1338.2L1073.3 1341.9L1081 1349.6L1088.8 1355.2L1096.4 1360L1103.9 1369.2L1111.4 1377.2L1119.1 1380.3L1126.8 1377.4L1134.5 1377.9L1142.2 1376.7L1149.8 1379.7L1157.5 1378.7L1165.2 1381.7L1172.9 1378.5L1180.6 1373.8L1188.1 1379.8L1195.7 1378.2L1203.3 1378.8L1210.9 1378.8L1214.8 1385.3L1214.8 1413L1210.9 1414.8L1203.3 1413.8L1195.7 1418.2L1188.1 1416.4L1180.6 1418.4L1172.9 1414.9L1165.2 1420.4L1157.5 1421.6L1149.8 1413.2L1142.2 1407.5L1134.5 1401.4L1126.8 1399.3L1119.1 1396.6L1111.4 1402.3L1103.9 1393.6L1096.4 1384.6L1088.8 1376.7L1081 1375.2L1073.3 1375.3L1065.8 1371.7L1058.1 1369.3L1050.3 1372.8L1042.7 1366.3L1035.1 1363L1027.6 1357.6L1020 1347.2L1012.3 1346.2L1004.6 1338.9L995 1311.8L985.4 1321.2L977.8 1324.9L970.3 1324.5L962.7 1324.2L954.9 1329.3L947.2 1324.3L939.6 1332L932.1 1336L924.3 1339.8L916.5 1341.7L909 1339L901.4 1343.8L893.9 1349.4L886.3 1353L878.7 1345L871 1344.8L863.2 1357.8L855.6 1352.5L848 1334.9L840.4 1330.8L832.8 1338.3L825.1 1335.7L817.5 1332L809.9 1327.2L802.1 1297.5L794.5 1311.5L786.9 1310.4L779.3 1300.9L771.6 1296.9L764 1293.4L756.4 1283.7L748.7 1303.8L741 1305.2L733.1 1297.1L724.5 1380.5 Z" fill="#dca6d6" fill-opacity="0.45"/><path d="M724.5 1259.7L733.1 1205.9L740.8 1260.4L748.6 1310L756.2 1324.9L763.9 1340.9L771.5 1356.9L779.1 1369.8L786.7 1381.7L794.4 1390.9L802.1 1395.1L809.9 1396L817.5 1398.3L825 1400.4L832.6 1406.4L840.1 1408.8L847.9 1409.6L855.7 1407.6L863.4 1405.5L871 1404.8L878.6 1403.5L886.2 1403.5L893.8 1403.4L901.4 1401.2L909.1 1400.6L916.8 1399.6L924.5 1400L932.1 1398.7L939.8 1398.7L947.3 1399.9L954.9 1401.8L962.5 1400.4L970.1 1397.4L977.8 1396.1L985.5 1395.4L993.2 1394.5L1000.9 1394.6L1008.5 1391.2L1016.2 1389.8L1023.8 1390.4L1031.4 1390L1039 1390.2L1046.6 1390.2L1054.2 1390.5L1061.9 1390.2L1069.6 1391.1L1077.3 1393.6L1085 1394.5L1092.6 1394.2L1100.2 1396.9L1107.8 1397.4L1115.4 1397.9L1123 1398.3L1130.6 1398.4L1138.3 1393.6L1146 1389L1153.7 1387.1L1161.4 1388.6L1169 1390.7L1176.7 1389.8L1184.3 1388.3L1191.9 1387.2L1199.5 1389.8L1207.2 1390.5L1214.8 1391.8L1214.8 1402.1L1207.2 1402.9L1199.5 1402L1191.9 1401.2L1184.3 1404.1L1176.7 1405.6L1169 1407.4L1161.4 1403.3L1153.7 1401.6L1146 1400.2L1138.3 1403.8L1130.6 1405.8L1123 1405.9L1115.4 1404.4L1107.8 1403.3L1100.2 1402.5L1092.6 1403.5L1085 1402.2L1077.3 1403.5L1069.6 1404L1061.9 1403.6L1054.2 1403.3L1046.6 1404.1L1039 1403.3L1031.4 1402.7L1023.8 1402.8L1016.2 1403.2L1008.5 1403L1000.9 1401.9L993.2 1401.7L985.5 1401.1L977.8 1402.1L970.1 1406.5L962.5 1408.6L954.9 1410.6L947.3 1412.8L939.8 1412.3L932.1 1413L924.5 1414.1L916.8 1415L909.1 1415.5L901.4 1415.7L893.8 1414.5L886.2 1414.2L878.6 1415.6L871 1414.4L863.4 1415.5L855.7 1415.3L847.9 1415.1L840.1 1415.6L832.6 1413.1L825 1410.2L817.5 1409L809.9 1408.6L802.1 1407.4L794.4 1407.6L786.7 1394.7L779.1 1382.8L771.5 1370.4L763.9 1353.7L756.2 1335.7L748.6 1318.5L740.8 1269.1L733.1 1211.9L724.5 1266 Z" fill="#f0d49a" fill-opacity="0.45"/><path d="M724.5 1421.5L725.7 1414L729.5 1404.1L733.4 1394L737.2 1384L741 1378.6L744.8 1373.6L748.6 1367.3L752.4 1360.6L756.2 1353.9L759.9 1346.2L763.7 1339.3L767.5 1329.4L771.4 1320.9L775.2 1311.7L779 1308.3L782.8 1304.6L786.6 1300.2L790.4 1295.3L794.2 1290.1L798 1285.7L802 1280.3L805.9 1274.3L809.9 1269.9L813.6 1271.3L817.2 1274.1L821.1 1279.5L824.9 1285.3L828.7 1292.3L832.5 1286.3L836.3 1281.1L840.1 1276.8L844 1273.9L847.9 1270.4L851.8 1268.4L855.7 1265.1L859.5 1269L863.3 1272.1L867.1 1276.8L871 1284.3L874.9 1292.4L878.6 1287.9L882.4 1282.7L886.2 1278.3L890 1273.6L893.8 1277.3L897.6 1280.9L901.4 1284.9L905.3 1290.9L909.2 1295.7L913 1290.3L916.9 1283.6L920.7 1277.3L924.5 1271.7L928.4 1265L932.2 1270L936 1275.5L939.8 1280.9L943.6 1282.4L947.5 1285.7L951.3 1286.8L955.1 1281.7L958.9 1275.9L962.7 1268.9L966.5 1275.8L970.3 1281.3L974.1 1287.5L978 1288.3L981.8 1289.8L985.6 1291.5L990.3 1315.9L995 1338.4L999.9 1334.6L1004.8 1330.4L1008.6 1335.6L1012.4 1340.1L1016.2 1345.3L1020 1344.2L1023.7 1343.2L1027.5 1341L1031.3 1340.4L1035 1339.2L1038.8 1343.7L1042.7 1347.2L1046.5 1352.7L1050.3 1348.4L1054.2 1345.3L1058.1 1342.3L1062 1339.3L1065.8 1335.6L1069.6 1333.4L1073.4 1329.9L1077.3 1334.1L1081.2 1338.6L1085 1342.9L1088.8 1347.2L1092.6 1351.8L1096.4 1354.7L1100.2 1357.3L1103.9 1358.5L1107.7 1360.6L1111.4 1364L1115.3 1366.1L1119.1 1368.6L1123 1371.1L1126.8 1374.2L1130.6 1377.2L1134.5 1375.9L1138.3 1374.9L1142.2 1373.6L1146 1373.7L1149.8 1371.8L1153.7 1375.5L1157.5 1379L1161.4 1381.3L1165.2 1385.1L1169 1388.5L1172.9 1384.4L1176.7 1380.9L1180.5 1376.3L1184.3 1382.7L1188.1 1388.3L1191.9 1395.1L1195.7 1398.2L1199.5 1402.1L1203.4 1406.5L1207.2 1404.8L1211 1403.4L1214.8 1401.4" fill="none" stroke="#5cc4cb" stroke-width="2.6" stroke-linejoin="round"/><path d="M724.5 1367.9L729.4 1296.5L733.1 1287.7L737 1290.5L741 1293.6L744.9 1295.8L748.7 1287L752.6 1278.4L756.4 1269.7L760.2 1270.7L764 1272.7L767.8 1274.1L771.6 1275.7L775.4 1278.4L779.3 1280.4L783.1 1285.4L786.9 1290.7L790.7 1296.1L794.5 1289.3L798.3 1282.6L802.1 1275.7L806 1294.1L809.9 1311.8L813.7 1314.4L817.5 1316.6L821.3 1318.4L825.1 1321.8L829 1323.3L832.8 1326.4L836.6 1323.6L840.4 1321.2L844.2 1318.2L848 1326.9L851.8 1334.2L855.6 1341.6L859.3 1350.1L863.2 1344.5L867.1 1340L871 1334.7L874.9 1330L878.7 1331.9L882.5 1333.2L886.3 1334.2L890.1 1331.9L893.9 1328.9L897.6 1325.8L901.4 1322.7L905.2 1322.2L909 1321L912.8 1320.4L916.5 1319.3L920.4 1317.7L924.3 1316.3L928.2 1315.8L932.1 1313.6L935.8 1313.2L939.6 1313.2L943.4 1312.7L947.2 1311.6L951.1 1312.7L954.9 1313.6L958.8 1313.5L962.7 1314.1L966.5 1313.3L970.3 1312.9L974 1313.1L977.8 1311.8L981.6 1311L985.4 1309.5L989.3 1307.6L995 1302.8L1000.7 1327.1L1004.6 1327.3L1008.5 1328.1L1012.3 1328.8L1016.2 1330.4L1020 1332.6L1023.8 1335.2L1027.6 1338.2L1031.3 1340.6L1035.1 1343.4L1038.9 1345.4L1042.7 1347.5L1046.5 1350.3L1050.3 1350.9L1054.2 1350.5L1058.1 1351.7L1062 1351.9L1065.8 1355L1069.5 1357L1073.3 1358.6L1077.1 1360.9L1081 1362.4L1084.9 1365.1L1088.8 1365.9L1092.6 1368L1096.4 1372.3L1100.2 1377L1103.9 1381.4L1107.7 1386L1111.4 1389.8L1115.2 1389.8L1119.1 1388.5L1122.9 1388L1126.8 1388.3L1130.6 1388.8L1134.5 1389.7L1138.4 1390.2L1142.2 1392.1L1146 1394.6L1149.8 1396.5L1153.6 1397.8L1157.5 1400.2L1161.3 1402.4L1165.2 1401L1169 1399.1L1172.9 1396.7L1176.8 1394.1L1180.6 1396.1L1184.4 1396.8L1188.1 1398.1L1191.9 1399.4L1195.7 1398.2L1199.5 1396.9L1203.3 1396.3L1207 1394.5L1210.9 1396.8L1214.8 1399.2" fill="none" stroke="#c25aae" stroke-width="2.6" stroke-linejoin="round"/><path d="M724.5 1262.8L727.4 1209.3L733.1 1208.9L737 1237.2L740.8 1264.8L744.7 1289.9L748.6 1314.2L752.4 1322L756.2 1330.3L760 1338.7L763.9 1347.3L767.7 1354.8L771.5 1363.6L775.3 1370.3L779.1 1376.3L782.9 1383.7L786.7 1388.2L790.6 1393.5L794.4 1399.3L798.2 1399.7L802.1 1401.3L806 1401.6L809.9 1402.3L813.7 1403.7L817.5 1403.6L821.2 1405.3L825 1405.3L828.8 1407.1L832.6 1409.7L836.3 1411.1L840.1 1412.2L844 1411.7L847.9 1412.4L851.8 1411.6L855.7 1411.5L859.5 1410.3L863.4 1410.5L867.2 1409.9L871 1409.6L874.8 1409.5L878.6 1409.6L882.4 1409L886.2 1408.8L890 1408.3L893.8 1408.9L897.6 1408.5L901.4 1408.5L905.3 1407.8L909.1 1408.1L912.9 1407.4L916.8 1407.3L920.6 1407.1L924.5 1407L928.3 1406.4L932.1 1405.8L936 1405.5L939.8 1405.5L943.6 1405.3L947.3 1406.3L951.1 1405.8L954.9 1406.2L958.6 1405.3L962.5 1404.5L966.3 1403.6L970.1 1402L974 1400.4L977.8 1399.1L981.7 1398.4L985.5 1398.3L989.3 1398.1L993.2 1398.1L997 1397.9L1000.9 1398.3L1004.7 1397.2L1008.5 1397.1L1012.4 1396.9L1016.2 1396.5L1020 1396.7L1023.8 1396.6L1027.6 1396.9L1031.4 1396.4L1035.2 1397.4L1039 1396.8L1042.8 1397.4L1046.6 1397.1L1050.4 1397.1L1054.2 1396.9L1058.1 1397.7L1061.9 1396.9L1065.7 1397.8L1069.6 1397.6L1073.4 1398.2L1077.3 1398.5L1081.1 1398.1L1085 1398.3L1088.8 1398.4L1092.6 1398.8L1096.4 1399L1100.2 1399.7L1104 1400.7L1107.8 1400.3L1111.6 1400.6L1115.4 1401.1L1119.2 1401.2L1123 1402.1L1126.8 1402.4L1130.6 1402.1L1134.5 1400.2L1138.3 1398.7L1142.2 1397L1146 1394.6L1149.8 1392.4L1153.7 1394.4L1157.5 1394.5L1161.4 1395.9L1165.2 1398.1L1169 1399L1172.9 1397.9L1176.7 1397.7L1180.5 1397.5L1184.3 1396.2L1188.1 1395.2L1191.9 1394.2L1195.7 1394.5L1199.5 1395.9L1203.4 1395.8L1207.2 1396.7L1211 1396L1214.8 1396.9" fill="none" stroke="#e0b04c" stroke-width="2.6" stroke-linejoin="round"/></g><rect x="724.5" y="2245.5" width="490.3" height="225.5" fill="none" stroke="#1a1a1a" stroke-width="1.6"/><path d="M724.5 2471L724.5 2473.5" stroke="#1a1a1a" stroke-width="1.3"/><text x="724.5" y="2491.7" text-anchor="middle" fill="#111">0</text><path d="M847.1 2471L847.1 2473.5" stroke="#1a1a1a" stroke-width="1.3"/><text x="847.1" y="2491.7" text-anchor="middle" fill="#111">10</text><path d="M969.6 2471L969.6 2473.5" stroke="#1a1a1a" stroke-width="1.3"/><text x="969.6" y="2491.7" text-anchor="middle" fill="#111">20</text><path d="M1092.2 2471L1092.2 2473.5" stroke="#1a1a1a" stroke-width="1.3"/><text x="1092.2" y="2491.7" text-anchor="middle" fill="#111">30</text><path d="M1214.8 2471L1214.8 2473.5" stroke="#1a1a1a" stroke-width="1.3"/><text x="1213.8" y="2491.7" text-anchor="end" fill="#111">40</text><path d="M722 2461.2L724.5 2461.2" stroke="#1a1a1a" stroke-width="1.3"/><text x="716" y="2465.5" text-anchor="end" fill="#111">0.00</text><path d="M722 2409.8L724.5 2409.8" stroke="#1a1a1a" stroke-width="1.3"/><text x="716" y="2414.1" text-anchor="end" fill="#111">0.25</text><path d="M722 2358.5L724.5 2358.5" stroke="#1a1a1a" stroke-width="1.3"/><text x="716" y="2362.8" text-anchor="end" fill="#111">0.50</text><path d="M722 2307.1L724.5 2307.1" stroke="#1a1a1a" stroke-width="1.3"/><text x="716" y="2311.4" text-anchor="end" fill="#111">0.75</text><path d="M722 2255.8L724.5 2255.8" stroke="#1a1a1a" stroke-width="1.3"/><text x="716" y="2260.1" text-anchor="end" fill="#111">1.00</text><text x="672.7" y="2357.2" font-size="19.3" text-anchor="middle" fill="#111" transform="rotate(-90 672.7 2357.2)">Luminescence (a.u.)</text><text x="967.5" y="2513" font-size="19.7" text-anchor="middle" fill="#111"><tspan font-size="21.5">Time (h)</tspan></text><g clip-path="url(#pc6)"><path d="M724.5 2261.8L731.9 2264L739.8 2280.5L747.8 2304.9L755.1 2324.7L762.5 2327.2L770.5 2313.8L777.9 2299.3L785.8 2291L793.1 2303.8L801.1 2322.5L810.3 2338.2L819.1 2327.2L827.7 2317.8L836 2312.9L843.7 2313.7L850.8 2322.7L858.5 2340.5L866.3 2355.4L874 2360.1L881.3 2348L889.1 2334.9L897.3 2329.6L904.4 2337.4L912 2350.2L920 2369.2L927.7 2377.4L935.3 2372.2L942.6 2366.5L950 2361.2L958.1 2368.6L965.9 2377.8L973.4 2389.6L981.2 2395.9L989.3 2400L996.7 2394.8L1004 2389.6L1011.6 2387.9L1019.2 2389.5L1027 2394.3L1034.8 2398.7L1042.4 2404.3L1050.1 2407.5L1057.8 2402.6L1065.4 2401.9L1073.1 2403.4L1080.6 2404.6L1088.1 2408.7L1095.9 2411.5L1103.9 2413.2L1111.8 2416.2L1119.2 2414.1L1126.5 2412.2L1134.1 2414.5L1142 2415.2L1149.8 2418.9L1157.5 2416.5L1165 2416.7L1172.5 2415.8L1179.7 2418.8L1187.8 2419.8L1195.7 2424.1L1204.7 2426.3L1212.3 2425.7L1214.8 2427L1214.8 2435.8L1212.3 2435.9L1204.7 2433.9L1195.7 2432.9L1187.8 2434.6L1179.7 2432.6L1172.5 2433.6L1165 2432L1157.5 2434.9L1149.8 2433.2L1142 2432.9L1134.1 2427.8L1126.5 2427.3L1119.2 2426.8L1111.8 2423.8L1103.9 2422.9L1095.9 2418.5L1088.1 2416.5L1080.6 2414.6L1073.1 2412.8L1065.4 2415L1057.8 2417.5L1050.1 2419.9L1042.4 2421.2L1034.8 2416L1027 2410.7L1019.2 2407.8L1011.6 2405.4L1004 2405.9L996.7 2408.2L989.3 2409.2L981.2 2407.2L973.4 2396.5L965.9 2386.9L958.1 2377.3L950 2371.8L942.6 2376.1L935.3 2384L927.7 2388.2L920 2381.5L912 2366.3L904.4 2352L897.3 2346.8L889.1 2351.9L881.3 2361.8L874 2373.7L866.3 2366.1L858.5 2351.5L850.8 2332.4L843.7 2323.9L836 2322.4L827.7 2325.5L819.1 2336.4L810.3 2350.2L801.1 2332.1L793.1 2314.4L785.8 2307L777.9 2316.9L770.5 2329.5L762.5 2344.9L755.1 2339.1L747.8 2321.8L739.8 2292.4L731.9 2274.5L724.5 2272.7 Z" fill="#bfe3ec" fill-opacity="0.55"/><path d="M724.5 2253.2L733.1 2250.2L740.7 2266.7L748.6 2283.8L756.4 2300.6L763.7 2322.2L771.3 2337.1L779.7 2344.8L787.3 2346.7L794.4 2347.6L801.7 2352.3L809.3 2358.9L817.2 2362.8L824.4 2367L832.4 2369.2L839.9 2371.1L848 2372.6L855.7 2372.4L863.8 2372.7L871.5 2374L879.1 2373.2L886.5 2375.4L893.7 2378.1L901.9 2382.7L909.6 2386.5L916.9 2390.6L924.3 2393.3L932 2394.1L940.2 2396.8L947.4 2400.1L954.8 2401.9L962.5 2404.2L970.4 2404.6L978.2 2405L985.6 2405L992.9 2408L1000.5 2407.7L1008.4 2409.4L1016.2 2409.2L1023.6 2410.5L1030.9 2412L1038.5 2410.8L1046.3 2410.1L1054.2 2409.2L1062.1 2411.7L1070 2414.7L1077.6 2415.6L1084.8 2418.1L1092.2 2420.1L1100 2420.3L1108 2421.5L1115.6 2420.4L1122.8 2419.6L1130.2 2418.3L1138 2418.4L1145.9 2417.8L1153.7 2419L1161.2 2423.1L1169.4 2423.7L1176.5 2424.6L1184.3 2422.8L1191.8 2422.9L1199.8 2426.6L1208.7 2428.6L1214.8 2432.7L1214.8 2441.6L1208.7 2439.6L1199.8 2434.3L1191.8 2435.3L1184.3 2436.4L1176.5 2436.9L1169.4 2439.2L1161.2 2437.7L1153.7 2436.7L1145.9 2434.7L1138 2432L1130.2 2430.8L1122.8 2430.3L1115.6 2433L1108 2432L1100 2430.8L1092.2 2428.6L1084.8 2427.9L1077.6 2426.7L1070 2423.7L1062.1 2422.8L1054.2 2423.3L1046.3 2424.5L1038.5 2428.5L1030.9 2428.5L1023.6 2428.8L1016.2 2427.6L1008.4 2423.1L1000.5 2421.4L992.9 2418.7L985.6 2418.3L978.2 2416L970.4 2413.9L962.5 2410.3L954.8 2409L947.4 2406.3L940.2 2405.8L932 2407L924.3 2405.4L916.9 2403.1L909.6 2400.7L901.9 2398.2L893.7 2396.5L886.5 2393.6L879.1 2390.7L871.5 2386.5L863.8 2387.4L855.7 2385.3L848 2382.2L839.9 2381.2L832.4 2378.2L824.4 2375.2L817.2 2373.2L809.3 2368.5L801.7 2364L794.4 2358.5L787.3 2361L779.7 2361.9L771.3 2355.7L763.7 2339.3L756.4 2318.4L748.6 2299L740.7 2279.5L733.1 2264.8L724.5 2262.5 Z" fill="#ecb4d8" fill-opacity="0.45"/><path d="M724.5 2250L733.1 2251.7L740.7 2268.4L748.6 2288.1L756.4 2308.3L763.7 2327.5L771.3 2335.4L779.7 2334.4L787.3 2331.9L794.4 2333.5L801.7 2352.3L809.3 2363.2L817.2 2368.6L824.4 2371.7L832.4 2372.5L839.9 2372.9L848 2371.7L855.7 2371.4L863.8 2374.3L871.5 2374.4L879.1 2377.5L886.5 2382.3L893.7 2386.6L901.9 2393.8L909.6 2394.9L916.9 2397.1L924.3 2398.5L932 2402L940.2 2406.2L947.4 2410.6L954.8 2412.8L962.5 2415.6L970.4 2418.3L978.2 2419.8L985.6 2419.4L992.9 2417.7L1000.5 2416.7L1008.4 2416.4L1016.2 2417L1023.6 2419.9L1030.9 2424.3L1038.5 2428.7L1046.3 2432.1L1054.2 2435.9L1062.1 2435.8L1070 2434.4L1077.6 2434.4L1084.8 2440.6L1092.2 2443L1100 2439.6L1108 2434.3L1115.6 2431.9L1122.8 2433.5L1130.2 2434.2L1138 2435L1145.9 2432.8L1153.8 2431L1162 2428.5L1169.4 2426.9L1177.3 2430.7L1184.2 2438.3L1191 2441.9L1198.9 2440.6L1208 2438.3L1214.8 2434.3L1214.8 2443.7L1208 2447.6L1198.9 2454.1L1191 2455.6L1184.2 2450.9L1177.3 2447.6L1169.4 2444.3L1162 2447L1153.8 2451.8L1145.9 2454.3L1138 2451.3L1130.2 2451.4L1122.8 2449L1115.6 2445.9L1108 2446L1100 2448.8L1092.2 2450.8L1084.8 2448L1077.6 2445.4L1070 2443.5L1062.1 2446.9L1054.2 2448.9L1046.3 2449.3L1038.5 2445.8L1030.9 2443.3L1023.6 2440L1016.2 2437.2L1008.4 2434.1L1000.5 2432.4L992.9 2431L985.6 2429.7L978.2 2428.9L970.4 2426.3L962.5 2423.1L954.8 2420.9L947.4 2418.3L940.2 2417.5L932 2414.4L924.3 2411.2L916.9 2411.6L909.6 2414.7L901.9 2410.6L893.7 2408.3L886.5 2403.5L879.1 2396.5L871.5 2392.6L863.8 2387.1L855.7 2386.5L848 2383.2L839.9 2380.5L832.4 2379.1L824.4 2379.6L817.2 2381L809.3 2375.8L801.7 2365.3L794.4 2347.1L787.3 2349.9L779.7 2353.7L771.3 2356.5L763.7 2347.5L756.4 2326.7L748.6 2305.1L740.7 2283.6L733.1 2263.7L724.5 2261.6 Z" fill="#f6d690" fill-opacity="0.45"/><path d="M724.5 2267.3L727.7 2267.3L731.9 2269.3L735.8 2276.3L739.8 2286.5L743.8 2299.6L747.8 2313.4L751.5 2323.9L755.1 2331.9L758.8 2335.8L762.5 2336L766 2330.2L770.5 2321.7L773.9 2315.6L777.9 2308.1L782.1 2301.9L785.8 2299L789.7 2301.6L793.1 2309.1L796.8 2317.5L801.1 2327.3L805.7 2338.5L810.3 2344.2L814.7 2340.7L819.1 2331.8L823.8 2324.4L827.7 2321.7L831.9 2319.3L836 2317.6L839.7 2317.2L843.7 2318.8L847.2 2322.4L850.8 2327.6L854.6 2336.1L858.5 2346L862.4 2354.2L866.3 2360.8L870.2 2365.3L874 2366.9L877.7 2362.7L881.3 2354.9L885.1 2348.3L889.1 2343.4L893.3 2339.5L897.3 2338.2L900.9 2339.8L904.4 2344.7L908.4 2351.3L912 2358.2L916 2367.3L920 2375.3L923.7 2381.3L927.7 2382.8L931.4 2380.7L935.3 2378.1L938.8 2375.1L942.6 2371.3L946.5 2368.1L950 2366.5L954.2 2368.3L958.1 2373L962.3 2378.1L965.9 2382.3L969.6 2388.1L973.4 2393.1L977 2397.4L981.2 2401.5L985.1 2403.9L989.3 2404.6L992.8 2403.7L996.7 2401.5L1000.5 2398.9L1004 2397.8L1007.9 2396.5L1011.6 2396.7L1015.6 2397.6L1019.2 2398.7L1023 2400.8L1027 2402.5L1030.9 2404.9L1034.8 2407.4L1038.6 2410.2L1042.4 2412.8L1046.3 2413.9L1050.1 2413.7L1053.9 2412.1L1057.8 2410.1L1061.6 2408.8L1065.4 2408.4L1069.2 2408.1L1073.1 2408.1L1076.9 2408.9L1080.6 2409.6L1084.3 2411L1088.1 2412.6L1092.2 2413.8L1095.9 2415L1099.8 2416.4L1103.9 2418.1L1107.9 2419.2L1111.8 2420L1115.6 2420.4L1119.2 2420.5L1122.8 2419.8L1126.5 2419.8L1130.2 2420.3L1134.1 2421.1L1138 2422.4L1142 2424.1L1145.9 2425.4L1149.8 2426.1L1153.7 2426.2L1157.5 2425.7L1161.3 2425.2L1165 2424.3L1168.8 2424.3L1172.5 2424.7L1176.1 2425.2L1179.7 2425.7L1183.5 2426.6L1187.8 2427.2L1191.5 2427.8L1195.7 2428.5L1200.2 2429.3L1204.7 2430.1L1208.8 2430.4L1212.3 2430.8L1214.8 2431.4" fill="none" stroke="#88c8d8" stroke-width="2.6" stroke-linejoin="round"/><path d="M724.5 2257.8L728.1 2256.3L733.1 2257.5L736.7 2263.9L740.7 2273.1L744.7 2282.2L748.6 2291.4L752.5 2300.1L756.4 2309.5L760 2319.9L763.7 2330.8L767.4 2339.7L771.3 2346.4L775.3 2350.3L779.7 2353.4L783.3 2354.1L787.3 2353.9L791.2 2353L794.4 2353L798.2 2355.4L801.7 2358.1L805.2 2361L809.3 2363.7L814 2366.5L817.2 2368L820.7 2369.8L824.4 2371.1L828.3 2372.4L832.4 2373.7L836 2374.9L839.9 2376.1L843.9 2376.7L848 2377.4L851.9 2378.2L855.7 2378.8L859.8 2379.6L863.8 2380.1L867.7 2380.1L871.5 2380.2L875.3 2380.9L879.1 2382L882.8 2383.2L886.5 2384.5L890.2 2386.3L893.7 2387.3L897.8 2388.9L901.9 2390.5L905.7 2392L909.6 2393.6L913.3 2394.9L916.9 2396.9L920.6 2398.6L924.3 2399.3L928.1 2400.4L932 2400.6L936 2400.7L940.2 2401.3L943.7 2402.6L947.4 2403.2L951.1 2404.8L954.8 2405.5L958.6 2406.7L962.5 2407.3L966.4 2408.4L970.4 2409.3L974.4 2409.5L978.2 2410.5L982 2411.4L985.6 2411.7L989.2 2412.5L992.9 2413.4L996.6 2414.2L1000.5 2414.5L1004.4 2415.7L1008.4 2416.3L1012.4 2417.1L1016.2 2418.4L1020 2418.4L1023.6 2419.6L1027.2 2420L1030.9 2420.2L1034.6 2420.3L1038.5 2419.6L1042.4 2418.4L1046.3 2417.3L1050.3 2416.2L1054.2 2416.2L1058.2 2416.5L1062.1 2417.2L1066.1 2417.9L1070 2419.2L1073.8 2419.9L1077.6 2421.1L1081.2 2422L1084.8 2423L1088.5 2423.6L1092.2 2424.3L1096.1 2425.2L1100 2425.5L1104 2426.6L1108 2426.8L1111.8 2427.2L1115.6 2426.7L1119.2 2426.5L1122.8 2425L1126.5 2424.8L1130.2 2424.5L1134.1 2424.4L1138 2425.2L1141.9 2425.4L1145.9 2426.3L1149.8 2426.9L1153.7 2427.8L1157.4 2428.8L1161.2 2430.4L1165.1 2430.7L1169.4 2431.5L1172.9 2431.2L1176.5 2430.7L1180.4 2430.4L1184.3 2429.6L1188.1 2429.7L1191.8 2429.1L1195.2 2429.4L1199.8 2430.4L1204.4 2432.2L1208.7 2434.1L1212.2 2435.8L1214.8 2437.1" fill="none" stroke="#cc6cb0" stroke-width="2.6" stroke-linejoin="round"/><path d="M724.5 2255.8L728.1 2254.7L733.1 2257.7L736.7 2265.1L740.7 2276L744.7 2286.9L748.6 2296.6L752.5 2307.1L756.4 2317.5L760 2327.8L763.7 2337.5L767.4 2344.1L771.3 2346L775.3 2345.5L779.7 2344.1L783.3 2343L787.3 2340.9L791.2 2339.7L794.4 2340.3L798.2 2348.1L801.7 2358.8L805.2 2364.2L809.3 2369.5L814 2374.1L817.2 2374.8L820.7 2376L824.4 2375.7L828.3 2375.4L832.4 2375.8L836 2376.5L839.9 2376.7L843.9 2377.3L848 2377.4L851.9 2378.5L855.7 2378.9L859.8 2380.2L863.8 2380.7L867.7 2382.2L871.5 2383.5L875.3 2385.1L879.1 2387L882.8 2389.9L886.5 2392.9L890.2 2395L893.7 2397.5L897.8 2399.5L901.9 2402.2L905.7 2403.9L909.6 2404.8L913.3 2405L916.9 2404.4L920.6 2404.1L924.3 2404.8L928.1 2406.2L932 2408.2L936 2410.2L940.2 2411.8L943.7 2413L947.4 2414.5L951.1 2415.5L954.8 2416.9L958.6 2418.3L962.5 2419.3L966.4 2421.1L970.4 2422.3L974.4 2423.1L978.2 2424.4L982 2424.7L985.6 2424.6L989.2 2423.9L992.9 2424.4L996.6 2424.2L1000.5 2424.6L1004.4 2424.8L1008.4 2425.2L1012.4 2426L1016.2 2427.1L1020 2428.4L1023.6 2429.9L1027.2 2431.6L1030.9 2433.8L1034.6 2435.4L1038.5 2437.3L1042.4 2438.6L1046.3 2440.7L1050.3 2442L1054.2 2442.4L1058.2 2442.7L1062.1 2441.4L1066.1 2440L1070 2439L1073.8 2439.3L1077.6 2439.9L1081.2 2442L1084.8 2444.3L1088.5 2446L1092.2 2446.9L1096.1 2445.8L1100 2444.2L1104 2442.1L1108 2440.2L1111.8 2439.1L1115.6 2438.9L1119.2 2439.9L1122.8 2441.3L1126.5 2442L1130.2 2442.8L1134.1 2443.3L1138 2443.1L1141.9 2443.2L1145.9 2443.6L1149.8 2442.6L1153.8 2441.4L1157.9 2439.4L1162 2437.7L1165.8 2435.9L1169.4 2435.6L1173.6 2436.4L1177.3 2439.1L1180.9 2442.5L1184.2 2444.6L1187.8 2447.1L1191 2448.7L1195.2 2448.6L1198.9 2447.3L1203.4 2445.4L1208 2442.9L1212 2440.3L1214.8 2439" fill="none" stroke="#ecb03c" stroke-width="2.6" stroke-linejoin="round"/></g><text x="738" y="2463.9" font-size="22.5" fill="#111">+MG +RAL</text><rect x="1365.8" y="568.2" width="489.8" height="219" fill="none" stroke="#1a1a1a" stroke-width="1.6"/><path d="M1365.8 787.2L1365.8 789.7" stroke="#1a1a1a" stroke-width="1.3"/><text x="1365.8" y="811.5" text-anchor="middle" fill="#111">0</text><path d="M1447.4 787.2L1447.4 789.7" stroke="#1a1a1a" stroke-width="1.3"/><text x="1447.4" y="811.5" text-anchor="middle" fill="#111">200</text><path d="M1529.1 787.2L1529.1 789.7" stroke="#1a1a1a" stroke-width="1.3"/><text x="1529.1" y="811.5" text-anchor="middle" fill="#111">400</text><path d="M1610.7 787.2L1610.7 789.7" stroke="#1a1a1a" stroke-width="1.3"/><text x="1610.7" y="811.5" text-anchor="middle" fill="#111">600</text><path d="M1692.3 787.2L1692.3 789.7" stroke="#1a1a1a" stroke-width="1.3"/><text x="1692.3" y="811.5" text-anchor="middle" fill="#111">800</text><path d="M1774 787.2L1774 789.7" stroke="#1a1a1a" stroke-width="1.3"/><text x="1774" y="811.5" text-anchor="middle" fill="#111">1000</text><path d="M1855.6 787.2L1855.6 789.7" stroke="#1a1a1a" stroke-width="1.3"/><text x="1855.6" y="811.5" text-anchor="middle" fill="#111">1200</text><path d="M1363.3 787.2L1365.8 787.2" stroke="#1a1a1a" stroke-width="1.3"/><text x="1355.8" y="797.1" text-anchor="end" fill="#111">0.0</text><path d="M1363.3 743.4L1365.8 743.4" stroke="#1a1a1a" stroke-width="1.3"/><text x="1355.8" y="753.3" text-anchor="end" fill="#111">0.2</text><path d="M1363.3 699.6L1365.8 699.6" stroke="#1a1a1a" stroke-width="1.3"/><text x="1355.8" y="709.5" text-anchor="end" fill="#111">0.4</text><path d="M1363.3 655.8L1365.8 655.8" stroke="#1a1a1a" stroke-width="1.3"/><text x="1355.8" y="665.7" text-anchor="end" fill="#111">0.6</text><path d="M1363.3 612L1365.8 612" stroke="#1a1a1a" stroke-width="1.3"/><text x="1355.8" y="621.9" text-anchor="end" fill="#111">0.8</text><path d="M1363.3 568.2L1365.8 568.2" stroke="#1a1a1a" stroke-width="1.3"/><text x="1355.8" y="578.1" text-anchor="end" fill="#111">1.0</text><text x="1316.2" y="686.5" font-size="19.3" text-anchor="middle" fill="#111" transform="rotate(-90 1316.2 686.5)">Normalized intensity (a.u.)</text><text x="1612.2" y="843.8" font-size="19.7" text-anchor="middle" fill="#111">Distance from the posterior end (μm)</text><g clip-path="url(#pc7)"><path d="M1365.8 769.2L1376.2 753.3L1383.9 749.8L1391.5 740.8L1398.9 734.8L1406.6 747.8L1414.4 747.9L1421.7 743.5L1429.3 734.2L1437 725L1446.6 698.9L1456.2 659L1463.9 658.1L1471.5 662.7L1479.1 656.4L1488.7 636.7L1498.2 665.4L1505.8 658.6L1513.6 670.7L1521.1 672.5L1528.7 672.7L1536.4 685.2L1544 686.4L1551.5 686.5L1559.1 695.6L1566.8 695.4L1574.4 694L1582 700.1L1589.6 700.3L1597.2 704.7L1605 703L1612.7 698.2L1620.4 704.3L1628 704.9L1635.6 705.2L1643.1 705.6L1650.7 707.1L1658.4 707.7L1666 705.7L1673.7 710.3L1681.3 715.5L1688.9 717.1L1696.4 718.1L1704.2 722L1711.9 725.9L1719.5 723.4L1727 723L1734.7 723.7L1742.4 723.2L1750 726L1757.6 730.1L1765.2 732.1L1772.7 731.8L1780.5 728.5L1788.3 726.7L1795.8 729.5L1803.4 731.8L1810.9 730.7L1818.5 727.4L1826.2 721.9L1833.8 725.6L1841.3 725L1848.5 729.6L1855.6 733.6L1855.6 748.8L1848.5 744.4L1841.3 739.7L1833.8 737.8L1826.2 739.3L1818.5 745.2L1810.9 747.6L1803.4 751L1795.8 748.7L1788.3 746.8L1780.5 751.1L1772.7 754.9L1765.2 751.8L1757.6 751.5L1750 745.7L1742.4 740.6L1734.7 739.5L1727 738.4L1719.5 737L1711.9 735.6L1704.2 733.5L1696.4 734.3L1688.9 733.7L1681.3 736.1L1673.7 728.7L1666 727.2L1658.4 729.5L1650.7 732L1643.1 731.2L1635.6 730.1L1628 724.8L1620.4 718.5L1612.7 713.7L1605 713.9L1597.2 716.9L1589.6 714.9L1582 708.4L1574.4 704.3L1566.8 712.1L1559.1 710.4L1551.5 704.1L1544 704.5L1536.4 704.8L1528.7 696L1521.1 695.9L1513.6 697.1L1505.8 682.6L1498.2 682.4L1488.7 653.2L1479.1 670.5L1471.5 674.3L1463.9 667.6L1456.2 671.2L1446.6 713.2L1437 734.4L1429.3 747.6L1421.7 757.2L1414.4 764.2L1406.6 765.1L1398.9 754.2L1391.5 763.2L1383.9 771L1376.2 774.2L1365.8 787.7 Z" fill="#f7a084" fill-opacity="0.45"/><path d="M1365.8 611.3L1376 621.1L1383.8 646L1391.5 668.1L1399.1 687.8L1406.6 698.7L1414.2 707.6L1421.9 719.2L1429.5 724.8L1437.2 731.7L1444.8 731.2L1452.3 727.5L1460.1 733.1L1467.8 738.5L1475.4 743.2L1482.9 746.7L1490.5 747.4L1498 747.6L1505.7 749.3L1513.4 750.7L1521.1 752.2L1528.7 751.4L1536.4 752.9L1543.9 756.4L1551.4 757.6L1559 757.1L1566.7 759.4L1574.4 760L1582 761.9L1589.7 762.1L1597.4 759.7L1605.1 759.8L1612.7 759.9L1620.3 758.3L1627.8 759.4L1635.4 759.4L1643 761.7L1650.7 759.3L1658.4 761.3L1666 758.6L1673.7 760.3L1681.4 762.1L1689.1 762.1L1696.6 761.2L1704.1 762.1L1711.7 762.4L1719.4 762L1727 763.1L1734.7 763L1742.4 762.3L1750 761.7L1757.5 761.6L1765 760.7L1772.7 761.2L1780.3 760.8L1788 763.3L1795.7 761.8L1803.4 763.3L1811 764L1818.7 764.8L1826.3 764.7L1833.8 765.7L1841.3 762.2L1848.5 763.7L1855.6 765L1855.6 773.5L1848.5 773L1841.3 772L1833.8 771.9L1826.3 772.8L1818.7 773L1811 775.4L1803.4 775.6L1795.7 777.4L1788 779L1780.3 779.8L1772.7 777.9L1765 776.9L1757.5 776.3L1750 774.1L1742.4 773.7L1734.7 772.4L1727 771.8L1719.4 771.1L1711.7 769.1L1704.1 769.6L1696.6 773L1689.1 773.1L1681.4 773.6L1673.7 774.1L1666 776.1L1658.4 775.9L1650.7 778.8L1643 777.3L1635.4 778.3L1627.8 776.3L1620.3 775.3L1612.7 770.8L1605.1 770.8L1597.4 770.7L1589.7 768.7L1582 768.3L1574.4 769.7L1566.7 769.2L1559 770.1L1551.4 768.1L1543.9 769.1L1536.4 770.1L1528.7 770.4L1521.1 769.3L1513.4 766.5L1505.7 765.3L1498 765.3L1490.5 759.8L1482.9 758.6L1475.4 752.5L1467.8 751L1460.1 743.6L1452.3 738.6L1444.8 737.7L1437.2 741.2L1429.5 736.3L1421.9 730.7L1414.2 719.1L1406.6 714L1399.1 704.9L1391.5 683.2L1383.8 664.9L1376 637.3L1365.8 625.9 Z" fill="#b4b0e6" fill-opacity="0.45"/><path d="M1365.8 778.4L1372.3 762.9L1376.2 763.8L1380.1 765.5L1383.9 760.4L1387.7 756.6L1391.5 752L1395.2 747.8L1398.9 744.5L1402.7 750L1406.6 756.5L1410.5 756L1414.4 756L1418 753.2L1421.7 750.4L1425.5 745.1L1429.3 740.9L1433.1 737L1437 729.7L1440.9 721.6L1446.6 706L1452.3 671.7L1456.2 665.1L1460.1 660.6L1463.9 662.8L1467.7 665.6L1471.5 668.5L1475.3 665.8L1479.1 663.5L1482.9 659.8L1488.7 644.9L1494.4 675.7L1498.2 673.9L1502 672.6L1505.8 670.6L1509.7 677.2L1513.6 683.9L1517.3 684.5L1521.1 684.2L1524.9 684L1528.7 684.4L1532.5 689.7L1536.4 695L1540.2 695.6L1544 695.5L1547.7 694.9L1551.5 695.3L1555.3 698.9L1559.1 703L1562.9 706.4L1566.8 703.7L1570.6 702.4L1574.4 699.1L1578.2 701.7L1582 704.3L1585.8 705.8L1589.6 707.6L1593.4 708.5L1597.2 710.8L1601.1 709.8L1605 708.4L1608.9 707.7L1612.7 705.9L1616.6 709L1620.4 711.4L1624.2 713.9L1628 714.9L1631.8 716.4L1635.6 717.7L1639.4 717.6L1643.1 718.4L1646.9 718.2L1650.7 719.6L1654.5 718.8L1658.4 718.6L1662.2 717.7L1666 716.4L1669.9 715.9L1673.7 719.5L1677.5 722L1681.3 725.8L1685.1 725.5L1688.9 725.4L1692.6 725.4L1696.4 726.2L1700.3 726.5L1704.2 727.8L1708 729L1711.9 730.7L1715.7 729.8L1719.5 730.2L1723.3 730.3L1727 730.7L1730.9 731.1L1734.7 731.6L1738.5 731.3L1742.4 731.9L1746.2 732.3L1750 735.8L1753.8 738.8L1757.6 740.8L1761.4 741.4L1765.2 742L1769 742.5L1772.7 743.4L1776.6 741.9L1780.5 739.8L1784.4 737.9L1788.3 736.7L1792 737.8L1795.8 739.1L1799.6 740.7L1803.4 741.4L1807.1 740.1L1810.9 739.2L1814.7 738.1L1818.5 736.3L1822.3 734L1826.2 730.6L1830 731.3L1833.8 731.7L1837.5 731.8L1841.3 732.3L1844.9 734.2L1848.5 737L1852 738.5L1855.6 741.2" fill="none" stroke="#e4553a" stroke-width="2.6" stroke-linejoin="round"/><path d="M1365.8 618.6L1370.3 587.7L1376 629.2L1379.9 642.3L1383.8 655.4L1387.6 665.3L1391.5 675.7L1395.3 686.2L1399.1 696.4L1402.9 706.1L1406.6 706.4L1410.3 706.5L1414.2 713.3L1418 721.7L1421.9 724.9L1425.7 727.7L1429.5 730.6L1433.4 733.5L1437.2 736.4L1441 736.1L1444.8 734.4L1448.6 733.9L1452.3 733L1456.2 735.3L1460.1 738.4L1464 742L1467.8 744.8L1471.6 746L1475.4 747.9L1479.2 749.8L1482.9 752.6L1486.7 753.5L1490.5 753.6L1494.3 755.3L1498 756.5L1501.9 756.9L1505.7 757.3L1509.6 758.3L1513.4 758.6L1517.2 759.2L1521.1 760.7L1524.9 760.7L1528.7 760.9L1532.6 761.7L1536.4 761.5L1540.2 762.4L1543.9 762.8L1547.7 762.4L1551.4 762.9L1555.2 763.3L1559 763.6L1562.9 764.4L1566.7 764.3L1570.5 764.9L1574.4 764.9L1578.2 765.8L1582 765.1L1585.9 765.2L1589.7 765.4L1593.6 765.8L1597.4 765.2L1601.2 765.8L1605.1 765.3L1608.9 765.3L1612.7 765.3L1616.5 765.5L1620.3 766.8L1624 767.3L1627.8 767.9L1631.5 769.6L1635.4 768.8L1639.2 769.2L1643 769.5L1646.9 769.3L1650.7 769L1654.5 768.9L1658.4 768.6L1662.2 768.5L1666 767.4L1669.9 767.6L1673.7 767.2L1677.6 767.2L1681.4 767.8L1685.2 767.5L1689.1 767.6L1692.8 767.4L1696.6 767.1L1700.3 766.1L1704.1 765.9L1707.8 765.3L1711.7 765.8L1715.5 766.4L1719.4 766.6L1723.2 767.1L1727 767.5L1730.9 768L1734.7 767.7L1738.5 767.9L1742.4 768L1746.2 767.2L1750 767.9L1753.7 768.7L1757.5 768.9L1761.2 768.5L1765 768.8L1768.8 769.6L1772.7 769.5L1776.5 770.1L1780.3 770.3L1784.2 771.4L1788 771.2L1791.8 770.9L1795.7 769.6L1799.5 769.9L1803.4 769.4L1807.2 768.8L1811 769.7L1814.9 769.8L1818.7 768.9L1822.5 769.8L1826.3 768.8L1830 768.5L1833.8 768.8L1837.6 768.2L1841.3 767.1L1844.9 767.8L1848.5 768.4L1852 768.6L1855.6 769.2" fill="none" stroke="#5bbfc8" stroke-width="2.6" stroke-linejoin="round"/></g><rect x="1365.8" y="1198" width="489.8" height="223.5" fill="none" stroke="#1a1a1a" stroke-width="1.6"/><path d="M1365.8 1421.5L1365.8 1424" stroke="#1a1a1a" stroke-width="1.3"/><text x="1365.8" y="1443.8" text-anchor="middle" fill="#111">0</text><path d="M1447.4 1421.5L1447.4 1424" stroke="#1a1a1a" stroke-width="1.3"/><text x="1447.4" y="1443.8" text-anchor="middle" fill="#111">200</text><path d="M1529.1 1421.5L1529.1 1424" stroke="#1a1a1a" stroke-width="1.3"/><text x="1529.1" y="1443.8" text-anchor="middle" fill="#111">400</text><path d="M1610.7 1421.5L1610.7 1424" stroke="#1a1a1a" stroke-width="1.3"/><text x="1610.7" y="1443.8" text-anchor="middle" fill="#111">600</text><path d="M1692.3 1421.5L1692.3 1424" stroke="#1a1a1a" stroke-width="1.3"/><text x="1692.3" y="1443.8" text-anchor="middle" fill="#111">800</text><path d="M1774 1421.5L1774 1424" stroke="#1a1a1a" stroke-width="1.3"/><text x="1774" y="1443.8" text-anchor="middle" fill="#111">1000</text><path d="M1855.6 1421.5L1855.6 1424" stroke="#1a1a1a" stroke-width="1.3"/><text x="1855.6" y="1443.8" text-anchor="middle" fill="#111">1200</text><path d="M1363.3 1421.5L1365.8 1421.5" stroke="#1a1a1a" stroke-width="1.3"/><text x="1355.8" y="1426.3" text-anchor="end" fill="#111">0.0</text><path d="M1363.3 1376.8L1365.8 1376.8" stroke="#1a1a1a" stroke-width="1.3"/><text x="1355.8" y="1381.6" text-anchor="end" fill="#111">0.2</text><path d="M1363.3 1332.1L1365.8 1332.1" stroke="#1a1a1a" stroke-width="1.3"/><text x="1355.8" y="1336.9" text-anchor="end" fill="#111">0.4</text><path d="M1363.3 1287.4L1365.8 1287.4" stroke="#1a1a1a" stroke-width="1.3"/><text x="1355.8" y="1292.2" text-anchor="end" fill="#111">0.6</text><path d="M1363.3 1242.7L1365.8 1242.7" stroke="#1a1a1a" stroke-width="1.3"/><text x="1355.8" y="1247.5" text-anchor="end" fill="#111">0.8</text><path d="M1363.3 1198L1365.8 1198" stroke="#1a1a1a" stroke-width="1.3"/><text x="1355.8" y="1202.8" text-anchor="end" fill="#111">1.0</text><text x="1316.2" y="1310" font-size="19.3" text-anchor="middle" fill="#111" transform="rotate(-90 1316.2 1310)">Normalized intensity (a.u.)</text><text x="1612.2" y="1471.5" font-size="19.7" text-anchor="middle" fill="#111">Distance from the <tspan font-style="italic">MESP2</tspan> peak (μm)</text><g clip-path="url(#pc8)"><path d="M1365.8 1347.9L1376 1286.8L1383.6 1262.2L1391.3 1245L1399 1241.3L1406.6 1243.9L1414.2 1245.7L1421.7 1248.4L1429.5 1244.3L1437.2 1240.6L1444.8 1235.1L1452.3 1228.6L1460 1227.1L1467.6 1226.9L1475.2 1230.7L1482.9 1235.4L1490.7 1239.3L1498.3 1251.9L1505.8 1260.1L1513.4 1275.1L1520.9 1290.7L1528.7 1300.1L1536.4 1305L1544 1306.6L1551.7 1308.8L1559.3 1305.1L1566.9 1309.1L1574.5 1312L1582.1 1312.5L1589.7 1315.5L1597.2 1316.1L1605 1319.3L1612.7 1323L1620.3 1325.6L1627.8 1331.2L1635.4 1331.7L1643 1332.4L1650.7 1336.2L1658.4 1346.7L1666 1356.5L1673.7 1368.2L1681.4 1376.2L1689.1 1382.7L1696.6 1385.4L1704.1 1392.3L1711.7 1392L1719.4 1393.1L1727 1395.9L1734.7 1396.2L1742.4 1395.4L1750 1396L1757.5 1398.8L1765 1397.9L1772.6 1400.6L1780.3 1396.1L1788.3 1400.6L1795.8 1400.5L1803.4 1403.1L1810.8 1382.9L1818.5 1371.8L1826.1 1363.5L1829.9 1361L1829.9 1379.2L1826.1 1381.6L1818.5 1387.4L1810.8 1396.2L1803.4 1418.1L1795.8 1422.6L1788.3 1426.5L1780.3 1419.6L1772.6 1425.1L1765 1430.1L1757.5 1427.1L1750 1428.6L1742.4 1428.4L1734.7 1424.3L1727 1420.4L1719.4 1417.7L1711.7 1414.7L1704.1 1407.6L1696.6 1404.6L1689.1 1397.6L1681.4 1389.5L1673.7 1382.4L1666 1379.8L1658.4 1372.3L1650.7 1363L1643 1363.2L1635.4 1361.9L1627.8 1356.9L1620.3 1357L1612.7 1354L1605 1346.5L1597.2 1337.9L1589.7 1334.2L1582.1 1333L1574.5 1328.4L1566.9 1326.4L1559.3 1323.8L1551.7 1320.3L1544 1322.7L1536.4 1322.9L1528.7 1317.7L1520.9 1316.4L1513.4 1304.2L1505.8 1291.3L1498.3 1278.4L1490.7 1268.8L1482.9 1261.6L1475.2 1255.1L1467.6 1249.9L1460 1247.5L1452.3 1247L1444.8 1253.5L1437.2 1257.6L1429.5 1258.3L1421.7 1260.2L1414.2 1262L1406.6 1263.7L1399 1259.8L1391.3 1266.6L1383.6 1289.3L1376 1315.9L1365.8 1378.9 Z" fill="#a6dde0" fill-opacity="0.42"/><path d="M1365.8 1290.2L1376 1264.8L1383.6 1257.5L1391.2 1261.6L1398.9 1267.2L1406.5 1274.3L1414.1 1284L1421.7 1294.8L1429.3 1292.3L1437 1288.5L1444.8 1278.3L1452.4 1271.6L1460 1259.1L1467.6 1253.8L1475.2 1262.6L1482.9 1264.9L1490.7 1270L1498.3 1279L1505.8 1281.7L1513.4 1291.7L1520.9 1297L1528.7 1297.4L1536.4 1302.7L1543.9 1303.6L1551.4 1311.7L1559 1313.6L1566.7 1314L1574.4 1320.3L1582 1309.6L1589.6 1307.2L1597.2 1294.7L1604.8 1293.8L1612.5 1294.8L1620.1 1306.2L1627.8 1300.5L1635.6 1301.7L1643.2 1301L1650.8 1310.1L1658.5 1324.7L1666 1331.7L1673.6 1339.6L1681.3 1343L1689.1 1344.9L1696.6 1351.5L1704.1 1353.8L1711.7 1356.3L1719.4 1351.6L1727 1343.3L1734.6 1355.3L1742.3 1357.3L1750 1358.9L1757.6 1359.8L1765 1368.4L1772.7 1357.6L1780.5 1346.3L1788 1382.8L1795.6 1375.8L1803.2 1367.9L1810.7 1378.1L1818.4 1375.4L1826 1373.8L1829.9 1373.5L1829.9 1393.6L1826 1395.9L1818.4 1398.8L1810.7 1402.8L1803.2 1394.8L1795.6 1404.3L1788 1410.7L1780.5 1381.5L1772.7 1394L1765 1407.4L1757.6 1398.5L1750 1395.1L1742.3 1395.5L1734.6 1397.9L1727 1380L1719.4 1377.1L1711.7 1376.7L1704.1 1378.4L1696.6 1370.9L1689.1 1369.1L1681.3 1362.6L1673.6 1361L1666 1356.6L1658.5 1351.9L1650.8 1340.5L1643.2 1338.8L1635.6 1344.3L1627.8 1348.2L1620.1 1346.4L1612.5 1341.3L1604.8 1333.4L1597.2 1330L1589.6 1331.4L1582 1342L1574.4 1338.4L1566.7 1340.8L1559 1335.6L1551.4 1332L1543.9 1332.9L1536.4 1324.7L1528.7 1329L1520.9 1327.7L1513.4 1324.6L1505.8 1324.8L1498.3 1316.6L1490.7 1313.5L1482.9 1307.8L1475.2 1298.2L1467.6 1293.3L1460 1287.4L1452.4 1291.8L1444.8 1299.9L1437 1304.8L1429.3 1314.5L1421.7 1320.1L1414.1 1310.8L1406.5 1301.4L1398.9 1294.3L1391.2 1293.6L1383.6 1301.2L1376 1306.1L1365.8 1338.2 Z" fill="#dca6d6" fill-opacity="0.45"/><path d="M1365.8 1195.3L1376.2 1233.1L1383.8 1292.6L1391.3 1349.5L1399.1 1387.4L1406.8 1405L1414.4 1412.7L1421.9 1414.6L1429.5 1416.6L1437 1416.6L1444.6 1417.7L1452.1 1418.3L1459.7 1417.3L1466.8 1417.7L1473.9 1417.3L1481 1417.3L1488.1 1417.2L1495.2 1418.5L1502.3 1418.2L1509.4 1418.3L1516.6 1418.8L1523.7 1419L1530.8 1419.6L1537.9 1419.8L1545 1419.2L1552.1 1420L1559.2 1419.8L1566.3 1419.1L1573.4 1418.9L1580.4 1419.7L1587.5 1418.5L1594.5 1418.6L1601.5 1418.7L1608.5 1417.7L1615.6 1418.3L1622.6 1418.2L1629.6 1418.9L1636.6 1419L1643.7 1419L1650.7 1419.6L1657.7 1418.9L1664.7 1420L1671.8 1420.3L1678.8 1419.6L1685.8 1419.7L1692.9 1419L1699.9 1419.3L1706.9 1419.2L1713.9 1419.2L1721 1418.3L1728 1418L1735 1418.6L1742 1418.4L1749.1 1419.2L1756.1 1418.3L1763.1 1418.9L1770.2 1419.3L1777.2 1419L1784.2 1419.6L1791.2 1420.1L1798.3 1420.1L1805.3 1419.1L1812.3 1419.5L1819.3 1419.1L1826.4 1418.8L1829.9 1418.7L1829.9 1422.9L1826.4 1423L1819.3 1422.8L1812.3 1422.6L1805.3 1422.3L1798.3 1422.2L1791.2 1422.6L1784.2 1422.3L1777.2 1421.8L1770.2 1422.2L1763.1 1422.9L1756.1 1422.6L1749.1 1423L1742 1422.6L1735 1423.3L1728 1423L1721 1423.6L1713.9 1423.6L1706.9 1423.4L1699.9 1423.3L1692.9 1422.3L1685.8 1422.3L1678.8 1422.6L1671.8 1422.1L1664.7 1422L1657.7 1422L1650.7 1422.6L1643.7 1422.4L1636.6 1422.8L1629.6 1423.2L1622.6 1422.8L1615.6 1423.4L1608.5 1422.8L1601.5 1423.4L1594.5 1423.4L1587.5 1422.8L1580.4 1423.1L1573.4 1421.9L1566.3 1422.3L1559.2 1422.8L1552.1 1422.5L1545 1422L1537.9 1422.4L1530.8 1422.2L1523.7 1422.5L1516.6 1422.5L1509.4 1422.5L1502.3 1422.6L1495.2 1422.7L1488.1 1422.1L1481 1421.5L1473.9 1421.7L1466.8 1421.3L1459.7 1421.4L1452.1 1420.8L1444.6 1420.5L1437 1419.1L1429.5 1418.9L1421.9 1416.9L1414.4 1415.4L1406.8 1408.2L1399.1 1391.5L1391.3 1353.8L1383.8 1296.6L1376.2 1238.4L1365.8 1200.7 Z" fill="#f0d49a" fill-opacity="0.45"/><path d="M1365.8 1363.4L1370.9 1331.8L1376 1301.4L1379.8 1287.7L1383.6 1275.7L1387.4 1262.3L1391.3 1255.8L1395.2 1250L1399 1250.5L1402.8 1252.6L1406.6 1253.8L1410.4 1253.8L1414.2 1253.9L1417.9 1253.5L1421.7 1254.3L1425.6 1252.3L1429.5 1251.3L1433.4 1249.9L1437.2 1249.1L1441 1246.5L1444.8 1244.3L1448.6 1240.9L1452.3 1237.8L1456.1 1237.2L1460 1237.3L1463.8 1235.5L1467.6 1238.4L1471.4 1240.3L1475.2 1242.9L1479.1 1245.3L1482.9 1248.5L1486.8 1251.1L1490.7 1254.1L1494.5 1259.9L1498.3 1265.1L1502 1270.2L1505.8 1275.7L1509.6 1283.5L1513.4 1289.6L1517.1 1296L1520.9 1303.6L1524.8 1305.9L1528.7 1308.9L1532.5 1311.9L1536.4 1314L1540.2 1314L1544 1314.7L1547.8 1313.8L1551.7 1314.5L1555.5 1313.7L1559.3 1314.4L1563.1 1316L1566.9 1317.7L1570.7 1319.1L1574.5 1320.2L1578.3 1321.3L1582.1 1322.7L1585.9 1324L1589.7 1324.8L1593.5 1325.2L1597.2 1327L1601.1 1329.6L1605 1332.9L1608.9 1335.4L1612.7 1338.5L1616.5 1339.6L1620.3 1341.3L1624 1342.5L1627.8 1344.1L1631.5 1345.4L1635.4 1346.8L1639.2 1347.8L1643 1347.8L1646.9 1349L1650.7 1349.6L1654.5 1354.6L1658.4 1359.5L1662.2 1363L1666 1368.2L1669.9 1372.1L1673.7 1375.3L1677.6 1379.8L1681.4 1382.9L1685.2 1386.2L1689.1 1390.1L1692.8 1392.3L1696.6 1395L1700.3 1397.5L1704.1 1399.9L1707.8 1402.6L1711.7 1403.4L1715.5 1404.3L1719.4 1405.4L1723.2 1406.5L1727 1408.1L1730.9 1408.8L1734.7 1410.2L1738.5 1410.8L1742.4 1411.9L1746.2 1413.1L1750 1412.3L1753.7 1412.5L1757.5 1412.9L1761.2 1413.5L1765 1414L1768.8 1413.7L1772.6 1412.8L1776.4 1413.1L1780.3 1407.8L1784.2 1404.7L1788.3 1413.6L1792 1413.5L1795.8 1411.6L1799.6 1411.8L1803.4 1410.6L1807 1395.3L1810.8 1389.6L1814.6 1383.9L1818.5 1379.6L1822.3 1376L1826.1 1372.6L1829.9 1370.1" fill="none" stroke="#5cc4cb" stroke-width="2.6" stroke-linejoin="round"/><path d="M1365.8 1314.2L1370.9 1300.2L1376 1285.4L1379.8 1282.6L1383.6 1279.3L1387.4 1276.1L1391.2 1277.6L1395.1 1279.2L1398.9 1280.7L1402.7 1284.8L1406.5 1287.9L1410.3 1291.4L1414.1 1297.4L1417.9 1302L1421.7 1307.4L1425.5 1304.8L1429.3 1303.4L1433.1 1300.5L1437 1296.6L1440.9 1293.4L1444.8 1289.1L1448.7 1284.9L1452.4 1281.7L1456.2 1277.2L1460 1273.3L1463.8 1270.1L1467.6 1273.6L1471.4 1277.3L1475.2 1280.4L1479.1 1283.9L1482.9 1286.4L1486.8 1289.5L1490.7 1291.7L1494.5 1295L1498.3 1297.8L1502 1300.1L1505.8 1303.2L1509.6 1305.6L1513.4 1308.1L1517.1 1310.3L1520.9 1312.3L1524.8 1312.1L1528.7 1313.2L1532.5 1313.9L1536.4 1313.7L1540.2 1316L1543.9 1318.2L1547.7 1320.1L1551.4 1321.9L1555.2 1322.7L1559 1324.6L1562.9 1326.3L1566.7 1327.4L1570.5 1328.3L1574.4 1329.3L1578.2 1328.1L1582 1325.8L1585.8 1323.3L1589.6 1319.3L1593.4 1316.1L1597.2 1312.4L1601 1313L1604.8 1313.6L1608.7 1314L1612.5 1318.1L1616.3 1322.2L1620.1 1326.3L1624 1325.7L1627.8 1324.4L1631.7 1324.3L1635.6 1323L1639.4 1321.3L1643.2 1319.9L1647 1318.6L1650.8 1325.3L1654.6 1332.4L1658.5 1338.3L1662.2 1341.3L1666 1344.1L1669.8 1346.8L1673.6 1350.3L1677.4 1351.2L1681.3 1352.8L1685.2 1355.1L1689.1 1357L1692.8 1359.3L1696.6 1361.2L1700.3 1363.2L1704.1 1366.1L1707.8 1368.1L1711.7 1366.5L1715.5 1365.3L1719.4 1364.4L1723.2 1363.1L1727 1361.7L1730.7 1376.4L1734.6 1376.6L1738.5 1376.7L1742.3 1376.4L1746.2 1377.1L1750 1377L1753.8 1378.8L1757.6 1379.1L1761.3 1383.6L1765 1387.9L1768.9 1382.4L1772.7 1375.8L1776.6 1370L1780.5 1363.9L1784.2 1399.4L1788 1396.8L1791.8 1393.2L1795.6 1390L1799.4 1386.2L1803.2 1381.3L1807 1376.6L1810.7 1390.4L1814.5 1388.8L1818.4 1387.1L1822.2 1386.6L1826 1384.8L1829.9 1383.5" fill="none" stroke="#c25aae" stroke-width="2.6" stroke-linejoin="round"/><path d="M1365.8 1198L1372.3 1209.6L1376.2 1235.7L1380.1 1263.2L1383.8 1294.6L1387.4 1326.7L1391.3 1351.7L1395.2 1377L1399.1 1389.5L1402.9 1402.6L1406.8 1406.6L1410.6 1409.9L1414.4 1414L1418.1 1414.8L1421.9 1415.8L1425.7 1416.6L1429.5 1417.8L1433.2 1418.2L1437 1417.8L1440.8 1418L1444.6 1419.1L1448.4 1418.5L1452.1 1419.6L1455.9 1419.8L1459.7 1419.4L1463.2 1419.9L1466.8 1419.5L1470.3 1420.3L1473.9 1419.5L1477.5 1419.4L1481 1419.4L1484.6 1420.2L1488.1 1419.7L1491.7 1419.8L1495.2 1420.6L1498.8 1420.4L1502.3 1420.4L1505.9 1420.3L1509.4 1420.4L1513 1419.7L1516.6 1420.7L1520.1 1420.1L1523.7 1420.8L1527.2 1420.3L1530.8 1420.9L1534.3 1419.9L1537.9 1421.1L1541.4 1420.1L1545 1420.6L1548.6 1420.6L1552.1 1421.2L1555.7 1420.9L1559.2 1421.3L1562.8 1421.2L1566.3 1420.7L1569.9 1420.4L1573.4 1420.4L1576.9 1421.1L1580.4 1421.4L1583.9 1421L1587.5 1420.6L1591 1420.9L1594.5 1421L1598 1420.5L1601.5 1421.1L1605 1420.5L1608.5 1420.3L1612 1420.3L1615.6 1420.8L1619.1 1421.1L1622.6 1420.5L1626.1 1420.7L1629.6 1421.1L1633.1 1420.5L1636.6 1420.9L1640.2 1421L1643.7 1420.7L1647.2 1420.5L1650.7 1421.1L1654.2 1421.1L1657.7 1420.5L1661.2 1421.2L1664.7 1421L1668.3 1421.3L1671.8 1421.2L1675.3 1420.8L1678.8 1421.1L1682.3 1420.6L1685.8 1421L1689.3 1420.3L1692.9 1420.6L1696.4 1420.8L1699.9 1421.3L1703.4 1421.1L1706.9 1421.3L1710.4 1421.3L1713.9 1421.4L1717.5 1421L1721 1421L1724.5 1420.8L1728 1420.5L1731.5 1421.2L1735 1421L1738.5 1420.4L1742 1420.5L1745.6 1420.5L1749.1 1421.1L1752.6 1420.9L1756.1 1420.5L1759.6 1421.1L1763.1 1420.9L1766.6 1420.5L1770.2 1420.8L1773.7 1421.4L1777.2 1420.4L1780.7 1420.5L1784.2 1420.9L1787.7 1421.2L1791.2 1421.3L1794.8 1420.7L1798.3 1421.2L1801.8 1420.4L1805.3 1420.7L1808.8 1421.3L1812.3 1421L1815.8 1420.8L1819.3 1420.9L1822.9 1420.8L1826.4 1420.9L1829.9 1420.8" fill="none" stroke="#e0b04c" stroke-width="2.6" stroke-linejoin="round"/></g><rect x="1365.8" y="2245.5" width="489.8" height="225.5" fill="none" stroke="#1a1a1a" stroke-width="1.6"/><path d="M1365.8 2471L1365.8 2473.5" stroke="#1a1a1a" stroke-width="1.3"/><text x="1365.8" y="2491.7" text-anchor="middle" fill="#111">0</text><path d="M1488.2 2471L1488.2 2473.5" stroke="#1a1a1a" stroke-width="1.3"/><text x="1488.2" y="2491.7" text-anchor="middle" fill="#111">10</text><path d="M1610.7 2471L1610.7 2473.5" stroke="#1a1a1a" stroke-width="1.3"/><text x="1610.7" y="2491.7" text-anchor="middle" fill="#111">20</text><path d="M1733.1 2471L1733.1 2473.5" stroke="#1a1a1a" stroke-width="1.3"/><text x="1733.1" y="2491.7" text-anchor="middle" fill="#111">30</text><path d="M1855.6 2471L1855.6 2473.5" stroke="#1a1a1a" stroke-width="1.3"/><text x="1854.6" y="2491.7" text-anchor="end" fill="#111">40</text><path d="M1363.3 2461.2L1365.8 2461.2" stroke="#1a1a1a" stroke-width="1.3"/><text x="1356.9" y="2465.5" text-anchor="end" fill="#111">0.00</text><path d="M1363.3 2409.8L1365.8 2409.8" stroke="#1a1a1a" stroke-width="1.3"/><text x="1356.9" y="2414.1" text-anchor="end" fill="#111">0.25</text><path d="M1363.3 2358.5L1365.8 2358.5" stroke="#1a1a1a" stroke-width="1.3"/><text x="1356.9" y="2362.8" text-anchor="end" fill="#111">0.50</text><path d="M1363.3 2307.1L1365.8 2307.1" stroke="#1a1a1a" stroke-width="1.3"/><text x="1356.9" y="2311.4" text-anchor="end" fill="#111">0.75</text><path d="M1363.3 2255.8L1365.8 2255.8" stroke="#1a1a1a" stroke-width="1.3"/><text x="1356.9" y="2260.1" text-anchor="end" fill="#111">1.00</text><text x="1312.7" y="2357.2" font-size="19.3" text-anchor="middle" fill="#111" transform="rotate(-90 1312.7 2357.2)">Luminescence (a.u.)</text><text x="1608.8" y="2513" font-size="19.7" text-anchor="middle" fill="#111"><tspan font-size="21.5">Time (h)</tspan></text><g clip-path="url(#pc9)"><path d="M1365.8 2256.1L1375.5 2262.3L1384.2 2287.2L1391.6 2312.9L1398.9 2331.7L1406 2326.4L1413.6 2315L1422.1 2301L1429.7 2294.3L1436.8 2301.8L1444.8 2321.3L1452.7 2336L1460 2334.4L1467.4 2325L1475.4 2313.9L1483 2307.2L1490.7 2316.4L1497.7 2331L1505.4 2349.5L1513.2 2356.2L1521.1 2352.4L1528.8 2346.8L1536.2 2338.5L1543.9 2335.2L1551.9 2344.2L1559.3 2357.7L1566.6 2372.6L1574.7 2365.8L1582.5 2361.7L1590.1 2358.6L1597.3 2361.1L1604.6 2371.3L1612.3 2381.7L1620.5 2390.9L1627.8 2394.6L1635.2 2394.6L1642.9 2391.6L1651.1 2392.1L1658.2 2392.2L1665.7 2397.1L1673.3 2396.9L1681.3 2399.8L1689.1 2403.1L1696.4 2402.4L1703.7 2401.3L1711.3 2399.3L1719.1 2402.3L1727 2401.7L1734.9 2404.4L1742.8 2408.2L1750.4 2409.2L1757.6 2410.7L1765 2414L1772.8 2414.7L1780.7 2418.2L1788.3 2419.7L1795.6 2419L1802.9 2420.7L1810.8 2419.6L1818.7 2421L1826.3 2420.6L1833.9 2423.4L1840.9 2422.1L1849.4 2421.6L1855.6 2421.4L1855.6 2441.3L1849.4 2441.2L1840.9 2440.8L1833.9 2437L1826.3 2436.1L1818.7 2431.9L1810.8 2430.4L1802.9 2427.6L1795.6 2429.2L1788.3 2429.6L1780.7 2429L1772.8 2428.6L1765 2426.2L1757.6 2428.3L1750.4 2428.4L1742.8 2426L1734.9 2424.1L1727 2421.7L1719.1 2418.1L1711.3 2418.5L1703.7 2416.6L1696.4 2415.8L1689.1 2414.9L1681.3 2412.3L1673.3 2409.2L1665.7 2403.7L1658.2 2404.7L1651.1 2403.4L1642.9 2406.9L1635.2 2409.1L1627.8 2409.1L1620.5 2408.2L1612.3 2401L1604.6 2390.5L1597.3 2378.4L1590.1 2374L1582.5 2377L1574.7 2382.5L1566.6 2383.4L1559.3 2370L1551.9 2352.6L1543.9 2344.9L1536.2 2345.3L1528.8 2354.5L1521.1 2363.5L1513.2 2371.2L1505.4 2365.7L1497.7 2348.6L1490.7 2332.5L1483 2328.4L1475.4 2332.6L1467.4 2345.6L1460 2353.8L1452.7 2352.5L1444.8 2333.9L1436.8 2316.1L1429.7 2306.1L1422.1 2308.8L1413.6 2322.4L1406 2336.1L1398.9 2339.6L1391.6 2323.3L1384.2 2302.7L1375.5 2277.6L1365.8 2271.9 Z" fill="#bfe3ec" fill-opacity="0.55"/><path d="M1365.8 2251.1L1375.6 2263.9L1384.2 2294.8L1391.8 2322.7L1398.8 2338.8L1406.5 2332.4L1414.8 2317.6L1424.2 2305.1L1433.1 2325.6L1440.5 2344L1449.1 2368.5L1456.3 2357.7L1463.7 2335.9L1471.1 2315.8L1479 2322.2L1487 2338.4L1494.8 2359.4L1501.9 2377.1L1509.3 2380.2L1517.6 2371.3L1525 2351.4L1531.8 2360.6L1539.8 2376.3L1548.2 2397.3L1555.8 2403.2L1562.9 2396.3L1570.9 2374.7L1578.9 2352.9L1586.1 2356.2L1593.3 2373L1600.7 2392.9L1608.5 2400.1L1616.6 2393.5L1624.2 2388.3L1631.5 2389.1L1639.2 2390.9L1647.4 2394.2L1655.1 2404.5L1662.1 2415.3L1669.4 2409.7L1677.2 2399.5L1685.4 2390.8L1692.4 2394L1700.1 2403L1708.3 2409.9L1716.1 2418.2L1723.4 2422.3L1730.7 2420.9L1738 2413.2L1745.6 2413L1753.7 2414.7L1761.4 2417.5L1768.6 2423.2L1776.3 2423.4L1784.3 2422.2L1792.2 2421.5L1799.7 2418.9L1807.2 2416L1814.8 2417.3L1822.4 2427.1L1829.9 2433.2L1837.2 2433L1844.9 2432.3L1853 2434.9L1855.6 2435.2L1855.6 2454.2L1853 2453.6L1844.9 2454.7L1837.2 2451.5L1829.9 2448.7L1822.4 2443.2L1814.8 2429.2L1807.2 2424.8L1799.7 2432.7L1792.2 2434.6L1784.3 2437.5L1776.3 2437L1768.6 2437.1L1761.4 2439.3L1753.7 2437.9L1745.6 2435L1738 2438.4L1730.7 2443.6L1723.4 2442.9L1716.1 2436.8L1708.3 2429.2L1700.1 2415.2L1692.4 2407.2L1685.4 2403.9L1677.2 2413.2L1669.4 2423.7L1662.1 2429L1655.1 2416.7L1647.4 2410L1639.2 2405.6L1631.5 2405.9L1624.2 2411.4L1616.6 2415.5L1608.5 2420.3L1600.7 2412.4L1593.3 2391.3L1586.1 2376.5L1578.9 2371.9L1570.9 2387.7L1562.9 2406.3L1555.8 2417.7L1548.2 2408.5L1539.8 2387.7L1531.8 2371L1525 2365.8L1517.6 2384.8L1509.3 2395.1L1501.9 2397L1494.8 2379.6L1487 2357.8L1479 2342.9L1471.1 2339.3L1463.7 2359.4L1456.3 2378L1449.1 2388.1L1440.5 2359L1433.1 2335.6L1424.2 2318L1414.8 2325.2L1406.5 2343.6L1398.8 2352.6L1391.8 2336.3L1384.2 2307.3L1375.6 2279.9L1365.8 2268.7 Z" fill="#ecb4d8" fill-opacity="0.45"/><path d="M1365.8 2246.6L1375.6 2263L1384.2 2291.4L1391.6 2328.3L1398.8 2341.9L1406.2 2336L1414.4 2325.5L1422.2 2321.1L1429.5 2331.2L1436.5 2346.9L1444.2 2353.5L1452.7 2354.6L1460.4 2352.5L1467.4 2344.4L1475.2 2333.3L1482.8 2338.9L1490.7 2357.7L1497.8 2372.6L1505.4 2382.9L1513.8 2381.2L1521.3 2370.1L1528.7 2349.9L1535.7 2361.6L1543.4 2380L1551.4 2394.4L1559.1 2392.6L1566.5 2376.7L1574.2 2369.1L1582.3 2363.7L1590 2369.5L1597.4 2384.5L1604.9 2393.8L1613.1 2397.7L1620.2 2391.4L1627.9 2378.9L1635.7 2378L1643.6 2395.5L1651 2403.8L1657.9 2415.2L1665.7 2414.3L1674 2407.8L1682.1 2398.4L1689.8 2393.4L1696.4 2406.3L1704.4 2415.4L1712.3 2423.2L1719 2428.5L1726.7 2427.4L1735 2416.4L1743.3 2410.5L1751.1 2404.5L1757.6 2412L1764.7 2424.4L1772.3 2433.8L1780.3 2434L1788.3 2432.5L1795.6 2413.9L1802.9 2400.7L1810.9 2418.4L1818.9 2442.9L1826.2 2441.3L1833.6 2435.6L1842.1 2428.3L1849.5 2423.8L1855.6 2406.8L1855.6 2433.4L1849.5 2446.4L1842.1 2454.9L1833.6 2458.1L1826.2 2462.7L1818.9 2457.4L1810.9 2436.9L1802.9 2417.6L1795.6 2428.9L1788.3 2445.3L1780.3 2453.1L1772.3 2451.8L1764.7 2443.7L1757.6 2437L1751.1 2434L1743.3 2434.8L1735 2446.4L1726.7 2453.7L1719 2456.8L1712.3 2447.4L1704.4 2436.5L1696.4 2425.4L1689.8 2413L1682.1 2409L1674 2418.7L1665.7 2429.9L1657.9 2431.1L1651 2423.5L1643.6 2410.3L1635.7 2400.5L1627.9 2400.6L1620.2 2413L1613.1 2425.4L1604.9 2425.2L1597.4 2412.2L1590 2397.2L1582.3 2388.9L1574.2 2387.8L1566.5 2395.9L1559.1 2409.8L1551.4 2408.8L1543.4 2390L1535.7 2376.9L1528.7 2366.4L1521.3 2385.2L1513.8 2396.1L1505.4 2403.6L1497.8 2397.1L1490.7 2384.1L1482.8 2365.7L1475.2 2363.3L1467.4 2373.2L1460.4 2377L1452.7 2379.8L1444.2 2377L1436.5 2365.5L1429.5 2348.9L1422.2 2335.4L1414.4 2336.6L1406.2 2352.6L1398.8 2358.2L1391.6 2341.4L1384.2 2311L1375.6 2284.2L1365.8 2273.2 Z" fill="#f6d690" fill-opacity="0.45"/><path d="M1365.8 2264L1371.9 2261.9L1375.5 2269.9L1379.7 2281.8L1384.2 2295L1387.8 2305.5L1391.6 2318.1L1395.4 2329.3L1398.9 2335.7L1402.6 2336.5L1406 2331.3L1409.9 2324.4L1413.6 2318.7L1417.8 2311.7L1422.1 2304.9L1425.8 2301.1L1429.7 2300.2L1433 2303.2L1436.8 2309L1440.6 2316.9L1444.8 2327.6L1449 2337.5L1452.7 2344.2L1456.6 2346.2L1460 2344.1L1463.8 2339.8L1467.4 2335.3L1471.4 2329.2L1475.4 2323.3L1479.1 2319.4L1483 2317.8L1486.5 2319.4L1490.7 2324.4L1494 2330.7L1497.7 2339.8L1501.6 2349L1505.4 2357.6L1509.1 2362.8L1513.2 2363.7L1517.3 2361.7L1521.1 2357.9L1525 2354.1L1528.8 2350.6L1532.6 2346.4L1536.2 2341.9L1539.7 2340L1543.9 2340.1L1547.8 2343.1L1551.9 2348.4L1555.5 2354.9L1559.3 2363.8L1563.1 2372.4L1566.6 2378L1570.8 2378L1574.7 2374.1L1578.9 2370.8L1582.5 2369.3L1586.3 2367.4L1590.1 2366.3L1593.6 2366.8L1597.3 2369.8L1600.7 2375.3L1604.6 2380.9L1608.2 2385.8L1612.3 2391.3L1616.5 2395.8L1620.5 2399.6L1624.2 2401.4L1627.8 2401.8L1631.5 2401.8L1635.2 2401.9L1639 2401.1L1642.9 2399.2L1646.9 2398.2L1651.1 2397.7L1654.6 2397.6L1658.2 2398.5L1661.9 2399.1L1665.7 2400.4L1669.5 2401.7L1673.3 2403L1677.3 2404.7L1681.3 2406.1L1685.2 2407.7L1689.1 2409L1692.8 2409.3L1696.4 2409.1L1700.1 2408.9L1703.7 2409L1707.4 2408.8L1711.3 2408.9L1715.2 2409.8L1719.1 2410.2L1723.1 2411L1727 2411.7L1731 2413L1734.9 2414.2L1738.9 2415.5L1742.8 2417.1L1746.6 2417.8L1750.4 2418.8L1754 2418.8L1757.6 2419.5L1761.3 2419.8L1765 2420.1L1768.8 2421L1772.8 2421.7L1776.8 2422.9L1780.7 2423.6L1784.6 2424.1L1788.3 2424.7L1792 2424.3L1795.6 2424.1L1799.2 2424.3L1802.9 2424.1L1806.8 2424.7L1810.8 2425L1814.7 2426L1818.7 2426.4L1822.5 2427.1L1826.3 2428.3L1830.1 2428.9L1833.9 2430.2L1837.5 2431.1L1840.9 2431.5L1845.2 2431.4L1849.4 2431.4L1853 2431.3L1855.6 2431.4" fill="none" stroke="#88c8d8" stroke-width="2.6" stroke-linejoin="round"/><path d="M1365.8 2259.9L1371.9 2262.2L1375.6 2271.9L1379.9 2286.7L1384.2 2301L1388.1 2315.4L1391.8 2329.5L1395.2 2339.7L1398.8 2345.7L1402.5 2344.2L1406.5 2338L1411.1 2329.1L1414.8 2321.4L1419.7 2307.1L1424.2 2311.6L1429.5 2321.2L1433.1 2330.6L1437 2340.9L1440.5 2351.5L1444.8 2367.4L1449.1 2378.3L1452.6 2375.4L1456.3 2367.9L1460.1 2358.8L1463.7 2347.7L1467.3 2334.9L1471.1 2327.6L1475 2327.4L1479 2332.6L1483.4 2339.8L1487 2348.1L1491 2358.8L1494.8 2369.5L1498 2378.3L1501.9 2387.1L1505.4 2389.2L1509.3 2387.7L1513.7 2383.2L1517.6 2378L1521.4 2366.5L1525 2358.6L1528.2 2360.1L1531.8 2365.8L1536 2373.9L1539.8 2382L1544 2392.7L1548.2 2402.9L1551.9 2408.5L1555.8 2410.4L1559.1 2408.1L1562.9 2401.3L1566.7 2392.7L1570.9 2381.2L1575.1 2369.6L1578.9 2362.4L1582.8 2361.4L1586.1 2366.3L1589.9 2373.7L1593.3 2382.1L1596.9 2392.8L1600.7 2402.7L1604.6 2409.1L1608.5 2410.2L1612.5 2407.9L1616.6 2404.5L1620.5 2401.9L1624.2 2399.8L1627.8 2398.5L1631.5 2397.5L1635.2 2397.6L1639.2 2398.3L1643.4 2399.6L1647.4 2402.1L1651.1 2404.6L1655.1 2410.6L1658.6 2417.9L1662.1 2422.1L1665.8 2421L1669.4 2416.7L1673.1 2411.8L1677.2 2406.4L1681.4 2400.8L1685.4 2397.4L1689 2397.6L1692.4 2400.6L1696.4 2404.5L1700.1 2409.1L1704.1 2414.4L1708.3 2419.5L1712.3 2424.3L1716.1 2427.5L1719.8 2430.5L1723.4 2432.6L1727 2433.4L1730.7 2432.2L1734.3 2429.3L1738 2425.8L1741.7 2424.2L1745.6 2424L1749.7 2424.7L1753.7 2426.3L1757.6 2427.3L1761.4 2428.4L1765 2429L1768.6 2430.1L1772.3 2430.4L1776.3 2430.2L1780.3 2430.5L1784.3 2429.8L1788.3 2429.4L1792.2 2428L1796.1 2426.6L1799.7 2425.8L1802.9 2423.9L1807.2 2420.4L1811.5 2419.9L1814.8 2423.3L1818.5 2429.3L1822.4 2435.1L1826.2 2439.1L1829.9 2441L1833.6 2442.2L1837.2 2442.2L1840.9 2442.4L1844.9 2443.5L1849.2 2443.9L1853 2444.3L1855.6 2444.7" fill="none" stroke="#cc6cb0" stroke-width="2.6" stroke-linejoin="round"/><path d="M1365.8 2259.9L1371.9 2264.2L1375.6 2273.6L1379.9 2286.5L1384.2 2301.2L1387.9 2317.4L1391.6 2334.8L1395.2 2347L1398.8 2350L1402.4 2347.9L1406.2 2344.3L1410.2 2338.2L1414.4 2331L1418.5 2326.3L1422.2 2328.2L1425.8 2333.5L1429.5 2340L1433 2347.3L1436.5 2356.2L1440.5 2362.6L1444.2 2365.3L1448.5 2366.8L1452.7 2367.2L1456.4 2367L1460.4 2364.7L1463.9 2361.8L1467.4 2358.8L1471.3 2353.6L1475.2 2348.3L1479.1 2347.2L1482.8 2352.3L1486.6 2362L1490.7 2370.9L1494.1 2377.1L1497.8 2384.9L1501.6 2390.5L1505.4 2393.2L1509.5 2392.4L1513.8 2388.6L1517.9 2382.9L1521.3 2377.6L1525.1 2365.4L1528.7 2358.2L1531.9 2362.1L1535.7 2369.3L1539.7 2378.2L1543.4 2385L1547.5 2393.5L1551.4 2401.6L1555.6 2404.4L1559.1 2401.2L1562.7 2394.1L1566.5 2386.3L1570.3 2381.2L1574.2 2378.5L1578.3 2376.3L1582.3 2376.3L1586.2 2377.9L1590 2383.3L1593.8 2390.7L1597.4 2398.4L1600.9 2404.9L1604.9 2409.5L1608.7 2412.3L1613.1 2411.5L1616.5 2408.5L1620.2 2402.2L1624.1 2395.2L1627.9 2389.8L1631.5 2387.4L1635.7 2389.2L1639.7 2395.7L1643.6 2402.9L1647.4 2409.1L1651 2413.7L1654.3 2419.3L1657.9 2423.2L1662.1 2424.4L1665.7 2422.1L1669.7 2418.2L1674 2413.3L1678.2 2407.7L1682.1 2403.7L1685.4 2401.9L1689.8 2403.2L1692.8 2409.8L1696.4 2415.9L1700.2 2420.7L1704.4 2425.9L1708.6 2431.4L1712.3 2435.3L1715.9 2439.9L1719 2442.6L1723.4 2443L1726.7 2440.6L1730.7 2436.5L1735 2431.4L1739.3 2426.6L1743.3 2422.6L1746.6 2419.8L1751.1 2419.3L1754.1 2420.7L1757.6 2424.5L1761 2428.1L1764.7 2434L1768.5 2439.5L1772.3 2442.8L1776.3 2443.9L1780.3 2443.6L1784.3 2442.3L1788.3 2438.9L1792 2431.9L1795.6 2421.4L1799.2 2412.2L1802.9 2409.1L1806.9 2415L1810.9 2427.7L1814.9 2441.4L1818.9 2450.2L1822.6 2452.7L1826.2 2452L1829.8 2449.1L1833.6 2446.9L1837.7 2444.5L1842.1 2441.6L1846.2 2438.9L1849.5 2435.1L1855.6 2420.1" fill="none" stroke="#ecb03c" stroke-width="2.6" stroke-linejoin="round"/></g><text x="1379.3" y="2463.9" font-size="22.5" fill="#111">+MG +RAL</text><path d="M355.5 583.6L381.5 583.6" stroke="#d8452f" stroke-width="3.3"/><text x="386.5" y="590.3" fill="#111"><tspan font-style="italic">HES7</tspan> KO2 MEOX1</text><path d="M355.5 607.2L381.5 607.2" stroke="#5bbcc4" stroke-width="3.3"/><text x="386.5" y="613.9" fill="#111"><tspan font-style="italic">HES7</tspan> KO2 TBXT</text><path d="M966 581.5L992 581.5" stroke="#d8452f" stroke-width="3.3"/><text x="995.5" y="588.2" fill="#111"><tspan font-style="italic">HES7</tspan><tspan font-size="12" dy="-8">R25W</tspan><tspan dy="8"> Mt2 MEOX1</tspan></text><path d="M966 605.1L992 605.1" stroke="#5bbcc4" stroke-width="3.3"/><text x="995.5" y="611.8" fill="#111"><tspan font-style="italic">HES7</tspan><tspan font-size="12" dy="-8">R25W</tspan><tspan dy="8"> Mt2 TBXT</tspan></text><path d="M1622 583.6L1648 583.6" stroke="#d8452f" stroke-width="3.3"/><text x="1651.5" y="590.3" fill="#111"><tspan font-style="italic">MESP2</tspan> KO2 MEOX1</text><path d="M1622 607.2L1648 607.2" stroke="#5bbcc4" stroke-width="3.3"/><text x="1651.5" y="613.9" fill="#111"><tspan font-style="italic">MESP2</tspan> KO2 TBXT</text><path d="M472.5 1212L498.5 1212" stroke="#5bbcc4" stroke-width="3.3"/><text x="505" y="1218.7" fill="#111"><tspan font-style="italic">UNCX</tspan></text><path d="M472.5 1231L498.5 1231" stroke="#c25aae" stroke-width="3.3"/><text x="505" y="1237.7" fill="#111"><tspan font-style="italic">TBX18</tspan></text><path d="M472.5 1250L498.5 1250" stroke="#ddaa40" stroke-width="3.3"/><text x="505" y="1256.7" fill="#111"><tspan font-style="italic">MESP2</tspan></text><path d="M1105.4 1212L1131.4 1212" stroke="#5bbcc4" stroke-width="3.3"/><text x="1137.9" y="1218.7" fill="#111"><tspan font-style="italic">UNCX</tspan></text><path d="M1105.4 1231L1131.4 1231" stroke="#c25aae" stroke-width="3.3"/><text x="1137.9" y="1237.7" fill="#111"><tspan font-style="italic">TBX18</tspan></text><path d="M1105.4 1250L1131.4 1250" stroke="#ddaa40" stroke-width="3.3"/><text x="1137.9" y="1256.7" fill="#111"><tspan font-style="italic">MESP2</tspan></text><path d="M1752.7 1212L1778.7 1212" stroke="#5bbcc4" stroke-width="3.3"/><text x="1785.2" y="1218.7" fill="#111"><tspan font-style="italic">UNCX</tspan></text><path d="M1752.7 1231L1778.7 1231" stroke="#c25aae" stroke-width="3.3"/><text x="1785.2" y="1237.7" fill="#111"><tspan font-style="italic">TBX18</tspan></text><path d="M1752.7 1250L1778.7 1250" stroke="#ddaa40" stroke-width="3.3"/><text x="1785.2" y="1256.7" fill="#111"><tspan font-style="italic">MESP2</tspan></text><path d="M402.5 2262.8L453.3 2262.8" stroke="#88c8d8" stroke-width="3.3"/><text x="461" y="2267.8" fill="#111">201B7 Luc</text><path d="M402.5 2287.6L453.3 2287.6" stroke="#cc6cb0" stroke-width="3.3"/><text x="461" y="2292.6" fill="#111"><tspan font-style="italic">HES7</tspan> KO1</text><path d="M402.5 2312.4L453.3 2312.4" stroke="#ecb03c" stroke-width="3.3"/><text x="461" y="2317.4" fill="#111"><tspan font-style="italic">HES7</tspan> KO2</text><path d="M1013 2262.8L1063.8 2262.8" stroke="#88c8d8" stroke-width="3.3"/><text x="1070" y="2267.8" fill="#111">201B7 Luc</text><path d="M1013 2287.6L1063.8 2287.6" stroke="#cc6cb0" stroke-width="3.3"/><text x="1070" y="2292.6" fill="#111"><tspan font-style="italic">HES7</tspan><tspan font-size="12" dy="-8">R25W</tspan><tspan dy="8"> Mt1</tspan></text><path d="M1013 2312.4L1063.8 2312.4" stroke="#ecb03c" stroke-width="3.3"/><text x="1070" y="2317.4" fill="#111"><tspan font-style="italic">HES7</tspan><tspan font-size="12" dy="-8">R25W</tspan><tspan dy="8"> Mt2</tspan></text><path d="M1662 2262.8L1712.8 2262.8" stroke="#88c8d8" stroke-width="3.3"/><text x="1722" y="2267.8" fill="#111">201B7 Luc</text><path d="M1662 2287.6L1712.8 2287.6" stroke="#cc6cb0" stroke-width="3.3"/><text x="1722" y="2292.6" fill="#111"><tspan font-style="italic">MESP2</tspan> KO1</text><path d="M1662 2312.4L1712.8 2312.4" stroke="#ecb03c" stroke-width="3.3"/><text x="1722" y="2317.4" fill="#111"><tspan font-style="italic">MESP2</tspan> KO2</text><rect x="90.6" y="1558.9" width="490" height="253.9" fill="none" stroke="#1d1a2a" stroke-width="2.6"/><path d="M96.4 1813.5L96.4 1817.5" stroke="#1a1a1a" stroke-width="1.3"/><text x="96.4" y="1837.5" text-anchor="middle" fill="#111">0</text><path d="M196.8 1813.5L196.8 1817.5" stroke="#1a1a1a" stroke-width="1.3"/><text x="196.8" y="1837.5" text-anchor="middle" fill="#111">10</text><path d="M297.2 1813.5L297.2 1817.5" stroke="#1a1a1a" stroke-width="1.3"/><text x="297.2" y="1837.5" text-anchor="middle" fill="#111">20</text><path d="M397.6 1813.5L397.6 1817.5" stroke="#1a1a1a" stroke-width="1.3"/><text x="397.6" y="1837.5" text-anchor="middle" fill="#111">30</text><path d="M498 1813.5L498 1817.5" stroke="#1a1a1a" stroke-width="1.3"/><text x="498" y="1837.5" text-anchor="middle" fill="#111">40</text><path d="M85.7 1811.4L89.9 1811.4" stroke="#1a1a1a" stroke-width="1.3"/><text x="84.2" y="1818.6" text-anchor="end" fill="#111">0</text><path d="M85.7 1697.5L89.9 1697.5" stroke="#1a1a1a" stroke-width="1.3"/><text x="84.2" y="1704.7" text-anchor="end" fill="#111">200</text><path d="M85.7 1583.6L89.9 1583.6" stroke="#1a1a1a" stroke-width="1.3"/><text x="84.2" y="1590.8" text-anchor="end" fill="#111">400</text><text x="336.6" y="1863.2" font-size="21.5" text-anchor="middle" fill="#111">Time (h)</text><text x="39.3" y="1686.1" font-size="19.2" text-anchor="middle" fill="#111" transform="rotate(-90 39.3 1686.1)">Distance (μm)</text><text x="104" y="1804.9" font-size="26" font-weight="bold" fill="#fff">+MG +RAL</text><text x="565.5" y="1588.5" font-size="28.4" font-weight="bold" text-anchor="end" fill="#fff"><tspan font-style="italic">HES7</tspan> KO1</text><rect x="611.2" y="1620.8" width="19.5" height="136" fill="url(#cb11)" /><text x="602.2" y="1686.8" font-size="16.2" text-anchor="middle" fill="#111" transform="rotate(-90 602.2 1686.8)">Luminescence (a.u.)</text><rect x="90.6" y="1878.7" width="490" height="262.4" fill="none" stroke="#1d1a2a" stroke-width="2.6"/><path d="M96.4 2141.8L96.4 2145.8" stroke="#1a1a1a" stroke-width="1.3"/><text x="96.4" y="2165.8" text-anchor="middle" fill="#111">0</text><path d="M196.8 2141.8L196.8 2145.8" stroke="#1a1a1a" stroke-width="1.3"/><text x="196.8" y="2165.8" text-anchor="middle" fill="#111">10</text><path d="M297.2 2141.8L297.2 2145.8" stroke="#1a1a1a" stroke-width="1.3"/><text x="297.2" y="2165.8" text-anchor="middle" fill="#111">20</text><path d="M397.6 2141.8L397.6 2145.8" stroke="#1a1a1a" stroke-width="1.3"/><text x="397.6" y="2165.8" text-anchor="middle" fill="#111">30</text><path d="M498 2141.8L498 2145.8" stroke="#1a1a1a" stroke-width="1.3"/><text x="498" y="2165.8" text-anchor="middle" fill="#111">40</text><path d="M85.7 2139.2L89.9 2139.2" stroke="#1a1a1a" stroke-width="1.3"/><text x="84.2" y="2146.4" text-anchor="end" fill="#111">0</text><path d="M85.7 2065.5L89.9 2065.5" stroke="#1a1a1a" stroke-width="1.3"/><text x="84.2" y="2072.7" text-anchor="end" fill="#111">100</text><path d="M85.7 1991.8L89.9 1991.8" stroke="#1a1a1a" stroke-width="1.3"/><text x="84.2" y="1999" text-anchor="end" fill="#111">200</text><path d="M85.7 1918.1L89.9 1918.1" stroke="#1a1a1a" stroke-width="1.3"/><text x="84.2" y="1925.3" text-anchor="end" fill="#111">300</text><text x="336.6" y="2191.5" font-size="21.5" text-anchor="middle" fill="#111">Time (h)</text><text x="39.3" y="2010.2" font-size="19.2" text-anchor="middle" fill="#111" transform="rotate(-90 39.3 2010.2)">Distance (μm)</text><text x="104" y="2133.2" font-size="26" font-weight="bold" fill="#fff">+MG +RAL</text><text x="565.5" y="1908.3" font-size="28.4" font-weight="bold" text-anchor="end" fill="#fff"><tspan font-style="italic">HES7</tspan> KO2</text><rect x="611.2" y="1944.9" width="19.5" height="136" fill="url(#cb12)" /><text x="602.2" y="2010.9" font-size="16.2" text-anchor="middle" fill="#111" transform="rotate(-90 602.2 2010.9)">Luminescence (a.u.)</text><rect x="724.4" y="1558.9" width="489.8" height="253.1" fill="none" stroke="#1d1a2a" stroke-width="2.6"/><path d="M726.6 1812.7L726.6 1816.7" stroke="#1a1a1a" stroke-width="1.3"/><text x="726.6" y="1836.7" text-anchor="middle" fill="#111">0</text><path d="M826.9 1812.7L826.9 1816.7" stroke="#1a1a1a" stroke-width="1.3"/><text x="826.9" y="1836.7" text-anchor="middle" fill="#111">10</text><path d="M927.2 1812.7L927.2 1816.7" stroke="#1a1a1a" stroke-width="1.3"/><text x="927.2" y="1836.7" text-anchor="middle" fill="#111">20</text><path d="M1027.5 1812.7L1027.5 1816.7" stroke="#1a1a1a" stroke-width="1.3"/><text x="1027.5" y="1836.7" text-anchor="middle" fill="#111">30</text><path d="M1127.8 1812.7L1127.8 1816.7" stroke="#1a1a1a" stroke-width="1.3"/><text x="1127.8" y="1836.7" text-anchor="middle" fill="#111">40</text><path d="M719.5 1811.4L723.7 1811.4" stroke="#1a1a1a" stroke-width="1.3"/><text x="718" y="1818.6" text-anchor="end" fill="#111">0</text><path d="M719.5 1717.5L723.7 1717.5" stroke="#1a1a1a" stroke-width="1.3"/><text x="718" y="1724.7" text-anchor="end" fill="#111">200</text><path d="M719.5 1623.6L723.7 1623.6" stroke="#1a1a1a" stroke-width="1.3"/><text x="718" y="1630.8" text-anchor="end" fill="#111">400</text><text x="970.3" y="1862.4" font-size="21.5" text-anchor="middle" fill="#111">Time (h)</text><text x="672.4" y="1685.8" font-size="19.2" text-anchor="middle" fill="#111" transform="rotate(-90 672.4 1685.8)">Distance (μm)</text><text x="739.4" y="1804.1" font-size="26" font-weight="bold" fill="#fff">+MG +RAL</text><text x="1199.1" y="1588.5" font-size="28.4" font-weight="bold" text-anchor="end" fill="#fff"><tspan font-style="italic">HES7</tspan><tspan font-size="19" dy="-11">R25W</tspan><tspan dy="11"> Mt1</tspan></text><rect x="1244.8" y="1620.5" width="19.5" height="136" fill="url(#cb13)" /><text x="1235.8" y="1686.5" font-size="16.2" text-anchor="middle" fill="#111" transform="rotate(-90 1235.8 1686.5)">Luminescence (a.u.)</text><rect x="724.4" y="1878.7" width="489.8" height="262.1" fill="none" stroke="#1d1a2a" stroke-width="2.6"/><path d="M728.3 2141.5L728.3 2145.5" stroke="#1a1a1a" stroke-width="1.3"/><text x="728.3" y="2165.5" text-anchor="middle" fill="#111">0</text><path d="M828.8 2141.5L828.8 2145.5" stroke="#1a1a1a" stroke-width="1.3"/><text x="828.8" y="2165.5" text-anchor="middle" fill="#111">10</text><path d="M929.3 2141.5L929.3 2145.5" stroke="#1a1a1a" stroke-width="1.3"/><text x="929.3" y="2165.5" text-anchor="middle" fill="#111">20</text><path d="M1029.7 2141.5L1029.7 2145.5" stroke="#1a1a1a" stroke-width="1.3"/><text x="1029.7" y="2165.5" text-anchor="middle" fill="#111">30</text><path d="M1130.2 2141.5L1130.2 2145.5" stroke="#1a1a1a" stroke-width="1.3"/><text x="1130.2" y="2165.5" text-anchor="middle" fill="#111">40</text><path d="M719.5 2137.4L723.7 2137.4" stroke="#1a1a1a" stroke-width="1.3"/><text x="718" y="2144.6" text-anchor="end" fill="#111">0</text><path d="M719.5 2044.2L723.7 2044.2" stroke="#1a1a1a" stroke-width="1.3"/><text x="718" y="2051.4" text-anchor="end" fill="#111">200</text><path d="M719.5 1951L723.7 1951" stroke="#1a1a1a" stroke-width="1.3"/><text x="718" y="1958.2" text-anchor="end" fill="#111">400</text><text x="970.3" y="2191.2" font-size="21.5" text-anchor="middle" fill="#111">Time (h)</text><text x="672.4" y="2010" font-size="19.2" text-anchor="middle" fill="#111" transform="rotate(-90 672.4 2010)">Distance (μm)</text><text x="739.4" y="2132.9" font-size="26" font-weight="bold" fill="#fff">+MG +RAL</text><text x="1199.1" y="1908.3" font-size="28.4" font-weight="bold" text-anchor="end" fill="#fff"><tspan font-style="italic">HES7</tspan><tspan font-size="19" dy="-11">R25W</tspan><tspan dy="11"> Mt2</tspan></text><rect x="1244.8" y="1944.8" width="19.5" height="136" fill="url(#cb14)" /><text x="1235.8" y="2010.8" font-size="16.2" text-anchor="middle" fill="#111" transform="rotate(-90 1235.8 2010.8)">Luminescence (a.u.)</text><rect x="1366.2" y="1558.9" width="489.2" height="253.1" fill="none" stroke="#1d1a2a" stroke-width="2.6"/><path d="M1367.5 1812.7L1367.5 1816.7" stroke="#1a1a1a" stroke-width="1.3"/><text x="1367.5" y="1836.7" text-anchor="middle" fill="#111">0</text><path d="M1467.6 1812.7L1467.6 1816.7" stroke="#1a1a1a" stroke-width="1.3"/><text x="1467.6" y="1836.7" text-anchor="middle" fill="#111">10</text><path d="M1567.7 1812.7L1567.7 1816.7" stroke="#1a1a1a" stroke-width="1.3"/><text x="1567.7" y="1836.7" text-anchor="middle" fill="#111">20</text><path d="M1667.9 1812.7L1667.9 1816.7" stroke="#1a1a1a" stroke-width="1.3"/><text x="1667.9" y="1836.7" text-anchor="middle" fill="#111">30</text><path d="M1768 1812.7L1768 1816.7" stroke="#1a1a1a" stroke-width="1.3"/><text x="1768" y="1836.7" text-anchor="middle" fill="#111">40</text><path d="M1361.3 1811.1L1365.5 1811.1" stroke="#1a1a1a" stroke-width="1.3"/><text x="1359.8" y="1818.3" text-anchor="end" fill="#111">0</text><path d="M1361.3 1728.5L1365.5 1728.5" stroke="#1a1a1a" stroke-width="1.3"/><text x="1359.8" y="1735.7" text-anchor="end" fill="#111">200</text><path d="M1361.3 1646L1365.5 1646" stroke="#1a1a1a" stroke-width="1.3"/><text x="1359.8" y="1653.2" text-anchor="end" fill="#111">400</text><text x="1611.8" y="1862.4" font-size="21.5" text-anchor="middle" fill="#111">Time (h)</text><text x="1312" y="1685.8" font-size="19.2" text-anchor="middle" fill="#111" transform="rotate(-90 1312 1685.8)">Distance (μm)</text><text x="1374.8" y="1804.1" font-size="26" font-weight="bold" fill="#fff">+MG +RAL</text><text x="1843.3" y="1588.5" font-size="28.4" font-weight="bold" text-anchor="end" fill="#fff"><tspan font-style="italic">MESP2</tspan> KO1</text><rect x="1886" y="1620.5" width="19.5" height="136" fill="url(#cb15)" /><text x="1877" y="1686.5" font-size="16.2" text-anchor="middle" fill="#111" transform="rotate(-90 1877 1686.5)">Luminescence (a.u.)</text><rect x="1366.2" y="1876.7" width="489.2" height="262.4" fill="none" stroke="#1d1a2a" stroke-width="2.6"/><path d="M1367.5 2139.8L1367.5 2143.8" stroke="#1a1a1a" stroke-width="1.3"/><text x="1367.5" y="2163.8" text-anchor="middle" fill="#111">0</text><path d="M1468.9 2139.8L1468.9 2143.8" stroke="#1a1a1a" stroke-width="1.3"/><text x="1468.9" y="2163.8" text-anchor="middle" fill="#111">10</text><path d="M1570.3 2139.8L1570.3 2143.8" stroke="#1a1a1a" stroke-width="1.3"/><text x="1570.3" y="2163.8" text-anchor="middle" fill="#111">20</text><path d="M1671.6 2139.8L1671.6 2143.8" stroke="#1a1a1a" stroke-width="1.3"/><text x="1671.6" y="2163.8" text-anchor="middle" fill="#111">30</text><path d="M1773 2139.8L1773 2143.8" stroke="#1a1a1a" stroke-width="1.3"/><text x="1773" y="2163.8" text-anchor="middle" fill="#111">40</text><path d="M1361.3 2139.8L1365.5 2139.8" stroke="#1a1a1a" stroke-width="1.3"/><text x="1359.8" y="2147" text-anchor="end" fill="#111">0</text><path d="M1361.3 2065.2L1365.5 2065.2" stroke="#1a1a1a" stroke-width="1.3"/><text x="1359.8" y="2072.4" text-anchor="end" fill="#111">200</text><path d="M1361.3 1990.6L1365.5 1990.6" stroke="#1a1a1a" stroke-width="1.3"/><text x="1359.8" y="1997.8" text-anchor="end" fill="#111">400</text><path d="M1361.3 1916L1365.5 1916" stroke="#1a1a1a" stroke-width="1.3"/><text x="1359.8" y="1923.2" text-anchor="end" fill="#111">600</text><text x="1611.8" y="2189.5" font-size="21.5" text-anchor="middle" fill="#111">Time (h)</text><text x="1312" y="2008.2" font-size="19.2" text-anchor="middle" fill="#111" transform="rotate(-90 1312 2008.2)">Distance (μm)</text><text x="1374.8" y="2131.2" font-size="26" font-weight="bold" fill="#fff">+MG +RAL</text><text x="1843.3" y="1906.3" font-size="28.4" font-weight="bold" text-anchor="end" fill="#fff"><tspan font-style="italic">MESP2</tspan> KO2</text><rect x="1886" y="1942.9" width="19.5" height="136" fill="url(#cb16)" /><text x="1877" y="2008.9" font-size="16.2" text-anchor="middle" fill="#111" transform="rotate(-90 1877 2008.9)">Luminescence (a.u.)</text></svg></body></html>
